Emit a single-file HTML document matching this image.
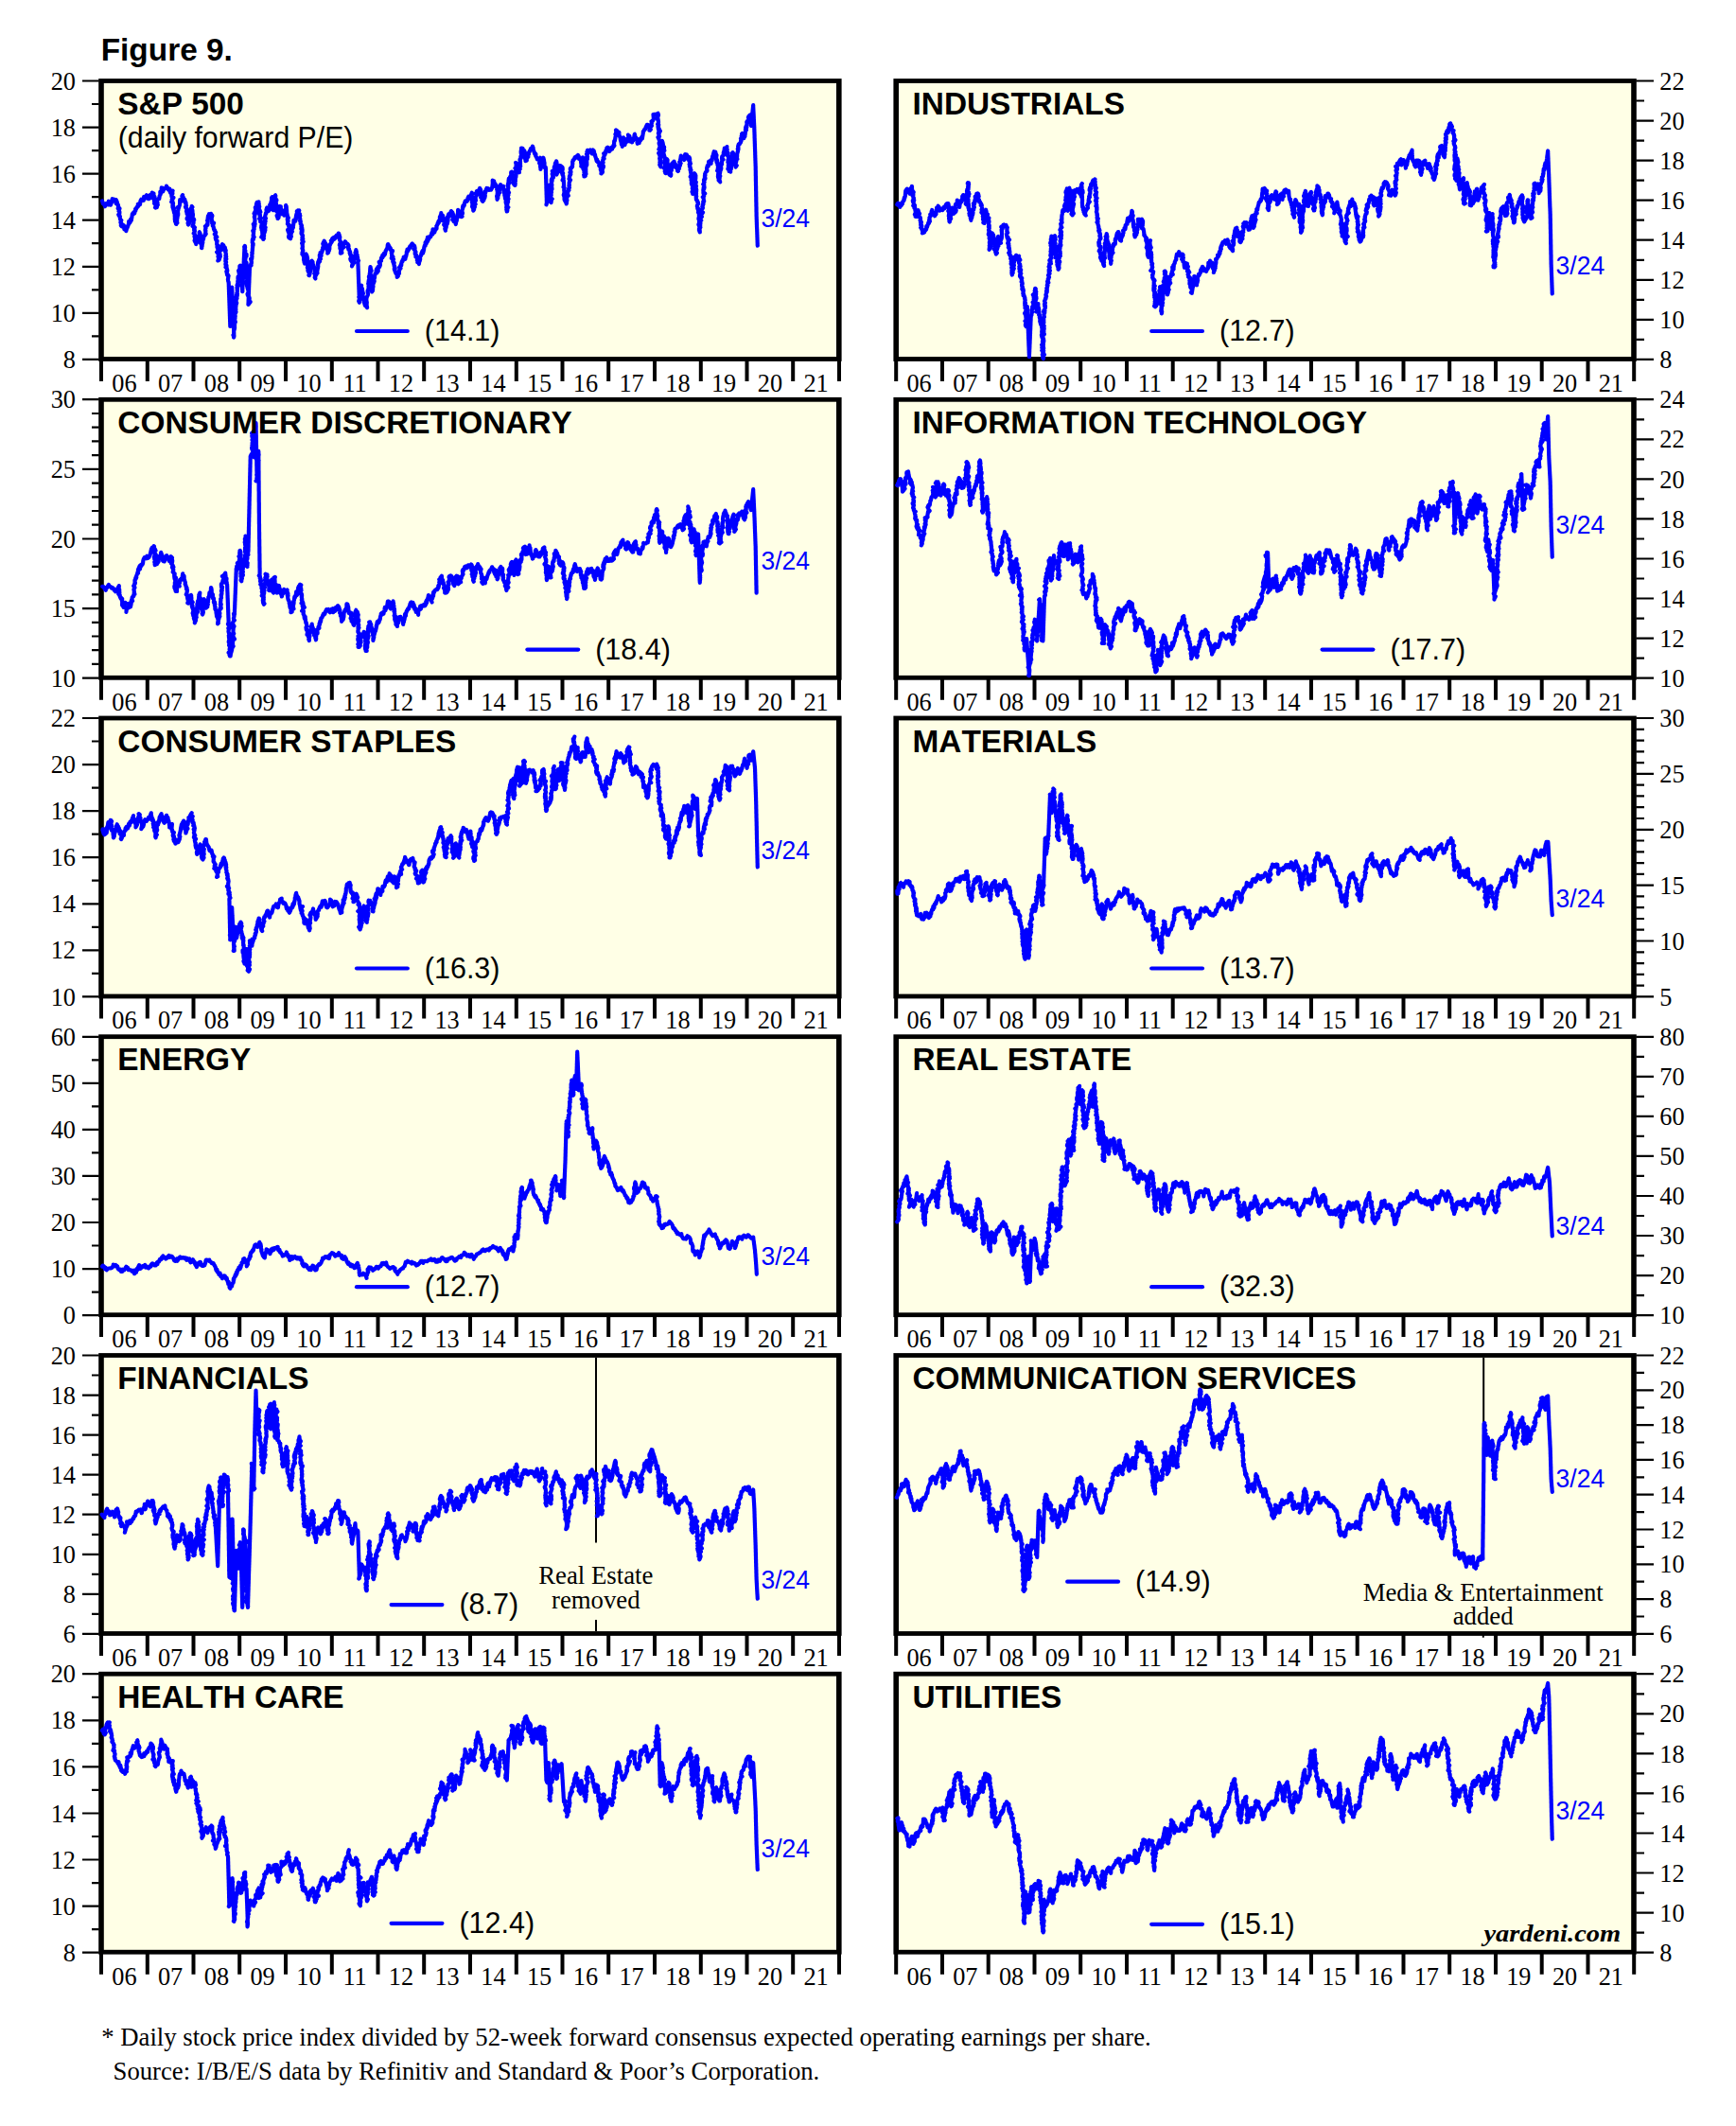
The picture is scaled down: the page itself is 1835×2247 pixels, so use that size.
<!DOCTYPE html>
<html lang="en"><head><meta charset="utf-8"><title>Figure 9. S&amp;P 500 Sectors Forward P/E</title>
<style>html,body{margin:0;padding:0;background:#fff}body{width:1835px;height:2247px;overflow:hidden}svg{display:block}.t{font-family:'Liberation Sans', Arial, Helvetica, sans-serif;font-weight:bold;font-size:33.4px;font-kerning:none;fill:#000}.s{font-family:'Liberation Sans', Arial, Helvetica, sans-serif;font-size:30.5px;fill:#000}.lg{font-family:'Liberation Sans', Arial, Helvetica, sans-serif;font-size:30.5px;fill:#000}.d{font-family:'Liberation Sans', Arial, Helvetica, sans-serif;font-size:27.5px;fill:#0000ff}.ax{font-family:'Liberation Serif', 'Times New Roman', Times, serif;font-size:26.3px;fill:#000}.an{font-family:'Liberation Serif', 'Times New Roman', Times, serif;font-size:26.75px;fill:#000}.ft{font-family:'Liberation Serif', 'Times New Roman', Times, serif;font-size:26.7px;fill:#000}.yd{font-family:'Liberation Serif', 'Times New Roman', Times, serif;font-size:25.3px;font-weight:bold;font-style:italic;fill:#000}.ln{fill:none;stroke:#0000ff;stroke-width:4.2;stroke-linejoin:round;stroke-linecap:round}</style></head><body>
<svg width="1835" height="2247" viewBox="0 0 1835 2247">
<rect x="0" y="0" width="1835" height="2247" fill="#ffffff"/>
<text class="t" x="106.7" y="63.7">Figure 9.</text>
<g id="panel1">
<rect x="104.2" y="83.1" width="785.4" height="298.8" fill="#000"/>
<rect x="109.8" y="87.9" width="774.2" height="289.2" fill="#ffffe6"/>
<path d="M87 379.9H104.7M97 355.4H104.7M87 330.8H104.7M97 306.3H104.7M87 281.8H104.7M97 257.2H104.7M87 232.7H104.7M97 208.2H104.7M87 183.6H104.7M97 159.1H104.7M87 134.6H104.7M97 110H104.7M87 85.5H104.7" stroke="#000" stroke-width="2.2" fill="none"/>
<text class="ax" x="80" y="389" text-anchor="end">8</text>
<text class="ax" x="80" y="339.9" text-anchor="end">10</text>
<text class="ax" x="80" y="290.9" text-anchor="end">12</text>
<text class="ax" x="80" y="241.8" text-anchor="end">14</text>
<text class="ax" x="80" y="192.7" text-anchor="end">16</text>
<text class="ax" x="80" y="143.7" text-anchor="end">18</text>
<text class="ax" x="80" y="94.6" text-anchor="end">20</text>
<path d="M107 380.9V402.9M155.8 380.9V402.9M204.5 380.9V402.9M253.2 380.9V402.9M302 380.9V402.9M350.8 380.9V402.9M399.5 380.9V402.9M448.2 380.9V402.9M497 380.9V402.9M545.8 380.9V402.9M594.5 380.9V402.9M643.2 380.9V402.9M692 380.9V402.9M740.8 380.9V402.9M789.5 380.9V402.9M838.2 380.9V402.9M887 380.9V402.9" stroke="#000" stroke-width="4" fill="none"/>
<text class="ax" x="131.4" y="413.9" text-anchor="middle">06</text>
<text class="ax" x="180.1" y="413.9" text-anchor="middle">07</text>
<text class="ax" x="228.9" y="413.9" text-anchor="middle">08</text>
<text class="ax" x="277.6" y="413.9" text-anchor="middle">09</text>
<text class="ax" x="326.4" y="413.9" text-anchor="middle">10</text>
<text class="ax" x="375.1" y="413.9" text-anchor="middle">11</text>
<text class="ax" x="423.9" y="413.9" text-anchor="middle">12</text>
<text class="ax" x="472.6" y="413.9" text-anchor="middle">13</text>
<text class="ax" x="521.4" y="413.9" text-anchor="middle">14</text>
<text class="ax" x="570.1" y="413.9" text-anchor="middle">15</text>
<text class="ax" x="618.9" y="413.9" text-anchor="middle">16</text>
<text class="ax" x="667.6" y="413.9" text-anchor="middle">17</text>
<text class="ax" x="716.4" y="413.9" text-anchor="middle">18</text>
<text class="ax" x="765.1" y="413.9" text-anchor="middle">19</text>
<text class="ax" x="813.9" y="413.9" text-anchor="middle">20</text>
<text class="ax" x="862.6" y="413.9" text-anchor="middle">21</text>
<path class="ln" d="M108 212.5l.3 .6 .5 2.1 .8 .1 .7 1.4 .7 1.5 .6-1.8 .6-1.1 .3 .3 1.6 .8 .7-3.7 .4 3.8 .9-.4 .9 .5 1-2.9 .7-3.5 1.4 .3 .7 .2 1.1 .7 0 1.5 .9 2.3-.1-4 1 2.1 .4 2.3 .5 1.5 .2-.8 .4 2.3-.5 1.6 1.8 .1-1 2.8 .4-.4 .5 1.4-.1 1.7-1 .9 .2 .2 .1 .9 1.2 .9-.2 .1 .3 1.5 .1 1.4 .8 .9 .5 .3-.9 2 .7 1.8 .6-.2-.5 .1-.4 1.7 .9 1 .8-.8 1.3-.4 .6 4.4 1-2.7 .9 4.4 .8-3 .4-.5 .5-1.3 .8-2.2 .2-.1 .2-3.3 1.1 1.6 .4-.8 .4-2.8 .4-.3 .3 1.5 .7-4.1 .3-1.8 0-.9 .6 .1 0-.4 .9-1.4 .8 1.1 .2-.6 .2-1.5 .8-.9-.2-1.7 1-.5-.2 .5 .4-1.4 .7-1 .2 .4 .8-.7 .1-1.3-.3-1.2 .9 1.5 1.2-1.9 .1 .9 .5-4 .8-1.4 .7 .9 .7 .2 1.1 0 .4-4.1 1.1 1.7 1-.2 .7-3.1 .8 3.4 1.4 .6 .5-.7 .3-2.4 .8-1.1 .6 3.2 .7-2.9 .4-2 .6-.1-.2-.6 1.4 1.2 .2-.3-.1 1.2 .2 1.3 .8 .9-.8 1.4 1 .9-.2 .4-.6 .6 .3 2.1 1.1-.2-1.1 1.9 .4 .4 .4 .2 .9 2.1-.1 .8-.7 .8 .3 .3 .7-.4 .8-.1 .3-1.7 0 .6 .2-2 .5 .5-.9-1.1 .7-.9-1-2.3 1-1.4 0-.4 .9-.1 .4-.7 .4 .5 .4-3.2 1-1.5-.3-1-.1-1.6 1 .8 .4-3.9 0-1.3 .2 2.1 .6-1.9 .6 3.9 1.1-2.3 .6-.8 1.5-1 .7-1.8 .5 1.6 .4 0 .4 .4 .5 1.7-.1-.2 .6-.5 1 .1 0 2 .5 1.2 .4 1-.1-3 .9 .6 .3 1 1.3-.9-.7 .4 .4 1.7-1-1.7 1.1 2.6-1.2 1.1 .3 .4-.1 1.7 2 1.1-1 1.3-.7 .6 .5 .7 .2 1.6-1.2 .3 1.8 1.2 0 1-.6 1.5 .8 1-.7 .2 1.7 2-1.7-1.2 .7 1.8 .4 1.8 .6 .2 .3 1.7-.6-.1 1.2 2.1-.4-.8 0 1.5 0 1.1 .3 .6-.2 .7 0 2.5 .7 .3 .8-.9-1.2 2.4 1.3 .5-.5 2 .5 .4-.3-1.4 0-1.2 1.3 1.3-.7-2.8 .5-.3-.6-1.6 1-.6 0-1.6-.2-1.5 .5 .3 .3 0 0-2.2-.4-1.6 0-.3 .3-.4 .1-.3 .5-2.8-.7-.9 .8 1 1.2-3.7 .1-1.9 .1-3.4 .3 2.2 1.2-.4-.3-.7 .1-1.5 .7 .3 .4 .7 0-.8 .1-2.9 .4-1.9-.7 1.3 .7 .6 .8 1 .9 2.8-.2-1.1 .8 .4-.3 2.2 1.1 .2 .4 1.5-.3 .4 .3 .9 .4 1.3-1 1.1 .8 1.3-.4-.3 .9 .7 .5 1.7-.7 1.7-.1-.6 1.2 2.3-.6 .4 1 0-.3 1.6 .7 1.5-1.3 1.5 1-.4-.6 1.2-.4 .3 1.9 1.4-.7 1.8 .4-.2-.7 1.5 1 .8-.6 .7 .9-1.4-.3-.2 .3-.7 1.1-2.2-.8 .9 1.3-.8-.8-3.3 .4 .8 .2-1.6 .6-.3-.2-.1 .3-1.4-.9-2.4-.7-.3 1.8-1.1-.1-.8-.5 0 .1-2.1 .4-.5 1.3-1.1-.7-.9-.3 2.4-.5-.3 .7 1.7 .7 0 .2 1.5-.1 .9 .4 2 .1-.3 0 2.3-.5-.8-.1 2 .3-1.2-.1 2.2 1.3 1 .4 .9-.6 0-.2 .7 .2 2.3-.3 .7 .1 .6-.1 .1-.8 2.4 1.4 .5 1 1-.9 .6 .8 2.1-.7-.2 .7 1.4 .1 0-1.2 2 .8 .3 .9 2.6-.9 .2 .1 .8 .3-.6 .3 1.8-.2 1.3-.4 1.4 .6 .2 .1 1.4 .9 .5 0 1.7 .2-2.4 1.1 .4 .4-2.5 .7 .5-.6-1.9 0-.8 .9-.2-.5-.5 .1-.9 1.8-.7 .4-1-.2-1.5-.8-1.4 0 .5 0 1.9 .6 1 0 .4 .1 2 .6-.5-.6 2.9 .8 .9-.5-.1 .9 .8-.7 1.7 .2 .5 .8 1.8 .2 .3-.1 1.4 .3 1.4-.3-.1 .4-1.3 .2-1.1 0 .7 .1-1.9 .6-2-.2-.5 .1-1.8 .3 .1-.1-1.1 .8-1-.2-.4 .1-2.1 .7-.1 .8-.6 .3-2.2 .8 .6-.5-1.4 .2-2.1-.4-.3 0-.6 .3-1.6 .3-.5-.7-1.7 1-.2 .7-1.6 .3 .7 .5-.1 .1-1.9 .2-1.9-.2-.3-.4-.6 .4-.4 0-1.1 .5-3.7 .8 1.1 .2-3 .7 2.7 .9-.7 .4-2.2 1.4 2.4-.1-.8-.2 2.1-1.1 .9 .3-.1 .8 2.9-.2-.2 0 .5 .5 1.4 1.7 .7-2 .2 1.4 1.3-.7 1.5 .7 .6 .2 .8 .2 .8 0 .6 .6 1.9 .4-.4 .6 1.8 .7 1-.9 2.2-.5-.5 .9 1.1 .5 .6 1.1 1.3-1.6 .6 .4 1.9 .7 1.4 .8 .2-.2 1.2 0-.3-.2 1.3 0 1.2 0 .6 .9 .5-.6 1.6 0 .6 1.2 1.4-.5 .1 .2 1.1 .4 3 0-1.6-1.6 1.1 1 1.3 .7 .4 0 2.5-.4 .4 .4 .6 0 1.4 .8 1.4-.8 .1-.5 1 .8-.5 1-2.1-.8-.6 .8 .1 .7-1.4-.8-1.4 .6-.4-.1-.8-.5 0-.3-2.4 0-.5 1.4-.8-.8-1.3 1.3-1.8-.2 1 .5-1.4 .4-.9-.3-.2 .9-1.9-.2 1.2 .7 2.1 0-1.7 .8-.5 .6 4.6 .9-2.4 .2 1.5 .7 1.8-.6-.3-.6 .5 1 1.2 .2 2.5 .3-.1-.6 1.8 .8 .7-.3 .9-.6 1 .5 .8 .6 0-.9-.2-.2 2.7 .8 .7-.7 1.9 1 1.5-1-1 1.1 2.7-1 .4 .7 0 .7 1.8 .2 1.1 .2 .7-.2 .8-.8-.1 .3 .9 .5 2.9 .7-.6-.3 .9 1.1 .6-.4 1.4 0 1-.3 1.3 .3 1.9 .2 .5 .1 0 .2 1.3 0 .9 .1 1 0 .9 0 1 .1 .9 0 .9 0 1 .1 .9 0 1 0 .9 .1 .9 0 1 0 .9 .1 1 0 .9 0 .9 .1 1 0 .9 0 1 .1 .9 0 .9 0 1 .1 .9 0 1 0 .9 .1 .9 0 1 0 .9 .1 1 0 .9 0 .9 .1 1 0 .9 0 1 .1 .9 0 1 0 .9 .1 .9 0 1 0 .9 .1 1 0 .9 0 .9 .1 1 0 .9 0 1 .1 .9 0 .9 0 1 .1-1 0-.9 0-1 .1-.9 0-.9 .1-1 0-.9 .1-1 0-.9 0-.9 .1-1 0-.9 .1-1 0-.9 0-1 .1-.9 0-.9 .1-1 0-.9 .1-1 0-.9 0-1 .1-.9 0-.9 .1-1 0-.9 0-1 .1-.9 0-1 .1-.9 0-.9 .1-1 0-.9 0-1 .1-.9 0-1 .1-.9 0-.9 .1-1 0-.9 0-1 .1-.9 0-1 .1-.9 0 .9 0 1 .1 .9 0 1 .1 .9 0 1 0 .9 .1 1 0 .9 .1 1 0 .9 .1 1 0 .9 0 1 .1 .9 0 .9 .1 1 0 .9 0 1 .1 .9 0 1 .1 .9 0 1 0 .9 .1 1 0 .9 .1 1 0 .9 .1 .9 0 1 0 .9 .1 1 0 .9 .1 1 0 .9 0 1 .1 .9 0 1 .1 .9 0 1 0 .9 .1 .9 0 1 .1 .9 0 1 .1 .9 0 1 0 .9 .1 1 0 .9 .1 1 0 .9 0 1 .1 .9 0 1-.3 .9 .1-.7-.7-1.6 .1 0 .3-.5 .4-2-.2-.8 .2-1.1 .3-1.4 .2-.8 .2-.2 .1-2-.6-1.3-.2-.2 .7 .2 .3-2.3-.3-1.7 .9 .1-.2-.3-.4-1-.1-2.2 .3-.5-.1-.7 .3-1.4-.5-.5 .1-1.3 .7-1.4-.1-1.8-.3-.3 .9 .8-.7-1.4 .6-1.1-.6-1.9 .4 .1 .1-.5 .2-2.6 .7-1.9-1.2 0-.6-.7 1.4-.4-.6-2.2 .6-.2-.1 0 .8-1.5-.9-1.3 1.1-1.4-.8 0 .6-2.4 .4 .6-.5-1 .2 .1 .3-2.6-.3-1.1 .4-.4-.3-1.6-.2-.1 .6-1.4-.5-1.1 .2 .3-.2-.5 .7-2 .9-1.5-.8-1.3-.1 1.2 .6-1.9-.4-1.7 .1-1.9 .8-.4 .6-.7-.2-2 0 .1 .1 .2-.8-3.4 .7 .4-.1-1.2 .6-.3 .1-2.6 .7-1.7-.7 .8 .1-.2-.1-.2 .2 2.9 .2-.9 .8 .6-.3 2.3-1.2 .4 1.6 .8-.3 .6 .4 1.2-.7-.1 1.4 2.7 .6 0-1.4 1.8 .1-.4 .1 1.4 .9 1.8-.2 .2 .7 1.8-1.2 0 .6 .9 .3 1.2-1.2 1.4 1.3 1.3-.2-.1 0 1 0 .6 .2 1.5 .3 1.6-.2 .5 .1-.9 0-1 .1-.9 0-1 0-.9 .1-1 0-.9 .1-1 0-.9 .1-1 0-.9 .1-1 0-.9 .1-1 0-.9 0-1 .1-.9 0-1 .1-.9 0-1 .1-.9 0-1 .1-.9 0-1 .1-.9 0-1 0-.9 .1-1 0-.9 .1-1 0-.9 .1-.9 0-1 .1-.9 0-1 0-.9 .1-1 0-.9 .1-1 0-.9 .1-1 0-.9 .1-1 0-.9 .1-1 0-.9 0-1 .1-.9 0-1 .1-.9 .3-.7-.6 .9 .8-.1 .1 .9-.7 2.6 .9 .4 .1 1-.7 .1 0 1.5-.1 .4 2 1.2-.3 2.2 .2-.3-1.2 1.4 .2 1.7-.9-.1-.1 .8 1 1.6-.1 .5 1.1 .9-.1 .3 .5 2.2-1.1 1.1 .5 0-.7 1.6 1-.2-.8 2.4 .3 .9-.5 .2 1.4 .3-1.2 1.2 .6 1.9 .3 1.6-.3-.1 .6 1.6-.1 1.2-.3-.2 .3 .6 .4 1.3-.5 2.4 1.1 .5-.4 1.3-1.3-.6 1.3 1.9-.6 .5 .6 1.9-.1 .3 .4 .8 0 1.3 1.3 .2-.6 2.5-.3 .9 .5 .6-.8 1.4-.4-.6 .4 1.5 1.3 1.3-.4-.1 .9 1.5-.2 2.2-.2 .6-.4 1.6 1.8-.4-1.3 1.5-.7 1.3-.3 .1 .1-.9 0-.9 .1-1 0-.9 0-1 .1-.9 0-1 0-.9 .1-.9 0-1 0-.9 .1-1 0-.9 .1-1 0-.9 0-.9 .1-1 0-.9 0-1 .1-.9 0-1 0-.9 .1-.9 0-1 .1-.9 0-1 0-.9 .1-1 0-.9 0-.9 .1-1 0-.9 .1-1 0-.9 0-1 .1-.9 0-.9 0-1 .1-.9 0-1 0-.9 .1-1 0-.9 1.6-1-.3-1.7-.1 .6 .7-1.5-.2-1.7 .2 .2-.7-2.1 1-.7-1.1 .2 .8 0 .6-2.2-.1-.5-.1-1.5 .4-2-.4-.8 .2-.2 .2-.8 .1-.5 .1-2.7 0 .9 .1-1.4 .1-.3-.1-2.6 .5 .4 .1-1.9 0-.2-.5-.5-.4-.6 .1-1.2 0-1.8 1-.3-.3-1.6 .1 .1 1-.9-1-1.9 .4-1.4 0-1.1 .1 0-.8-2.3 .9 .5-.2-1.8 .7-.5-.4-2.2 .2 .6 .7-1.6-.7-.4-.7-1.5 1.8 0-.3-1.5-.2-.4 .4-1.4-.1-.9 0-2-.2-.6-.2-.2-.2-.7 .7-1.9-.9-1.7 .9 .1 .7-.4-1.1-.8 1.1-2.2 .2 0-.4-2.4-.2-.8 .2 1.1 .4-1.9 .7-.5-.1-1.3-.1-.4 .7-2.4 .4 1.9 1.4-2.3-1.2 .8 1.6 1.3-.2 1.5-.1 .4 .7 1.1-.8 .9 .4 1.3-.4 .9 1 .2 .9 2.2-1.4-.5-.1 1.4 .5 1.8 .6 .2-.1 1.8-.2-.8 .7 1.9 .4 .9-1.5 .4 1 1.6 0 1.8 .6-.8 1.4 2.3-.6-.2 .7 1.2-.2 1.4-.8-.2-.2 2.4 1.5 1.4-1.2-1.1 .6 .7-.5 1.2 .5 1.1 .8 2.3-.6-.4 1.1 .9-1 1.3 .3 .3-1.3 2.3 1.7 .5 .9 1-.6 .8-.3-1.2 .4-.6 .7-2-.9 0 .8 .7-.1-2.2 .2-.6 .5-1.2 .4-1.3 .4-1.5-1.1-.8 0-1.6 .8 0 .5-.2-1.6-1 .9-2 .4-1.2-.8-.7 .3-1.1 .8-.6-.5-.1-.2-1 1.1-1.9-1.6-.5 .4-.6 .2-.3 1.1-4.5 .4 .5 .2-2.5-.2-1.2 .7-2.2 .3 2.3 .3-1 .5 .9 .6 .3 .3 .7-.1-2.1 .1-.6 1 1.5 .4-5.2-.2 1.7-.2-1.6 .9-1 .5-2.1 .5-1.4-.1-.3 .2-2.8 .4 .5 .2-1.2 .7 1.1-1.5 0 .9 1.3 .6 .5-1.1 1.1 1.6 1.8-.3-.2 .1 1.2-.2 1-.2 2.3 .5 .8 .2 0 .6 1.4-.5 .3-.4 1.5 .5-.2 .5-.3 .4-.1-.7-2.3-.4-.2 1-.3 .4-1.5-.3-.9 .7-2.3-.3-.1 .3 0-.4-2.2 .2-1.5-.2 .2-.3-.8 .8-1.4 .3-1.3-.2-.3-.1-.5 .1 3 .3 .8-1 .4 1.9 .8 .1 .5-.6 .7-.1 1 .2 2.3 .1 1.9-.9-.2 1.1-.5 .9 2.1 .3 1.9 .2 .2-2.1 1.2 .7 .9 .6 .2 .6 .3 0 .7 .4 2 .5 1.3-1.7 .2 .4 1.1 1.4 1.1-.7 .4-.1 .5 1.1-2.3-.9 0 .6-1.8-.5 .3 1.3-2.2-.1-.3 .4-1.1 .6-1.3-.7-1-.3-.5 .6-.3-.3-2.4 .6 .1 .8 .1-.2 4.4 .5-2.1 .4 1.4 .2 .9 .6 3.5 .5-.3 .4-2.4 .3 2.6 .8-1.5 .3 2.9 .3-2 .1-3.4 .2 .3 .5-.7 .9-3.2-.5-1.8-.1 1.4 .7-.2-.2 1.3 .3-.4 0 2.8 .2-.2 .1 1.2 0 1.5 .2 2.1 .1-.3 .2 .5 .1 1.3 1.1 2.4-.4 .1-.5 0-.1 2 .3 .6 0 1.7 .5-1.4-.7 3.3 1.8 1.1-.5-.2 .6 .5-.6 .8 .4 2 .4 .5-1.1 2-.8-.4 .6 2 .7-.3 0 2.1 .1 .4 .7 1.3-1.1 1.2 1.1 .6-.9 .9 1.8 1.1-.5-1.9 1.3-.4-1-1.5 .7-.5-.2 .4 .5-1.9 1-2.1 .1 .3-1-.9-.4-1.3 1.9-1.2 .4-1-.9-.2-.1-1 1.2-1-.1 .2 .3-1.6 .1-1.3 .1-2.5 .5 .5 .2 0 1.1 .4-.3-.6 .8-3.7 0 3 .2-4.3 .6-2.2 .6-.4-.4-2.1 .7 .2 .4-1.3 0 .5 .3 0 1.1-.3-1.2 1.8 .4 0 .6 1.2 .3 1.2 .5-.6-.5 2.7 .9-.8-.7 1.5 .7 1.9 0 .4-.2 1.7 .1-.3 .6 .7-.2 1.7 .1 1.1 .5 .2 .8 1.8-.6 1 .9 1.5-1 .6 .3 .1 1 .9-.1 2.6-.7-1.5-.3 2.8 .6 1.2 .5-.1 .5 1.5-.5-.5 .1 1.8-.3 .7 .8 .8 0 1.2-.9 .2 1.4 1.9-1.6 1.7 .2-.5 .6 .9-.2 1.1 .2 2.4-.3 1.2-.2 .2 .3 .5 .2 .8 .4 .9-.3 1.8-.4 .5 .4 0-.6 1.7 .6 .5 .6 .7 .6 2.9 .7-.7-.7 1.4-.2 1 1 1.3-.6-.1 .2 1.6 .4 1.3 .1-2.1 .9 .5 .1-1.9 .2-.1-.2-1.6 .2-1.5 .7-.2 .2-1.1 0-.8-.8-1.2 .6 1.2 .6 1.2 .4 2 .1 .9-.2 .2-.5 1.4 .5-.8 .1 2.1-.6 1.2 .7 1.2-.5 .5 .9 .4-.2 .9-.4 1.8 1.4 .4-.6 2-.3 .5 .7 .8-.4 .4 1.1 1.2 .2 1.2-.6 1.6 .5 .4-.2-.1 0 .1 .2-.4 .5-.8 .5-2.9-.4 .1-.3-.9 .9-.2-.2-1.3 0-.2-.5-.9 1.3-3.4 .1-.7-.4 .5 .1-1.1-.1-2.2 .4-.5 .7 1.5 .2-2.1 .8 1 .1 1.9 .9 3.2 .1-.8-.7 2 1-1.2 0 1.5 .9 1.2-.2-.2-.2 2.1 1.1-.5-.4 2.3-.8 .8 .7 .8 .5 1.1-.6 .8 .2 .6-.4 1 .7 1.2-.2-1.5 0-2 .1 .3 .9-.5-.2-2 .6 .6 .9-.8-.6-2.1 .6-.4 0-1-.1-.9 .3-1.1 .3 .5 .3-2.5-.4-1.8 .1-.7 .3-2 .5 1.7 0-2.6 1.3 .5-.7-2.2 1.2-.2 .3-.2-.6-2.4-.3 .8-.2-2.3 .7-1.1 1.1 1.6-1-3.2 .9 1.2 .8-1.7 .4-1.2-.2-1 1-.6-.3-2.1 .9-.7-.5 .4 .5-.1-.4-2.8-.4-.7 1.4-3 .9 1.8-.1 1.5 .3-.6 .8 .8-.2-.4 .4 2.2 .1 2.2 .8 1.1-.1-.6 .3 1 .6 2.9-.2 1.1 .8-.9-.4-.5 1.1-1.3-.3-1.5 .4 .1 .4-.3 0-1.9-.4-2.2 .8 0-.2 .6 .8-2-.1-.1 1.6-2.2-.9-1.1 1 .5 0-2 .5-1 1.5 .2-.1 1.1 .1-2.4 1.3 1.3 1.2-1.6-.7-.3 1.1-1.6 .8 .8 1.2-2.8 .3 .1-.3 1.3 .9 .3-.2 1-.2 2.1 1-.9-.2 1.6-.1 1.6 .9 1.6 0 1.3-.9 1.7 .6 .9-.8-.2 1.6 1-.9 .4-.1 2.3 1.6-1.2-.8 2.3 .6-.2-.9 4.1 .3-2.8 1.2 2.3-.6-2.8 .8-1 .1-1.9 .4-1.7 0 .7 .5-.6 .7 1.4-.4-2.4 1.1-1.9-.2-.4 1-1.3 .5 .5 .9 1.4 1 .6 .5 .3 .7 1 .1 1.5-1 .6 .7 1.2 .7 .6-.5 .6 .6 .2 1.2 3.2-.1-.8-.5 1 .7 2 .7 1.6-.2-1.8 .4 2 .1 .2-1 2.4 2 1.2-1.6 .3 .6 .8 1 1.1 .6 .5 .1 1 .1 .8-1.1 2 .4-1.9 1.1-1.1 .3-1.1 .5 .4-.9-2.9 .9-.7-.4 1.1 .2-2.5 .7-1.7-.7 .3 1.1-1.1 .4-1.2 .5-.4 0-2-.6 .6 .6-1.4 .2-1.5 .4 1.3 .2 1.2-.6 .7 .7 1.6 .6 .6-.5-.9 0 2 .9 1.1 .2 2.1 .2 .9 .6 .7-.7 .4 .1 .9 0 1 0 .9 .1 1 0 .9 .1 1 0 .9 0 1 .1 .9 0 1 0 .9 .1 1 0 .9 0 1 .1 .9 0 1 0 .9 .1 1 0 .9 0 1 .1 .9 0 1 0 .9 .1 1 0 .9 .1 1 0 .9 0 1 .1 1 0 .9 0 1 .1 .9 0 1 0 .9 .1 1 0 .9 0 1 .1 .9 0 1 0 .9 .1 1 0 .9 0 1 .1 .9 0 1 0 1.1-.2-.6-.5-1 .5-1.5 1.2-.5-.3-.5-.7-1.4-.5-.4 .8-.8 0-.8-.2-2.2 .3-.8 .6 .7 .4-2.7 0 .1-.3-1.3 .9-.1-.8-2 .2-.6 .5-.8 .3-.9-.7 .5 .4 1.5 .1 .3 .9 .8 .3 1.7-.4 .2 .3 1 .4 .7 .5 1.8-.1 0-.6 1.3 .6 1.9-.3 .1 1.3 1.6-.9-.5 .3 .8 .4 2.8 0 .9 1 2.1-.1-.9-.1 1.1 .5 1.5 .1 .1 .5 .1 1.6 2-.4-2.1-.3-.9 .3-.9 0-.5-.4-1.4 .5 .5-.7-3.2 .3 .7-.1-.5 .3-2.7 .5-.8 .7-1.4 .1-.5 .2-1.2-.3-.2-.1 0-.1-3 .1 .1 1.2-.4-.5-1 .2-2-.1-1.6 .3 .5-.1-1.6 .3 .3-.8-1.6 .4-.4-.1-1.3 .3-1.8 .5-1.1-.1-2.6 .5 1.2-.8-.9 .3-1.3 .3-.5 .6-1.9 .4-.5-.1-.7 .9-1.4 0-.9-.2-1.1-.2-.3-.4-2.2-.3 2.7 0-.3 0 2.2 1.4-.4-1.5 .5 .3 1-.6 1.3 1 .8 .1 1.3 .2 0 .7 1.9-.5-.2 0 2.4 .8 .9-.8 .4 .3 3.1 .2-1.1-.7 1.8 .8 .6-.5 .2 .6 2.1 1.2-.4-1.2 2 1.1 .8-.4 .2 .3 1.4-.9 1.1 .6-1.4 .2-1.9-.7-.2 .7-1.1-.7-.3 1.3-.4-.4-2.8 .6-.5 0-.3 .6-1 .2-1.1-1.1-.8 1.3 .7-.5-1.4 .9-2.8-.4-.9 .2 .9 .6-3.6 1-.7 .2-3.4 .8 3.1 .1-3-.4 2-.1-3.1 1.6 2.4 0-2.2-.9-1.1 1-1.5 1.3 .4 .4-1 .4-1.4-.1-1.4-.1 1.4-1-3 1.3-.6 1-.6-.3-1.3 .6-1.4-.2-.6 .7-.3 .6-2.5 0 2.7 .7-1.8 .4-1.7 .4-1 .4 2 .6-2.5-.6 2.2 .6-.8 .8-3.7 .6-.8 .4-1 .8-1.1 .3-3.5 .5 .8-.1-1.3 .7 1.3 .6 1.3-.5-.2 1.6 1.5 .3 .9-.2 1.1 1.4 1.3 1-.1-1.1 .1 .6 1.1-.9 .7 .5 1.6-.1 1.4 .5 1.9 .9-.5-.8 .9-.9 .5 2.2 1.2-.8 1.9 .3 1.1 1.2 .7-.5 1.1 .2 .1 .1 1.4 .3 1.3 .1-.8 .8 2.9-.9-.1 .7 1-.7 .1 .9 1.7-.1 .3 1.1 2.5 .3 .3 .5-1.2 .4-.2-.2 4.6 1.1-.9-.2-1.4 1.3-1.4-.9 .5 .8-2 .1-.5-.1-.3 .5-1.7 .6-1.8 .6 .3-1.4-1 1.3-1.6 .3-1.3 .5 1 .2-2.8 .5-1.8 .7 .1 0-1.6 .8-.4 .3-2.5 .4-.1 .7 .9 .6 1.3 .2-3-.1 1.8 .6-1.9 0 .5 .7-3.2 0-1.9 .6 .2 .1-2.8 .4 2.2 .7-1.8 0 .5 .9-1.7 .3-1.2 .5-1.1 .5 1.2 .5-2.1 .9-1.5 .5-.5 .7 .8 .5 1.1 .3-.3 .9 .7 .5 2.6-1.1 1.1 1.2 1-.1 .5 .9 1.4-.8 .1 0 2 1.3 .9 .2 .8-.2 1.1-.6 .1 1.1 .2 .8 2.9-.4 .4 1 .4-.6 2 .9-.1 .7 1.8 .1-1.1 .2-1 .4-1.5 .3-.1-.1-1.3 .4-.2-.3-1.5 0-1.2 .8-.3 .8-2.1 .4-.6 .1-1.2-.7 1.2 .7-1.6 .5-1.2 .6 2.3 .4-2 0 .6 .6-2.7 .2-2 .6-2.2 .7 .4 0-3.5 1 1.4 .5-2 .1-2.2 .3 2.5 .6-1.2-.2-3.8 .7 3.1 .2-3.4 1 1.2 .5-1.3 1-.3 0-1.1 .6-1 .5-2.2 .9 1.8 .2-5.4 .2 2.6 1.6 .6 .7-3.3 .4 .8 .4-1.4 .7 .1 0-2.4-.2-.4 .7-.7 0-.3 .9-1.4-.2-.6 1.1-.6-.4-1.1 1-1.6 1.1 .5-.5-.7-.1-3.3 1.3-.2-.8 .3 .4-1.9 .8 1-.3-3.1 0 1.3 .3 .5 0 3.5 .7-.2 .3-.2-.2-.1 .7-2.3 .4 5.6 0-1 .3 .2 .9 1.4-.1 1.5-.1 .7-.3 1.5 .7 .7 1 1.6-.3-.2 .7 1.8-.8 1-.2-.7 .6 1.9-.2-.9 .3-2 0-.6 .6 .2 .2-1.6-.9-.3-.3-1.8 2-1.7 .2 1.6 .8-3.9-.5-.4 .4-.9-1.2-.9 1.3-.2-.9-.4 .9-1.7 .6-1.8 1.4 1.8 .3-2.3 .9-2.8 1.6 1.6-.6 1.1 1.3 .6 .3 1.9-.4 .3 .1 1.4-.8 2.3 .6-.7 .4 .4 .2 2 1.4 0-.6 .5 1.4 .3 0 2.3 .3-1.4-.1-.5 .6-1.3 .4-1.1-.2-1.1 .2-.1 .1-1.8 0 1.3 .7-2.3 .5-.3-.6-.8 .4-2.7 .5 .3-.4-3.5 0 3.2 1.1-.3 0 .9 .6 2.1 .5 .7 .8 .2-.1 .4 .8 .1 .7-.4-.7-1.4 .2-1 .9-.6 0-1-1-.8 .5-1.3 .3-1.1 .5-1.5-.2-.5 .4-2.1 .8 .6 .5-.8 .1-1.1 .2-1.3 .8-2.5 .6 .2 .3 0 .8 .3 .9-1.5 0-1.4 .2-.8 .7-1.4 .3 1.6 .9-1.7-.1 .6 .2 1.8 .5-1.8 1.7-4.5-.2 2.1 .3-.1-.4 1.9 .2-.5-.6 1 .9 1.6-.5 1.1 .6 1.2-.3 1.7 1.1 .8-.4 0-.2 1.9-.2 2.2 .2-.4 .7 2.3 .2-.1 .4-.3 .5 1.2-.8 1.3-.1-.5 .8-.7 .4-2.1-.5-1.1 1 .4-.5-1.3 1.2-1.5-1.1-.7 .9-2.1 .1-.4 0-.7 .4-.2-.4-.1 .3-1.6-.4-1.1 .3-.9 1.2-1.7 1.1-.7-.5-.7-1.8-.5 2.1-1.2-.8-1.2 1 1.8 .9-1.9 .4-1.1 .7-1.1 .1-.8 .2 .3 .8 1.3-.5 .5 .4 1.8 .1 1.4 .4-.5-.1 1.2 .2 .8 .3 .9-.8 2 1.1 .1 .7 .4 .2 .6-.8 1.9 .9 1.3-.2-2.5 .5 1.7 .8-.4 .2-2 .8-.4 .5-2.4-.5-4.4 .9 1.1 .7-3.4 .5-1.2 .8 1.2 .3-1.1 .8 1.6 .7 .1 .2-1.1 .7 .9 .6-.3 .6 .3 .8-1.5 .5-2.2 .4-3.1-.1-3.2 .8 3.9 .6-3.3 .4 2.1 .6 3.5 .2-2.7 .8 1.3 .9 1 .5 1.5 .1 1.8-.2-.4-.2 1 .8 1.2-.3 1 .1 .3 .1 .3-.3 2.9 0 .1 .5 .5-1 .6 .4 2.2 .9-.3-.9 1.7 .1-2.4 1.2-1.9-.6 .3 .5-1.1 .6-1.2 .7-.7-.5-.6 .3-1.6 .3 0 0-1.9 .1-.8 0-1.3 1.1 .6-.2-3.1 .3 1.1 .7 1.1 .7-.4 .7 .1 .6-.2 .5 6.8 .2-3.5-.1 .8 1-.1 .1 2.8-.6-.2 .6 .5 1 1.1-1.5 1.1 .5 2 .1 .9 .1 .9 .6 .3 .2 1.5 0-.2-.1 2.6-.1-.8 .3 2 .1-.2 .9 2.7-.5-.1-.2 1.8 .6 .9-.5 1.2 .8 1.7-.4 .1 .7-1.3-.3-1.4 1.2-1.6-.9 .1-.7-.1 .4-2.3 .3-1-.1-.3 .2-1.5 .6-.9 0 .4-1.1-2.1 .1-1.5 1.5 .4-1.1-1.7 .4-.8-.2-1.5 .7-.3-1.3-.6 1.9-1.9-1-1.2 .2-.6-.7-.6 .1-.6 .5-1.4 .3-.2-.1-1.2-.7-1.6 .8-.1-.3-.9 .1-1.8 .3 .8 .1-3-.1 .1 .4-2.7 .5 5.1 .4-5.1 .1 .7 .2-2.1 .8-1.1 .4 .1-.1-4.1 .5 1.1 .2-1.5 .8 .5-1.4 1.2 .7-.2 .4 2.3 .5 .2 .1 .6 .3 2.3 0 .2-.1 .6 .5 .6 .5 .9-.8 2.6 .6 .7 .8-.6 .1 1.8 .5 .6-.9-.6 1.2-.8 0-.6-1-.9 1.2-1.7-.4-1 .1 .2 .2-1.7 0 .9-1.2-3 1.7 .6 .2-2.1-.1-1.2 .2-.5 .9-1.4-.6 0-.7-1.4 .3-1.7 .2 .4-1.2-1.6 1.4-1.4 .4-1.6-.8-.2 .6-.5-1-2.2 1.8 1.2-.4 .9-.3-.3-.4 .6 1.1 1.7-.1 .4-.3 2 2.1-.3-.3 1.9 0-1.3 .6 3.6-.2-1.4 .1-1.9 .9-.4-1-.9 1-1.3 .5-.8-.9-1.6 .7-.3 0-1-.1-1 0-1.7 .1 1-.5-2.1 .2-.7 .6-.2 .3-.7-.2-1.8 .4-.8 .4-1.7-.5-1.1 .1-.8-.2-.6 1.2-.8-1-.8 .7-1.7 1-.4-1.5-.2 1.1 1.6 1 1 1.2 .2-1.5 .8 1.9 .2-.2-.1-.3 2.4 0 .7 0 1.2 1.2-.1-1 1.5 .6 1.3 .3 1 .1 .3 .1 1.5 1-1.3 .3 .7-.1-1.7 1.6-2-1.1-.3 .2-1.4 1.2-1 .2 .2-1.1-.8 1.5-1.4 .2-.2 .3-1.1 .9-1.1 .3-1.4 1.4-1 .7-1.7 .7 2-.2 1.8 .8 1.1 .4 1.7 .7 1.9 .3-1 .7 .8-.2 1.8 1.3 2.4 .4 1.4 1.5 .3 1.4-1.4 .3-.6-.3 1.3 .1 1.1-.6 .6 .3 2.2-.5 .3 .1 0 .8 1.8 .3 2.3-.3-.1 .6-.3-.2 2.9 .5-3-.1-.3 1.2 .5 .4-1.5-1.3-1.3 1.4-.5-.1-1.1 .2-1.5 .7-3.5 .6 2.1 .5 3.5 .1-.5 0 5.1 .5-.7 0 1.2 .8 .3 0-.9 0 .9 .1 1 0 .9 0 1 0 1 .1 .9 0 1 0 .9 .1 1 0 .9 0 1 0 .9 .1 1 0 .9 0 1 0 1 .1 .9 0 1 0 .9 .1 1 0 .9 0 1 0 .9 .1 1 0 1 0 .9 .1 1 0 .9 0 1 0 .9 .1 1 0 .9 0 1 .1 1 0 .9 0 1 0 .9 .1 1 0 .9 0 1-.4 1.3 .6-2.8 .2-.1 .3 .3 .4-1.8-.2-1.3-.1-.1-.1-1.4 0-.8 .6-1.6-.7 .1 .9-.9-.5-.8-.4-1.6 1.3-1.2-.3-1.3-.4-.5 1.1 .3-.2-1.9 .3-.2-.4-1.7-.3 0 1.4-1.6-1 1.1 0 .6 .1 .4-1.2 1.2 1.5 .8 .1 1.8-1.4 .6 1.8 1 .4 .3 0 1 0 .9 0 2.2 1-.6-.8 2.3 .5 1.5 0 .4-.4 2 .8 .1 .2 1.1 0-.2 .2-1.8-.1-.8 1-1.1-1.4-.1-.5-2.3-.1-.3 1-1.2-.4-1.7-.2-.6 .9-.5-.3-1.7-.3-1.3 .8 0 .3-.6-.1-1.1-.3-1.1 .3-2.6-.4 .1 .2-.7-.2-.3-.1-2-.2-1.1 .8 .5 .2-1.6-.8-.3 1.3-2.4 .8 .1-.8-1.6 .2-.1-.7-1.8 .7 0 0-.9-.2-1.4-.4-.7 2.4-1-.4-2 .2 .3-.2-1.9 .5 .2 .1-1 .7-.3-.3-2 .4-1.3 .2 1.1 1-1.5-.3-1.1-.3 1.5 .7 .1-.8 1.4 .6 .2-.2 .7-.4 1.3-.3-.1 0 1.3 1.5 1.3 .1 1-.6 .5 .6 2-.7 .2 .2 .7-.1 2.1 .7-1.8 .5-1-.1-.2 .7-2.3 0-.1-.3-.5 1.1-1.4 1-1.3-1-1.1 .8 1.9 .7-1.6 1.1 .9 1 1 0 1.2 .1-.2 0 1.5-.7 .3-.7 1.8 .9 1.3 1 .1-.4 .1-.4 1.2 .8 1.3 .3 1.9-.5 2.2 .6-1.1-1 1.7 .3-.2 .9 .5 .1 2.5 0-.3 .1 1.7 0 1.1 .1 .8-.6 1.2 1.2 1.1-.2 .5-.3 1.7 .3 .6-.1 2 .7-.9-1 2.1 .4 .6-.7 .6 .7 .7-.3 .5 .3 .4 .1 3.5 1 1.9 .2-1.2 .9 3.6 .3-1-.3-1 .4-1.3 .3-.2-.3-1.9 .1-.5 .1-2.3 .6 .2 .3-.4 .6-.2-1-1.8 .2-.7 .5-2.7 .9-.6-.2 0-.1-1.5 .6-.9 0-1.1 .2 .7-.5-1.9 .5-.6-.3-1.1 .1-2.1 .1 .2 1.2-2.5-.5 .5-1-1.5 .4-1.2 .2-1.2-.2-.5 .4-.9 0 .5 1-1.8-.7-1.4-.2-.4 1.1-.4-.7-3.2 .1 1.2-.1-1.8 1.8-1.2-.3-.4 .8-.6-.2-1.4 0 .1 .4-1.3-.2-2.2 .1-.4 .7-1.2-.1 .7-.1-1 .6-.2 .7-.9 .7-1.9 .5-.2 .1 1.2 .9-1.9 .3-.1 .6 1.1 .9-2.4 .5 2 .1-1.1 .6 2.4-.1 .8 1-1.1 .5 1.8 .2 .4 .3 2.4 .5 3.3-.3 1 1.6-2 .4-1.2-.2-1.1 .1 .2-.1-2.6-.1 .6 .1-1.2-.1-1 0-1.2 0 .8 1.5 .7-.7 .6-.1 1.6 .8 1.2-.3 .2-.8 2.5 .7-.7-.5 1.5 .2-.5-.5 2.8 .3 .7-.2 .7 1.5 2.7-.1-1-.4 2 1-.4-.7 .7 .1 2.7 .1-.4-.4 1.8 .6 0-.9-1.5 1.6 .8-.4-1.5 1.1-.4-.5-2.6 .3 .2-.2-1.7 0 .5 .2-1.2-.8-2.5 .9 .3-.1-1.2 1-1.2 0-1.8-.5 .5 .5-1.1-.2-1.7 .2-.9-.3-.5 .9-1.1-.6-.6-.3-1 1-.4-.5-2.1 .5-1.3-1 .5 1.5-.9-1.1-1.5 .6-1.8 .6 1.5 .7-.1 .9-.6 .8-1.2 .3 2 1.4 .1 .2 2 .9-4 1 1.2-.1 1.5 .4-.2 .4 2.9 .5-.5 .2 1.9-.2-1 .9 2.8 .8 3.1 .4-1.7 0 .9 .8 1 .7 .6-.5 .6 1.5 .6 1 2.6-1.4 .2 1.5 1.6 .4 .7-.1-.8-.2 2.8 .1 .3 1.1-.4 .8 2.5-.8 .5-.5 1.2 1.5-1.9-.4 1.2-1.1-1.2 .4-.9 1.3-2.3 0-1 .5-.4-.6-.7 .8-.4-.5-1-.5-1.2 0-1 .7-.9-.4-1.1-.1-1.1 1-1.4 .5-.4-1-.7 .8-.9 .2-1.8 .8-.8-1.2-1.2 1.2-.8 1 0 0-.7 .7-2.2-.7 .4 1.4-1.2 .4-.6-.4-1.2-.5 .6 .2 .9 1-1.6 .4 .7 .7 1.1 .6 2.3 .9-1.2-.2-.4 1-1.5 .4-1.1 .7 1.8-.1-1 .9-.7 1.6-2-1-.3 .6-.9 .1-.9 .1-2.8 .3-.1 .4-.1 .3-2.1 .1-.4 .2-1.5 .3-1 .2-.7-.6-1.2 1.6-1.3-.9 .3 .1-1.4 .5-1.1-.7-.8 .3 .7 .4 .1 .1-.6 .7 .9 1 1.2-.3 1.1 .5-.2 .4 .3 .3-1.3 .1 2.1 .2 1.6 .2 .8 .6 .5 .4 3.1 .5 1.8 .4 1.5 0 1.3 .5-.6 .5 3.1-.4-4.8 .6-.2 .5-.1 .7-.4-.1-.5 .5-.1-.5-3.5 .6 2.4 .6 .1 .1 1.9 .6 .8-.5 2.4-.2-1.5 .3 .2 .5-1.5 1.1-.2-.1-.4 .7-1.6 .2-.9 .3-.7 1.9-1.5-.8-1-.4-1.3 .3 1 1.1 .2 .3 1.5-.2 4 .3-2.7 .6 .8 .4 .8 0 .7 1 1.4 .4 0 .2-1.6 .4-.6 .5-1.2 .2 1.5 .2-2.4 .7-.7 .1-2.4 .6-.5-.3-.6 .5 2.6-.7 0 1.1 .5 .4 .5 .7 .9 .5 1 .4 1.6 .3 .8-.3 .4-.2 .2 .3 1.5 1.2-.8-.1 0 .8 .1 .1-4.1 .3 .2 .6 .4 .2 1 .6-1.3 .7-2.3-.1 .4 .2-.6 .6 1.7 .3-2.2 .8-4.8-.2 1.3 0-1.8 .6-.4 .5-.8 .1-.7 .9-.3 .7-2.2 1.3-2.8 .3 0 1.1 .4 .4 .6 .8 2.5 0 2.1-.1 .3 .6 .1 .8-.9-1.2-1.5 1.4-1.4 .9-1.1-.2-.6-.1-1.2 .3-.9-.4-2 .5 .2 .7-1 .1 .5 1.1-1.9 0-.9-.4-4.1 .8-.1 1.5-.1 .3 0 1-.2 1.4-.8 .5 1.7-.3 1.1-1 1.9 .8 .8-.2 .6-.2 .4 .6 .5 .3 2.3-.1 .4-.3 1.4-.4 .4 1 .4-.3 2.7-.4-.6 .3 1.7 .1 1.1 .8-.6 .1 2.2-.5 .9 1.6-.6-1.2 2.2-.8 .3 .7 .9-.2 1.8 .2 .5 .4 .2-1.5 .7 1.5 3.1-.3-.5 .7 2.2 .3 .4-1.1 .9 .2 1.1 0-.5 .7 2.4 .2 1-.4 .5-.3 .9-.6 1.3 .7-.5 .8 1.2-.3 3.1-.6 .1-.8 .1 1.6 1.6-.7-.1 .9 3.4-.4-.5-.4 1.2 .6 .6-.3 1-.1-.6 .6 2.1 .4 1-.4 1.1-.7 1.2 .4 1 .6 1 .1 .5-.2-.3-.1-1.7-.8-.2 .6-.7-.5-2.3 .1 .8 .6-2.8-.2-.8-.2-.2 .1-1.2 .5-.2 0-1.6 .4-1.1 .7 .2-.3-2-.1-.4-.6-.6 .4-.1 .5-2.4 .4-.3-.4-2.1-.9-.3 .7-.8 .1-1.3-.6-.6 1-1.5 .3-3 .5 1.5 .2 .7 .5 3.3 0 2.6 1-1.7-.1 1.2-.4 2.2 .7 .4-.3 .3-.8 .8 .4 2.6-.3 .2 .5 .2 .2 .9 .3 1.6 .3 .1-.1 1.3 .5 .4-.1 2.4-.5-.4 0 1.6-.3 1.2 1.7 .1-1.2 1.3 1 1.6-.8 1-1.2 1.2 1.7 0 .9 .9-.3 1.9-1.1 1 1.2 1.1-.6 .6 .6 .2-.4-1.7 .4 1.1-1.2-1.6 .7-.5 .9-2.5-.7-.6 1.5-.3-1.6-1 1.7-1.1-.6-1.2 .4-1-.3-.2-.6-1.3 .2-.2 .8-.7-.3-2.3 .7 1.1-.1 .7 0 3.1-.1-.3 .6 .8 .9 1.4 0 1.6-.7 .4 .3 .1 .2 .5 .3 1-.2 1.3 1 1.1 .2 1.3-.4 .1-.1 2.2 1.1 .8 .6 .4-.6-1.3 .7-.4-.7-1.7 .1-1.1-.2-.6 1.3-.6-.8-.3 .5-1.2 .4 0 .2-1.5-.1-2-.3-.2 1-.4-.6-1.4 .6-.7 .5 .1 .7-1.3 .7-.3 0-.1 .2 1.5 .3 .3 .6 .9 .7 .8-.4 .1 .6 1.8-.6 .7 1 .5 .9 1.4 .6 .7-.4 1 .7 .6-.7-.5 .7-1.5 .8-1.2 .4 .2-.3-.7 1.1-2.4 .1-.1-.5-.8 1.2-1.4-1-.1-.4-1.3 .7 .9 .2-3.6 .2-.1 .5-3.7 .6 .6 1.1 1.7 .7-.1 .8 2.2 .3-.6 .4-2 .5-3.4 .1 4 .3-3.6 .5-.1 .7-.1 .6 2.3 .4 2.2 1.2-2 .4 .3 .5 .7-.2 1.3 .5 .2-.8-.3-.1 2 1 .3 0 1.9 .6 .6-1.2 .9 .7 .7-.5 1.5 .8 1.1 0 .2 0 .8-.2 1.7 1-.1-.4 1.4 0 1.2-.1-.5 .8 3-.4 .4 .3 1.1-.8 .6-.3 0 .7 .2 .4 1.9-.1 1.6 1.1 1.9-.3 .7-.6-.1 .2 1.8 .9 .1-.6 .3 1 2.1-.5 1.7 .3-.4 .1 1.4 0-.4 0 2.2-.7 .9 .7 1.5 0 .7 0-.3 .3-1.7 .3 2-.8-1.7 1-1.3 1.9-.4-1.5-1.4 1.4-1.3-1.3-.9 .5-2.1-.8 .3 1.2-1.2-.3 .5-.3-1.8-.3-1 .6-1.3 0-.8-.1-.1 .2-1.4 .1-.9-.2-1.3-.5-2.1 1.3-.4-1-1.2 0 1 1.1 2.4 .4-1-.1 2 0 1-.5 .8 .5 0-.9 .6 .8 3-.2-.7 .8 .3-.8 3.5 .4 0-.3 .8 1 0-1.3 .2 1.2 2.7 .2 1-.9-.9 .8 2.4-.4 .7 .3 1.6-.1 1.3-.1-.4 0 .9 .4 1.3-.5-.1 .1 1.3 .1 2 .8 1.2 .4 .1 .4 2.3 .4-.5 .2 1.3-.6 1.1-.6 .9 0 1.2 .6 .9-.2 1.1 .9 .2-.4 .9 .8 2.9 .5-.5-1.1 .6 .8 .7 0 1.3 .2 2.2 .4 0-.7 1-.3 1.6 .6 1-.1 .1 .2 1.2 .2 .1-.4 1.8 .1 .9 .4 1.8-1-.8 1 2.2 .4 .4-.8 1.7 .6 .6 .1 1.1-.8-.3 .9 2.3-.1-1.7-.7-.4 .3-1.1 .3-.9 .8-1.1-.8-1 .6-.5 0-1.5-.4-1.4 .7 .1-.5-.9 .7-1.7 .5-.4-.8-.8-.2-1.1 .5-2.5 1.2 .6-1.5-1.2 1.2-1.2-.3 .3 1.7-2.5-.7-.1-.5-1.1-.8-1.2 1.3-1.2-.1 .2 .7-1.4-.6-1.3 .7-1.2-.3-.8 .8-.6-.3-2.2 0-.1 .1-.7 .9 .3-.2-2-.2-.6-.3-1.6-.7-.7 1.4-.9-.1-.9-.3-1 1.4-.9-1.8-.6 .3-1.6-.3-.1 0-2.1 .9-.4-.2-.8-.4-.7 .9-.1-.4-1.9 .1-1.3 0 .2-1.1-.3 1.4-2.3-.5-1-.1-1.2 1.2-.9-.5-.8 .8-.1-.6-2.4 .3-.9 .3 0-.4-1.2 .7-1.7 .6-.9 .9-.6 .2-.7-.3 .4-.1-2.8 .8-2.9 .8 .9 .3-3 .1-1.8 .5-.3 .8-.4 .1 .6 1.1 2.1 0-3.9 .3 .1 .3 .4 .5 0-.1-.1 .6-4.4 .4 .3 .2-1.4 .9-3.7 .3 1.6 .3-.4 1-.7-.1 1.4 .7 .7 .2 2.5 .4-1.3-.3 1.7-.3 2.1 .5-.2-.2 1.5 .3 1.4 .7-1.1-.1 1.9-.5 .4 .9 .4-.1 1.9 .5 1.3 .1 .5-.1 1.6 .2 .6-.3-.2-.2 1.9-.4 .7 .9 .3 .9 1.3 0 .6-.7 .2-.4 4 1-.3 .3 .3-1 1.1 .6 1-.2 1.7 .5-1 .4 1.8 .7 .9-.8-2.6-.1-.2 .4-1.3-.1 .1 .3-2.4 .4 .2-1-2.1-.1-.4 .9-.9 .2-1.6-.6 .1 1.2-1.5 .4-1.3 0-1-.2-.9-.1-.3-.2-1.3 1.3-1.4-.5 .8 .1-2.9 .4 .2 0-1.5 .8-1.2 .6-.3-1.5-.7 .2-2.3 .3-.6 .7 0 .6-1 .9-1.5-1-.4 .3-1.7 .1-.2 .6-1.7 .1-1.9 .8 3.8 1.2-2 .6-3.3-.6 2.4 .3 .5 .6-.2-.2 2.1-.1 .4 1.3 1.5-1.1 2.1 .5-.3 .1 1.2 .7 .5 .3 2-.2 .4-.1 .3-.4 1.1 .1 .5 .2 1.5-.4 .1 .9 1.8-.2-.5-.3 2.9 .3 0-.2 1-.5 2 1.5-1.7-.4 2.7 .2 1.5 .5-.9 .7 1.1 .3 .5-.5-1.8 .9-.9-.2-.2 .4-.3 .2-2.7-.9 .1 1.3-.9 .3-.9 .6-1.8-.7 .7-.5-1.9 .2-1.5-.2 .2 .1-1.1 .8-1.1-.8-1.5 .7-1.3-.4-.5 .8-.3 .3-.8-.1-2-.3 .4 .8 .4-1 .2 1.4 2.6 .1 .5 1 1.3-.8 1 .1 .6 1.1 .1-.4 2.2 .2 1.1 .6 1-.3 1.5 .2-1 1.2 2.3 .4-.4-1.2 1.7-.2-3.5 .5-2-.1 1.1 .5-1.8-.3-1.4-.3 .9 1.5-2.1 .2 .3-.5-1.5 .3-2-.7-.7 .2-.6 .6-.3 0-.6 .4-1.9 .3-.3 0-.8 .5-1.7-.7-.4 .7-1.2-.4-1.3 .7-2.4 0 .3 .9-.3 .3-1.1 .8-.4 .7-2-.5 .3 .4-1.5-.4-1.2 1.5-1-.2 .5-.6-2.1 .6 .4-.2-2.9 .5-.5 .8 .9 .4 1.8 .8 .6-.3 2 0-.8 1.1-1.3-.1-.7 .4-1.7-.1-1.9 .5-.4 0-.3-.2-2.1 1.1 .4-.7-1-.2-1.5 .5-1.4-.2 1.2 .9-.1 .1-3.8 .1-.1 .3-1.5-.5-.2 .5-.9 1.1-.5 .7-1.6-.7-1.7 .3-1.1 .7 .1 .2-.6 .5-1.1 .4-.2-1.1 .9 .5 1 .8 2.7 .2 .4-.2 1.4 .8-.6-1.1 2.3 2 .6-.8 1.4-.4 .5 .4 1 .1-1 .1-.9 0-1 .1-.9 .1-1 .1-.9 .1-1 .1-.9 .1-1 .1-.9 .1-1 .1-.9 .1-1 0-.9 .1-1 .1-.9 .1-1 .1-.9 .1-1 .1-.9 .1-1 .1-.9 .1-1 0 1 0 .9 .1 1 0 1 .1 .9 0 1 .1 1 0 .9 .1 1 0 1 .1 1 0 .9 .1 1 0 1 0 .9 .1 1 0 1 .1 .9 0 1 .1 1 0 .9 .1 1 0 1 .1 .9 0 1 0 .9 .1 1 0 .9 0 1 .1 .9 0 1 0 .9 .1 .9 0 1 0 .9 0 1 .1 .9 0 1 0 .9 .1 .9 0 1 0 .9 .1 1 0 .9 0 1 .1 .9 0 .9 0 1 .1 .9 0 1 0 .9 .1 .9 0 1 0 .9 0 1 .1 .9 0 1 0 .9 .1 .9 0 1 0 .9 .1 1 0 .9 0 1 .1 .9 0 .9 0 1 .1 .9 0 1 0 .9 0 1 0 .9 .1 1 0 1 0 .9 0 1 0 .9 0 1 .1 .9 0 1 0 1 0 .9 0 1 0 .9 .1 1 0 .9 0 1 0 .9 0 1 .1 1 0 .9 0 1 0 .9 0 1 0 .9 .1 1 0 1 0 .9 0 1 0 .9 0 1 .1 .9 0 1 0 .9 0 1 0 1 0 .9 .1 1 0 .9 0 1 0 .9 0 1 .1 1 0 .9 0 1 0 .9 0 1 0 .9 .1 1 0 1 0 .9 0 1 0 .9 .1 1 0 .9 0 1 .1 .9 0 1 0 .9 .1 1 0 .9 0 1 .1 .9 0 1 0 .9 .1 .9 0 1 .1 .9 0 1 0 .9 .1 1 0 .9 0 1 .1 .9 0 1 0 .9 .1 1 0 .9 0 1 .1 .9 0 1 0 .9 .1 1 0 .9 0 1 .1 .9"/>
<text class="t" x="124.3" y="121">S&amp;P 500</text>
<text class="s" x="124.8" y="155.9" textLength="248.6" lengthAdjust="spacingAndGlyphs">(daily forward P/E)</text>
<path d="M377 350H430.8" stroke="#0000ff" stroke-width="4.2" stroke-linecap="round" fill="none"/>
<text class="lg" x="448.8" y="360">(14.1)</text>
<text class="d" x="804.4" y="239.8" textLength="51.6" lengthAdjust="spacingAndGlyphs">3/24</text>
</g>
<g id="panel2">
<rect x="944.4" y="83.1" width="785.4" height="298.8" fill="#000"/>
<rect x="950" y="87.9" width="774.2" height="289.2" fill="#ffffe6"/>
<path d="M1729.3 379.9H1748M1729.3 358.9H1738M1729.3 337.8H1748M1729.3 316.8H1738M1729.3 295.8H1748M1729.3 274.8H1738M1729.3 253.7H1748M1729.3 232.7H1738M1729.3 211.7H1748M1729.3 190.6H1738M1729.3 169.6H1748M1729.3 148.6H1738M1729.3 127.6H1748M1729.3 106.5H1738M1729.3 85.5H1748" stroke="#000" stroke-width="2.2" fill="none"/>
<text class="ax" x="1754.3" y="389">8</text>
<text class="ax" x="1754.3" y="346.9">10</text>
<text class="ax" x="1754.3" y="304.9">12</text>
<text class="ax" x="1754.3" y="262.8">14</text>
<text class="ax" x="1754.3" y="220.8">16</text>
<text class="ax" x="1754.3" y="178.7">18</text>
<text class="ax" x="1754.3" y="136.7">20</text>
<text class="ax" x="1754.3" y="94.6">22</text>
<path d="M947.2 380.9V402.9M996 380.9V402.9M1044.7 380.9V402.9M1093.5 380.9V402.9M1142.2 380.9V402.9M1191 380.9V402.9M1239.7 380.9V402.9M1288.5 380.9V402.9M1337.2 380.9V402.9M1386 380.9V402.9M1434.7 380.9V402.9M1483.5 380.9V402.9M1532.2 380.9V402.9M1581 380.9V402.9M1629.7 380.9V402.9M1678.5 380.9V402.9M1727.2 380.9V402.9" stroke="#000" stroke-width="4" fill="none"/>
<text class="ax" x="971.6" y="413.9" text-anchor="middle">06</text>
<text class="ax" x="1020.3" y="413.9" text-anchor="middle">07</text>
<text class="ax" x="1069.1" y="413.9" text-anchor="middle">08</text>
<text class="ax" x="1117.8" y="413.9" text-anchor="middle">09</text>
<text class="ax" x="1166.6" y="413.9" text-anchor="middle">10</text>
<text class="ax" x="1215.3" y="413.9" text-anchor="middle">11</text>
<text class="ax" x="1264.1" y="413.9" text-anchor="middle">12</text>
<text class="ax" x="1312.8" y="413.9" text-anchor="middle">13</text>
<text class="ax" x="1361.6" y="413.9" text-anchor="middle">14</text>
<text class="ax" x="1410.3" y="413.9" text-anchor="middle">15</text>
<text class="ax" x="1459.1" y="413.9" text-anchor="middle">16</text>
<text class="ax" x="1507.8" y="413.9" text-anchor="middle">17</text>
<text class="ax" x="1556.6" y="413.9" text-anchor="middle">18</text>
<text class="ax" x="1605.3" y="413.9" text-anchor="middle">19</text>
<text class="ax" x="1654.1" y="413.9" text-anchor="middle">20</text>
<text class="ax" x="1702.8" y="413.9" text-anchor="middle">21</text>
<path class="ln" d="M948.3 216.3l.4-1.1 .6-.4 .7 2.3 .2-1.7 .8 .9 .2 2.6 0 .1 .8-1.6 .4 0 .7-.8 0-2.1 .9 .8-.1-1.3 .5-1 .3-.2 .9-1.9 .1 .4-.6 1 .2-.9 .6-2.7 .4 .6 .7-2.8-.1-.6 .4-4.4 .6-.7 .8-1.2 .1 .4 .9 2 .2 .9 .6 .1 1 1.7 0-4.3 0 .6 .5 .1 .7-2.3 .1 2 .1 0 1.1 .5-.1-4.5 .1 .8 0 .8-.1 .6 0 .4 .5 1.7-.1 .9 1.4 1-.5 1.5 .2 1.5-.3-.8-.7 1.3 .4 .4 1.1 2.4-.4 .5 .7 1.8-1.4 .5 .4 1.5 .6-.4-.2 .6 .4 2.7-.7 .9 1.7-.4 0 .5-.2 2.2-.4 .1 1 .4 0 2.3 .2 0 .2 2.8 .5-1.5-.7 1.7-.7 1.1 1.2 1.2 .7 .7-1.2 .4 2.4 0-.5-.5-.4-1.5 .4-1.3 1.9 .8-1.5-1.4 1.2-.9-.6-1.9-.3 1.1 .4 2.5 1.3-.1 .1 .1-1.5 1.4 .7 1.4 1.2 .7 .4 .8 .2 1-.4 1.8 .5 .3 .2 .5 .6 1.3-.9 .2 .8 2.5-.7 0 .7-.3 .5 1.3-.2 2.8-.9-1 1.5 1.8-.1 1 1.4 1.2-1 1.8 1.3-.4 .2-2.4 .6 1.9 .2-.7 .9-1.9-.2 1 1.1-1.4 .2-1.1 0-2.1 .7 .8 .7-2.3 .8-2.8 .4 1.1-.3 .3 .4-1.2 .9-1.2-.3-1.6-.5 .1 .5-.5-.2-1.9 1.1-1.3-.1-.9 .9-.5-1-.8 1-.6 .7-1.8-.4-.5 .4-1.1 .2-.6 .4 2.1 0 1.5 .2-.9 1.1 2.4 .2-.3 .7 .9 .3 .6 1.1-2 .3 .1-.1-2 .2-.2 .4-.8-.2-1.3 .4-.8-.1-1.7 1.9 .1-1.8 1.5 1.4-3.3 .8 .9 1 4 .6-1 .6-1 1-.3 .8 1.6 0-.5 1.3-2.6 .6 1.4 .8-1.1 .8-2.9 1.2-1.2 1.3 .1 .5 2.9-.2-.6-.8 1.5 .8 .5-.1 .2 .6 .9-.5 2.5-.5 0 .6 .4 .5 2-.3 1.3 .9-.4-.7 2.4-.4-.6 .7 1.8-.4 .9 .2-.4 .1 2.5 .1 1.2 .3 .3 .3-2.1 .6-.7 0-.8 .5 .1-.5-1.2 .2-1.3 0-1.6 .7-.5-.1-.1 .5-1.8-.2-1.3 .5-3.6 1.4 1.1 .2 3.3 .8-1.7-.7 3.6 .9-1.5 .6 .2 .9-1.1-.8-.9 1.1-.2-.3-.9 0-1.2-.7-1.2-.1-.6 .5-2.5 .6-.1-.5-.2 1.6-.8 0-3.3 1.2 2 .5 .8 .7 4.5 .5-3.6 .6-.9-.2-2 1.2 .9 .1-.1 .1-1.4 .8-2.5-.1-1.8 .2 1.4 .7-2.8 .2 .1 .6 .6-.3 2 .5 .3-1 .9 2.6 1.9-.4 .1 .9 0 .6 .4-1.1 3 1.5 1.4-.3-1 .2-2.4-.3-.3 1-.7-.2-1.7 .5-.9-.4-1.1-.9-1 0 .8 1.1-2.4 .6-.6-1.6-1.1 1.3 .1-.1-1.6-1.1-.9 .7-1.7 .2-1.1 .6 .3 .3-2.2-.3-1.6 .3-.2 .3-.6-.2-1-.9-.7-.2 .7 1.1-.4-.1 2.4-.6 1-.1 0 .4 2.3 .1 .7-1.3 .6 .8 1.5 .2 1 .7 .3 0 1.8 .5-.1-.8 1 .3 1.2-1.5 1.5 .1 .6 .9 1.6-.4 .3 .5 1.6-1 .2 .8 1.3 0 1.2 .3-.4 .3 2.3-.3 1-.2 1.2 .3-.9 1.1 2.7-.8 .5 1.1 .4-.6 .5 1.1 1.7-1.2 1.1 1.1-.1-.8 1.9 1.4 .4-.4 2-.1 .3 .1 .1 .6 2.7-.2-2.1 0-1.7 1 1.2 .4-2.4-.1-1.4 .7 .3 .3-2.1-1.6 .3 1.2-2.4 .1 0 .3-.9 .7-.1-.4-.8 1.1-1.7-.9-1.5 .8-1.4 .5-1.6-1.4 .7 1-1.4 .6 .1-.2-2.2 .8 .6-.4-1 .5-1.9-.3-1.6-.2-.2 .2 1.4 .5-1.7 1-2-.1-.6 1.2-.4 .4 .3 .5 1.6-1.1 1 .3-.9 1 1.2-.4 .3-.3 1.8 1.2 1.7-.1 .9 .1-.7 .1 2.1 1 0 .2 .9 .8 1-.5 1.5 1-.5 .2 2.2 .2 .6 .1 1.2-.7 .8 .9 2.3-.7 .3 .9 0-1.2 .6 .5 .5 1.8 1.6-.6 1.1-.3 1 1 1.5-.8 1.2 .1 .6 .7 .9 .8 1.3-1.2 1 1.1 .6-.2-.9 .6-1.5-.7-.8 .5-1.2-.4 .2 .3-1.9 1.2 .2-.5-1.9-.9-.8 .7-1.4 .6-1-.5 .4 .9-1.3-.6-1.4 .6-.8 .5 1.7 0 .1-.1 1.7 .8 .9 .2 1.8 .5-1.5-1 3.9 .6 1.1 1.8-1.1-1.3 1.3 1 .6 .4 2.2-.8-.4 .1 1.8 .5 1.1-.2 1.2-.2 1.5 .8-1.5-.1 3.4 .1-.3-.7 1.8 .5 2 .5-.5-.4-.3-.4 2.1-.4 1.7 0-1.1 .8 1.7 .9 1.2-.2 0-.7 1.7 .7 2.1 .2-1.2 0 2.2-.6 1.2 0 .7 .2 1.2 .2 .5-.5 1.4 .5 .9 .1 .3-.4 .2-.4 2.8 .7-1.1 .3-1.4 1.1-2 .1-.4-.3-1.5 .7-.1-.2-1 .4-.7-.8-2.4 .5 .8 .7-1.5 0-.7 .4-1.6-.5-.3 1.1-2.1-1.2-1.2 .2-.3-.8-.1 .4 1.4 .7 .4 .9 .2 .3 1.9 0 .8 .1 .7 1.3 .8-.8 1.3 .8-.5 .3 3-1 1.3 .1-.4 .9 1 .2-.4-.1 2.9-.6 .4 .3 1.9-1.3 .1 1.9 1.1 0 .7 .3-.2-.4 1.5 .5 1.9 .1 .6 1-1.5 0 .2-1.7-1.5 1.2-1.3-1 .5 1.5-1.3 .5-1.8-1.2-.3 .5-.9 .3-.3 1.4-.7-1-2.2 .3-1.3 .8-.9-.4-.6 .8-.8-1.7-1.2 .4-.1 .8-1.4-.4-1.3 .1 1.2 1.3 .7-.3 3 .3-1.9 .2 2.8 .2-.6 .2 .3 1 1.3-.4 0 0-.8-.5-2.1 .8-.1 .2-.1 .7-2.2 .1-1-.2-.7 .2-.6 0 .5 0-2.1 .3-.3-.4-2.5 .2-.7-.3-.4-.1-.9 1-1 .2-.9-1.5-1.1 1.4-.6 .8-1.4 .6-.4 .9 1.7 1.4-1.2 .9 2.3 .5 .3-.5 1.4 .2 .9-.1 1.8-.1-.5 .3 .9 .6 .9-.8 .1-.3 2.6 .6 3 0-1.3 .9 .5-.2 2.2 .1-.3 1.5 .7-1.4 1.3 .3 1-.7 1.3 1.1 .8-.5 1 .7 1.1-.6 1.5 .8 .5 .2 .6-.3-.1 .4 1.7 .2 1.2 .2 1.2-1.1 .8 1.1 1.2-.3 .7 .6 .7 .4 .9 .4-.5 .2 3.4-.5-.4 .7 .8 .1 1.8-.3 .8 .5 .7-.6 1.4 1.4 1-.6 .7 1.4 .6-1.5 1.8 .7-.2-.3 .8 .1 2-.4 0 .3 2.7-.2-1.6-.1 1.9 .4 2-.3-1.7 .7-1.4 .5 .9-.4-2.2 .5-.3 1-2-1.2-.6 .4-.5 .9-2.2-.3 .6 .2-1.2-.5-2.2 .6-.1 .4-1.7 .1-1.1 .1-.2-.1-2.9 .7 .6 1-2.5 .5 2.7 2.5-1.7-1.4 1.7 1.9 .9 .7 1.4-.9-.8-.9 1.2 .5-.2 .1 3.3 1.1 1-.4 .7 .8 1.5-.2 .5-1.1-.2 .7 1-.6 1.2 1.8 1-.3 1.4-1.2 .6 1.2 2 .4-.1-.8 1.8-.3-.7-.2 1.7 .5 1 .1-.5 1.6 1.7-.5 .5 .2 1.5 .4 1.4-.6 .5 1 1.2 0 1.3-.6 .5 .1 1.6 .7 1.1-.3 .4 .9 1.6-1.2-.2 .7 1.4 .9 .5-.6 3 .6 .2-.2 .4-.1 1.4 .7-.3 1 2.9-.4-.6 .2 1.6 .4 .3 .2 1.4-.3 .4-.2 3 .9-.4-.6 1.1-.1-.8-.1 1.9 .4 1.1-.2 1.7 .5-.1 .6 2-.2 1.9-.4-.1 0 .1 .2 1.6-1.1 .2 1.3 2.2-.3 .3 .3 .8 0 1.3 .2 .9-.1 1.9-1 .8 .5-.2 .4 1.7 .8 1.2-.2 .7 0 1.1-1-.1 .6 1.4-.7-1.3 .1-1.5 .6-.2 .2-1.2-.2-1.4-.3-.1 .5-1.1-.2-1.2 0-.8 .3-.9 0-.3 1.2-1.5-1.4-1.5 .8 .1 0-1.7-.3-.2 .2-1.6-.1-1.8 .5-.3-.1-.9 .2-.6 0-.9 0 1 0 .9 .1 1 0 .9 0 1 .1 .9 0 1 0 .9 .1 1 0 .9 .1 .9 0 1 0 .9 .1 1 0 .9 0 1 .1 .9 0 1 .1 .9 0 1 0 .9 .1 1 0 .9 0 1 .1 .9 0 .9 .1 1 0 .9 0 1 .1 .9 0 1 0 .9 .1 1 0 .9 0 1 .1 .9 0 1 .1 .9 0 .9 0 1 .1 .9 0 1 0 .9 .1 1 0 .9 .1 1 0 .9 0 1 .1 .9 0 1 0 .9 .1 .9 0 1 .1 .9 0 1 0 .9 .1-.9 0-1 0-.9 .1-1 0-.9 .1-1 0-.9 0-1 .1-.9 0-1 .1-.9 0-1 0-.9 .1-1 0-.9 .1-1 0-.9 0-1 .1-.9 0-1 .1-1 0-.9 0-1 .1-.9 0-1 .1-.9 0-1 0-.9 .1-1 0-.9 .1-1 0-.9 0-1 .1-.9 0-1 .1-.9 0-1 0-.9 .1-1 0-.9 .1-1 0-.9 0-1 .1-.9 0-1 .4-.9 .3-.4 .1-2.4 .8-.9-.7-.4-.2-1.4 .3-1.4 .5 .1 .3-.8-.1-.6 .2-.9-.5 0 1.9-2.3-.7-1-.7-1.6 1.4-.8 .1-.8-.5-1.2 .5-1.3-.4-.5-.1-1.4 .4-.1-.1-.3-1.1-1.6 2-1.7-.1-.6 .6 .2-.6-2.2 1.3 .6-.9-1.9 .1-1.1 .6 .4-.2 2.4-.5-.8 1.2 1.6-.9 1.6 .8 .8-.3 .8-.1 2-.2-1.2 .7 1.4 .2 1.7-.8 1.8 .4-.8-.7 1.2 .1 1.1 1.4 2.6-.1-.8-.5 0-.2 1.3-.1 1 0 1.4-.6 .4 1.2 1.1-.2 1.1 .5 .9-.5 1.8 .8-.9 .2-2.4 .5-1.6 .5-3.5-.2 2.1 .9 3 .1 1.6-.5-.9 .4 .8 0 .8 .3 1.1 0 1.6 .5 1.5-.8-.1 .8 .3 0 1.3-.1 1.2 1.1 2.2-.6 .2 .5 .2-.4 .9-.2 .4 1 3.5 .4 .7 .8-.8 .1 .3 .5 1.1-.8 1.8 .6 .3-.3 1.7 1.1 1.2-1.3 .1 .5 .5-.6 .9 .3 1.9-.1 .2-.5 1.3 .6 2.6 .9-.2-.2 1.1 .8 .3-.8 1.3 .1-.1-.4 2.5 .6 .2 .2 .4-.7 1.1 .6 1.8-.5-.1 .7 .6 .1 1.7 .3 .7-.7 .8-1.2 1.6 .8 .4 .1 1.5 .3 .2 .7 2.2-.5-.2-.9 .4 .7 1.7 .4 2.6 .2-.7-.9-.4 .5-2.4-.2 .8 1.4-1.7-1.2 0 .6-1.3-1.1-2.4 .9-.5-.5-.8 .2-1.5 .1-1.1-1.6 .2 1-.9-1.2-2 1.8-.5-.3-1.3 0 .1 .7-1.8-.6-.8 .6-.6-.9-2.1-.1 0 .1-1.4 .2-.8-.3-1 .1-1 1.5-.1-1.6-.8-.1-3.5 1.2 2-.2-2.6 .3 .1 .2-1.2-.4-1.4 .4-1.4-.9 .3-.3-1.7-.4-1.4 1.2-.5 .2 0-.7-.8 .5-.9-.1-2.5-.3-1.2 .1 1.2 .3-2.5 .6 .5-.6-2.4 .9-1.7-.5 0 0-1.2-.7-.3 1.4-.7-.8-.9 .3-.1 1-2.4-.1-.4 .2-1.2-.8-.1 .4-1.9-.6-.1 .9-1.4-.5-1.1-.4-.7 .8-1.7 .2-1.2 .4 .4 .1-.4 .2-2.5 .4 .3-.7-1.5 .8-2.2-.1-.5-.1-1.3 .7 1 .1-2.8-.5-1.3 .2 .2 .3-.7 .7-2.7-.8 0 .4-.4 .3-2 .9-.5-.7 .3-.5-1.1 1.1-2.5-.4-.5 1.1-1.4-.5 .4 .6-1-1-1.7 .8-1.2 .7-.6-.7-.7-.1-1.9 0-.1 1.2-.5-1.2-.8 .7-1 .3-1.9-1.1-.5 .7-1.2-.1-1.7 1.7-.4-.9-.3 .7-1.5-.3-1.3-1.1-.1 1.3-1.7 .5-1.8 .3 1-.5-2.4-.6-.3 .4-2.1 .5-1.1-.2 .7-.2-1.4-.3-.5 .9-1.1-.6-1.1 0-.4 .6-3-.8-.5 1.1-1.1-.8-.7-.7-.7 .4-1.6 .8-.3 .3 .2 .8-1.6-1.7-1 .5-.8 .1-2.4 .1 1.6 .3 1.4-.3 .6 .4 1.5 .6-.1-.6 2.2 .1-.2 .1 .9 .2 1.9-.1 1.3 0 .6 .6 1.4-.5 .2-.2 .2 .4 2.7 .4-.9-1.2 2.1 1.2 1.1-.9 .3 1.3 0 .2-.5 .1-2.4-.8-1.3 .5 .7-.9-1.9 .7-1.9 .3 .4-.3-1.2 0-.2 .8-1.3-.6-1.3-.3 .1 1.6-1.8-.8-.5 .2-1.8-.5-.2 .9-2.9-.2 .8 .9-.9-.2-.9-.6 .2 .6-.4-.2 .2 .9 1.5-1 1.5 .9 .5 .2 .3-1.1 1.2 .6 1.9-.6 .2 1 .7-.5 2.6 .5-.4 .3 .9 0 .7-.5 1.1 .4 2.4 .4-1.3 1.5 1.5-.4 .7-1.5 2.6 .8 0 .1 2.7-.6-.7-.4 2.3 1-.4 .3 1.2 1.2 .5-.7 1.7-.3 .4 .1 1.8 1 1.3-.3 .5-.6 .3 .5 2 1.4 0 .2 1.7-.9 1.5-.1-.9 .7-1.2-.7-2.2 .7 0 .3-.8 0-3 .8 0-.9 1.2-.1-3.5-.1-1.1 .6-.6-.1-1.4-.1 1.9 0-2.3 1.2-.4-.6-.6 .6-1.6-.1-1.2-.1-1.5-1.4-.8 1.3-2.2-.2-.6-.9-1.7 1.4 .3-.1-.1 .5-.5 .2-1.2-1.1-.4 .8-2 .1-1.4-.6-.4 .5-1.2 .7-1.5-.4 .3-1.3-2.4 1.9-.5 0-1.4-1-1.2-.2-.3 .8-1.1 .5 0-1.3-2.4-.4 .1 1-1.9 1-.7-.4-.8-.4 .3 0-1.5-.4-1.9 .5-.3 .9-1-.5-1.8 .2 .2-.6-1 .7-.4 0-2.5-.1 .7 .1-2.2 .4-2.1 .6-4 .7 1.2 .8-.5-.2-.7 .4 .8 0-1.5 .9-.8-.8-1.9-.1-.4 .4-.7-.4 0 .3-1 .7-1.5 .6 .2 .2-2.7 .3-.1-1-1 .4-.5 0-1.6-.1-.8 .3-1.1 .4-1.3-.1-.1 0-1.2-.6-1.6 .7 .4-.5-1.6 1-1.5 0-1.2 .3 2-.5 .4 .1 .3 .9 1.2-.2 1.6-.2 .8 .4-.5 .7 2.5-.7-.2 .1 1.6-.8 1 .8 1.4-.6-.2 .3 1.3-.1 1.7 .4 1.1 .7 1.3-1.5 1.5 .6 1.1 .3-.5 .3 1.7-.8 .7 .7 .5-.3 1.1 1-1.4-.4-1-.8 .7 .7-1.3 .1-1.9-.2-1.6 .4 .1 0-1.9-.3 .1 1-1.8 .3-1.7-.1-.2-.2-.6-.5-2 .7-.1-.1-1-.3-1 .5-.9-.2-1.1 .5-1.4-.2-.7 1.7-.7-1.8-.8 0-1.9-.5 2.2 1.3 1.3 .5-.7-.6 .4 1.6 2.9-.1 1.2-.4-.5-.5 1.5-.4 2.2 1-.2-.6-.6 1.1 3.4-.1 .8 1.1-.2-1 2.4-.9 .5 1.6 .7-.5 0-.8 2.5 .3 .5 .3 .8 .5 1.2-.5 .5-.1 .5 .6 1.6-.4-.3 .3 2.4-.7 .4 1.1 1.3 .3-.7 .1-.9 .8-.2-1.4-1.9 .7 0-.3-.9 0-1.9 .4-1.7 .1-.2 .2-1.1 0-.1 .6-2.2-.4 .1-.3-1.7-.4-.5-.1-1.9 1-.2 .3-.6-.9-1.6 .5-1.3 1.2-.1-1.3-1.2 .4 .1 .6-1.6-.1-.6 0-1.1 0-2.2 .8-.2 1.2 1.8 .8-2.8 .7 2.5 .8-2.5 .3 1.9 .5 2 1.3 1.4 .4-.6-.8-1 1.7-2.6 .1-1.3-.1 .1-1.2-1.2 .4-1.1 .3-.5 .6-.8-.4-.9 .8-1.4-.6 1.1-.2 .9 .5 .9 0 .9 .1 1.1-.3 .9 .3 2.4-.6 .6 1.4-1.3 .2 2-.7 1.4-.1-.1-.2 .6 .4 2.8-1.2-.7 1.1 1.9 .1 1 0 .5 .1 2.1-.1-.1-.2 1.3 .2 .3 0 1.7 .1 1 .1 1.7 1 1.5-.4-1.7 0 3 .7-1 .2 2-.2 1.4 .6 .5 .6 .5 .6 1.8 .4 .8-1.4-1.6 .8-1.1-.2 .3 .8-2.5 .1-.3 .8-.9 .2-.9 1.1-.8-.1-1-.2-1.6-.3-.2 .8-.8-.1-1.1 1.8-1.9-.7 .2-.5-.7 0-.8 .1-.6 .4-2.4 .8-.7-.7-.8 .6-.3 0-2.2 .6-.7-.1-1.2 .2-.3-.2-2.1-.6 .5 1.2-1.5-1.3 .5 .6-2.2 1-1 .7-1-.8-1 .9-1 .5-.9 .3-1 .4-1.2 .2-.3 1.9-.6 .2-.6-.9 3.3 1.1-.4-.6 2.5 .7 .3-.5 .5 .6 .7-.3 2.4-.1 .1 1.3-.2-1.1 2.6 .1 .2 .5 .8 .8 1-.4 1.2-1.3 1.7 1.3-.6-.1 1.4-.4 1.5 1.3 1-1.1 1.2-.2 1.2-.2 .3 1.1 .7-.4 .2 0 2.3 0 .8 .5 .2 0 1.6-.9-.1 1.2 1.5-.2 1.1-.1 .6 .3-.1-.3 2.3-.1 .7-.2-.2 .8 2.3-.2 1 .5 .1-.4 3 1.2 .9-.5-.6 .2 1.5-.6 .3 .3 .5 .3 1.8-1 .4 .7 .4 .5 2.5 .1 0 .5 1.6-.2 .7 .3 1.5 0-.6 1 2.6-.6 .5-.6-.3 .8 1.9 .6 .7 .4 1.2-.6 2.2 0-1.2 .9 1.8 .2 1.9-1.1 .6 .4-.5-.8 1.8-.1 2.1 .3 1.1-.9-1.3 .2 2 .1 1.6 1.7 1.2 0-.2 .1 1.6-1.1 1.6 .9 .1-1.5 1.3 .8 1 .4 .4 .8 1.3-.8 .3 1.5 .4-.5 .5-.7 2.1-.2 .8 .9 1.9 .4 .2 .1 1.4 .7 .4 1 1.3-.1 1 .5 1.9 .6 .9-.2-1.5-.7-2.5 .9 .2-1-.1-.4-.9 1.1-.8 .6-2.3 .6-.5-.9 .1 .5-1.4 0-1.8-1.2-.3 .4-1.6 .9-.2-.5-1.3 1.1-1.8 .4-.3-.6 1.1-.4-4 .5 1.1-.3-1.1-.2-1.5 1-.9-.1-.4-.8-1 .6-1 .8-1.2-.7-1.4 .2-.6 .6-1 .1-1.4-.7-.7 .7 0 .3-3.1 .7 3.1-1.4-.1 1.4 .5-.4 1.3 .5 2.1-.3 1.6 1 .2-.3 .3-.3 .7 1.3 .8 0 .4 .6 2.1-.2 .8-1 1.8 1.8-.4-.4 .3-.3 2.3 .6 1.1-.8 0 .2 1.6 1.2-.4-1 1.8-.1 2.1 .9 .5-.9-.2 .7 1.9-.4-.1 2 2.3-.6 .6 .1-.5-.2 .2 .2 2.4-.1 .7-.1-3 .2-.1-.1 .2-.3-2.4 .7-1.2-.5-1.7 .3 .2 .6-1.1 .1-1.8 .4 .3 1-1.1-1.3-1.6 .1 .4 .4-2 .3 .2-.1-1.7 1-2.2 .2-.3-.5-1.1 .2 .1 .2-1.1 1.8 0 .1-1.9-.2-1.5 .7-1.1-.5-.7 .7 .4 .2-2.2-.2 1.6 .5-1.7 .2-2.2 .6-2.2-.3 3.4 .9-3.7 .3 .1 .1-1.1 .4 .1 .4 .9-.2 1.1 .7 .6 1.1 1.1 .3 .3-1.2 2.7 1.8-.6-.5 1 .1 .1-.7 1.8 1 .4-.4-1-.3-1.2 .4-1.3 .4 1.3 .8-2.2 .3-.4 .6-1.2-.1-1 .7-1.2 0-.4-.4-2.2 .6 .6 .5-1.8 .7-.6-.3-.9 .8 1.2 .4-2.9-.2-1.1 1-1.1 .9-.3-.2-2 .8-4.3 .2 1.2 .3-.3 .8 2.3 .5-.6 .5-.8 .7-2.9-.5-.2 .7-1 .8-1.9-.1 .3 .4-3.8 .3 .7 .3 .6-.4 .9 .2 .5-.3 1.4 .8 .5 .4 .4-.5 1.9-.7 1.1 .5 1.6 .6 .2-.2 .1 .2 .4 1.1 3.7-.7-1.3-.2 .5 .2 2.5 .4 1.4-.2 .1 .5 .8 .3 1.4 .4 .6-.4 .8 .6-.1 .5 1.7-.1 .5-.8 1.4-.1 1.2 .6 2.2-.1 0 .7-1.8 .9-.7-.9-.4 .4-.9 .8-1 .4 .4-.2-3.2 .7-.4-.6-.8 .3-1 .6-1.1 0-1.5 .4 0 .5-2-.6 .7 .4-.7-.5-4.2 1.7 0 .2 .4 .6 1.5 1.7-2-.3 .4 .9 .7 .4 1.3-.2 2.7-.2-1.4 .1 2.9-1.3 0 0 1.7 .2 .9 1.3 .4 .2 1 .4-.4 .6 3.4 .2 2.9-.1 .3 .3-.8 .4 1.6 .1 .3 1.9 2.2-.7-.1 .1 .7-.1-.4 0 2.2 .7 1.4 .4 1.1-.1 .6 .2 1.1-.2 1.2 .6 .4 0 .8-1.1 .7 1.5 .3-.6 1.6 .8 .3-.2 1.5 .3 .3 0 1.8 0 1.7 .1 .2 .1 2.5-.9-2.8 0-2 .4 .1-.3-1.3 1-.6 0-1.3 .4-.4 0-1.4-.7 .8 .9-2.1-.7-2 1.2 1.1-.8-2.1 1.2-1.7 0-.8 .5-1.2-1.2 .5 .5 .5-.3 1.4 .5 0 0 .8 .2 1.2-.2 .5 1.1 2.3 .1 .2-1.1 .7 .5 .6-.5 1.1 .1 1.7 .4 1.3 .8-.1-.6 .8-.3 2.6 1.2-1-.3 1.8 .3 .5-.2 .8 .2 .1-.4 2.5 .4 .1-.2 1.7 .8 1.5-.3 1.2 .6-.6-.7 .9 .5 1.3 .3 1.4-.2-.5-.5 2.8-1.2 1.2 1.2-.5 1.6 1.8-.3-.1 0 2.1 0 .2-.7 1.4 .2 .5 0 2-.2 0 .7 .8 0 1 1.4 .8 .3 .7-.7 .3-.1 2.5 .1 .6-.3 2 1.3 .3-.8 .5-.5 .8-.1 2 1.2-.3-1.2 1.5 .5 1.1 1 .9-.7 1.4 .3 1-.4 .9 1.6 1-1.4 1.3 .7 0-.2 2.3 0-.2 .2 .5 .1 1.3-.4 .4 .9 1.3-.6 1.3 .4 1.2-1.3 1 .9 .8 .2-.7 1-.3-.9-1.6-.7-.8 1-2.3 .3-.6-.3 0 .5-1-.6 .3-.2-2.5 .8-.7-.3-2.2 .5 1 .8-1.1-1.3-.2 .5 .2 .1-.3 .5 1.1 1 .9-.3 2.8 .5-.9 .3 1 .1 .5-.2 2.3 .5 1.3 .7-1.7-.6 0 .6-.7 .1-2.6 0-.6-.1-.4-.3-.7 .7-1.3-.2-.4 .4-1.4-.6-2.4 .1 .1-.2-1.3 .7-.6 .6-1.8 .2 .2-.8-1.8 .1 1.5 .8 1.1-.6 .6 0 .8-.2 1.1 .6 1.9-.2-.1-.8 1.9 1.2 .6 .5 .8-.3 1.4-.5-.1 .2 1.8 .1 .2 .6 .1 0 3.5 .2-2-.7 3.5 1.2 .2-.4-.4-.3 1.2 .3 2.2-.4 0 0 1.9 .1-.6-.4 2.4 .1 .2 .8 1-.2 1.5 .1-.5 .2-1.5-.8-.1 .4-2.2 .1-1.1-.4-.7-.1 .6 .7-3.1 .6 .3-.1-2 .5-.9-.7 .2-.1-2.3 .2 0 .9-1.8-.7-.6 .3 0 .3-.7-.2-.8 .4-2.5-.7-.3 .1 .8 1.4-2.9-1-.1 .7-1-.8-.9 .4-1.5 .5-1.1 .7-1.9-.3-.2-.4-.2-1.1-.4 1.7-.8-.1-2.6-.4-.1-.4-.7 .6-.7 0-.6 1.2-2.7-.9 .4 .7-1.2 .7-1.3-.8-1.9 .2-.1 .1-.1 .3-.6-.3-2.2-.2 .7 .7 .4-1.3-.9 1.1 2.6-1 .2 1 1.2 .8 1 .5 1.3-.6-.2 0 1.5 1.1 .6-.6 1.9-.5 .3 1.2 1.3 .4 1-.3 .9-.2 .4-.2 1.3-.2 1.1 1.1 0-1.4 2.6 1.1 1.2 .1-.8 0 1.6 .1 .3-.3 .6 0 2.7 .8-2.4 0-.3-.3-.8 1.1-1.9-.8-.4-.9-.9 1.2-1.3 .1-1.4 .4-.7-.5-.3 1.1-.9 1-1.1-.7-1.2-.2-1.7 .3-.6-.2-.1-.2-.6 .2-2.4 1.2-.2 .2-.4 .1-2 1.9 .2-.7-1.2-.5-1 .6-1.2-.4 0 1.7-2.2-1 .8-.3-2.9 1.4 .4 .2-2-.4-.6 .2-.1 1.2-2.2 0-1.1 .2-.3 .6-1.3 .7-.8 0-.1 0-.3 0-1.8-.1 .6 .8-4.3 1.1 1 0-.3 1.1-3 1.3 4.1 .2-.5 .8-1.3 1.3 .4 .2-.2-.6 .3 1.2 .5-.6 3.3 0 .1 .9-.4-1.7 1.5 1.1 1.5 .4-.2-.2 1.3 1.6 1.2 0 .6-.5 1.4 .4 3 1-2.1 .7-1.1 .3-1.4 .9 .8 0-.3-.1 1.7 1 1.4-.9 .5 .4 1.5-.4 2.7 .2-1.4 .8 .5 1.3 2.2-.9 .2-.3 1.1-.4 1 1 1.7-.4 .9 1.7 .7-.7 .5 .8 1-.6 1.4 1.1 .1-.2 2.2-.7-1.5-.2 3 1.6 .2-.3 1.5-.5 .4 0 1.4 1.1 1 .2 .6 .5 .9-.3 1.6 .1 2.1-.9-.7 1.2-.6 0-1.9 .1 .5 .3-1.2-.6-.1 1.2-2.7 .2-1.1-.2-1.1-1.1-1 .9-1 .7-.1-.1-1.2 .5-2-.1 .9-.3-1.5 .7-1.3 .3-.6-.3-1.1 1.1 .4-.6 .6 .8 1.7-.6 .2 1.3 1 .2 2.3 .1-.7-1.1 1.7 1.5 1.2 0 1-.4-1.9 .6 .1 .5-1.5 .1-.5-.1-1 .5 0-.5-2.6 .2 .4 0-1.5 1.6-1.9-.7 .6 .2-1.8 1.4-.5 .5-1.7-.1 .8 .3-2.9 .6-1.1 .6-.3 .2-1.2 1 2.9-.4-4 1.3 2.1 .7 2.2 1-1.5 .5 .9 .6 1.3 .4-1.6 0-.6 1-.5-.3-.6 .5-.8 .6-3.1-.1-1.7 .5 4.3 1.2-6.6 .7 4.1 1.5-2.3 .6 1.9-.8 .8 .5-.3 .3 2 .4 1.8 .9-.2-1.1 .1 1.3 1.3-.2 2.3-.1 .4-.1 .4 .2-.8 .7-1.4-.7-.3-.2-.2 1.7-1.8-1.1-.3 .1-1.3 1.2 0-.3-1.1 .7-2 .2-1.5-.1-1.6-.2-1.8 1.2-.3-.3 .5 1.3-2.8-.2-1.6 .9 1.2 .2 0-.1-.9 .5-.9 .2-.1 .7-1.1-.7-1.2 .3-.6 1-.8 0-1.8 .7-.3-.7-.9 .8-1.4-.4-.1 1.3-1.8 0 .3-.6 0 1.1-2.7 .7-.9 .9 .7 1-2.1 .7 1 .5 2.6 1.4-.8 0-3.6 .6 1.4-.6 1.7 1.3 1.2 .7 .4-.7-.4 .3 1.3 .5 .8-.3 .8 1.1 1.6 .7-1.1 1 2.8 1 1.2-.9-1.7 1 0-1-.7 .6-2.6-.3 1.1 .8-1.5 .7-1.1 .2-2.1-.2-.2-1.4-1.5 1.6-.4-.1-.7 .1-1.1 .2-1.6-.6 .5 .5-1.4-.2-.8 1.4-.6-.7-2 .9-1.5-.2-.2-.4-.7 .4-.9 .6-2 .4 0 .8-.6-.2 1.2 .9 1.6-.2 4.1 .9-1.6 .7-.7-1 2.3-.3 2.1 1.7-.7 .1 .6 .6 1.6 .7 .3-.7 .8-.2 2.7 .8-.4 .1 1.5 .7-1.1 .3-1 0-1.3 1.2-.5-.8-.7-.2-1.2 1-.6 .2-.4 .2-1.1-.7-.5 .1-1.2 1-1.3-1-.8 .9-.6 .3-1.6 .1-1.1-.7-1.7 .9-.1-.2 .6 .3-2.1-.5-1.6 .9-.4 .3-.8 1.2 1.7-.3-1.1 1-.6-.1 2 .2 1 .4 .8 .4 .7 .4 .2 .5 .5 .5 2.5 .1-1.2 1.1 1 0-1.1 .4-.8 .4-1.1-.1-.8 .2-1.4 .1-.4-.4-1.5 .5-1.9 1.3 .5-.7-2.6 .5 .1-.6-.7 .8-1.7 .2-.3 1.2-1.2 .1 1.1-1.5-.5 .8 1.8-.6 1.4-.1 .6 1.1 0-.4 1.9-1 .7 1.5 .4-.5 1.5 1.1 0 .6 2.5-1.5 1 .5-1.3 0 2.1-.1 0 1-1.6-.1-1.4 .4-1.5-.4 .1 .3 .8 .9-3.2-1.2-1.3 .8-.4 1.1-.2-.8-1.4-.7-.3 0-1.5 1.1-.6-.4-1.6 1-1.3 .2-.2 .8 .1-1-1.2 .8-1.6-.2-1.5 .3-.4-.1 1.5 .7-.4 .1-1.5 .4-2.3 .5-1.2 .5-2.9 .1 .1 .8-.2 .9-2.5-.1 1.5 .6-1.1-.3-1.1 .5 .6 .4-2 .4-.3-.1-1.9 .3-2.5 .6 0-.6-.5 .3 .3 .1-4.6 1.3 1.7 .8-2.5 .6 1.7 .3-.3 .3 .4 .2 1 1.1 .1-1.4 1.5 1.4 1.4-.6 .3 .7 1.4-.9 1.7-.7 1.8 .7 .8 .3 .4 1.3-.4-1.4 .6 1 1.9 1.2 1.1-.1 1.3 .2 .2-.7 1.7 .2 1.8-.6 .6 1.2 .8-.1 1.4-.3-.3 .7-3.4-.8 1 .8-1.6-.4-1.2-.6-.8 1.3-1.1 1.1-1.6-1.3-.4 .6-1.5 1.1 0-.2-1.9 .3 .3-.4-1.7 .3-.1 1.2-1.6-.8 1.7 1.1 1.2 .1-2.1 .1 1.8 1.4 .2 .9 1.6-.4-3.6 .8-.3-.2 .8 .5-.8 0-2.3 .8 1.2-.1-3.3 .3 1 .4-.4-.4 1.4 0 .1-.2 1 .8 0 .1 2 .2 1.2 .4 .9 0 .5 .7 1.7-.9 .8 .7-.1-.4 1.3 .6 .7-.8 1.6 .9-.7 .7-1-1.2-.9 1.5-.7-.1-.6 .5-2.4 .6-.7-.8-.5 1.2-2.3-.3 1.2 .6-2.1 .1 .2 .8 1.6 .5-2.7 .3 .6 .7 .8-.5 5.2-.7-2.7 2.2-.7-.5 0 .2-1-.3-1.8 .4-.2 1.4-1 0-1.4-.8-.8 1.7-1-.8 1.3 .9-.3-.2 1.6 1.4 .2 .3 .2 .9-1.5 .1 1 .5-1 .3 5.7 0-.4 .7 3.9 .3-.6 .6 .2-.5 1 .9 2.2 .1-.4 .4 .6-.3 .6 .3 2 1-.5-.3 .1-.1 3.1 1.1-.9 0 1.4-.7 2.5 .7 .3 .8 0-.7-.2-.1 2.9-.1 .5 1.1 2.1 .1-.9-.2 1.6 .5 1 0-.9-.2-.8-.4-2-1.1 .4 2.6-1.6-1.4-1.7 .9-.5-.4-1.6-1.3 .3 1.2-2-.5-.9 .9 .5-.3-1.8-.1-1.2-.6-.9 1.3 .6 .6-4.5 .3 .3 1 2.5 1 2.8 1.1-.6 .5-.2 .4 1.1-.6 1.7 .6-.2 .1 3.1-.6-.6 .1 1.6 .4 1.6-.7 1.1 0 1.5 .3-.6 .2 1.2-.5-.5 1.1 1.9 .3 .3-.6 2.2 1.5-.8-.9 2.2-.7 .4 .1 1.8 .5-.3 .5 1.6 .5 .7-.4 2.1 .4 .7-.6 .5 .5 1.4-.1 .9 .3 .3 .9 1-1.2 2 .1-1.1 .4-2.2 .6-.5 1-1.4-.3-.5-.1-1.3-.5-1.7-.1 .8 .3-2.3 .5-.3 .3-2.6-1.5 .5 .6 .5 .1-2.2-.2-.9 .2-1 .6-.2-.3-.5 .2-2.5 .4-1.5-1-.7 1.7-1-.7 0 .7-.2 .1-1.9-.5-1.1-.9-.2 .2-1.9 2 0-.7-.6 1-1.9-.1-2.1-1 .5-.1-2.1 .9-.2-.2-2 0 .4 .3-1.1-.9-1.6 1.4 .2-.8-1.4 1.3-.7-1.1-.8 .5-1.2 .5-1.4 .1 .5 .6 2.7-.3 .2 .3 .2 .1 1.6 .4 .1-.4 .5 1.1 .6-.6 2.6-.6 1 .3 0 .6 2.6 .5 .3 0-.3-.1 3.1 .5-.3 .6 .5 0-1 .2-.8 .5-1.3-.3-.8 .2-.2 1-.2-.7-2.2 1-.1-1.4-.4 1.1-3 .3 .6 .2-1.5-.2-.5-.3-1.4 1.5-1.4-.3-.7-.7 1 .6 1-.3 .2-.3 2.7 .5 .3 .5-.1-.6 .6 .9 1.6-.3 1.1 1 1.3-.2 1.2 .3 1.4 .2-.9 1.2 2 .2 1.2 .3 1.4-.6 .8-.4 .5 0 .8 .6 .7 .1 .8 .4-1.9 .1 1.7-.2-2.5 .9 0-.7-2.1-.8-.5 .6-.3 .3-1.2 0-2.4 .6-.1 .6 0-1.1-1.8 1.3-.8-1-1.4 1.1-.2-.6-2.6 1.1 .4 .2-.1-.3-1.2-.3-.6-.2-1.8 .8-1.5-.3 .2 .7-2.2 .6 .5-.2-3.7 .9 .9 .6 .7 .1 1.6 .1 2.1 .5-.9-.1 3.3 1.1 1.6-.8 .2 .5 .1-.7 .8 1.5 1 .2 .8-.8 1.8 .8 .9 1.1 .4-1.3 2.4 .6 .4 0 1.2 .1 1.1-.2 .6 .8 .4-.8 .8 .4 1.7-.1 .1 .2 1.3-.1 1.2 .4 .6-.6-.4 .4 2.2 .7 2 .2-1.4-.1-1.7-.7 .3 0-1.9 1.1-1.3 0-.4-.1-.9 .6-1.1 .2-.1-.3-1.8 .3-.6 .3-1 1.5-2.3-.1-.4 .1-.8-.2-2.3 0-2.4 .7 1.5 .8-1.4 .4 1.5 .4-1.6 .4-2.5 .6 2 0-2.1 1 1.7 .4 2.5 .2 .5 .3 .6 .7 .6 .5-.3-.5 2.5 1.7 1-.5 .5 1 1.4 0 .6-.8 2.1 .8-.7 .7 2.3 .8 1.5 .1 0 .9-.3-1 4.2 .8-2 0-1.7 .6-1.6 .3-1 .6-.8-.1-2.9 .4 1.1 .4-2.1 .1-.8 .4 3 .7 3.3 0 .4 .6 .5-.1 1.1 1 1.1 .3-.4 .4 .2-.5 3.1-1.3-.9 1.2 1.7 .5 .5 .6 1.8 .2 .6 .3 1.5 .2 .6 0 .4-.3 2.2-.1-.6 .3 .7-.6 1.9-.3 .9 .6-.5 .3 2 .6 1.8-.4 1.1-.3-.2 .6 2.5 .1-.9-.2 1.8 .9 1.8 0-.9-.5 1.6 1.5 1.5-1.5 .8 .5-.9 .3-.8-1.3-2-.3-.9 .8 .1 .6-2.1-.4 .2-1.1-2.5 1.1 .3-.1-1.3 .6-.5 .2-1.3-.6-1.6 1.2 1.4 .4 .9-.5-1.1 1 3.5-.5 .1-.9 1.4-.3 .9 1.3 .1-.2 2.3 .5-.7 .1 1.9 .9 1 0 1.1-.3 .1-.1 1.1-.5 1.9 0 .2 .8 .8 1 .8-.8 1.7 .8 1.5-1.2-1.9 0-1.3-.2-1 1.3-.3 .1-2.1 1 .2 .9-.8-1.7-1.5-.4-.9-.6-1.6 1.3 .7-.2-1 .5-1.6 0-1.1-.1-.2 0-1.6-.6-.2-.2-2.5 0-.6 .1-1.5 .4-.3 .4 .5-.2-1.7 1.1-1.8-.7-.9 .3 .6-.3-1.7-.9-1.1 .5-1.2-.2-1 .5-.2 1.3-3.6 .8 1.1-.5-.7-.6-1.1 .7-1.7 .2-.9-.6 .1 1-2.3-.2 .5 .7-1.1-.1-1.2 1-.5-.3-2.9 .2 5 .4-4 .7 .4 .9-4-.1 1.6 .7 .9 .1 1.2 .3 2.9 .8-1.8-.2 .5 .3-1.7 .9 1.9 0 1.4 .6 .5-.3 2.7 .9-.3-.7 .9 .3 2.4 .2 1.2 .4 .6 .1 1.5-.4-.2 2.3 2.2-2-.3 1.2 .6-.5 1.4 .8 .9 .1 0-.2 2-.2 .7 .7-.2-.1 1.8-.2 1.4 .8 .4-.6 .8 0 2-.5-.3-.1 1.4 .8 1.5 .2 .2-.8 1.5 1.6 1-.7 .2 .3 2 1.1 .1-1.4 1.6 .4 1.2 .7 .3-.3 2.3 1 .7-.3 .6 .2 .2 0 .6 .6-3.6 .4 .9-.1 2.1 .8-2.5 .1-.8 1.7-1.4 .2-1.8-.4-.2-.3-.9 .4-.2 .2-2.1-.3-.1-.2-1 .3-.3 .5-2.3-.4-.7 1.4-.4-.6-1.6 .2-1.5-.2-.2-.6-.1 1.4-2.3 .5-.3 0-1.5-.9-.6 .1-.3 .7-1.7-.3-.3 .4-1.3-.3 .2 .8-2.5 .1-.3 .8-.2 .3-1.8-1.1-1.5 .5-.3-.1-1.7 1-.6 0 .6 1.1-2.2-1.5-1.8 .7-.6 .7-.7-1.2 3.2 .7-.4 .8-3 .4-.6 .4-3.7 .9 0 .4-2.9-.2-.2 1.3-.2-.1-.8-.3 .6 1.2 .7 1.5 .3-2.1 1.8 2.4 .5-1.4 1.3 .6-.6 .7 .8-.1 2.2-.5 .7 .9 2.4-.2-1.7 .6 .6 .5 0 .2-.1 1.1-3.5-.1 .9 .2-.6 .2-2.2 .2-1 0 1.8 1.1 0-.8 2.6 .1 .8 .3 1-.3 .1 .6 1.3-.1 .4 .9 .7 .1 1.7-.9 .7 .3 2.2 .2 .7 .2 .4 .7-.1-.1 1.9 1.1 .2-.7 1.8 .2-.4-.8 1.1-.1-.3 .9-2.5-.1-2.3 .2 .4-.8-.6 1.5 0 .5-2.8-1.1-1 1.3-.8-1.4-.4-.2-1.5 .6-.4 1.1-1-.8 0 .6-2.4 0-.2-.2-.9 .2-1.4-1.2-1.9 .3-.1 1.7-1.7 0-.8-.2-.3-.7-1.3 .3-.7 .8-1.7-.5-.8 .4-1 0 .8 .5-2.5 1 .5 .9-2.1-.1-2.8 .6-1 .7-.9 1.1 .2 1.3 1.2-.2 1.4 .2 0 1 .6-.1 2.2 .4-.7-.6 2.1 .2 .7 .5 .8 .7 1 .1 .6 .2 1.2-.1 1.3-.5 1.4 .4-1.4 0 1.7 .9-.5 .2-1.9-.1 1.2 .8 1.4 .4-3.1 .3 1 .2-1.1 .3-.6 .1-2.2 .3 1.5 .6 1 .8-.3-.2-.6 .6 .1 .4 .9-.1 .3 .6 3 .4-.3 .3-.9-.1 .1 .6-1.9-.7-.4 .2-1.1-.8-.9 .8-1.7 .6-.2-.7-1.5 0-1.1-.3-.7 .7-1-.2 .5-.9-2 .9-1.1-.2-1.1-.5 .6 1.6-2-.6-1.7 .3 0 .1-1.4-1-1 1.2-.4 0-1.8 .3-.6-.1 0-.3-1.1-.7-1.8 1.2-.4 .3-1-.5-1.8-.3 .9-1-1.9 1.7-.2 1.3-1.8-1.3-1 1.2-.3 .9-1.7 .1 .3 .3-1.2 .6-1 0 .7 .9-1.4-.4 1.1 .9 5 .3-.7 1.1-1.3 .7-3.3 .4 3.2 .7 .6 .8 .1 .5 4.7 .4-5.8-.2-.7 1 1.9 0-2.9 .1 4.2 .7-5.1 0 1.4 .4-2.6 .5-1 0-.1 .2-.8 .4 .8 .2-3 .1 .5 .7-.7 .5-.8 1.7-4.3 0 2.5-1.4 .5 1.1 .3 .4 .4-1.4 2.1 1.6 .3-.8 1.9 1 .9-.4-.2 .6 1.9 .2 .8 .3-.4 1 2.8-.1-1 .3-.8 .1 3.6 .6 .7 .4 1.1 .1 .2-.1-1.5 .9 .9-1.6-.8 1.3-2.4 .1-.8 .9-.7-.2-.9-.3-.5 2.3 .1 .7 .2 .2 .4-.6 .8 .8 1.6 .7 .8-.6-.2-.6 3 .3-.3 .5 1.7 .3 .9 .3 .2-.1 2.6 .3 .4-.6 .3 1.2 .5-.5 1.5 .1 .2 .2 .5 .1-2.4 .6 0-.4-.7 .7-2.1-1.1-.4 1.6-.7-.5-1.5-.6-.4 .8-1.9 1.1-.4-.9-.4 .8 .3 .1-2.8 1-.9 1-.8-.4 .9 .9 1.9 .5 1.9 .4-1.3 0 1.7 .9 0 .3 3 1-2.1 .3-2.6 .5 .2 .5 1.7-.3 2 1-.6 .7 1.5-1.1 .5 .4 1.8 .9 .5 .1 .7 .7 2.2 .9 1.1 .3 1.9-.1-.4-.2 1.8 .8-.1 .5 2 .7-2.1 .7-3.6 .8-.6-.4-1-.3-2.1 .1-1.8 .4 1.8 .4-2.6-1.2-1.8 .8-.9-.2-1.3 1.5 .5-.3-1.8-.8 .1 .8-1.4 .1-1.6 .8 .2-.6-.8 .2-.8-.2-2.4 .6-2.8 .4 1.3 .6 2.3-.1-2.1 .4-3.2 .6 .7 .2 0 .3-2.7 .3-.7 .4-.6-.4-1.9-.3-.6 .3 0 1.3-1.6-1.4 .8 .9 1.1 1.3 .8 0 1.1 .2-.7-1.3 2.7 1.4 .6 .3 .2 1.5 2.7-.3 1.2-.9-.4 1.4 2.1 .1-2 .1-.4 .2-.9-.4 0-.7-2.2 1.2-1.1 .3 0 .1-1.8-1.1 .1 1.2-1.9-1.6-1.5 1.3-.2 .5-1.4-.4-.9 .5-2.3 .3 1-.8-1.8 .9-1.4 .2-.5-.9-1 .6-.1 .3-1.2-.8-2.7 .3 1 .2-1.6 1-3 .3 2.1 .7-.3 .2-.2 .5-1.6 .2-2.4-.1-.9 .2 .4 .5-2.3-.1 .2 1.2-3.1-.9 .9 .3 1.4 .2-2 1.5 1.8-.7 .8 1.4 .5-.5 .9 .5 3.2 1.7 .2-1.2 .4 .7 .6-.1 1.6-.5-.1 1.2 1 .1 1.5 .4 0-.1 2.1 .1 .3-.2 1.5 1.4 1.1-.5 .8-1.5 .5 .7 1.1-.1 .7-.3 .7 .6 1.5 .7 1.1 .3 1.6-.5 0 .5 .2-.8 2.1 .2 1.1 .6 .6 .2 .6-.8 1 1.2 2.2-1.1-.5-.4 .6 .2 2.8 .6 .6 .5 .2-1.1 .7 0 1.5 .5 .4 .3 1.7-.1 .5-.1 .7-.2 .6-.1 .4-.4 1.8 0 .9 0 .1-.3 2.2 .7 .1 .2 1.6 .9 .8 .4 1.6-1.6 .7-.3 1.3 1.4 1.5-.6-2.4 .3 2.9-.2 .4-.1 .3 .4 1.1 .7 2-.8-2.4-.6 .3 .5-1.7 0-.2-.9-1 .6-1.4 1.4 .7-.3-2.3-.4-.5 .2-.1-.1-2.6 .2-.1-.2-1.1-.1-1.2 .5-1.2 .5-1.1 .1-1.8-.6-.3 .1-.7 .9-1.1 1 .5-.6-2.5-.4-1.8-.3 2.2 1.1 1.3-.4 .8 0 .4 .1 .7-.6 3.4 .8-.8 .5 1-.3-.1 .1 1.5 .8 1.5-.1 .5-1.4-.4 .4 1.7 .4 1.6 1.1 .3-.4 1.8-.2 1 .2 .9 .2-.3-.4 2.1 .1 .1 .1 1 0 2.2-.8-.4 .6 2.6 .7-.3-1 1.1 .2 .4 .1-.1 .6 1.8 .1 1.1 .1 1 .2 1.4 1.1-2.4-.4-.4-.6-.9 1.4 .5 0-2.6 1.2-.2-.4-1 .8-2.1-.9-1.6 .5 1 1-1.5-.2-.1 .6-.8-.1 1.9-1.5 1.3 .7-.2 .5 1.4 .2 2.2-.1-.5 .4 1.8-.8-.8 .7 1.6-.1 1.8-.1-.1 .3 2.1 .3 1.6-.4 .2 .8 1.8-.8-.7-.3 1.5 .9 2 .4 .3-.5 1.2-.3 .1-.8 2.1 .9-1.4-.7 2.2 .5 1.4 .7 .9-.8 1.1 1.8-.1-1.6-.2 .6 .9-.5-3.2 1.2-1.6-.3 .1-.4-.6 .7-1.8 .1 .7-.2-1.9 1-.5-.4-1.5-.4-.8 .3-.3 .6-1.1 .8-1.5-.5-1 .5-.3 .2-1.5-.3 .4-.3-2.5 1.2-.5-.5-3.1 .4 3.9 .6 .2-.1 3.9 .4 2.7 .6-3.7 1.2 2-1.1-1.4 .7 1.7 .5 .7-.9 2.6 .8 .5-.5 0 .9 1.8-.7-1.1 .9 2-.9 .3 1.1 2.8 .1-.9-.7 1.5 .4 1-.8 1.4 .8 1.4 .7 1-1.3-.5 .9 .2 1.3-1.9 .4-1.8 .1 1.9-.1-.6 .7 .2-.3-2.2 1.4 .2 .2 0 .4-1.9-.5-2.2-.1-1.3-.3-.2 .8-.5-.1-.7-.1-1.8 .4-.3 .8-1.7-.9 0 1.2 0 1.2-2.7-.4 .4-.2 2.3 .5-.3-.7 2.4 1-.1 .1 2.2-.6-.3 1.2 1.4-.2 .3-.3 3 .9 .1-.1 .7 .6-2-.6-.2 .7-1.7 .9-.1-1-1.7 1.4-.9-1.2-.4 1.2-.7-.2-.9 1.7-2.7-.3-.5 .4-1.7 .7 1.5-.2-1.1 .3 0 .6-.7 0-1 1.6-2-.8 1.6-.3-.2-.2 2-.5 1.5 1.2-.7 .3 1-1 1 .1 2.4 .7-.1 .4 1.1 .1 .6 .9 1.4-1.2 2.5 .7-1.2 .1 2.1-.2 .4 .3 .7 .9 .5-.3 2.5-1 .6 .1-.2 .5 1.7-.2 1.1 .3 .5 .5 2.2-.1-.5 .9 1.6-1.2 .6 .5 1.7 .3 .4 .7 .9 .6 .5 .3 1.7-.7 .7-.4 1.8 .6 .2-.8 1.4-.3 .3-.2 1.5 1.4 1.5-.6 .1 .6 .4-.3 2.2 .6-1.2-.7 2.5 .9 1.6-.5-.9-.5 2.1 .4 1.2 .5 1.4-.4 .4-1.1 .6 1.5-.4-.3-.7 .3-1.5 .1 0 .1-2 0-1.7-.1 .2 .7-1.5-.8-1.1 .5 .7-1.3-3 1 1 .2-1.4 .2-2-.4-.4 1.1-2.7-.9 1.4 0-1.7 .6-.6 .2-1.1-.8-1.3 1.5 .2-1.1 2.8 1 .6-.8 .6-.1 .9 .7 1.4-.1-.1-.6 2.1 .6-.4 1.4 2.6-.8 0 .1 1 .6 1.6-1.1-.4 1.4 2.1-.2 .6 .9 1.6-.3-1.8-.9-.3 .4-1.6 .5-.9-.6-.1 .3-1.2-.4-2.3 .9 .7 .7-1.7-.1 0-.7-1.5 0-1.2-.2-.1 1.7-1.7-1.6-.7 1.5-1.1 0-.5 .2 .1-.6 .9 .7 1.9-.2 .3 .4 1.6-.3-.3-.7 2.3 .7-1.4 .1 2.1-.4 1 .5 .6 .4 .9 .3 1.5 0-.3-.1 1.7-.6 .5 .7 2 .1 .3 .3 1.2-.9 1.4 .2 .8 .4-.3-.8 1.1 .4 1.1-.2 1 .2 .9 .1 1.3 .3-.1 .7 2.5-1.4 1.3 .6 1.3-.6 .3 .1 0 .5 1.9-.6 .1 0 .1 1 2.1-.5 1 .2 .3 1.1 1.5-.8-.1-.4 2.2 .5-.1-.5 2 .7 2.1-.7 0 .4 1.1-.4 .7-.2 1.3 .9 .2 0 1.9 0 1.4-.1 .3 .7 1.2-.2 .9 0 1 .8 1.1-.9 .4-.9 .7 .7 1-.6 .5 .8 .2 .9-1-1.3-.6 .5-2.3 .3 0 .5-.8-1-2.2-.1-.4 .8-.3 .3-.9-.1-1.7 .2-.1 .2-1.4 .4-.9-.2-2.7-.6 .2-.4-.7 .1-.5 .4-.5 .8-1.9-.4-.3 .5-1.3 .5-1.6-.8-.3 .2-1.1 .5-.3 .5-.9 .1-.8-.4-1.5 1.3-.5-1.5-1.3 1-2.2-1.2-.1 .7 0 1.8-.9-.2-1.5-.9-.7 0 .1 .4-2 .2-.1 .2-1.7 .4-1.8 .2-.7 .3-.5-.6-.8 .5-1.2-.5 1.8 .8-3.8-.5-.2 1.2-1-.3-1.2 0-.5 .9-1.9 .1-.6 0-2-1.1 .2 .9 .3 .2-1.1 0-1.9 .7-2.5-.4-.2-.1-.1 .1-1.7-.3 .1 .3-1.3 .4-1.8 .7 2 .4-3.1 1.1-1.1 1 1-.8-.5 .2 1.4 0 1.9-.6 1.7 1.3-.8-.5 2.2 1.3 1.1-.2-.1 1.4 .5 .3 1.1-1.4 .3 1.6-1.5-.2-1.5 .9 1-.3-1.5-.9-1.2 .1-1.3 .9 .2 .2-1.6-1.1-.3-.2-2 .5-1.5 .3 1.2-.6-2.1 .3-.4 .4-1.4 .7-.3 1-1.8 .1-1.8-.3 1.2-.4-2.8 1.3-.7 .2-.5-.2-.1 .5-1-.2-.4 .2 .9 .3 2.1 .3 .3 .3 1.1-.2 .1 1.1 1.4 0 .9-.3 .7-.1 1.7 1.1 .4-.5 .9 .5 1.4-.9 .5 .2 .6 1 .3 .5 2.2-.7 1.5 .9-.2-.1 2.3 .8-.7 .1 1.4-1.3-.2 .6 1.7-1.1 1.4 1.1 1.8-.3 .9 1.3-.3-.7 1.6 .7 1.4-.6 .4 .2 1 .7-.6-.2-1.6 .4-.4 .1-1.4 .1-.6-.8-.5 .7-2 .1-.4 1.5-1.6-.6 .3-.7-1.5 .9-1.6 .4 0-.4-1.8 0-.3 .6 .1 .8-2.7-.1-.9-.1 2.2 1-3.1 .2-.2 .6-2.8 .1-1 .8-.7 .2-1.3 .1-.9 .5 .9 .6-3.1 .1 .4 .4 1.2 .8-3.2-.3 .6 1 1.1 0 2.1-1.1 1.1 .7-.7-.2 2.8 .1-.2-.3 1.4 .3 1.1-.1 .7 .2 .7 .5 .2-.3 1.8 .7 1.4-1-.1 .4 2.1 .3-1.2-.5 2.9 .5-1-.5 3.9 .3 0 .1 1.3 .7 .4-.8 1.5 1.1 .4-.4 .5-.2 .5 .3 1.1 .8 1.7 .9-1.6 1.2-2.1-.1-1 .1-.4-1 .2 1.8 .2 .3-2.7 .1-.2-.5-2.4-.7 .1 1-2.1-.6 .7 .7-2.1-.2-.1 0-1.8-.5-.7 1.3-1.1 .1-.9-.3-.3-.1-.3 .9 .1-1.2-3.2 1-.1-.1-1.1-.5-.1 .2 1.2 .3 1.9-.9 .5 .2 .9 1.2 .7 .1 1.1 .5 1.5-.7 .6 .6 1.4 0 .5 1.3 .2-.8 2.3 .8 1 .1-.1-.2 1.7 .3 .3 .7 1.1 .6 .8 .4 1.2-1.3 .7 .8-.7-.5-1.3-.4 0 .7-2.7-.3-.2 .6-1 1-.7-.5-1.2-.8-.8 .3-.9 .4 0 .1-1.3 0-.8 .7-.2-1.5-.4 1.2-2.3 .1-1.3 .1-.8 .2-2.5-.3 .1 .9-.3-.8-1.1 .9-.8 .2-1.6-1-1 .2-.7 .3-.9-.5-.8 1.4 .3-.4-2.5-.1-.6 .8-1.2 .3-.4-.8-1.2 .3-1.5 0 .6 .3-1.9-.3 .5-.3-2.5 .9-.6-.2 1.5 .6 1.6 1.3 .9 1.6-3.3-.7 1.3 0 1.4 .2-.4 .4 1.6 .5 .1-.1 1.9 .1 .5 .5 1.6 0 1.1-.1-1 .2 1.7-.1-1.3 1.6-1 .2-.4 0-2.1-.6 1.4 .9-2.4-.9-.8 .5-1.6-.1 0 .4-.8 .1-.7 .5-1 .3-.8 .7-1.3-.7-1.3 1-.5-.6-.9 .1-1.3-.1-.2 1-.7 .4-2.3-.4-.1 .6-.6 0-.8 0-1.4 0-1.3 .9-.4-.7-1.1 .9-1.1 .9 .3-.8-2.4 .3-.6 .4-2.3 .9 1.1 .2-1.3 .2-1 .1-1 .1-1 .1-.9 .2-1 .1-1 .1-1 .1-.9 .2-1 .1-1 .1-1 .1-.9 .2-1 0 1 0 .9 .1 1 0 .9 0 1 .1 1 0 .9 .1 1 0 .9 0 1 .1 1 0 .9 .1 1 0 .9 0 1 .1 1 0 .9 0 1 .1 .9 0 1 .1 1 0 .9 0 1 .1 .9 0 1 .1 1 0 .9 0 1 .1 .9 0 1 0 1 .1 .9 0 1 0 .9 .1 1 0 .9 0 1 .1 .9 0 1 0 .9 .1 1 0 1 0 .9 .1 1 0 .9 0 1 .1 .9 0 1 0 .9 .1 1 0 1 0 .9 .1 1 0 .9 0 1 .1 .9 0 1 0 .9 .1 1 0 1 0 .9 .1 1 0 .9 .1 1 0 .9 0 1 .1 .9 0 1 0 1 .1 .9 0 1 0 .9 0 1 0 .9 .1 1 0 .9 0 1 0 1 0 .9 0 1 .1 .9 0 1 0 .9 0 1 0 1 0 .9 .1 1 0 .9 0 1 0 .9 0 1 .1 1 0 .9 0 1 0 .9 0 1 0 .9 .1 1 0 .9 0 1 0 1 0 .9 0 1 .1 .9 0 1 0 .9 0 1 0 1 0 .9 .1 1 0 .9 0 1 0 .9 0 1 .1 .9 0 1 0 1 0 .9 0 1 0 .9 .1 1 0 .9 0 1 0 1 0 .9 .1 1 0 .9 0 1 .1 .9 0 .9 0 1 .1 .9 0 1 0 .9 .1 1 0 .9 0 1 .1 .9 0 1 .1 .9 0 1 0 .9 .1 1 0 .9 0 1 .1 .9 0 1 0 .9 .1 1 0 .9 0 1 .1 .9 0 1 0 .9 .1 1 0 .9 0 1 .1 .9"/>
<text class="t" x="964.5" y="121">INDUSTRIALS</text>
<path d="M1217.2 350H1271" stroke="#0000ff" stroke-width="4.2" stroke-linecap="round" fill="none"/>
<text class="lg" x="1289" y="360">(12.7)</text>
<text class="d" x="1644.6" y="290" textLength="51.6" lengthAdjust="spacingAndGlyphs">3/24</text>
</g>
<g id="panel3">
<rect x="104.2" y="419.9" width="785.4" height="298.8" fill="#000"/>
<rect x="109.8" y="424.7" width="774.2" height="289.2" fill="#ffffe6"/>
<path d="M87 716.7H104.7M97 701.9H104.7M97 687.2H104.7M97 672.5H104.7M97 657.8H104.7M87 643.1H104.7M97 628.3H104.7M97 613.6H104.7M97 598.9H104.7M97 584.2H104.7M87 569.5H104.7M97 554.7H104.7M97 540H104.7M97 525.3H104.7M97 510.6H104.7M87 495.9H104.7M97 481.1H104.7M97 466.4H104.7M97 451.7H104.7M97 437H104.7M87 422.2H104.7" stroke="#000" stroke-width="2.2" fill="none"/>
<text class="ax" x="80" y="725.8" text-anchor="end">10</text>
<text class="ax" x="80" y="652.2" text-anchor="end">15</text>
<text class="ax" x="80" y="578.6" text-anchor="end">20</text>
<text class="ax" x="80" y="505" text-anchor="end">25</text>
<text class="ax" x="80" y="431.4" text-anchor="end">30</text>
<path d="M107 717.7V739.7M155.8 717.7V739.7M204.5 717.7V739.7M253.2 717.7V739.7M302 717.7V739.7M350.8 717.7V739.7M399.5 717.7V739.7M448.2 717.7V739.7M497 717.7V739.7M545.8 717.7V739.7M594.5 717.7V739.7M643.2 717.7V739.7M692 717.7V739.7M740.8 717.7V739.7M789.5 717.7V739.7M838.2 717.7V739.7M887 717.7V739.7" stroke="#000" stroke-width="4" fill="none"/>
<text class="ax" x="131.4" y="750.7" text-anchor="middle">06</text>
<text class="ax" x="180.1" y="750.7" text-anchor="middle">07</text>
<text class="ax" x="228.9" y="750.7" text-anchor="middle">08</text>
<text class="ax" x="277.6" y="750.7" text-anchor="middle">09</text>
<text class="ax" x="326.4" y="750.7" text-anchor="middle">10</text>
<text class="ax" x="375.1" y="750.7" text-anchor="middle">11</text>
<text class="ax" x="423.9" y="750.7" text-anchor="middle">12</text>
<text class="ax" x="472.6" y="750.7" text-anchor="middle">13</text>
<text class="ax" x="521.4" y="750.7" text-anchor="middle">14</text>
<text class="ax" x="570.1" y="750.7" text-anchor="middle">15</text>
<text class="ax" x="618.9" y="750.7" text-anchor="middle">16</text>
<text class="ax" x="667.6" y="750.7" text-anchor="middle">17</text>
<text class="ax" x="716.4" y="750.7" text-anchor="middle">18</text>
<text class="ax" x="765.1" y="750.7" text-anchor="middle">19</text>
<text class="ax" x="813.9" y="750.7" text-anchor="middle">20</text>
<text class="ax" x="862.6" y="750.7" text-anchor="middle">21</text>
<path class="ln" d="M108.1 619.9l.9 .1 .4 .2 .5 .9 .5 .9 .7 1.1 .7 .7 .3-2.8 .9 .3 .7-1.5 .5-.8 .7-1 .8 1.9 .8-.1 1.3 1.7 .4-.8 .8 .5 1.1 .9 .5 1.6 1-.4 .5 2 1.3-1.8 2.4-4.3 0 .8-.2 1.6-.2-.9 .2 1.5 .6 1 0 3.2 .2-.4-.1 1.2-1 .6 1.5 1.3-.2 1 .8 1.8 .1 .5 .2-1 1.5 1.6-.4 1.2-.1 .1 .5 1.8-.1 3.5 .2-.4 1.3 2.7 .5-5.1 1.2 .1 0 1.1 1-.3-1.5 .9-.9 2.1 1.2 .8 .4 .6 .8 1.1 .5 .9-.4 2.8 .5-4.8 1.2 .5 .3-.1 .8-.4 .2-4.2 .6 2.6 .1-.3 .7 1.3 .5-1.5 .5-2.9 0-2.5-.1 1.1 1.4-.6-.8-1.5 .3-.9 .1-1.4 1-1.1 .6-.1-.2-.4 .4-1.7 .3-1.6 .6 1.7-.5-1.9-.2-1.9-.3-1.4 .5-.9 .4-1.7 .2 .7-.7-1.7-.6-.1 1-1.8 .2-1.4 .4 .8 .1-1.1-.4-1.1 0-1.5 .9-1 .8-1.7-1 .8 .4-1 .5-1 .7-2.1 .5-.9 .7-.4-.6-.8 .6-1.1 .5-.8-.6-.7 1.7-4.1 .4 3.2 .4-2.7 .3-1.6-.1 .4 .9 .4 0-1.4 1 .1 .6-1.5 .2-2.6 .6-1.9 .8-1.4 .4 .8 .4-.1 1.2 .3 .6-2.6 .5 .3 .7 1.9 .7-1 .3 0 .1-.4 .9-1.5 .3-1.7 .5-1.4-.5 1.8 1.3-5.9-.2 4.1 .5-2.4 1 .2-.4-3.1 .3 2.3 1.4-3.7 .3 .2-.2 2.2 .8 .3 .9 1.9-1.6 .1 .6 1.1-.5 1.1 .2 .1 1.4 1.6-1.1-.4 0 1.9-.5 1.5-.1 .2 .6 1.9 .2 .3-.4-.2 1.1 2-1.1 1.1 .5 .9-.2 1 .1 1.1 .9-1.5 .4 .4 .1-2.7 .6 .4-.2 .2 .4 2.4 .2-1.8 .4 .7 1.2-1.9-.7-5 .5 .8 .4 2.2 1.4-4 .3 0 .6-3.4 1.1 3.3 .3 1.2 .4 4.1 .7 .6 .6 0 .4 .3 .9-2.3 .2-1.8 .7-1.9 .6-.2 .1 1 .7 .1 0 .1 .6 .7 .5-.1 0 1.5 .9 2.7 .1-.3 .4 .4 0-.8 .4-2 1.2 1.2 .2-2-.7-1.6 1.5 1.4-.1 .3-.3 .8 .6 1.8-.1 1.8-.2-.1-1 1.4 1 .9 .4 .6 1.1 2.3-1.5 .2 1 .6-.3 .9 .7 1.3-.1 .6-.5 1.7 1.2 .8-.1 .9 .9 .1-.1 .8-.4 1.2 .1 1.5 .3 2.1 1.3-1.7-.1 2.7-.7-.8 .3 3.4-.6 .1 .1 2 0-1.2 .9 1.8-.8-.4-.7 1.8 .3 .2-.2 1.3 1.1 2.4 .2 .9-.1-.9 0 1.2 1.5 .2-.8-1.9 .8-.2-.3-1.4 0-1.3 1.4-1.1 1.6 .4-1.8-1.6 1.4-1.2-.6-1.6 .7-.3 .5 1.3 .1-3.3 .8 .4 0-.2 .4-1 .7 .4 .5-1.1 .4-3 .3-1.9-.3 2.3 .8 .4 .9-.3 .1 4.2 .4-.1-.1 .2 .9 2.6-.3 1.6 .1 0 .5 .6 .2 .8 .2 1.5 .3 0 .7 1.4-.6 .9 .8 1 .2 .3-.4 1.9-.1 1.5 0 1.2-.8-.2 1 1.3 1.1 .3-.8 1.2 .3 1.9-.1-.4 .5 1.8 .5 1.1-.7 1.4-.2 .5 1 .4 .2-.5 1.4-.3 .4-1.3 .1-1.6-.4-.1 .3-1.8 .5-.4 .1-1.1 .3-1.1-.3-.6 .2 2.3 .1-.7 .1 .7 .1 1.2-.1 1.3-.2 1.3 .4-.1 1.2 1.6-1.6-.2 .6 1.7 .8 2.3-.7 .1 .2 1.2 .2-1.1 .8 2.4-.4 .1 .7 1.8 .5 .1-.7 1.7-.2 1.3-.3 0 .5 .4-.1 .9 .4 1.8 1.2 1 .4 .9-1.1 .6 .8 2.2 .3 .2 .4 1-.6 1.5 .4-2.3 0-.6 .7 .5 .1-1.4-.8-1.5 1.5-.7-.7-1.6 .5-.2 0-1.5 .3-.4-.1-.2 1.3-1.9-1 .2-.2-1.3 .8-.8 0-2.3-.5-.2 .6-.6-.4-.3 .3-2.3 0-.6 .6-2 .6 0-.7-.9 1.1-.4-1.8 3.4 .8-2.3 .8-3.1 .2-2.6 .7-.6 .4-3.4-1 2.4 .1 1.1 .4 .7 .7 1.6 .4-.2-.9 1.2 1 1.7-.3 .6 .8 1.3-.5 1 .5 0-.6 2.2 1.2 .6-.7 .9 0 .1 .1 1.6 1 1.3 .8 .1-.6 1 .6 .2-.2 1.4 .1 2-.1 .1 .3-.6-.8-.4 1.2-.6 0-2-.1-.4-.6-2.7 .8 .1-.9-.5 .5-.5 .6-1.6-.2-1.4 .1-.7 1.1 .3-1-2.2-1 .2 .9-2 .7-1.2-.4 .9-.1 1.3 .5-.6 .6 1.1 1 1.4-.1 1.7 .5 1.1-.2 1.3 .5 .6-.2 .7 1.6-1.8 0 .4-.4-1.9 .8-.6-.4-.6-.1-.7 .7-1.3-1.1-.8 .5-1 .2 .5 .7-1.4 0-1.6 0-.8 .7-.5 .3-3 .1-1.2 .5 2.3 0-1.6 .4-.2 .3-1.8 .1 1.2 .2-3.2 .1-2.1 .4 .8 .3 1.7 0 1.2 0 1.4-.2 .6 1.3 1.5-.8 0 .1 1 .9 0-.3 1.7 .3 .1-.2 1.1 1-.1 .3 2.4-.2 1.8 1.2 .5-1.1 .1 1.4 1.7-.5-.1 0 1.5 .7 1.9-.3 .8 .2-1-.1 2.2 .9 1.7 .3-.5 0 1.7 1.3 .8-1.4-.2 .4 2.4 .1 1.8 1.4-.1-.3 1.5-.2 .5 1 .5 0 1.8 0 .4-.1 .7-.5 .5-.2 2 .7-.7-.2-.6-.1-2.4 1-2-.2 .5 0-1.1 0 .1 1.1-1.7-.5-1 .5-2.4-.3 1.7 0-1.6-.4-2.2 .3-.7 .5-1.1 .2 .2-.2-1.2 1.3 0-.5-2.6-.2-.5-.2-1.3 .9 .2-.6-1.6-.1-.5 .3-2.5 0-.3-.2-.9 .8-1.3 0-.3-.4-2.8 0 .1 .4 .4 .4-1.7 0-2-.4-.5 .7-.9-.8 .3 .6-1.5 .2-.6 .4-2-1 .4-.2-1.9 0-1.7 .1 .3 1.1-1.2 .1-.9 .3-1.7 .3-.3 .6-1 0-.4 0-.7-1.2-1.9-.3-.3 .8 .5 .6-1.3 .8-.9 1.1-1.7 .1 1.6 .2 .9 0 1.7-.9-.3 1.5 1.7 .4 .1-.1 1.8-.6 .1 .1 .8 .8 1.5-.6 .8 1 1.2 0 .9 .1 .9 0 1 0 .9 .1 1 0 .9 0 1 .1 .9 0 .9 .1 1 0 .9 0 1 .1 .9 0 1 0 .9 .1 .9 0 1 .1 .9 0 1 0 .9 .1 1 0 .9 0 .9 .1 1 0 .9 0 1 .1 .9 0 1 .1 .9 0 .9 0 1 .1 .9 0 1 0 .9 .1 1 0 .9 0 .9 .1 1 0 .9 .1 1 0 .9 0 1 .1 .9-.8 1.6 .5 .8 1.5 0-.8 .8 .5 2.4-1.3 .4 1.1 0-.7 1.4-.1 1.7-.1 .4 .4 1.6 1 .9-.8 1.7-.3-.1 .4 1.3-.3-.3 .2 2.2 1.4 .3-.4 1.5-1.2 .7-.2 1.2 .6 1.2 .2 .5-.4 1.8 .4-.7 1.1 1-.6 1.3-.1 1.3-.3 1.4 .7-.2-.1 3.1-.5-.6-1.1 1.1 1.2 1.5-.3 1.1 1 1-.5 .2 .6-.1 .3-2.5 0-.1 .6-1.5 .1-.8 .5-1.5-.8-.2 1.2-1.8-.8 .2 1.9-2.1-1 .8-.1-1.4 .7-1.3-.3-.6 .2-1.6-.4-.4 1.1-2.2 0 .3-1.5-1.2 2.7-.2-1.2-1.8-.6-1.1-.1-.6 1.1-2.2-.6 .8-.1-1.6 0-2.1 .1-1.4 .1 0-.3-.7 1.1-2.6-1 .9 .4-1.9 0 .5-.2-1.2-1-1.5 1.3-2.5 .6-.6 .3-.1-.9-1.4-.1-.8 .6-1.8-.1-.6-.4-2.3 .7 1.1 .3-1-.1-1.4 .1-.9 0-1 0-.9 .1-.9 0-1 .1-.9 0-1 0-.9 .1-.9 0-1 0-.9 .1-1 0-.9 .1-1 0-.9 0-.9 .1-1 0-.9 0-1 .1-.9 0-.9 .1-1 0-.9 0-1 .1-.9 0-.9 0-1 .1-.9 0-1 .1-.9 0-.9 0-1 .1-.9 0-1 0-.9 .1-.9 0-1 .1-.9 0-1 0-.9 .1-.9 0-1 0-.9 .1-1 0-.9 .1-.9 0-1 0-.9 0-1.3 .5 1.8 0-4.2 1.2-.8 .1-.1 .6-1.4 .1-.1-1.3-1.1 1.6-.5 .2-1.6 .5-2.2 .8-.1-.9-.9-.3-2.1-.3 .4 .6-.5 .5-2-.3 0 .3-1.4-.1 .5 .9-1.1-.7-1.7-.2 .2-.1 1.6-.2 .9 .8 1.1 .5 .1-1.4 2.3 1.2 .8-.2 .6 .7 1.7-.2 .2 0 .8-.8 1.1-.5 .2 1.2 1.8 0 .7 0 1.8 .3 .5 0 .4-.2 .4-1.1 1.9 1.4 .5 0 1.4 .5 1.1-.7-.4-.3 2.9 .5-.4 0 2.7 .1-2.5-.5 2.8 .6 .2-.1 2.7 .4-.1-.8 1.3 .7 1 0-1.3 .5-1.3 .1-.4-.9-.9 1.2-1.6 .6-.4 .1-.8-.5-1.1-.7-.9 1.2-1.1-.9-1.7 .5 .6-.1-1.6-.5-.3 .9 .3 .1-3.3-.5 .3 1.6-.5-.1-1.1-.5-3.3 .5-.5 .8-.6 .4-.1-.6-1.8 .1-.8 .1-.3 .3-2.2-.5-.1 .8 .2 .4-2.2-.2-1.5-.3-.4-.2-.4 .2-1.1-.2-1.2 .1-.4 0-1.8 .3 0 .6-1.1-.9-1.8 .1-.2 .5 0-1-2.2 .2-1.1-.1 .7 .9-2.3-.6-.2 .7-1.2-.3-2.5 .2 1.6-.6 1.2-.3 0 .4 2 .2 .8 .9 1.4 .1 0-.7 1.8 .4 .5-.5 .7 .1 1.9-.5 .8 .9 .4-.2 1.4 .3 1.2 .7 1.5 0 .9-1.3-.6 .9 2.4-.8 .1 .1 1.8 .9 .3-1.3 .9 .6 1.7 .3-.3 .4 1.7 0 .8 1 1.5-.3 .5-1-.1-.2 2.4 .6 0 .6 1.1-.6-1 .7-1-1.3-.9 .2-1.3 .2-1.1 .1-.8 .1-1 .1-1.1 .4 .1 .2-1.3-.5-.8 .3-.4-.4-1.4 .8-.7 .7-.1-.4-1.6 .4-1.7 .1-1 0-.9 0-1 0-.9 .1-1 0-.9 0-1 0-1 0-.9 .1-1 0-.9 0-1 0-.9 0-1 .1-.9 0-1 0-1 0-.9 .1-1 0-.9 0-1 0-.9 0-1 .1-1 0-.9 0-1 0-.9 .1-1 0-.9 0-1 0-1 0-.9 .1-1 0-.9 0-1 0-.9 0-1 .1-.9 0-1 0-1 0-.9 .1-1 0-.9 0-1 0-.9 0-1 .1-1 0-.9 0-1 0-.9 .1-1 0-.9 0-1 0-.9 0-1 .1-1 0-.9 0-1 0-.9 0-1 .1-.9 0-1 0-1 0-.9 .1-1 0-.9 0-1 0-.9 0-1 .1-1 0-.9 0-1 0-.9 .1-1 0-.9 0-1 0-.9 0-1 .1-1 0-.9 0-1 0-.9 0-1 .1-.9 0-1 0-1 0-.9 .1-1 0-.9 0-1 0-.9 0-1 .1-1 0-.9 0-1 0-.9 .1-1 0-.9 0-1 0-.9 0-1 .1-1 0-.9 0-1 0-.9 .2-.6 .4-.9 .5-.9 .9-.2 .5-2.9 .2 .3 .4-1.8-1.3-.3-.4-1.5 0-.6 .7-.5 .3 .1-.7-2 .8-1.6-.6-.5 .1-.9 .6-.4 .2-.9-1-1.4 1.1-2-.5 .2-.3-.6-.5-1.8 .7-1 .9-1-1.8-.9 2.1-.2-.4-1.7-.5 1 1.4 .8-.9 1 .2 1.6-.3-.3 .6 .8-1 1.4 .3 1.3-.4 .7 1.2 .9-.5 1.5 .5 .6 .1 1.4-.3 2-.7-.4 .3 .5-.6 1.1 .1 1 .3 1.3 1.1 0-.2 1.6 .1 1 .7 1.6-.6 1-.1 .3-.2 .2-.3 1.5 .5 1.9 0-.1-.3-.3 .4-1.3 .2-.9-.2 .5 .3-1.6 0-1.6 .5-.2-.5-1.9 .4-.8-.7-1.1 0-1 .7 .6-1-1.4 .6-.7 .7-1.6-.4-1.2-.7-.5 1.2-.5 .6-1.6-1.4-.7 1.4-2.1-.2 .2-.3-1.6-.7-1 .4-.7 .2-1.7-.5 .2 .3-2.1-.9-.9 1.7-.1 .1-.6-.2-1.6 .4-2.4-.6 1.5 .5-2.6-.3-.9 .3 .1-.1-1.3 0-.8 0 .9 0 1 .1 .9 0 1 0 .9 0 1 0 1 0 .9 .1 1 0 .9 0 1 0 .9 0 1 .1 1 0 .9 0 1 0 .9 0 1 0 .9 .1 1 0 1 0 .9 0 1 0 .9 .1 1 0 .9 0 1 0 1 0 .9 0 1 .1 .9 0 1 0 .9 0 1 0 1 0 .9 .1 1 0 .9 0 1 0 .9 0 1 .1 1 0 .9 0 1 0 .9 0 1 0 .9 .1 1 0 1 0 .9 0 1 0 .9 0 1 .1 .9 0 1 0 1 0 .9 0 1 .1 .9 0 1 0 .9 0 1 0 1 0 .9-1.1 .2 .7-.4 1.6-.9-1.4-1.7 .5 .3 .4-1.5 .4-.3-1.5-2 0 .2 .2-.2 1-2.1-.8-1.1 .2-.3 .2-2 .1-1-.6-.3 0-1.2 .3-1.2-.4 .3 .9-1 .5-1.2-.8-1.4 .8-2.5 .8 0-.4-1.2-.7-1.2-.4-.6 .9-.1-.8-.8 .4-1 .8-.3 .2-1.6-.2-.7-.2-1.5 .1-1 0 1 0 .9 0 1 0 .9 0 1 0 .9 0 1 0 1 0 .9 .1 1 0 .9 0 1 0 .9 0 1 0 .9 0 1 0 .9 0 1 0 1 0 .9 0 1 .1 .9 0 1 0 .9 0 1 0 .9 0 1 0 1 0 .9 0 1 0 .9 0 1 .1 .9 0 1 0 .9 0 1 0 1 0 .9 0 1 0 .9 0 1 0 .9 0 1 0 .9 .1 1 0 1 0 .9 0 1 0 .9 0 1 0 .9 0 1 0 .9 0 1 0 1 0 .9 .1 1 0 .9 0 1 0 .9 0 1 0 .9 0 1 0 1 0 .9 0 1 0 .9 0 1 .1 .9 0 1 0 .9 0 1 0 1 0 .9 0 1 0 .9 0 1 0 .9 0 1 0 .9 .1 1 0 .9 0 1 0 .9 0 1 0 .9 0 1 0 .9 0 1 .1 .9 0 1 0 .9 0 1 0 .9 0 1 0 .9 0 .9 .1 1 0 .9 0 1 0 .9 0 1 0 .9 0 1 0 .9 .1 1 0 .9 0 1 0 .9 0 .9 0 1 0 .9 0 1 .1 .9 0 1 0 .9 0 1 0 .9 0 1 0 .9 0 1 .1 .9 0 .9 0 1 0 .9 0 1 0 .9 0 1 0 .9 .1 1 0 .9 0 1 0 .9 0 1 0 .9 0 1 0 .9-.8 1 1 .5 .1 1.1-.2 1.3 .9 .6-.3 1-.3 1.5 1-.4-.4 1.3 .2 1.6-.5 .8 1.1 1-.3 .1 .7 2.3-.4 .4 .9 2.3-.4-1 .1 .9 .3 2.5-.5-.8 .7 2.2 .5 .8-.7-.1 .9 .8-1.5 .7 2.1 1.6-.8 1.8 .8 .1-.2 1.2-.5 1.1 0 1.7 .2-.2 .6 1.8 .6-.8-1.1-1.5 .2-1-.1-.6-.7-.2 .7-3.1-.1-.3 .3-1.4-.1-.3 0-1.1 .1 0 .5-1.7-.8-.2 1.1-2.3-.6 .9 .5-2.7-.5-1.1 .9-.6 .1-.1-1.4-1.1 1.4-.9-.1-1.4-.2-.5 .8-.7 .1-2.4-.3 0-.3-.8 .4-.4 .4-1.8-.3-.2 1-1.5-.8-2.3 .6 .6 1.3 0-.3 2 .4 .2-.7 1.6 .3 1.1 .7 1 .1 0 .2 2.3 .7 1.7-.8-.7 1.1 1.6-.2 .6 1.2 .6-.2 1-.7 1 0 .4 .2 2.1-.3 .1 .9 .2-.2-.6 0-2.3 .6-.7-.5-1.7 1.2 0-.5-1.2-.5-.3 .4-.6-.6-1.3 1.8-.9 .1-1.1 .3-.6-.6 2.4 .7 .7-.5 .4 .3 .3 .2 2.7 .2 .9 1-1.4 .2 2.9-1.1 1.1 1 1.8-.5 .6 1 1.3 .1-2 .2-.2-.1-.4-.6-3-.4-.3-.2 0 .9-2.3-.6 .5 .8-1.1 .8-2-.7-1.3-.4-.2 1.2 .2 .1-2.7-.4 .8 1-2.6-1.3 .7 1 1.5-.4 1.3 .5 .3-.1 2.5 .9 1.7 0-.4 .9 1-1.4 .4 .8 .3-.6 1.1 .7 1.2-1.1 1.8 1 .4 .4 .3 .2 2 .5-2.1 0 2.8 .3-2.2 .2 1.1 .6-2.5 .4-.9 .7-3.2 .2 2.6-.1-.3 0-.8 .9 2.4-.9 .5-.3 1.1 1.9 1.2-1 .7 1 .6 .4 1 .6 1.2 .1 1.3 .3-.6 .1-3.1 .6 .8 .5-1.9 .2 .3 .6-3.2 0 4.1 1-.8 .8-.7 1.7-1.9-.3 .5-.9 1.1 1.1 .1 .9 2.2-.6 1.8 .7 .3-.6 .3 .6-.1-.3 1.5 .1 1.2 .2 .5 0 .5 .8 1.5 .6 1.5-.2 1 .3 0 .2 1 0 .8 .3 2.6 .6-.1-.3 .7 1 .2 .6 1.4 .5 .7-.7 .1-.7 2.4 1.1-.6-.9-.6-.2-.9 1-.9 2-.6-.5-1.3 0-2.1-.8 .9 .4-1.2 .8-1.4 .2-1.8-.6-.3 .9-2 .2-2 .3-1.8 .4 1.2 .6-2.3 .5-1.6 .3-2.6 0 1.2-.7 3.5 1.3-.9-1-.9 .5-.7 .4-1 1-2 .2-1.1 1.2-1.2 .2-.3-1.2-.3 .8-2.1 .9 .1 .6-1-.3-.9 1.2 .7-1.5 1.4 .8 .5-.1 .9 .7 .4 0 1 .3 1.5-.7 1 0 1-.4 1.2 1.4 .3 .3 1.4-1-1.2 1 2.3-.4 .7 .6 2.5-.4 .2-.1 .7 1 1.6-.6 .7-.7 1.1 2 .1-.3 1.4 1 1.5-1.6 0 2.2 1.5-1.6 .3 0 1.8-1.1 1.5 .8 .4 1-.2-.3 2.9 0 .2 .8 1.1 .3 2.3 .1 1.1 .4 0 0 .9 .5-2.7-.1 3 .4-.1-.1 1.3 .6 2.7 .2-.4-.3 .2 .8 1.7 .1 1.6-.5 .9-.3 .5 .3 2.3 0-.6 1.2 .9-.6 .6 .6 1.3-.1 1.2-.4 2 .8-.7 0 1.5 .5 .1 0 1.3 .4 .1 .7 1.4 0 2.6-.6-1.4 .6-1.2-.3-.8 0-1.1 .8 .1-.6-2.1 .8-1.2 .7-1.1-.2 .1 .8-1.8-.3-.4 1.4-1.3-.6-.9-.4-.4 .4-.9-1.1-.1 1.7-1.1-.7 .8 .4-2.7 .2 4.6 .8-.9 0 1.6 .2-.2 1.3 1.1 .2 .4 0 2.3-.3 .9 1.2 .7-1.4 1.1 1.7 .2-.2-.1-.2 2.4 .2 .5 .6 2.1 .2-1.4-.2-.9 .1-1 .4-2.3 .3-1.1 .8-.1 0-1 0-.1-.6-2.2 .2 .1 .1-.8 2.1-1.7-.6-1.1-.3-.1 .5-.3 .4-.5 .2-3 .5 .8 .3-3.3 .6 1 .3-2.1 0-1.7 .6-.6 0 .1 .6-.3 .7-2.3 .4-.9 .4-.9 .8 .8 0-1.3 .6 .6 .8-2.8 1-1.8 .4 1.2 1.6-1.3 .1 1.8 1.5 1.4 1.2-1.2 .5-2.1 1.2-.7 .5 4 1.5-2 .2 .8 .6-.6-.5-.5 .7-2.7 .5 .9 .7-.6-.3-.3 .7 2 1-4-.4 .1 .9 1.6 .3-.5 .5 1.4 .3 2.2 .1-.7 .3 .4 .2 2.9-.4 .1 .9 .3-.1 .6 .1 1.8-.1 .2 .7 .9 .3 2.1 0-.5 .2 3.7 .4-1.2 1.1-.5 .8-3.4 .1-2.9-.4 .6 1.5-4.4 .1 1 .7-.6 .1-.8 .2-1.4 .4-.3 .3-.6 0-3.9 .8 .2 .2 .2 .6 2.6 .2 .3 .1 2.5 .5 2.4-.1 1.2 1-.6 1.6 .8-.5 1.8-.7-1.6 1 2.4 .3 1.1-.8 1.7 1.2 .7-.5-.1 .3 2.7 .9 .5 .4 .4 .7 .4 .4 1.2 .2 1.6-.6-.7-.6-2.2 1.4-.7-.2-1.7 .7 .3 .2-1.9 .6-.9 .3 .7-.4-1.5 0-1.9-.6-.2 .4-1.5 .4-2 .1-.3-.4 .5 .9-2 .3 3.9 .9-1.1 .2-.8 .3 1.6 .6 1.4-1.3 .6 1 1.5-.6 .5-.7 1.9 2.1 .6-.6 .3-.4 .5 1 .7-.6 1.3-1 1 .7 .3 .9 1.2-.1 1.4-.6 .9 .9 .9-.8 .7 .2 0-.2 2.2-.2 .1 0 1.6 .7 .9 .6 .4 0 2.4-1.2 .6 .9 .4-.7 1.7-.3 .4-.1 1.4 .5 .5-.1 .7 .6-.6-.4 3.1-.5 .9 1 .5-.4 1.4 .7-.6 0 1.9-1.1-.1 1.3-2 .9 .5-.2-1.6-.8-2.1 .7 0 1.1 .4-.2-2.8-.3-.7-.1-.3-.3-.8 .2-.9 1.1-.5 1-1.2-.8-.9 .8 2 .6-.2 1-4.9 1.4 .8-2.3 1.2 1.4 .4 .1 1.7 1.1-.7-.8 .8 .4 2.4 .6 .3 .3 .9-.7 1.6 .2 .8 .2 .5-.1 1.2-.1 .4-.5 2.3 .3-.3 .7 1.5-.9-.3 .2 2.6 .6-1.5-.1 3.4 1.1 0-.4-1-.6-.6 1.5-2 0-.5 0-2.1-.2-.1 .6-1.6-.1 .2 .1-.7 .3-.6-.5-1.9-.7-.5-.3 .3 1.6-3.1-.1 1.3 .7-3-1.1 .3 .3-.7-.1-1.8 .8-1.1 0-1.7-.6 .4 .1-.7 0-2.7-.1 .7 .7-1.3-.3-1.4 1.1-1.4 .2-.3 0-1.9 .3 .6-.7-1.4 1-.2-.8 .5 1.4 1.3-.3 .1 .8 .8-.4 .6 .3 1.3 .5 1-.1 .2 .5 1.5 .6 2.3-.4-.5 .1 .5 1.2 2.1-.4-.2-.1 2.6 1.1 .3-.1-.1 .2 1.4-.9 3.8 0-2.7 .8-.2-.2-1.2 .4-1.5 .8-2.7-.2 .4 .5-3.6 .5 1.4 .3-1.7 .4-1.5 .1-2.4 .3 .5 .3-2.3 0-.2 .3-2 .4-.2 .6-.6 .4 2 .5-2.4 0 1.7 .3-2.3 .9-1.7-.1 1.1 .4-3.2 .9-2.6-.2-.5 .6-.5 .4 .2 .5 1.2 .7-2.2 .4 1.6 .4-2 .6-1.7 .4-3.2 .6 2.2 .1 1 0-1.3 .9-.8 .7-1.1 .4-3.7 .1-.4 .3-2.2 .6 1.5 .2-1.4 .8 .4-.4 1 .7 .5 .1 3.3 .5-1 .1 .7 .3 1.4 .2 1.1 0 .5 0-1.1 .9-.4 .3-.8-1-.1 1.7-3.5-.1 .5 .6-.2 0-.8 .2-1.8 0 1.9 .5 .5-.4 .7 .5 2 .3 0-1.2 1 1.3 1.9 .3 0 .1 1.4-.5 1.3 .6 .1-.2 1 .3 1.5 0 .3-.3 1.4-.2 .3 1.2 .5-.7 1.7 .9 .8-.9 .9 .7 1.9 .5 .8 .9 1.2-.4-1-.5 2 .3 .9 1.3 .7-.1 .8 0-2.9-.1-.8 1.3 0-.2-1.8 .8-1.4 1.1-.7-.5-2.3 .6 .9-1.1-.6 1.7-.4 .4 1.7 .4 .6 .6 1.2 .6 .3 .7 4.3-.1-3.5 .9 .7-.1-1.2 .6-1.1 .3-1.9 .2-2.5 0-1.3 .9 1.7 .1-2.9 .2-.1 1-2.7-.3 .4 .8-.7 .2-1.1 1-.6-.4 .8 .6-.5 .3-2.1 .7-.3 .3-2.6 .6-.8 .1-.9 .5-.3 1.1 1.2 .8 .7 0-1.5 .5 4.5 .6-2.2 .6 4.6 .6-1.2 .4 1.8 .2-1 .3 3.5 .7 0 .5-2.4 0 1.7 .7 1.7 .2-.1 .3 2 .1-2.6 .4-2 .5-.9 .4-1.1 .4-.8 .3-1.7 .4 3.3 .3-.7 .5-3.2 .3 1.3 1.3-1.4 .2 .5 .9-1.6 .6 1.5 .5-.1 .5-.8 1-1.9 .5-1.2-.8-.7-.1 .2 1-2 .3-.1 .2 0 .6-2.1 .2-.6 .3-2.1 .2 1.5 .8 .6-.1-.6 .8 .3 .6 3.4 .7 0 .7 2.3-.7-2 0-.8 .4-.1 .8-1.2 .3-2.1 .1-.3 .6-.1-.6-1.2 .7 .1-.2-2.8 1 .2 0-1 .5-1 .8-.4 1-1 .9 .3 1-1.7-.8 .3 1.1-.8 .5-2.1-.7 .3 .5-.8 1.3-2-.8-1 1.1-.9-.3-.8-.8-1.1 1.8-.3 0-1.8-.6 .2 1.4-1.9 0 .7 .2 1.9-.1 .7 1.1 1.2 .1 1-.1 .6-.5 1.5 1.1-.6 .3 2.4 .5-.3-.2 2-.3 1.7 .5-.9 .5 1.2 0 2.6 1 .5 .5-.1-.9 1.4-.3 .4 1.6-.2 1-1.3 .7-1.7 .4-.5-.1-1.7-1.2-.6 .4-.5 .5 0 .1-1.2 .9-1.5-1-2.2 .4 .6 .6-1.2 .1-.3 .2-1.8 .3-.8-.2 .2-.4-2.5 .5-.5-.5 1.1 .9-1.1 .9-.5 .5 .2 .5 .7 .2 .8-.4 .1 .7 2 .5 1.3 1.1 .3-.6 2 .3-.4 .8 1.6-.3 0 1 1-.5 1.1-.1-1.2 0 .6-.8-.9 1.4-.9 .1-.7-.5-.5 1.2-1.1-.3-1.8 .3-1.2-.6-.4 .9 .1-.3-1.1 1-1.3 .8 .2 .6 .1 .1 2.9-.1-.1 1.1 1.6-.8 .8 .3 .1 .8 1.3 .7-.3-1.6 1.9 1.7-1.5 1-.5-.6-.3-.1-1.3 .5-1.2 .8-1.2-1-1.4 1 .2 .6-1.1 .2-.5 .6-.9 .4-.5-.4-1.7-.3-1.9 .6-1.4 .4 1.3 .8-2.1 .9-1.9-.3-.2 1-.6 1 1.9 .7-.3 1.1-2.8 .5 1.8 1.1-.8-.1 1.1 1.6-2.9 .6 .8 .4 2.1-.4 1-.1-.2-.1 .6-.2 1.8 .8 1.8 .3-.4 .1 1.4 .3 .4-1.1 1.2 1.3 1.8-.1 .7-.6 0 1.9 1.9-.3-.1-.9 1.8 .8 1.6-.7-2.4 .1-.1 1.2-1-.3-1.7 1.1-.8-.1-1.1 0 .4 .4-1.3 .5-1.4-.4-.8-.4-.4 .5-.9 .1-1.1-.3-.4 .3-1.9 1.1-1.1 .9-.7-.7 .3 .2-.4 .7-.7 .1-1 .7 1.6 1 1.6 .5 0-.5 2.1 1.2 0 .6-.1-.6 2.2 .3 2.3 .1 .1 .6 1.1 .2 .5-.3 1.9 1.3 .4-.5 1.6-.7 .2 1.1-.1 1.2 1.7-.5 1.2-1.5 .9 1.2 1.5 1-.8 .2-1 .5 1.1 .6 .1 .2-2.5 .6-3.2 .7 1.6 .5-1.9 0-.3 .9-2.6 .6-1.3 .1-1 1-.3-.1-1.2 .8-1.1 .8-.7-.1 .4 .5-.6 .3-1 .5-1.3 1 1.7 .8 .2 .3 3.5 1.1 2.3 1.2-4.2-.8 2.2 .6 .4 .2 .7-.1 1.7 .4 .7-.4 .7 1.5 .8 .5 1-.8 1.3 0-1.7 .3-.2 .6-1.5-.4-1.6 .9 .2 .6-.6 .3-1.5-1.1-1.5 1.5-.6 .3-.5-.1-1.5-.2-.8 .1 .1 1-1.6-.1 .7 .4 .1 .2 1.9 .9-1.3 .2 1.5 0-1.2 .2 .7-.2 4 .1 1.4 1 .7-.7 1.4 .6 1.4-.2-.3 0 1.9-.1 .6 1 1.5 1 .6-.6 .8 .8 .8 .1 .2 .5 1.5-.7 1.3 .8 1.3 .3 .6 .5 .2-.4 1 .4 1.7 .2-.7-.1-.4-.1-.3 .6-1.6 1.4 0-.9-1.3-.1-1.7-.6 1.1 .8-2.7 1.1-.9-.3 .7 0-1.2-.4-.4 .2-2.9 .3-2.2 .1 .7 .1-1.4-.5-1 2.4-1.2-1.3-.2 1-.5-.6-.7-.3-.8-.7-2.2 1.6-2.2-.3 0 .3 .5 .3-1.4 .6-1.3-.4-1.2 .2-.8 .5-1.2 .6-.7-.9 1.4 .9 1.5-.3 0 .4 1.3 .4 1.9 .6 .1-.1 1.7-.1-.9 .2 2.5-.8 .1 1.6 1.3-.2 .2 .2 .8 .5 2.1 .9-1.8-.6-1-.9-1.4 .1-.7 1.1-.7-.4-.6-.5-1.9 1.5 .3-1-2 1-.8 .6 .7-.5-1.9-.6-.3-.2-1.8 1-1.7 .5-.8-.2 1.7 .4 .7 .3 1.8 .7 1.3-.8 .2 .6 1.3-.5-.5-1.7 1.9 2.2 1.5-.8-.9 1 1.4-.4 2.5 .5 1.1 .2 .7 .2 .2 1.1 .2-1 .4 .8-1.4-1-1.9 1.3 0-1-.8 .9-1.3 .7 .6 .2-1.7 .2-1.8-.5-2.5 .2 .5 .4-1.3 .2-.1 0-1.1 1-.4-1.6-1 1.6-2 .5-.5 .2 1.2 0-3.8-.1-.7-.4-.3 0-.8 1.2 .3 0-1.4 .5-2 .5 0 .4-2.2 .1-.5-.7-.9 .4-.5 1.5-1.1-.4 2 .2 1.6-.3 .5 1.1 .6-.7 1.3 .7 .6 .4 1.8 1-1.2 .3 .9 0-3.4 .4 1.5 .4-3.4 .3 1.3 0-1.1 .1-2 1 .4 .1-.2 .2-2.4 .1 3.8 .7-1.4 .6 6.9-.1-1.7 .5 2.4 1 .2-.2 1.2 1 2.6-.3 .1 .5-4 .4 1.1 .9-.6 .8 .8 .4-5.9 .4-.4 .1 .1 0-.5 1.2 2.4 .4 .9 .4 .2 .5 3.1 .2 .6 0-.4-.1 .3 1.3 .3 .2-.3 .1-1 .4-1.9 .5-1.5 .2 .8 .1 2.1 .9-3.7 .9 .5 .2-3.9 1.6-1.2-.2 1.5 .6 1.6 0 1.7-.2-.9 1.4 1.6-2 1 1.8 1.3 .2 .6-.7 .9-.2 1.1 .9 2.2-.2 .6 .5-.1-.1 .2 .1 2.5-.5 .2-1.3 1.8 .3 .6 2.4 1.2-1.3 1.5 .1 0 .2 .5-.3 1.8 .3 .5-.1 2.6-.2-.7 0 1.2 .9-.3-.2 2.5-.1 .4 1.1 1.2-.4 1.4-.4-.2-.1 .8 .2 1.9 .4-1.4-.4-.1 .3-1.8 .2 .5-.2-2.8 .9-.4-.3-1 .7-.6-1-1.4 1.3-.7-.7-.8 .1-1-.4-1.3 .8-.5 .8-.7-.8 .7-.1 1.7 .8 1.1 .9 1.5-.2 1.1 .8-.3-.7 .9 .5 1.6-.5 1.2 .4-.1 .4 .7 .5 1.2-.7 .1 .5-2-.3-.4-.1-1.9 .1-.5 .8-1.5 .1 .7 1-1.6-1.3-.9 1.4-1 .4-.1-.8-.8 1.3-1.5-.8-3.3 .2 1.8 0-1.4 0-2.2 .3-.1 .9-.6-.6-.4 .8-.6 .1-2.9 1-.2 .2-1.9-.9-.6 .6-.1-.8-1.3 .8-.6 .7 .4 0-3.1 .8 1.3 .1 2.3 .4-1.3 .5 .7 .3 2 1 1.2 .6 .5-.2 .7-.2 1.1 .5 .6-.5 1.8 1.3-.1-.3 .5-.7 2.4 .8-.4 0 1.6 .8 .9 .6-.8 1.4-2.8 .6 .7 .3 1.2 .1 .1-.2 2.6 .4 .7 .7 .2 .1 1-1 1.1 .8 1.3-.9 1 .6 .6-1.2 1.2 .5 1 .6 .2 .2 1.1 .5 .5-1 1.5 0 1.5 1.3 .3-.2 .5 .1 2.1-.3 1.1 1.2-.6-.5 2.9 .5-.4 1 2.4-.8 .7 .8 .1-1.3 .6 .7 1.1 .4 .1 .1 2.9-.6 .4 .1-.5 .3 2 .1 .8 .1 2.2 .5-.4 0-1.7 .4 .6-.1 3.2-.3 1 .5-1.7-.4-1.2 .4-2.3-.5-.4 .4-.5 .1-1.3 .6-.9 1.2 .2-1.1-2.9 1.1-.4-.5 .4-.2-1.6 .5-.9 .7 0-.2-2-.6-1.7 1.1-.3-.2-2.1-1.1 1.2 1.5-1.9-.2-.9 .8-.3-.4-.4 .3-.9 .8-2.5-.4 .4 .7-2.3 1.4-.7-.4-.3 .8-.2-.2-1.4 .6-2.1-.6 3.7 .7-3.4 .5-.6 .3-2.6 .7-2 .8 3.1-.4 .7 .4 .2 .9 .3 0 3.2 1.4-.5-.8 .8 .4-.7 1-1.4 1.3 .5 .2-1.3 .3 1.4 .2 .4 .8 1.4-.4 .7-.1 .3 .1 3 .5-1.1 .8 1.2-.2 2-.5 .4 1.1-.3-.3 1.4 .2 1.1 .5 1.1-.1 1.8 .6-1.2 1.2 2.1-.7 .6-.3 1.1 .1 .7 .6 1.9 .1-1.1-.3 1.9 1.2 0 .7-1.1-1-.8 1.1-1.2-.3-1.2-.1-1.3 .4-.6-.7-.2 1-2.5-.4-1.6-.1 .3 1.1-.7-.9-1.2-.1 .1-.1-1.4 .9-2.8 .2-1.7 .5 0 .7-2.7 .3 5.3 .8-2.8 1 1 .4-3.4 1.4-.5 .2 3 .5 1 1.3-1.8-.5 1.3 1.1-.1-.2 2.7-.2 .3 0 1.4 .3 1.1 .5 .4 .1-.1 .9 1.2-.3 1.6 .3-1.5-.6-.2 .1-1.5-.2-1.2 0 1 2.2-1.3-.1-1.1-.7-2.6 .7-1 0 .4 1.1-3.4 .9 1.7 .4 1.9-.2 .7 .1 .7 .6 .3-.4 1.8 2 0-.6 1.9 0 .9 .2 1.8 .6 .2 .3 .1 .2-1.9 .4 1.2-.6-2.2 .7 .5 .2-2.3 .1-1.6-.3 .4 .3-.3 0-1.9 .4-.2 0-1.2 1.2-1.6 .1-1.3-1-.9 1-.2-.7-1.5 .4-.8 .3 .6 .9-2.5-1.8 2.3 .9-2.5 .7-1.2 .4-1.3 .3-1.4 .5-.2 .4 .1 .7-1.5 .3 2.1 .8 .1 .2 1.7 1.5-.1 0-.2 0-1.6 .2 1.5 .8-1.5 .6 .9-.3-1.7 .3 2.3 .9 0 .5-.1 1.8-1.7-.3-.6 .1-.9-.1-2.3 .3 .2-.1 .1-.4-1.9 1.2-2.4 1 .4-.6-.5 .7-1.5 .3 3 1.3 1.5 1.2-5.6 .2-.8 .7-1 .6 .1 .4-2.2 .6 1.7 .4-4.9 .1 .3 .5-.2 .5-1.5 .9 .6 0-1.8-.3 1.9 .2 .8 .6 2 1.1-.8 .7 1.8 .4 1.5 .5-.1 .3 1.2-.7 .8 .3 .5 .4 .4 .2-.3 .6-.5 0-2.4 .7-.8-.1-3.4 .5 .8 .2-.5 .7 2 1 1.8 .8 3.6 .6-.9 0-.6 .5-1.9 .4 3.1-.4 1.6 .9 1.3 .2-.7 .6 .5-.2-1.9 1.1-.5-.8-.3 .3-.6 .6-2.7 .9-.8-1.6-.1 1-1.9-.7 .3 1.4-2.1 .6-.4 0 2.8 .6 .6-.3 2.9 .9 .5 .5 1.6 .4-1.1 .6 1.6 .5 3.7 .5-2.1 1.2 2.6 .5-3.6 1.2-1.3 .2-1.9 .7 1.1 .6-4.2 .2-1.7 .4 .9 1.9-.2 .7-.7-.3 .5 .6-.9 1.3 0-.3-.4 .7-1.2-.2-.7 .1-1.9-.5-1.1 1.2 .5 .1-1-.1-1.7-.4-1.6 1.4-.7 .9 .4-.9-1.5 1.4-2.2-.2 .4-.4-1.6-.6-1 .3-1.3 1.4-1-.1-3.8 .1 .8 1-1.8 .1 1.2 .2-.5 .9 .5 .1-4.6 .3-.9 .6 2.3 .2-1.2-.2-1.1 .5-1.3-.4-1.2 1.6-.7 1-.6-.6-.9 .1-1.4 .4 0-.9-1.3 .5-1.1 .1 0 .6 1.4-1.1 .9-.1 .5 .9 1.6 .1 .9 .5 1.9 .2 .1-.5 1-.3 .8 .6 1.4 .1 .1 .1 1.9 .5 .1 1.3 1.4-1.4 1 .5 1.3 .8 0-1.2 2.6 1.1-.4-.4 .9 .3 .6 .5 1.5-.3 .7 .2 1.6 .4 .3-.5 1.7 .1 .4 .3 1-.9 1 .4-.4 .2 3-.3 0 0 1.8 .5-.8 0 1.1-.3 2 .3 .6-.4-1.2 .2-.1 .8-2 0-2.1 0 .3 1.7-.5-1.3-1.2 .6-1.6 .9 0-.2-.9 .2-.5-.1-2.3-.2 1.1 .6-.6-.2 1.8 1.1 2.9 .3 .4 0 2.6 .5-2.9-.3 1.6 1.5-.2-.5 1.4 .3 .6 .1-.1-1.7 2.6 1.1 1 .6 0-.8 .4 .5 2 .2 2.4-.5-.2 .3 .9 1.3 1.2-.3 .5 .1-.4 .3 3.4 0-1.3-.3-2.5 .7 .6-1.4-1.3 1.2-2.3 1.1 .6-.4-1.8 .4-.2 0-2.6 .6-.7-.3-.6 .7-3.1 .6 .7 .1 2.6 .4 2.8 .7 1.4 .2-1.2 .7 1.7-.3-.7 .6 1.5-.3 .5 .9-1.6 .3-.5-.4-1.7 .9 .1 .1-.9 .3-1.6 .2-.3 .2-2 .7-.9-.6-1.6 .4-.8 .3-.7 .5 .3 0-2.4 .3-.1-.5-1.3 .8 .2-.1-2.9 .3 0 1-1.2-1.2 .9 .8-.8 1.1-.5 1-2 .4 1.6 1.2-2.8 1.1-.4 .5 1.6 .8 2 .5-1 .7 3.5 .9-.9 .5-.6-.8-.4 .4-1.3-.2-.5 .6-1.6-1.4 .1 .9-1.8 .9-.3-.7-1-.2-1.6 .9-1 0-1.4-.2-.1 .5-1.7 .9-1.8 0 2.2 .5 .1 0 4.5 .4-.7 .4 1.5-.2-.6 .7 2.2 .4-.7 .6-1.1-.2 .1 .5-1.7 0-1.2-.1-1.5-.2 0-.1-1.1 0-.6 .3-1.4-.3-1.5-.5-.4 .8-.8-.1 .1-.2-3.1 .6-.8-.3-.1 0-.9-.1-.7-.2-.8 .7 2.3-.5 1 .6 .6-.1 .3 1.1 1.1-1 1.2 .5 1.4-.1 .5 .3 1.5 .6-.7-.3 1.7 .7 .2-1.3 1.2-.4 1.5 .5 1.6 .9 1.1-.2 .2 .1 .8 .9 1.7-1.4 .9 .7 .9 1 .5-1.5 1.7 1.2 1.7 .1-.4-.6 0 .1 1.5 0 1.2 .7 .2 0 2.1-1.5 .6 1.7 .9-.6 .7 .6 .6 0 3-.6-.9 0 1.3 .8 .8-.6-.1 .7 1.1 0 .6 0-2 .6-1.2 .3-.4 .3-.7 .2-1.7-.6-.3 1.6 .9-1.1-2.3 .8-.9 .4-1.5-.6-.1 .7-2.1-.6-.5 .5-1.4 .2 2.2 .8 .8-.5 .2 .1 1-.2 .7 .4 .9 1.2 2.7-1.3-.1-.4-.2-.1 2.1-.3 1.2 .6 .7 .2-.1 1.2 .5-.5 2.6 .1 .2 1 1-1.1 1.1 1.6 1-.9 2.4 .2-.8-.2 2-.3 1.9-.3-.7 .7 1.7 .9 .1-.1 1.6-.8 1.1 .1-.6-.4-.2 1.4-1-.5-1.9 .4 .6-1-1.8 0-.3 .4-.8 .7-1.4-.1-1.2 .6-.4-1-1.8-.6-2.3 .5 .9 .8-1.3 .2-.5-.2-.6 .4-.8-1-1.9 .1-2.2 .6 .6-.5-1.1 .3-.6 .2-.3 .9-1.7 0 .9 0 1 .1 .9 0 1 0 .9 .1 1 0 1 0 .9 .1 1 0 .9 0 1 .1 .9 0 1 0 1 0 .9 .1 1 0 .9 0 1 .1 .9 0 1 0 1 .1 .9 0 1 0 .9 0 1 .1 .9 0 1 0 .9 .1 1 0 1 0 .9 .1 1 0 .9 0 1 .1 .9 0 1 0 1 0 .9 .1 1 0 .9 0 1 .1 .9 0 1 0 .9 .1 1 0 1 0 .9 0 1 .1 .9 0 1 0 .9 .1 1 .1 1.6 0-1.7 .2-.9 .1-1.2-.2-.5 .3-1-.5-1.9 .3-.1 .2 .3-.3-2.1-.2-.6-.3-2 .6-.5 1.1 .3 .7-1.1-.6-2.1 0 .1-.1-1.7-.4-.6 .6-1.4 .8-2.6-.1 .7-.3-2.4-.1 1.3 0-1.7-.1-.2-.5-1.6 .3-1.4 0-1-.6-1.3 2.1 .2 .1-2.1-.6 .4-.1-1.4 .1-1.1 .2-1.3 0-.5 .7-2.4-.9 1.1 .8-2.4-.5-.1 0-.7 .9-.8 0-2.4 .2-.2-.1-.5 .4 1.6 .9-1.9 0 1.1 .4 1.2 .7 2.1 .8 .4-.3-1.4 .5 .4 0-1.2 .4-1.2 0-2.5 1 .7-.9-.8 1-2.1 0-.8 0-.9 1.6 .5 .6-1.5-.6 .6 1.4-2.8-.8-.3 .4-1.9 .3 .3-.3-1.3 .6-1.2-.5-1.7 1-.7-.2-.4-.4-1.7 1-.8-.4 0 1.3-1 .1-1.5-.5-.8 .2-1.4 .8 .4 1.1-1.4-.2-1.9-.1 .5 .4-2.2 1.1-.8-.3 .8 .6-2 .1-.1 .1 1.4 .1 1 1.1 .4-.1 1.7-.3 .8-.4 .4-.1 1.9 1.4 1.2 .1 0-.4 1.7 .7 .7-.6 .5-.2 1.2 .6 1.4 .1-.9-.5 3.7 .4 .3 .1 .2-.3 1.6 .8-.1 .4 .1-.1 2.1 .9 .3-1.4 1.4 .8 .7 .5 1.2-.3 1.2 .1 2.3 0-.2 1.1 2.2-1.6 0 .4 .4 .8 .5 .3-.9 1.2-.5-1.2-1.7 .5-.7 0-.1 0-1.5-.3-.3 .3-1.4 .5-1.6-.2-.6 0-.7 .1-.4 .6-1.7 1 .5-1.4-2.6 .8 .3-.4-1.7 1.5-1.6-1.3-1 1-.5-.2-.8-.3-.4 0-1.9 .3 .8 .4-1.9 .5-1.5-.6-.5-.1-.5 .4-3.6 0 .8 0 .4 .8-2.3-.3-1.3 .2-.4 .3-.8 1-.8 .1-1.4 .4 2.5 .6 .1 .2 1.3 .5 1.3 .8 .5-.1 .3-.1 1.6 .5 1.8-.5 .5 .2 1.2-.1-.1 .1 .2-.1 2.1 .8 .1-.1 .2-.5 2.8 .8-.2-.3 1.1-.9 1.2 .7 .2-.1 2.2 0 .2 0 1.7 1.2-.1-.3 1.2 .2 .7-.7-.2 .4-1.3 .9-.8-1.6-.9 .5-.9 1.3-1.4 .2-1.9-.6 0 2-1-.2-1.4-.6-.7 .7-1.4 .5-.5-.2-.2 .1-1.6 .4-1 .2-.9 .9-.4 .1-1.1-.3-.6 1.1-2.4-.4 2.6-.4 .4-.2-.4 1.2 2 0 2.5-.5-1.1 .5 2.9-.4-.7 .5 1 .8 2-.7 1.3-.2-1 .9 1.1-1 2.5 .8 1.3 .6 .3-.7 1.6 1.6-2.5-.6 .7-.4-2.7 .5-.1 .1-1.4 .1-1.6 .3 .6 .5-1.9-.8 .4 1-2.2 .3-.7 1-1.2-1.3-.4 1.7-1.3-.5-.8-.1-2-.5 0 2-2.2 .2 2.2 1-2.3 .9-.1 .9-1.7 .9 1.3-1 1.5-.2 .7 1.2 0 .9 2.2-.3-.1 .2 1.3 .3 .5 .8 1.1-.1-1.5 .2 1 .9-2.1-.6-.9 .5-.6-.3-2 .8-.4 1-.9-.5-1.1-.5-.8-.9-.5 1.3-1.5-.1-1.2-.4-.8 1.4-1.1-1-.7 1.6 .1-.6-1.7 1.4-2.3 .7 2 .2 .9 .3 .8 .3 .9 .2 .9 .3 .8 .2 .9 .3 .9 .2 .8 .1-.9 .1-1 .1-.9 .1-1 .1-.9 .1-1 .1-.9 .1-1 .1-.9 .1-1 .1-.9 .2-1 .1-1 .1-.9 .1-1 .1-.9 .1-1 .1-.9 .1-1 .1-.9 .1-1 .1-.9 .1-1 0 1 0 1 .1 .9 0 1 .1 1 0 .9 .1 1 0 1 .1 .9 0 1 .1 1 0 .9 .1 1 0 1 0 .9 .1 1 0 1 .1 .9 0 1 .1 1 0 1 .1 .9 0 1 .1 1 0 .9 0 1 .1 .9 0 1 0 .9 .1 1 0 .9 .1 .9 0 1 0 .9 .1 1 0 .9 0 1 .1 .9 0 1 0 .9 .1 .9 0 1 0 .9 .1 1 0 .9 0 1 .1 .9 0 1 .1 .9 0 1 0 .9 .1 .9 0 1 0 .9 .1 1 0 .9 0 1 .1 .9 0 1 0 .9 .1 1 0 .9 .1 .9 0 1 0 .9 0 1 0 .9 .1 1 0 .9 0 1 0 .9 0 1 0 .9 .1 1 0 .9 0 1 0 .9 0 1 .1 .9 0 1 0 .9 0 1 0 .9 0 1 .1 .9 0 1 0 .9 0 1 0 .9 .1 1 0 .9 0 1 0 .9 0 1 0 .9 .1 1 0 .9 0 .9 0 1 0 .9 .1 1 0 .9 0 1 0 .9 0 1 0 .9 .1 1 0 .9 0 1 0 .9 0 1 .1 .9 0 1 0 .9 0 1"/>
<text class="t" x="124.3" y="457.8">CONSUMER DISCRETIONARY</text>
<path d="M557.4 686.6H611.2" stroke="#0000ff" stroke-width="4.2" stroke-linecap="round" fill="none"/>
<text class="lg" x="629.2" y="696.6">(18.4)</text>
<text class="d" x="804.4" y="602.1" textLength="51.6" lengthAdjust="spacingAndGlyphs">3/24</text>
</g>
<g id="panel4">
<rect x="944.4" y="419.9" width="785.4" height="298.8" fill="#000"/>
<rect x="950" y="424.7" width="774.2" height="289.2" fill="#ffffe6"/>
<path d="M1729.3 716.7H1748M1729.3 695.6H1738M1729.3 674.6H1748M1729.3 653.6H1738M1729.3 632.5H1748M1729.3 611.5H1738M1729.3 590.5H1748M1729.3 569.5H1738M1729.3 548.4H1748M1729.3 527.4H1738M1729.3 506.4H1748M1729.3 485.3H1738M1729.3 464.3H1748M1729.3 443.3H1738M1729.3 422.2H1748" stroke="#000" stroke-width="2.2" fill="none"/>
<text class="ax" x="1754.3" y="725.8">10</text>
<text class="ax" x="1754.3" y="683.7">12</text>
<text class="ax" x="1754.3" y="641.6">14</text>
<text class="ax" x="1754.3" y="599.6">16</text>
<text class="ax" x="1754.3" y="557.5">18</text>
<text class="ax" x="1754.3" y="515.5">20</text>
<text class="ax" x="1754.3" y="473.4">22</text>
<text class="ax" x="1754.3" y="431.4">24</text>
<path d="M947.2 717.7V739.7M996 717.7V739.7M1044.7 717.7V739.7M1093.5 717.7V739.7M1142.2 717.7V739.7M1191 717.7V739.7M1239.7 717.7V739.7M1288.5 717.7V739.7M1337.2 717.7V739.7M1386 717.7V739.7M1434.7 717.7V739.7M1483.5 717.7V739.7M1532.2 717.7V739.7M1581 717.7V739.7M1629.7 717.7V739.7M1678.5 717.7V739.7M1727.2 717.7V739.7" stroke="#000" stroke-width="4" fill="none"/>
<text class="ax" x="971.6" y="750.7" text-anchor="middle">06</text>
<text class="ax" x="1020.3" y="750.7" text-anchor="middle">07</text>
<text class="ax" x="1069.1" y="750.7" text-anchor="middle">08</text>
<text class="ax" x="1117.8" y="750.7" text-anchor="middle">09</text>
<text class="ax" x="1166.6" y="750.7" text-anchor="middle">10</text>
<text class="ax" x="1215.3" y="750.7" text-anchor="middle">11</text>
<text class="ax" x="1264.1" y="750.7" text-anchor="middle">12</text>
<text class="ax" x="1312.8" y="750.7" text-anchor="middle">13</text>
<text class="ax" x="1361.6" y="750.7" text-anchor="middle">14</text>
<text class="ax" x="1410.3" y="750.7" text-anchor="middle">15</text>
<text class="ax" x="1459.1" y="750.7" text-anchor="middle">16</text>
<text class="ax" x="1507.8" y="750.7" text-anchor="middle">17</text>
<text class="ax" x="1556.6" y="750.7" text-anchor="middle">18</text>
<text class="ax" x="1605.3" y="750.7" text-anchor="middle">19</text>
<text class="ax" x="1654.1" y="750.7" text-anchor="middle">20</text>
<text class="ax" x="1702.8" y="750.7" text-anchor="middle">21</text>
<path class="ln" d="M948.3 512.7l.6 .6 .3-2.7 .8 .7-.1-1.3 .3-1.8 .6-1.4 .5-.6 .9 .2-.2 .8 .6 1.3 .8 5.7 .4-.7 0 2.1 .2 4 1.2-1.4 .5-1 .8-.8-.1 0-.5-2.4-.1 .1 .3-1.6 .2-2.2 1.2 1.3-.5-2.3-.5-1.1 .4-1 1.1-1.4-.9-.6 1.1-1.6-.1 0 1.9-.5-.8-2.1-.9-.1 .1-1.8 1.6-.7 .3 2.2-.1 1.3 .3-.3-.8 .9 .9-.4 .4 1.8-.2 .5 1.2 1.7 .8 1.3-.9 .2 0 3.1 .7-1.2 .6 2.9 .6-2.9 0 2.5 .5 .4 .7 3-.1 .3-.3 .8-.3 1.7-.1 1.1 1-.1-1 .8-.5 1.6 1.2 .7-.5 1 .1 .8 .7 .4 1 1.2-.3 .2-.5 1.2 0 1.9 .6 .2-.2 2.3-.3 .6-.9-.2 .3 1 1.1 1.1-.9 2.6 .9 1.1-.6-.8 .2 .5 .3 2.1 1.9 1.2-1.4-.3 .9 .7-.5 .6 .2 1.2 .5 1.3-.1 1.6 .6 .6-.8 1.3 .5 1.3 1.1 .9 0 .5 .1 2.2 .3-2.7-.1 2.9 .1 1.5 .9 .2-1.3 .8-.2 1.1 1.2 2.8 .2-1.2 1-.1-.3 .8 .6 3.6 .1-2.2-.1 2.4 .7-2.2-1 4.9 .6 .1 1.8 .8-.7 2 1-.1-.7 .6 .7 .6 .7 2.7 .4-1.1-.9 2.7 .8 .2 .1 .5-.9 2.2 .8-1.6-.5-.8 0-1.4 .1-1.2 .2-1.2 .8 1.2 .4-1.5-.2-2.4-.5-1.4 1.3 .4 0-1.3 1-1.1-.9-1.1 .2 .2-.8-1.7 1.1-.8 .2-.8-.3-2.9 .8 1.2 .4-2 .6-2.3 0 .8-1-1.1 .5-1.4 .3 .3 .3-1.8-.6-1.5-.3 .4 1.1-1.1 1.6-2-2.8 .8 1-.2 .3-.4 .3 .9 .7-.6 1-6.1 1.7-1-.8 .9-.4-2.3-.3-1.1 .2-.8-.9-.5 1-2.2 .3 .6 1-1.1 0 .4 .4-3.3 .1-1.2 .2 .1 .5-.7 .7-3.4-.4 .8 .3-.5 .7-.9 1.1-1.3-.3-.8 .4-.2-.4-2 1.2 .7-.8-1.6 1.2-1.5-.3 1.1 .5-1.2-1.8-3 1.3 1.4-1.6 2.1 1.2 .2 1.8 1.4-1.4-.4 2.4 2.6-.7 .2-1 1.2-.3 .7 1 1.2 .8-1.3-.5-1-.5-1.8 .4-.3 .7-1.2-.1-1.1-.1 0-.3-.1 0-1.2-.9-1.4 1.5-2.8 .7 0-.3 0-.5-3.2-.8 .6 1.4-.5-.4-.7-.4-.1 .2 .6 1.8-.6 .1 1.5-.9 1.9 1.7-1.1-.5 3.8-.5-.7 1.6 .2-.3 1.1-1.5 1-.2 1.5 .1-.2 1 2.2 .5-2.3 .4 4.4 1.3-.5 .2 1.4 0-1.3 .7-1.1-.4-.9 .4-.2 .7-3.4-1.1-.1 .1-.8 1.5-1.3 .5-.7 .1-1.2 .4-.8 .7 .5-.5-.6 .7 1.6-1.4 2-.3-.5 1.1 1.3 .2-.2 0 1.7 .6 .4 .3 1.3 1.2 .6-1.8 2.3 .9-.2 .1 .5 .5-.5 0-.3 .2 2 .5-2.9 .6 1.6 .7-4.6-.1 1.3 1.2-.8 .1 .9-.6 .7-.1 2 .4 .6 .1 .1 .8 1.1-.3 1.5-1.2 .4 .7 .4-.1 1.1 .8 .6 0 2.3 .8 .1 .1 1.5-.9 2.4-.2-.1 1 .9 0 .5-.3 .2 .5 1.1 .4 1.4-.6 .3-.9 .9 1.2 .3-.7 3.5-.1 1.6 1.7-1.2-1.3 2.6 .4-4 0 2.4 .4 .2-.4-1.5 .9 0 .2 1.2 .1-1.2 .5-.9 .4-5.1 .4-2.1 .3-.1-.3-1.9 1-.1 .2-1.1 1.5-.2-.3-2 .5-.7-.9 .3 .8-2.4-1.3-.7 1.4 .7-.4-2 .3-1.5-.4 .4 .6-2.4 1.6 1-.3-3.7 .2 .8-.4-1.8-.3-.2 1.2-1.6-.5-.6-.2-2 .8-1.1 .4 1.7-.5-3.4-.2-1 0 .5 .6-1.3 .8-1.2 .4-2.3 .9 1-.3 .6-.2-.3 1.2 1.2 .1 1 .8 1 0-1 .3 3.1-.2 .2 1.3 2.9-.2-.3-.5-.6 .2 2.1-.7-.4 2.2-.3 .3-2.2 .8-1-.7 1.7 .2-3.2-.3-.7 .8-.8 2.1-.9 .5-1.8-1.1 .5-1.4-1.4 1.8 0-.4-1.9-.2-.3-.1-1.7 .4 .2-.2-1.6 .5-1.5 0-1.5 .4 .6-1.4-.9 1-2.4 0-.8-.3-.2 .5-1.1 .6-1.5 .9-.5-1.3-2.3-.4 .5 1.3 .7 .4 .7-1 2.3 .8-2 .9 2.9 .3 .9-.7 1.3-.2 1.2-.3 1.1 .3-.4-.7 1 .7 .6-.9 1.9 .6 1.2 1.2 1.6-1.1 1.1 .5-.3 0 1.2-1 2 .4-.7 .3 1.9 .7 1.9 .5-.3-.9 1.2 .2 1.6-.2 1.4 1.1-1.3 .1 1.7-.4 .8 .4 2-.8-.1 .2 1.2 1-.3-.3 2.4-.6 2.1 .4-.2 .5 1.5 .1 .9-.3-.5 .1 1.8 1 1.5-1.1 .5 .3 1.1 .7 .7-.7 1.9 0 .6 .6 .7-.4 .3 .2-.2-.6-1.1 .4-1.1-.4-.4 .9-.1-1.4-1.9 1.1-.5 0-1.4 1.8-.4 .9-.8-1-1.3 1-2.2-.1-.8-.4-1.3 1.1 .5 .3-1.4-.9 2.5 .5-3.9 .9-.8 .1 1.6 .5-5 1.3-.4-.3-1.2 .6-.6-.6-.4 1.5-1.5-.5-.6-.3-.8 .2 .1 .9-2.8-.1-1.3-.3 .4 1-1.2-.1-.6-.7 .3 .6-.1-.7 1.4 1.2 1 .3 .9 .5 .9-.2 1.6-.1-2.3-.3-.5 .1-2.1 0-.8 .4-.4-.4-1.2 1.1-1.5-.5-1 .2-.3-.1-.9-.5-1.3 1.2-1.1-.4-.2 .5-2.4-1.1 .1-.2 0 1.3-2.6 .6-.5-.8 .3-.7-2 1-1.8 .3 2-1.1 1.3 .7 .5-.3 .3 .1 .4 .8 1.8 .3 2.3 .1 1.5-1.3 1.4 .8-1.1 .3 2 .9 .3-.2 .8 .2 .6-1 2.6 .3 .4 .5 1.6-.4-.2 .4 2.7-.7-1 .4 1.9 1.4 1.6-1.8-1.2 .7 1 .1 .4-.3 2.8 .2-.2-.5 2.4 1.3-1.4 .2 3-1 .5 .3 .4 .9 3.3-.6 .3-.4-.9 .3 2.1 .5 .4-.5 1 .2 1.5 .2 .4-.6 1.3 1.2-.5-.5 2.5 .8 .7-.7 1.4 .5 0-.5 2.2 .6 .2-.4 2.1 1.2-1.4-1 2.2 .5 .6 .2 2.1-.5-.1 .4 .4-.8 2-.7-1.8 .9-1 .2 .6-.3-2.3 1.2 1.1 .3-2.4-.6-.2 .5-3 .3-.1 .9 0 .1-2.8 .2 .4-.3 .2 1.3-1.8 .4 .8 .7-1.8-1.1-.3 .6-1.3-.1-.8-.4 3.7 0-1.6 .8 2.2-.9-.4 1.1 1.2-.4 2.4 .9 .4-.9 1.3 .1 .3 .4 0 .1 2.1 .3 1.7-.6 .5-.3 .5 1.8 2.7-1.7-.1 .1 1.4 1.3 .8-.2 .3-.3-.3 .1 2.1 .4 .2-.2 .4-.2 2.2 .1 .9-.4 1.2-.5 2.6 1.2-1.5-.1 1.9 .5 1 .1 1.3-1 .4-.1 1.4 1.9 .8 1 .2-.4 1.9-.9 .1 0 1.8 .5 .4-.6 2.9-.5-.9 .6 1.2 .7 1 .2 .7-.3 0-.4 .8 1.2 2.6 .1 1 .2 .2-.2 .8 .3 1.6-.1 .6 .4 1.5 0 .8-.1 .4 .2 1 .7 2.3-.7-.8 .1 1.4-.7 .8 .7 .8 .7 1.4-.2 1 .2 .5 .8 1.1-.8 1.7 0 2.2 .2-.7 0 .8 .4 0 .2 2-.2 1.1 .5 .2 .3 2.3-.6 1 .4 2 .5 2.4 .5-.6 .6 0 .5-1.5 0 .8 .5 1.7 .3 1.4 .1 2.3 1.8-2.2-.4-.6-1.2-1.8 .8 .2 .9-1.9-.1-1 .6-1.1-.2 .1-.2-1.5 .5-.9-.1-1-.3-.1 .8-3.5 .2 1.2 1.1 3.8-.1 .2 1.1-2-.7 .3-1.1-2.1 2.4-.2-1.9-2 1.4-.3-.7-1.9 1 1.6-.3-1.1-1.2-1.6 .4-1.8 1-1.3 .9-1.1-.1-1-.4-.9-1-.3 .1-.4 .5-.2-1.2-3 1.6 .1 .4-.5 .2-.3 0-1.9-.2-2 .8-.1-1 0 .6-1.8-.3-1.3 .2-.2 .4-1.7-.1 0 .7-1.4 .8-1.4-.2 .3 .6-2.6 0-1 .7 3.3-.1-.7 .6 2.8 .5-2.7 .6 3.1 .2 0 .1 2.2 0 3.1 1.1-3.9 1 1.5-1.5 1.4 .6-1 .6 2.4 0 .8-.1 .4-.3-.3 .4 2.7 .6-.5-.7 .9-.2 .9 .7 1.9 0-1.1 .3 3.4-.8-.9 1.9 1.3-.3 1.9-.7 .9 .4 2-.1 .4 1.4-.8-1.5 2.1-.5 1.1 1.2 2.3 .4 0 .5-.2 .2 1.4-.8 .6-.1 1.3 1.1 2-.6 1.1-1.1-.4-.6 2.1 1.5 .9-.9 .5 .4 1.9 .7 .1 .3 .2 0 1.6 .1 .2 .7 1.9 .6-1.2-.5 2.4-.3 1.6-.2 .2 .7 .5 .3 .9 .5 2.6-.4-.7 .6-1-.3-1.1 .1-.7 .4-1 .2-.2-1-1.5 .8 .3-.7-2.3-.2-.5 .2-.9 1.6-.1-1.3-3.1 .5-1 1.5 1.9-2-2.6 .2-1-.3-3.7 1 1.1 .8-.7 0-2.5-.6-.6 1.6-.5 .1 1.4 .6-3.4 .2 0-.3 2.9 .5 1.8 .2 .3 .4 2.1 .1-1.8-.6 3.5 .6 .3 1.6 .6-1.7 1.2-.2 2.9 .8-2.2 .3 2.2 .4 1.4 .7-.1 .7 2.5-.6-.3-1.3 .5 1.2 2.2-.6 .7 1.2 1.5 .2 .3-.2-.4-1 1.8 .3 .6-.6 2.3 .9-.5 .3 .9 0 3-.8-.8 1.1 2.2 1.3-.9 .5 1-.9 1.2 .5 2.3 .1-.2 0 1.6-1.6 1.9 1.9-1-.3 .9 .6 1.1 .1 .1-.8 2.9-.1 .5 .3-.6-.4 1.4 .7 2.5-1.1 1.1 .3-.6 .2 1.4 1.3 2.2-.9-.6 .8 2.1-.3 .5-.4 .6 .6 .4-.3 1.9 .3 0-.7 1.2 .6 .4 .5 2.7 1 1-1 .4-.5 .1 .1 1.7 1.2 1.3-1.1 1.5-.1-.5-.6 1.2 .8 .7 .6 1.9 .6 1.3 .5-1.2-1.1 2.4 1.1 .1-1.3 3.1-.5-.9 1.7 1.2-.7 .7 0 1.9 1.2-.7-1.1 1.4 .6 .4-.9 2.7 .1 2.2 .6-.3 .4 1.2-.6 .9-.6 .5 1.2 1.2 .5 .8-.6 1.8 .5 .1 .3 1.2-.1 .9 0 .4-.1 .9 .2 .9-.5 1.5 .9 .6-.4 .4 .2 0-.2-.6 .4-.6-.8-1.4-.1-.1 .8-.3 .3-1.5-.6-1.4 .5 .2-.7-.5 .7-2.9 .2 .4 .9 .4-.1-.9-.4-1.5 .9-1.6 0 .9 .1 1 .1 .9 0 1 .1 .9 .1 1 0 1 .1 .9 .1 1 0 .9 .1 1 .1 .9 0 1 .1 .9 .1 1 0 1 .1 .9 .1 1 0 .9 .1 1 .1 .9 0 1 .1 .9 .1 1 0 .9 .1 1 .1 1 0 .9 .1 1 .1 .9 .1 1 0 .9 .1 1 .1 .9 0 1 .1 1 .1 .9 0 1 .1 .9 .1 1-.1 .9 .3-1.1-.9 .9 .8-2.6 .2-1.3 .1 0-.6-2.2 .6 .3-.3-1.7-1.3-1.3 .5-.3 .7 .3 .4-2.1 .1-1 .5-.8-1-.4 1.4-.2 .1-2.7 .8-.9-.7-2.3-.7 .9 .2-.8-.7-1.3 .7-.6 .6 2 .5-4.9-.1-1 .5-1.3 .1 .9-.6-2.9-.5 .8 .3-.4 1-1.1-.4-1-.1-.5 0-3.7 .7 1.6-.6-2.5-.4-.3 1.1 0 0-1 .6-2.2-.7-1.3 .7 .1 0-1-.5-2 .1 .7 .2-1.7 .7-1.5 .7-.3-1.4-2.3 .8 1.5-.3-2.1 1.2-1.5-.3-.9 .8-.1-1.2 .4 1.7-2.4-.2-1.3-.6-1.4 .4-1.4 .3 .4-.9-.2 1.2-2.1-.6-.3 .8 1.2 0 .2 1.6 1.4-.5 .1-.1 1.2-.3 1 .6-.1-.1 2.8-.1 2.7-.2-2.8 .5 4.1-.1-1.5-1 0 .9 4.2 .1-1 .1 .3-.8 2.2 1 .9 .8 .2-.7 .7 .4-.5-.9 3.7-.3 .7 .7 .9 .1-1 0-.9 .1-1 .1-.9 0-1 .1-.9 0-1 .1-.9 .1-1 0-.9 .1-1 0-1 .1-.9 .1-1 0-.9 .1-1 0-.9 .1-1 .1-.9 0-1 .1-.9 0-1 .1-.9 .1-1 0-.9 .1-1 0-.9 .1-1 .1-.9 0-1 .1-.9 0-1 .1-.9 .1-1 0-.9 .1-1 0-.9 .1-1 .1-.9 0-1 .1-1 0-.9 .1-1 .1-.9 0-1-.7-.6 .8-.6 .1 1.4 0 2.6 .4 1.2 .6 .2-1.1 .5 .9 1.7 .3 .9-.6-.2-.3 1.4 .7 1.3-1 0 1.9 3.7 .5-.5-.6 0-.4 1.3 .5 2.6-.9 .5-.5-.7 1.4 1.5-1.6 1.7 1.3 1.2-.8 .7 .5-.3 1 1.4-.3 1.8-.4 1.5 .3 .4 .6-.1-1.2 .9 .9 1.1-.8 1.7 .9-.9-.1 1.2-.9 2.1 .9-.3 1.2 2-1.1 .1-.1 3.4 0-.6 .3 2.1 .7-.8-1.2 .9 .5 1.6-.5 1.3 1.4 .6 .1-1 0-.9 0-1 .1-.9 0-1 0-.9 .1-1 0-.9 0-1 .1-.9 0-1 0-.9 .1-1 0-.9 0-1 0-.9 .1-1 0-.9 0-1 .1-.9 0-1 0-.9 .1-1 0-.9 0-1 .1-.9 0-.9 0-1 .1-.9 0-1 0-.9 .1-1 0-.9 0-1 0-.9 .1-1 0-.9 0-1 .1-.9 0-1 0-.9 .1-1 0-.9 0-1 .1-.9 0-1 0-.9 .1-1 0-.9 0-1 .9-.6-.1-1.3-.6-2.7 1.2 .2-.6-.8 .8-.6 .1 .2-.5-1.6 .9-1-.4-.9-1.6-1.3 1.3-1.6 .4-1.1 .6-.7-1.7-1.7 1.2-1 .4 .9-.2 0-1-2.6 1.2-2.3-.8 .1 1.7-.6 .4 1.5 0-1.3-1.6-2.9 2 .5-.3-1.8-.7-.6 .7-1.6-.7-1.2 1.4-.5-.6-1 .6-.4 .1-1.4 .2-.8 .9-.8 0-1.3-.7-.5-.4-2.2 .1 .5 1.6-.5-.4-1.7 .3-1-.6 1.2 .3 .1-.1 3 .1-.6 .1 1.5-.1 .8 .7 .8 .5 .5-.6 3 .6-.8-.1 1-.3 1.4 .1 .9 .6 .3-.5 .1 .1 1.8 1.4 1.8-1.9 .8-.7 .7 1.3 .7-.5 2.6 1.2-.7-.8 2.7 .4-1.1 .3-1.6 .5 1.1-.7-2.9 .1-.9 .9 .8-1.1-1.9 .7-.6 .1-1 .5-1.5 0-.2 .3-.6 .2-1.6-.4-1.9-.2-.3 .4-1.3 .5 .4 .5-1.6-1-1.4 .3-1 .3-.9 .2-.2-.2-2.4 .4 .7 .5-1.7-.9-.2 .5-1.9 0-.8 .6 5.3 0 1.1 .4 1.8 .2-1 .9 0 .6-1.2-.1 .9 .2 1.3 .4-.2 .5 .9 1 1.1-.7 1.8-.4 .9 .3 .1 0 1.6-.7-.1 1.8 1.4-.1 1.5-.6 2.8 .2-.7 .9 1.9 0-1.8-.8-.1 .8 2.3-.4 2.9 .3 .5-1.4-1.1 2.4-2.2-2-.3 .7-1.3 .5-.5 .2-.1-.6-1.6-.8-1.9 1.5-.1-1.3-.9-.2 1.1 .3-1.7 .4-1.8 .2-2.1-.1 .2-.4-1.3 .1 .4 .2-1.6 1.4-1.6-.2-1.9-1.3 .2 .6-.3-.1-2.8-.4 0 .6-1.3 .9 .1-1.2-3.2 .4 1.2 0-1 .5-2.8 .1 .6-.3-1.2-.4-1.5 .1-.1 .9 1.3-.4-3.4 1.1-2.2 .1-1.2 .6 1.9 .2-2.8 .4 1.1-.3-.1 .2 1.6 .9 .7 .8 2.4-.7 .2-.3 1.4 .1 .3 1.1 1-.7 2.6-.1 .3 .8-.4 .8 2.2-1 1 .7 .4 0-1-1 1.1 .6-.1 .1-.3 .1-3.8-.6 1.3 1.2-2-1-1.5 .8 .9-1-2.6 .7 .2 .7-.7 .6-2.1-.5-1.7 .7 .2 .3 2 0-.2-.5 1.4 .8 1.4 .8 1.1-2.5-.8 1.2 1.4 .4 1.7 .2-1 .9 2.1 .4 1.6 .9 .3 0 1.7-.4 .2 .1 2.6 0-1.8-.2-2.1 .3-1.2 .8-.3-.3-.1 .7-2.5-.3-.1 .7-.9-1.1-1.9 .9-1.4-.9-.2-.4-.4 1.8-1.5-1.6 .1 1-1.9-.9-.6 1.7-.3-.3 1.7 .2 .6-.9 .6 1.2 0-.2 1.2 0 1.1 .9 1.2-.3 .4 .5 1.5-1 .6 1.3-.1-.2 3 .3 0-.1 1.9-.5 1.3 2-.6-.5 2.1 .3 0 .1 .8 .2 1.9 .3 .2 1.1 1-.8 1.4-.9-.2 .3 .7 .9-3-.2 1.1 1.5-1.7 .7-1.3-1.5-.5 .7-1-.1-1.3 0-.9 1-1 0-1-1 .6 .3-.6 1.5 .9-.1 1.3 .2 1.5-1.2 1.3 1.1 0 .2 .3 .3 1.8 .4 1.2 .7 .1 0-.1 1.2-1.4-1.1-1.2-.2-.6 .7-1.1-.5-1.7 .1-1.2 1.2 .6-1.3-1.8 1.6-.3 .8-.4 .2-.7-.6-3 .7 .4-1.3 2.4 .7-1.8 .8-1.8 .5-3.3-.5 2-.4-1 1.1 3.4 .1 .8-1.4 .9 .9 1.2-.2 1.3 .8-.3 .5 1 .2 2.3-1 .1 .3 .8-.3-.3 .5 1.4 1-.1-1.4 1.9 0 1.5 1 1.4-.6 1.5-.4-.1 .1 1.7-.2-.9 .8 4.4-.2-1.1 .4-.5 0 2.8-.2 .3 .1 1.4-.6 .7-.8 2.6 .9 .7 0 .8 .1-.6 1.1 2.1 .1 1.1-.1-.7-.9 2 .4 1 0 .6 .4 2.1 .7 .9 0-.3-.8 1.7-.2 1.2 .5 1.4-1.3 1.4 1.1-.9-.1 3.9 .5-1 .9 1.7-.9 .6 .7-1.6 1.2 .6 .7 1.2 .7 4.2 .4-2.5 .8 .5 .3-2 .9-1.9-.4-.6 .1-.3 .7-.3 .1-1.1-.2 0 1.2-2.5-.7-1.2-.5-1.9 .4 0 .2 .8 .5-1.6 .4-1.5 0-2.5 .5-.5 .6 .7 .4-1.2 .1 .3 .5-1.5 .4-.3-.2-4.6 .8 2.1 .5 1-.2-.6 .1 1.4-.4 1.4 1 1.4-.3 1.5 .6 1.3-.7-.9 .4 2.2-.2-1.4 .8 3.8-.1-.2 .3 2.3 .5-.4 .2 .1-.3 1.7 .2 1.2-.1 .8-.3 .6-.3 1.9 .9 .4-.3 .4 .5 1.1-.3 1.5 1.3 .4-.9 1.4 .9 .9-1.5 1.3 .1 1.5 .4-.1-.6 .4 .1 2-.2 1.7-.3-.5 1.1 1.5-.1 1-.5-.2 0 1.9 .7 .9-.4 1.1-.1 .8 .7 .6-.8 1.7 1.3 .8 .8 1-.1 .2-.6 1.6 0 .2-.6 2.4 1.5 .7-.6 .7 1.2-1.1-.3 1.7 .3 1.9 .5 .5-.6 1.1 .3 1.4 .2 .6-.1 0 .8 .3 .6-1.4 0-3 .2-.2 .4 0-.3-2 1.4-2.2-.4-.1-.4-.8 .3 1.6 .9 1.4-.1 .2-.5 .7 .8 1.4-1.3 .3 .4 .3 .8-.1 .4 2.8-.4 1 .5 2.2 .1 .7 .2-.3 .7 1.6-1.6 .9 .2 .1 .4 0-.4 1.7 1.1 .5-.5 1.6 .4 1.8-.5 .9 .7-.1 .6 1-.8 1.4-1 2.3 2.4 0-1.2-1.2 .4-1.9 .2 .2 .5-.4-.2-1.4 0-.3-.3-1.3 .6-1.9-.7-.8 .9-.1-.4 .3-.4-1.8 .9-2.8 1.3 .4-1.3-.9-.6-.8 1.3-1.4-.6-.9 .1-1.3 .1-1.4 1.6 1.9 .3 .2-.6 1.1 .6 1.3 .2 1.6 .4-.4 .5 .4 .6 2.2-.7 .6 1.4 .9 .2 1.2-.8 .6 .5 2.4 .7 .5-.6 1.3 .7-.1 .9-.1-.8 1.4-.5 .7 0 2.2-.6 .9 1.6 .7 .6 .3-.6 1.6 .1 1.1 .3 .6 .4-1.1 .6-.9-1.5-.4 .6-1.4-.3-1.2 .7 .4 .4-1.8-.2-1.6 .3 .5 1-1.2-.6-1.7 1-.5-.7-1.5 0-1.8 .3 1.1 .6-1.1 .2-1-.3-2.1 0 .6 .2-2 .7-1 .1-.5-.5-1.9 .3-.3 .2 .8-.1-2.3 .7-.7 1.1-1.9-1.9 0 0-1.6 .1-.6 .8-2.6-.1 .4 1.3-.5 .4-1-1-1 1.9-1.4-.7-.8 1-1.6-.2-.9-.2 .9 .9-.4 .5-2.6 .3-2.2 .7 1.3 1.9 .4-.8 .2-1 2-.9 1.7 2.8 1.2-1.8 .5 .7 .7 .2-.2-.1 2.1-.6-.6 1.6 4.1 .9-3.8-.4 1.4 .1-2-.1-.2 1.7-2-.5-1.9 .9-.4 1-.7-.9-.4 .9-3.8 .4 .1 .7 3.8 .6-3 .3-2.9 .6-.8 .4 1.2 .3-.3 .3-.2 .8-1.3-.2-2.6 .1 3.4 .7-4.1 2 1.2 .3 1.1-1-.2 .1 1.3 .9-.5-.3 2.6-.8 .8 1.5 1.1-1 2.8 .4-3.6 .9-.3 .2-3.4 .1-.9 0 1.9 .1 1.6 0 2 .4-.8-.1 1.2 .7 1.8 .9 .1-.1 .6 1.2 1.3-1.3 .1 .1 1.7 .1-.1-.3 1.9 .6 2 .8-.4 .2 1.6-.6-.9 .7 1.7 0-.1 .1 2.7-.3-.5-.7 1.2 .7 3.2 .3-.4-.3 .3 .5 .8-.9 3.9 .3-2.1 .6 2.2 .2-1.8 .5-2.4 .3 1.7 .8-3.6 .2-2.9-.1 .7 .6-.3 .5-2.6 .1 1.5 1.1-2.3 1.3 1 1.6 1.2-.1 1.4-1.4 1.4 1 .6 .1-.2 .4 .7 .5 2.4 1.3 .2-.8 .7 .6 .8 .3 1.7 1.2 1.7-.3-.3-.1 2 1 1.3 .2 .8-1-1.1 .4 .5 .5 3.2-.3-.8 0-.2 .7 2.8 0 .3 .1 2.4 .5 .2-1 .1 .7 1.6 .6 .1 1.4 1-.8 .7 1.1 0 .9-.6 0-2.3-1.1-1.2-.6-1.3 .8-1-.7 .2-.8 .1 1.2-3.5 0 .8 0-.9-.5-.8 0-.6 .8-1.1-.1-2.9 .7 1.2 .9-2.3-.3-.2 .3-1.3 .9 2 .1-.2 1 2.2-.4-.2-.6 1.6 .9 1.5 .4 .3-1 .9 1.9-.2-.2 2.5 0-.1-1.6-.5 1.3 2.7 .7 .9 0 2-.6 .5-.1 .7 .7 .7 .4 2.3-.5-.7-.5 1.4 .5 .6-.1 1.4 .4 1-.3-1.3-.9 3.4 .1-.2-.8 2.8 2.4-.3-.7 1.9 .7 .1-1.5 1.7 .6 .2 .2 .7 .1 2.1 .9-.6-.7 2.9 .8 .1 .1 .8-.1 1.2 .2-.1 .2 2-.6-.4 2 1.6 .7 .5-.3 1.9 0-.2-1.2 1.3-.3-2.3 .1 .9 .1-1.2 .1-.9 .6-1.8 .5 .8-.8-2.7 1.2-.9-1.2-.5 1.6 .4-1.2-1.9-.8-1.5 1.2 .1-.2-2.3-.1 .8 1-1.4-.2-1.2-.4 0 .5-2.3 .4 .7 .3-1.5 .3-.9 .3-.1 0-2.2-.2-.2-.2-1.2 .4 .3-.1 1.9 .8-.9 .3 2.2 .4 2.2 .7-.1-.9 1.2-.3 .7 .1 .6-.6 1.6 .4 0 .9 1.2 .2 1.4 1.1 1.7-2.2-1.1 2.1 1.2-1 2.1 .5-1.5 0-.2-.7-2.7 2.1 .7-1.2-2 .3-.6 0-1.2 .5-.9 0-2.1-.5 .2-.2 .3 .6-2.3 .4-.3-.2-.5-.1-1.2 .3-.8-.8-2 .1-.6-.1-.5 1.2-.4-.8-1.8 .4-.5 .2-2.1-.1-.4-1-.8 1.2-1.9 0 1.1 .4-1.8 .6-2.6 .6-2.2 .5 1-.6 .3 1.6 .9-.1 .9 .4 1-.8 1.4 .8 0 .9 2.4-1 .2 .7 1.1 .7 1.2 .2 .1-.6 1.2-.2 2.7 .1-1.4-1 .3 1.2 2.5 .1 .4-.2-.7 .6 3.2 .2 .9 1 1-.2 .3-.5 .4 1.2 .5-1.3-3.3 .3 1.1 1-3.5-.2 1 1.3-2.6-1 1.3 .2-1.4 1.5-.2-.7-1.5 .9-.4 .2 .4 .8 1.8 .5-.9 .3-2.6 .2-3.1 .9 3.3 1.5-5.4 .4 0 0-1.1 0-2 .4-.2 .4-1.1 .6-.4-.5-2.3 1.3-.1-1-1 1.1-1.2 .1-2.3 .4-1.4 1.1-2.8 .5-1.9 0-.1 .3 2.3 .5 .6 .3 1.9 .6-3.1 .4-.5 .3-1.4 .4-.7 .2-2.6 .7-1.9 .1 .4 .5-.9 .5 .1 .3-2.6-1.3 1.2 .2 1.1 1.2 1.4-.2 .6 .9-1.2-.3 1.8 .6 2.1-.1 1.8-.4-2.1 .9 4.1 .9-.6 .3 .2-.4 .7-.2 2.1 .1 1.8-.6-.1 .5 1 1.5 1.7 .4-.2-.5-.1-.1 1.8 1.1 2.7-1.4-1.1 1.3 1.8-.5 .2 1.5 1.1-.1 .4-.5 1.5 .8 1.9 .6-.5-.4 1.5 .7 1 .3 .2 0 1.9-.4 .1 1.1 1.6-1.1 1.1 1 .9-1.1-.4 1.9 1.4-.2 .7-.7 2.7 .4 .7-.2-.3 1.5 2.4-1.3-.6 .9 .9-.7 2.3 .3-2.5 .1 .4 .4-.1 .6-.9 .3-.8-.5-1.1 .8-2.9-.7-.1 .4-1.2 1.9-1.6-.2-1 .8 .5-.1 .7 .8 3-.2 2.3 .6 1.1 .5 1.3-.1-.8 1 .4-.7 1.7 .1-1.3-.3-2.2-.5 .3 .4-2.6 1.2 .2 0-.6-.8 .2 1.3-2.6-.2-.8 .6-1.3 .6-.2 .1-1.8-.9 .6 .9-1.8 .7 0-.7-2.6 .7 .5 1.1-1.7-.7-1.8 .2 1.1-.1-2.2 1.1-1.6 .1 1.3-1.1-3.1 1.6-2.9 .6 2.1 .4 3.2 .7-5 1 2.3-.1-3.2 1.1-1-.1-.5 1.6 2.8-.9-.2 1.7 .4-1.1 .8 0 1.5 1.5 .8-.2 .9 .2 2.2-.8-.3 .6 .3 .3 1.8 .9 2.3-.2 1.3 .4 .3 0-1.6 .6 .8-.1 1.7 1 1.8 .3-1.2-.1 2.4 .2 .2 .3 3.7 .7 1.2 0 2.2 .7-2.1 .9-1.2 0-1.3 .9-.8-.4-.6 .5-1.7 0-.7 .7 0-.5-1.7 1.1-.3-.4-.7 .9 3.5 .8-1.8 .6 .1 .6 1.5 .9-2 .3-2.2 0 1 .7-2.4-.1-1.3 1.2-1.5-.3-2.2 .3-2.9 .2 1 .8-1.4 .2 .2 .5 0 .3-.7 .6 1.1 .5 .5 .5 .8 .6 1.2 .6-.7 .9 2.6 .9-2.8-.3 .6 .5-.2 .6-.4 .6-1.5 .7 .6 .3 .4 .3-1 .4 3 .1-.2 .2-.6 .8 .3 .2 .7 .2 1.3 .2 3 .6-.4 .5 .6-.1 2.3 1-2.1 .5-.7-.9-1.1-.5-.2 .5-.4 .2-1.5 .7-.8 .2-2.6 .5 .3-.6 .1-1-1.7 .7-1.4-.2-1.2 1.2-2-.4-1.3 .1 .4-1.6-1.9 1.2 .3 1.5-.6-.6-.6-1.1-1.8 .7-4.4 .3 2.4 .5-2.5 .6-2.6 .6 1.7 .1 1.2 .3-2.8 .5 .5 1-1.2-.6 1 .8 2.1-.4-.4 .5 1.4 1.2 .4-.6-.2 .5 2.6 .3 .5 .5-.4 0 2.2-.3 .8-.3 1.8 1.5-1.1-.3 1.3 .2 .2-1 1.1 1.7-2.6-.3 .7-.5-.3 2-2.3-.6 0 .1-.9 1.5-.9-1.1-1.8 .7-.4-.5-2.4 .6 1.7-.1 1.9 .4-3.7 1 .3 .6-1.9 .6-3.3 .7 2.2 .9 2.1 .6-1.1 .7 .4 .5 1.6 .9-2.9 .1 1.8 .3-2.1 .6-2.3 .1-.8 .4 1.4 .6-4.8-1.8 2.6 1.8 1.6-.4 1.3 .9 .9-.3 2.4 1.4-.6 .6 .6-1.8-1.1 3.4-.4-1.6-1.5 1.2 .6-.9-.9 .7-2.7 .7 .1 .4-1.6 0-.1-.3-1.8 .5-.4 0-.8 .7-.9-.4 .4 .6-1 .7 .7 .3-4.3 .6 3 .4-4.3 .5-1.6 0-.3 1 2.5 .1-3.5 .1 2.7 .9-1.8 .3-1.1 .5-3.8 0 .7-1.1-2.5 .9-1.3 0 .3 .5-.3 .1-.2 .3-2.8 .4 .2 1-2.1-.6-1-1.1-.9 .7 .2 2.1-.1-1-1.9-1.1 0-.3-2.3 2.1-7.1 1.1 1.7 .6 3.4-1.3 1.9 1.5 1.1-1.6-2.1 .9 .2-.3-2.2-1.1-1.7 1.1-.6-.1 .2 1-1.8-.7-.1-.5-1.3 .6-.4-.1-.8-.3-1.4 .2-.7 .5-1.7 .1-1.6 0-.6 .7-.1 .4-1.9-.1-.1-1.1 0 .2-2.6 1-.1-.6-1.3-.1-.6 .3-.7-.2-.4 0-2.3-.2-1.4-.3-.7-.7 .1-.4-1.2 1.9 .3-.4-3.5 1 .2 0 .9 0 .9 .1 1 0 .9 0 1 .1 .9 0 .9 0 1 .1 .9 0 1 0 .9 0 1 .1 .9 0 .9 0 1 .1 .9 0 1 0 .9 .1 1 0 .9 0 .9 .1 1 0 .9 0 1 .1 .9 0 1 0 .9 0 .9 .1 1 0 .9 0 1 .1 .9 0 1 0 .9 .1 .9 0 1 0 .9 .1 1 0 .9 0 1 .1 .9 0 .9 0 1-1.4 1.6 1.9-2.5-.4 .9 2-3.1-.7 1.6 0-2.8 .8-1.5 0 .4 .5-1.3 0-1.9-1.1-.6 1 .8-.1-3.1 1.4-1.3 .2 3.2 .6 .6 .4 5.2-.2-1.5 .3-.9 .4-3.2 .8-2.5-.2 2.2 .8-2.7 .4-3.7-.7 3.3 1.3-.2-.4 1-.1 .9 .6 0-.9 2.1 1.2-.1-.5 1 .7 1-.4 1.4 .4 1.2 .1 1.5 .1 .1 0 3-.1-.9 .3-.6 .9-.8 .6 1.5 .1-2.6 .5 .7 .8-2.9 .7 2.3 .2 1.2-.8-2.1 1.9-1.6 .1-.8-.3-2 1.1-.3 .8 .4-.4-1 .1-1.7 .4 1.1-.2-1.6 .9-2.1 .7-.3 .6 2 .6-3.2 .7-1.5 .5 .4 .4-2.1 0-1 .3 1.1 .8-3.5 0 1.7 .4-2.3 .7-.6 .8 1.1 .1-.4 .5 1-.5 1.5-.1 1.8 .2-.1 .7 1.4-.3 1.4-.2 1.1 1.7-.2-.6 1.7 0-.9-.1-2 .5-.1 1.1-.4-.4-1.4-1.3-.7 1.2-2.7-.8 1.6 1.4-2.2-.2-.6 .3-2.5 1.3 .5 .2-.3 .1 1.5 .6-1.6 .5-1 1.1 2.3 1.3-.8 .3 1.2-1.1 1.2-.6 1.5 .7 2.1 .1-.1 .8-.7 .7 2.4 .6 .4-.8 1.8 1.2 .6-.3 .9-.7 .4 .7 1.6-.7-.1 .3 1.5-.2 .3-.2 2.1 1.3 .6 .5 1.4-2.1 .6 1.9 1.2-1.4-.3 1.2 1.9-.1 2.4-.8-1.5 .1 1.4 .8 .8 0 1.5 .4-.9-1.1-.2 .9-1.8 .8-.5-.4-.8-.3-1.7 1.1-.7-.4-1.7-.4-.7 1.5-1 .5-.2-.5-.9-1.4-1.4 .3 .8-.1-1.9 1.2-.4-.3-3.5-.8 .3 .1-.2 1.3-.3 .6 .7-.7-3.4-.7-1.6 .7 1.8 0-4 1.4-.6 .4-.3-1.1-1.1 0-2 .8 .1-.3-3.1 .4 1.2-.8-1.9 .7 .5 1-.9-.3-1.6 .2-.7 .3-2.1 1.4 0-1.3-.8 .6-1.9 .1 .5-.7-2.1 .3 1.6 1.6 1.2-.8 .7 .3-.5 .6 2.7-.7 .5-.1 1.2 .8 .6-.7 2.3 .3 .7-.2-.5-.3 .3 .3 2.7 .1 .4-.1 1.4 .5 .4 .9 .8 .1 .2 .1 2.4-.8-1.6-.3 0 1.5-.2 .6 .5-.5-2.5-.5-2.6 .1 2.4 .3-3.5 .3 .7 0-.6-.2-1.4 .8-.7 1-1.2-1.2-1.4 .3-1.7-.3-1.2-.4-.8 1.7 0-.4-1.1-.2-.1-.1-.6 .1-.9 .3 2-.2-.1 1.5 1.8-.5 1.1 0 .5-.2 .8 .2 .9 1 1.6-.5 .9 .1 .9 .3 1.4 1.4 .8-.6-.1 .5 3 .8-1.1-1.7 .3 2.2 .9-.4 1.1-.1 1.5-1.2-.2 1.3-.3 0-1.6-.3-2 .5 0-.1 .2-.4-1.7 .4-1.1-.4 .2 .2-2.8 .4-1.4 .6 0 .1-1.6 .4-.8 .7-1.5-.7 1.3 1.2-5.1 .2 .5 .6 1.2-.2-1.8 .8 2.5 .5-2.5 .2-1.7 1.2-1.3 .1 1.3-.3 1.2 0 .4 .1 .4 .2 1.1 .1 1.1 0 2.1 .6-.1-.8 .6 .9 1.3-.3 .8-1 1.3 2 1.4 .5 0-.6 2.7-.3 0 .2 .1 .7 2.4-.3-1.1-.2 2.8-.4 .6 0 .3 .2 1.7 1.2-.7-.1-1.7 .9-.6-1.5-.8 1.5-1.3-.3-1.3-.4 .6 .4-2.3 1.8 0-1.6-.9-.6-1.3 .9-.3 .2-1.4 .3-1 1.5-.6-1.9-2.2 1.5-.8 .8-.2-.2-1.1 .6-1.5-.7-2.2 1.2 .6-.1-.7 0-2.1 .4-1.1 .5 1.9 .7-2 1.6 2 .5-1.8 .8 2.3-1.2-.1 1.6 3-.2-2.2 .6 3.2 0-.3 .4 1.7 1.1 1.9 .1 .1 .9 .6-.4 .7-.1 2 1.2 .4 0 1-.1 .4 .3 1.3 .6 .7-1.4 1.1-.5 1.4-.2 .6 .4-.2 1.6 1.7-.6 1.8 0 .1 1.5-1.6-1.5-1 1.1 1.6-1.2-1.7 1.3-3.4 .4 .5-.5 .3-.5-2.2 1.4 .2-.7-1.8 .6-1.7 .2 .6-.1-2.7-1.2-1 1.3 .5 .2-.6 1.4-1.5 .2-1.8-.6-.3 .1 0-.4-.3 .5 .3-.1 2.6 .3-.3 .4 2 .3 .1 .1 1.4 0 1.3 .5-.7 .1 3.1 1.6-.7-.7 1.5-.2 1.4 .6 .4-.3 .5-.2 1.5 .6 1.3 .9-.4-1.5 3.3 .7 .5 .5 .9 .4 .7 .4 1.8-1 .2-.1 .9-.3-.9 1.6 3-1.4 .3 .4 2.5-.1-.2 .7 .5-.2 1.6-1.1 0 1 1.4-.1 2.7 .2-2.6 .5 3.1 .7 1-1.4 .5 .6 .6-.3 2.5-.3 .4 .9 0-.8 1.9 .9 0-.3 1.4 0 1.3 0-1.5 0-1.1 .9 .6-1-2.3 1.3-1.1-1.6 .8 1.7-3.3-.1 .3-.4-.7 1-1.4 .7 .6-.7-2.7 .1-1.5 .8 1-.7-2.8 .2 .1 .8-1.5-.7-.8 .7-1.7 .1 .4-.4-.7 .2-1.3-.1 1.3-.7 .4-.3-1-.2 3.2 1 .1-.5 2.2 1.3-.6 .2 .8 .2 1.8 .1 1.1-.1-1.5 0-.4 .7-.4-.4-1.8-.6-1.5 .2 .8 0-1.7 .5-2.5-.8 .7 .9-2.5 1.1 .1-1.2-1.8 .1-.6 .4-1.7-.6-.4 1.1 .4 0-1.5 .4-1.1-.2-1.1 .9-1.3 .5 .2-1.5-2.2 .2-1.6-.3 .9 .7-.8-.1-2.2 1.2-1-1-1.2-.2 0 .3-2.4 .9 1.1 0-2 .7-.7 .8-1.8-.4 .4-.1-1-.2-.6 .3-2 1-.1-.3-1.8 .2-.3-.6-1.3 1.2-1.7-.6-.8-.2-1.5 .4 .3 .5 .9-1-.8 .6 2.5 .5 1.2-.8 .8 .6 2.6 .6-.9 .2 2.3 .3-1.2 .2 2.8 1.5-.7-.2 1-.1-.2 .5-2.5 .3 1.2 .6-2.2-.2 2 .7-2.2 .6-2.3 .2-.9 .9 2.1 .3 .6-.9-.1 .4 2-.8 .9 1 1.3 .9-.4-.5 1.5 .9 1-.3 .1-.9 1.7 .7 2 .6 .5-.5 1.1 1.3 .8-.1 .6-.8-.4 .4 2.6 .4 .6-1.2 1 1 .5 .4 2.5 .1 .2 .8 1.3-.5 .6 .7 .2 .7-.2-.4 2.4-1.3 1.4 .1 .6 .6 .9 .1 1 1 1.4-1.7 .8 .9 .2-.4 .8 .9-.1 .3 3-1.2 1.2 .2 .8 .4-.1 1.4 .5-.6 1.7 1.7 .1-.8-.5-.8 2.7 1.8 .1-.8 2.3-.3 .8 1.2 1-.2-.7 .4-1.8 .8-.8 .1-.4-.9-1.8 .3 .1 .1-1.4 .6-2.7 .2 1.9 .6-2.7-.4 .5 .5-1.5-.5-1.2 .7-1.5 .3-.4-1.1-1.8 1.6-.8-1.3 .1 1.1-1.2-.6-1.5-.6-.6 .5-2-.1-1 .4-.6 .9-.6 .7-.1-1.1-1.8 .8-1.6-1.3-1.5 1 .7 .4-.5 .7-2.1-.8-.5 1.1-2.2-1.2-.4 .9-.3-.2-1.6 0 1.9 .9-.9 .5-3.9-.7 1 .9-5.5 .4 1.7 .2-1.9-.2 .2 .8-.6-.7-.8 .6 .9 .3 2.2 .1 .3 0 1.3 .1 1 .8 1 .3 1.5 .4 1.3 .3 .1 .5 .4 .7 .7-.6 2 .2-.6 .4 5 .4-.5 .5 .5 .1 2.4 .8-.2 .4-.3 .6-3 .5 0 .1-.4-.3-1.6 .1 .4-.3-.7 .4-1.1 .5-2.5-.2-1 .2 .5-.9-3.1 .2-1.3 .6 .8-.7-1.1 1.4-.4-.7-1.7 .9 .4 .4 2.5 .1-1.3-1 2.5 2 1.2-.9 .5 .6 .7 .3 1.7 0-.2-.9 2.4 .2 .9-.3-.4 1.2 2.2-.1-.2-.3 1.4 1 .8 0 1.7 2.1-1.1-.7 2.7-.7 1.1 1-1.6-.4 3.4 .6 1.6-.8 .5-.3 .2 1.4 .4-.3 0-.5-1.6 .4 .8 .9-2.3-.2-2.5 .2 1-.7-.9 1.1-2.5 .1 .8-1.4-2.5-.1-.2 .8-2.5 1.1 .6-.5-1.5-.9 0 1.6-2 0-.7-.5-.1 .6-2-.6 .6-.3-3 0 1-.6-2.4 1.1-.9 .1-.5 .1-1.9 .3-.2 .4-1.3 .3 .2 .6-.3-1.1-1.7 .4-.7-.3-1.3 .1-.3 1.1-2 .6-1.5-.1 .2 0-1.3 .8-3.9-.4 2 1.6-2.5-.1 2.3 .2-.6 .3 3.8 .3-.9 1.8 1-.6 2.9-.3-1.1 .6 .8-.4 1.6 .3 1.7-.2 .1 .7 .3-.1 .6-.6-2.1 0-.6 .5-.5 1.4-.9-.3-.8 .4-1.8-.5-.5 .7-.7 .9-.9-.8-.9 .3-.6 .8-1.7-.2-2 .7-.5 .8 2.7 1.1-.1 .1 1.1 1.1 .8-.7 .1 1.1 .7-.5 1.7 1.1 2.1 .4-.5-1.3 2.7 1.4-1.5-.5 2-.5 1.4 .1 .2-.2 1.1 2 1.2-.4 1.2-.9 0 .5 2.4-.6-.5 1.3-2.2 .3 3.5 .3 .6 .5-.3 .7 1.2 0-.4 .7 3.1-.5-1.3 1-.4 .7 .3-.4-1.8 1-1.4 .4 1.1-.8-2.7 .7 .8-.5-2.5 .2-1.9 .2 1.4 0-2.1 .4-1.7 1-1-.8 .2 .7-1.4-.5 .8 .5 .2 .6-1.6 1.1 1.2 .3-1.6 .6 .7 1.4-5-.1-.9-.1-1.5 1.1 0-.6-.7 .2-1.3 .4-3.4-.9-.5 1 1.3-.6-2.1 .6-.3 .2-.9 .2-1.9-.3-.4 .3-.1 .6-1.7 .1 0-.1-1.8 .4-1.9 .1-.1 .2-3.7 .6 6 .1 .8 .3-1.3 .8 .2-.3-4 .3-2.9 .9 .4 .2-.3 .8 2.1 .6 1.3 1-2.1 .6 1 .3 1.4-.2 .3 .8 .6-.7 2.2 .9-.4-1.2 2.1 .5-.3 1.2 2.2 1.3 1.5 .1-3.3 0-.1 .2 .3-.4-3.7 .8 1.7-.9-.9 .3-1.1 1-.9 .3-2.3-.4 .8 .3-2.5-.4-1.2 .3-1.2 0-.1 1.5-.8-.6-.9-.1-1.5-.7 1.6 .4-1.4 .2 .6 .4-1.2-.1-5.2 .8-2.6 .4-2.6 .1-.9 .4 0 1.1-1.2 .5 .8-1.3 2.9 1.3 1.6 .1 .7 .6 .4 .3-.2 .1 2-.9 .6 .6 1.4 .8 1.9 .9-.7-.8 1.2 .4 .4 1.4 1-2 1 1.6 .9-.7 1.8 .5 .5 .9-.6-.4 3.4 .2 .2 .2 .7 .2 .9 .4 .8 .5 .8-.8 .7 .2-.1-.1 3.4 .9 1.8-1-3.3 .7 2 .2-4 1 .4-.4-.9-.1-.2-.2-3.1-.3-.2 .3-.1 1.5-1.9 .1-1.8-.5 0 .4-1.8-.6 .2-.3-1.7-.4-.9 .6-1.9 .1-1-.4 1.3-.1-1.4 .3-2.1 .6-.3 .3-3.1 .9 2.5-.7 1.2-.9 1 .8 1.2 .4 2.6 .5-1.2-1.5 .5-.7 3.3 1.4-.1 .2 .9 .6 1.4 .3 .8-.3-2.4-.3-.1 .7-.6 1.3 .1 .4-2.5 .3-1.5-.5 .4 1.4-1.1-.8 0 1.3-5.8 .7 5.8 .4-.7 .4 4.2 .3 .9 0-.7 .3 2.4 .4-1.1 .1 4 1.2-2-.4-1.1 .4-2.3-.5 0 .5-.1 .2-2-.1 .3 1.3-1.2-1-1.5 .1-.5 .2-1.5-.9-.7 1.5-1.2 .5-.2-1-1.1-.1-2.8-.3-.9 1.2 0 1-.9-.9-.1 1.7-1.3-.7-.6 1.1-.9-.3-1.4 .8-.2-.1-1.2-.6-1.2 .9-.4-.9-3.5 1.5 1-.7-1.4 1.5 1.7-.6 1 1.1 .4-1.8 2 1.2 .3 .6 1.9-.1 .2 .5-.1-.4 .6 0 1.2 .2 1.3-.4 .5 1.9 1.7-.8 .2 .3-1.9 .8 .5 .1-.2 .6-1.3 .1-1.6 1-.3-1.3 .1 .5-3 0-.5 .8-.4 .4 1-.2 .9-.4 1.4 .5 0 .3 2.2 .4-.2 .2 1.2 .3-.5 .4 .4-.8 2.3 .5 2-.6 .6-.1 .6 .8 .2-.8-2.5 .7 .6 0-1.2 .4-1.6 1-.8-.6-1.3 .1-.3-.4-1.1 1.1-1.9-1.1-.5 .6 .7 .4-3.1 .2 0-.6-.2 .1-1.8-1-1.5 .8-1.6 .2-.6-.2-1.1 1-.8 .5 .2-.2-1.3-.1-.6 .1-.6-.3-2.5 .9 .2 1.6-1.2 .2 1.4-.7 .4-.6 2.4 1 1-.3-.5 .3 2.2-.6-.1 .9 1.2 .4-.9 0 3.4 .1 .6 .3 1.2 1.1-.4-.6 1.3-1.6 1.8 1 .5 .1 .8 0 1 .1 .9 0 1 0 .9 .1 1 0 .9 0 1 0 .9 .1 1 0 .9 0 1 .1 1 0 .9 0 1 0 .9 .1 1 0 .9 0 1 0 .9 .1 1 0 1 0 .9 .1 1 0 .9 0 1 0 .9 .1 1 0 .9 0 1 .1 1 0 .9 0 1 0 .9 .1 1 0 .9 0 1 .1 .9 0 1 0 1 0 .9-.9 0 .1-.5 1.3-.4-1.2-2 .9-1.1 1-.3-1.4-.3-.6-.7-.1-2-.5-.4 .9 .4 .7-2.7-.4-.6 .7 1-.4-1.1 .4-3.8-.8 .1 1.1-1.6-.5 .3 .5-2-.8 .2 1.7-2.1-1.5-.8 1.3-1.2-1 .1 .1-1.6 .5-.2 .2-2.2 .1-.9-1.7 .2 0-.5 1.8-1.9-.3 1-.2-2.6 .7 .3-.5-2.4 1-.3-.7-1.4 0-.9 0 .1-1-1.8 .7-1.4 .8-.9 .6-.2-.1-1.3 1-1.8 .1 1.4-1 .7 1.6 1.5-1 1.6 1.6 .3-.4 .5-.7-.4 .5 1.7 .6 1.1 .9 2.3-.4-.1-.1 .8 .6 1-1.2 .9 .4 1.3 .3 .7 .2 2.3-.1-.4 0 .8 .7 1.8-1-.3 1 1.8-.5 .8-.4 .3-.1 .4 1.4 1.3-1.4 1.3 .7 1.3 .3 .5 .2 2.3-.4-.4 .4 1.8 .6 2.3-.2-.9-.1 2.4 .1-.5-.3 1.2 .4 .5 .3 1.2-.9 1.2 1.3 1.6-.6-.2-.5 .5 1.2 3-.2-1 .2-3.1 .5 .6-.7-3.6 .7 1.8 .5-2.1-.4-1.2 1.1 .1-.4-1.2 .9-2.6-2.4 1.2 .9-1.5 1.2-1.1-1-.3 .1-2.3 .2 .3-.7-1.8 0-.5 .9 1.8 .3-.5-.8 1.8 1 1.2-.7 .1 1.2 .3 .2 1.9 1 0-.8 2 1.5 .7-.4 1.5-.3-1.2-.8-.6 1-1.8 .2-2.3 .3 .8-.3-1.1-.6-.8 .2-.8 1.7-2.5 .3 .3 .3-1.5-.2-.5-.3-1.6 1.6-.7-1-1 .1-2.5 .6 .3 1.1-.1 0-1.8-.5-.3 1.5 .6 .3-2.2 .9-1.2-2.3-.9 1-.2 1-1.6-.7-1.4 .5-1.3 .9 1.3 0 2 .1-.6-1.1 1.3 .3 2.4-.7 .8 1.4-.3-.1 .3-.2 1.8 .6 1.4-1.7-.6 .6 2.2 .2 .8-.3 .6 1.7 2.3-.5-2.2 0 1.9-.7 1.5-.1 1.1 .9 .9 1.5-.5-1.4-.8 .3-.4 .2-1.2 0-.6-.3-1.9 1 0 .1-.2 .9-3.2-1.5-.3 .4-.3-.5-2.1 .3-1.7 .3 0 0-.4 1.1-.7-.2 0 .2-2.3 .7-1.5-1.2-.9 1.1-1.3-.7-.8-.3-1.5-.4 .6 1.6-.1-.1-2.2 .5-1.2 .7 1.6-.8 .1 0 1.1 1.8 1.4-1.7 .7 .9 1.2-.8 .7 .3 1.6 .9 .7-.8 .8-.4 1.4 1.6-1-.1 2.4-.2-.3-.8 1.8 .8 1.5 .4 1.1 .3 .7 .2 .7-.7 1.5 .3 .3-.1-.8 .2-1.9-.2 1.3 .9-2.7 0-.4 .3-.6-.6-.3-1.2-1.4 .8-1.9 1 .1-.5-1.5 0-1.1 0 .9 .4-3.8 0-.2 .3-1 .5 0 .1-.7 .4-.9 .7-.9-1.1-1.1-.6 2.3 .8 .1-.2 .4-1 1.8 1.8 1.1 .1 1.6-.4-.1 .1 .6 .6 2.6 .2 .5 .1 .1 .3 1.5 .3 .2 1 2.1 0 .2 .1-3.7 .5-1.3 1.8-.5-1 .9 1.1 1.3-.6 .5 1.3 1.1-.8 .9 .4 .3 1.2 .2-1.6 .4 1.4 1.7 .1-.2-.2 2.7-.2 .5-.4 1.2-.1 1 1 1.8-.4 0 0 1 1 2.4 .2 .5-1.2-.8-.1 2.5 .7 1.2-.4-.3 0 1.5-.2 .1 1.6 1.4-.9 1.3 .7 .9-.3 .4 .1 2.1-.5 .8 .6 1.5-.8 .2 1.3 .2-1.3 .2 .4 1.7-.3 2.1-.2-.7-.8 3.3 2-.3-.5 1.2-.8 .4 1.2 .8 .9 1-1.4 3-.5 1.6 .4-2.4 1 2.1 .1 .7-.7 2.5 0-1.3 1 2.2-.3 .8 .2-2.1-.3-.4 .8-.7 .9-1.1-.3-.1-.4-2.3 1-.3-.7-.5 .7 .9-.8-3.3 0-1.2 0-1.8-.1 .6 .5 1.7-.5 2.4 .7 1.2 .9-.6-1.1 2.1-.1-.7 .5 1-.7 2.4 .9 1.6 .4-.5 .4 2.6-.1 .1 0 .5-.6 .7-.2 0 .2 2.6-1.2-.3 1.1 .7 .5 1.1 .4 .5-1.2 2.5 .1-.9 .4 2.2 1.3-1.3-.8 3.9 .5-.2-.2 .3-.3 2.1 .9 .1 .7 1.9 0 2.3-1.5-2 1-1.3-1.7-.9 2.1-.7 .1 .2-.2-1.8 .2-1.9 .5-.8-.2-1.2 1.2-.4 0 1 .1 .9 0 1 0 1 .1 .9 0 1 .1 .9 0 1 0 1 .1 .9 0 1 0 .9 .1 1 0 1 .1 .9 0 1 0 .9 .1 1 0 1 .1 .9 0 1 0 .9 .1 1 0 1 0 .9 .1 1 0 .9 .1 1 0 1 0 .9 .1 1 0 .9 .1 1 0 1 0 .9 .1 1 0 .9 0 1 .1 1 0 .9 .1 1-.2 2.1 .5-2.9 .3 1 .6-1.5-1.1-1-1-1.8 1.3-.7-.1-2-.4-1.3 .5 2.5 1.3-3.3-.2-.9 .2 .5 1.2-3.2-.7 .1 .7 .4-.2-2.1-.7-1.4 .1 .8 .3-2.1-1.2-.9 1.1-.6 .7-.8-1.1-1.1 .6-.8 1.1-.3-.8-.9 .1-2.2-.7 0 1.8-2.4-1.6-.1-.3-1.2 1.2-.5-.4-1.4-.2-.5 .1-1.3 0-.4 .3-.1 .4-2.4-.6-1.2 .3 .4 .2-2-.6-2.9 1.4 .3 0 .3-.7 .1-.1-1.4 .1-.6 1-3.1-2 .8 2-1.5-1-1 .7-1.8-.1-.6-.8-1-.3-1.7 1.8 .1-1-1.9 .6-.6-.2 .7 .2-.5-.6-2 .1 1 1.3-3.7-1.4-1 .7 .6 0-2.1 1-1.8-.2 1.1-.3-1.8 1.8 .5-.9-3-.3-1.2 .4-.3-.2-.4 .6-.9 .1 .1 1.3-3-1-.6 2 .2-.5-3.1 0 1.3 .7-3.1 1.1-.4-1.9-1.1 .3 0 1.5 .2-.7-2.6 1.9-.6 0-1.6-.2-1.2 .2-.7 .7-.1-.7 0-1-1.9-.5-.1 2.4-.9-1.3-1.4-.5-.7 1.3-1.3-.1-.9-.2-.2 .4-1.2 .4-.6 .2-2.3 0-.5 1.1-2.5-.1 .8-.8-1 0-.6-.6-.2 2.5-2.1-.2 .7 .3-2-.4-.5 .2-.7 1.2-2.2-.8 .1 .2-1.6 .7-.3 1.2-.2-.2-1.2-.4-.8-.4-.4 1.9-.4-.2 .4 .1 1.3 .2 .4-1.2 2.1 1.6 .4-.8 1.4 1.1 1.4-.6-1.2 .3 1.9-.6 .8 .3 .8-2.2 2.4 1.5 .3-.1 1.2 .3 .9-.5 1.3 .3-.7 .9 .9 .6 1.7 .9 1.8-1 .5-.5 1 .7 0 0 1.7-.6 1.2 1.3 1.5-.5-.8 .8-.3 0 2.1-.1 1.5 .4 .9-.4 2 .4 .8 .7 0-1 2.5 .8-.7 0 1.8-1.5 0 1.7 2.7 .4 .1-1.3-.4 .4 1.1-.1 2.6 .4 0 .6 .7-.5-2.2-.5-1.4 .2 1.1 1.9-2.4-.2-1.6-.6-1.1-.1-.3 1.4-1.1-1.2-2.1 .9 .5-.7-.2 .7-2.8-.4 .7 .2-1.3 .5-1.7-.4-.6 .4 .3 0-2.3-.1-2.1 1.3-1.7-.5 1.9-.3-3 .6 1.2-.7-2.6 .6-.4-.4-.5 .6-.3-.6-1.7-.7-1.3 1.2-.8-.7-2-.5 .3 1.5-1.6 .2-1.2-1.2 .8 1-2.4 1.3-1.1-.2-.9 .1-1.3-.2-.1 .6-1.5-.4-.5-1-.9 .9-1-.1 .2 .5-2.3-.8-1.3 1.6 .1-1.4-1.9 .7-.3-.5 .8 .2-2.6 1.3 1.8 1 1.9-.5-1 1-1.6-.7-.4 .9-1.5-.6-.5-.5-2.3 1-.5 .4-.1-.4-2.4 0 .7 .2-2.4-.3-1.3 .4-.1 0 1 0 .9 .1 1 0 .9 0 1 .1 .9 0 1 0 .9 .1 1 0 .9 .1 1 0 .9 0 1 .1 .9 0 1 0 .9 .1 1 0 .9 0 1 .1 .9 0 1 0 .9 .1 1 0 .9 0 1 .1 .9 0 1 0 .9 .1 1 0 .9 0 1 .1 .9 0 1 0 .9 .1 1 0 .9 .1 1 0 .9 0 1-.9-.6 .8 1.2 1.8-1-.7-1.6-.4-2 0 .3 .3-.4 .5-2.2-.8-.5 .8-.9 .4-.3 0-.3-.3-1.6 .6-.5 .9-1.1-1.9-1.7 1.5-.2 .2-1.6-.3 .1 1.4-2.3 .3-.5-.9-.8-.5-1.7 .4-.3 1.2 .3 .7-.8-.6-2.3-1.5-2.3 2 .7-1-.9 .5 2.4 .2-.4 .7-1.3 .2 1.1 1.1 4.1 0-1.8 .6 .5 .3 1.7-.4 .8 .3-.9-.5 1.6 .1 1.1 .1 .1 .7 1.8 .5 .9-.2 1.9 .3 .2-.2 .2 .7-3.1-1.2 0 .5-.9-.3-1.3 1.3 .7-1-3-1.3-.8 1.4-1 .2 0 .7-.5-.7-1.6 1.3-.6 1.8-1.3-1.5-1.6 1.2 0-.5-.9 1-1.5-.5-1.1 0-.4 .6-.9-.4-.9 1.1-1-1.3-.9 .1-1.1 .1-1.1 1.3-.3-.9-1.6 .6 .4-1-1.2 1.4-1.2-1.3-.1 .2-1.8 1.5-1.7-.5-.4 .1-.6 1.5-1.8-.3-.2 0-2-.3-.8 1.2-1.1-.5 0 .6-.4 .4 .8 .9-.5-.1 1 0 2.4-.3 .4 .7 1.1 1 1.5-.6-.1 .3-1.6-.2-2.3 0 .1 .1-.6-.3-2 .4-.9-.3-.8 1.3-.7-.5 .6 .5-2.5 .4-.8-.1 .4-.3-2.1-.1-.4 .6-1.4 .2-1.2 .6-1.5 .4-.8-1.2-.3 1.1-.3-1.1-1.9 .4 1.3-.9-2.1 .6-1.9-.1-1.7 1.3-1.4-.3 1.2 1.1-1.7-1.8 .3 1-1.9-.2-1.8-.3 1.1 .1-.3 .9-2.3-.4-.4 .4-1.4 .1-2-.1 .7 .7-1.8 .2-1.4 0-.5-.7-1 1.2-.3 0-.4-.2-1.3 .8-2.6-.7-.6 1.3 .3-.5-1.2 1.7 .4-1.1-.7-.2 .5-.9 3.5 .5 .2 .5 1.7 .9 .1-.5 2.3-.2-.2 1.2 2.2-.3-.3-1.4 1.2 1.5 1.1-.1 .7 .2 .8 .2 .9 .1 2-.5 .5 .1-.9 0-.9 .1-1 .1-.9 .1-.9 .1-.9 0-1 .1-.9 .1-.9 .1-1 .1-.9 0-.9 .1-1 .1-.9 .1-.9 .1-1 0-.9 .1-.9 .1-.9 .1-1 .1-.9 0-.9 .1-1 .1-.9 .1-.9 .1-1 0 1 0 .9 0 1 .1 .9 0 1 0 1 0 .9 .1 1 0 .9 0 1 0 .9 .1 1 0 .9 0 1 0 .9 .1 1 0 .9 0 1 0 .9 .1 1 0 .9 0 1 0 .9 .1 1 0 .9 0 1 0 .9 .1 1 0 .9 0 1 0 .9 .1 1 0 .9 0 1 0 1 .1 .9 0 1 0 .9 0 1 .1 .9 0 1 0 .9 0 1 .1 .9 0 1 0 .9 .1 1 0 .9 .1 .9 0 1 .1 .9 0 1 .1 .9 0 .9 .1 1 0 .9 .1 .9 0 1 .1 .9 0 1 .1 .9 0 .9 .1 1 0 .9 .1 1 0 .9 .1 .9 0 1 .1 .9 0 .9 .1 1 0 .9 .1 1 0 .9 0 .9 0 1 .1 .9 0 1 0 .9 0 .9 0 1 .1 .9 0 1 0 .9 0 1 0 .9 0 .9 .1 1 0 .9 0 1 0 .9 0 .9 .1 1 0 .9 0 1 0 .9 0 .9 .1 1 0 .9 0 1 0 .9 0 .9 .1 1 0 .9 0 1 0 .9 0 .9 0 1 .1 .9 0 1 0 .9 0 .9 0 1 .1 .9 0 1 0 .9 0 .9 0 1 .1 .9 0 1 0 .9 0 .9 0 1 .1 1 0 .9 0 1 .1 .9 0 1 0 .9 .1 1 0 .9 0 1 .1 .9 0 1 0 1 .1 .9 0 1 0 .9 .1 1 0 .9 0 1 .1 .9 0 1 0 .9 .1 1 0 1 0 .9 .1 1 0 .9 0 1 .1 .9 0 1 0 .9 .1 1 0 .9 0 1 .1 1"/>
<text class="t" x="964.5" y="457.8">INFORMATION TECHNOLOGY</text>
<path d="M1397.6 686.6H1451.4" stroke="#0000ff" stroke-width="4.2" stroke-linecap="round" fill="none"/>
<text class="lg" x="1469.4" y="696.6">(17.7)</text>
<text class="d" x="1644.6" y="564.1" textLength="51.6" lengthAdjust="spacingAndGlyphs">3/24</text>
</g>
<g id="panel5">
<rect x="104.2" y="756.6" width="785.4" height="298.8" fill="#000"/>
<rect x="109.8" y="761.4" width="774.2" height="289.2" fill="#ffffe6"/>
<path d="M87 1053.4H104.7M97 1028.9H104.7M87 1004.3H104.7M97 979.8H104.7M87 955.3H104.7M97 930.7H104.7M87 906.2H104.7M97 881.7H104.7M87 857.1H104.7M97 832.6H104.7M87 808.1H104.7M97 783.5H104.7M87 759H104.7" stroke="#000" stroke-width="2.2" fill="none"/>
<text class="ax" x="80" y="1062.5" text-anchor="end">10</text>
<text class="ax" x="80" y="1013.4" text-anchor="end">12</text>
<text class="ax" x="80" y="964.4" text-anchor="end">14</text>
<text class="ax" x="80" y="915.3" text-anchor="end">16</text>
<text class="ax" x="80" y="866.2" text-anchor="end">18</text>
<text class="ax" x="80" y="817.2" text-anchor="end">20</text>
<text class="ax" x="80" y="768.1" text-anchor="end">22</text>
<path d="M107 1054.4V1076.4M155.8 1054.4V1076.4M204.5 1054.4V1076.4M253.2 1054.4V1076.4M302 1054.4V1076.4M350.8 1054.4V1076.4M399.5 1054.4V1076.4M448.2 1054.4V1076.4M497 1054.4V1076.4M545.8 1054.4V1076.4M594.5 1054.4V1076.4M643.2 1054.4V1076.4M692 1054.4V1076.4M740.8 1054.4V1076.4M789.5 1054.4V1076.4M838.2 1054.4V1076.4M887 1054.4V1076.4" stroke="#000" stroke-width="4" fill="none"/>
<text class="ax" x="131.4" y="1087.4" text-anchor="middle">06</text>
<text class="ax" x="180.1" y="1087.4" text-anchor="middle">07</text>
<text class="ax" x="228.9" y="1087.4" text-anchor="middle">08</text>
<text class="ax" x="277.6" y="1087.4" text-anchor="middle">09</text>
<text class="ax" x="326.4" y="1087.4" text-anchor="middle">10</text>
<text class="ax" x="375.1" y="1087.4" text-anchor="middle">11</text>
<text class="ax" x="423.9" y="1087.4" text-anchor="middle">12</text>
<text class="ax" x="472.6" y="1087.4" text-anchor="middle">13</text>
<text class="ax" x="521.4" y="1087.4" text-anchor="middle">14</text>
<text class="ax" x="570.1" y="1087.4" text-anchor="middle">15</text>
<text class="ax" x="618.9" y="1087.4" text-anchor="middle">16</text>
<text class="ax" x="667.6" y="1087.4" text-anchor="middle">17</text>
<text class="ax" x="716.4" y="1087.4" text-anchor="middle">18</text>
<text class="ax" x="765.1" y="1087.4" text-anchor="middle">19</text>
<text class="ax" x="813.9" y="1087.4" text-anchor="middle">20</text>
<text class="ax" x="862.6" y="1087.4" text-anchor="middle">21</text>
<path class="ln" d="M108.5 876.4l-.1 .8 1.2 3.9 .7 1.1 .7-.4 1.7-1.6 .2-2-.6-.3-.3-2 1.7-.1-.2-.5-.3-1.3 .8-1.3 .3 .9-.3-1.7 .4-2.9 0 1.2 .9 1.3 .9-2 .5-2.6 .6 .1-.5 1 1.3 .2-1.2 2 .5 .5 .1 .3 .6 1.9-.3 .4-.3 1.2 .3 .3 0 2.2 .1 .6 1.5-.6 .5 2-.3 2.3-.1-.7 .2 2.2 .1-.9 .1 1.7 .2 1.4-.2 .1 .1 .2 .8-1.3 0-1.9 .2-.5 .3-1.1 .1-.6 .2 0 .4-2.4-.2 .4-.1-1.3 2.4-.9-1.2-1.7-.3-.1 1.2-2.6 0 .4 .7 1.7 .4-.1 .1 2.9 .8-1 .2 2 1.2 1-1.7 0 1.5 2.3-.3 .8 1.2 .1 .4 2.6 .3 .5-.3 .5-.2 2.1-.3-.6 .9-.4 .5-2.6 .1 .1 .2-.3 .6-1.2 .3-1.6 .5 2.4 .1-.4-.2-2.4 .8-1.8 .9-.5-.1-.7 .2-1.7 .9-1.3 .4-.4 0 2.7 .8-1.6 .5 .4 .2-1.3 .7-3.2 .8 1.8 .6-3.9 .3 .4 .5 .4 .6-2.1 .5-.1 .5-2.4 .3 1.2 .4-2.6 .4-1.3-.2 3.5 1.2 .3 .2 .8 .2 .4 0 2.5 .9 .5 .3 2.1-.1 2.1 1.4-2.5-.5 .7 .7-3.6-.2-.3 .4-.2-1.1-.4 1.3-1.4 .3-1.8 .2 .1 .5-2.2-.2 .5 1-2.2 .1 0-.1 0-.7-.9 1.2 .8-.2 1.7-.4 1.2 1.3 .8-.1 1.1-.4 .4 .3 1.8 .7 1 .8-.7-.3 2 .3 .3 .4 1.5-.9 4.1 1-1.7 0-3.3 1 2.6 .7-2.6 .5-3.5 .8-1.4 .8 .5 .6 .7 .3 .4 .6-1.5 .9-1 .6-1.4 .8 1.6 .9-3.6 1-2.6-.2 1.9 .2-.3 .8 3.5 .3 2.7 .3-2.1 0 .4 1.2 3 .2 1-.9 1.1 .9 1.3-.5 .3 1.4 1.1-1.3 1.2 .4-.4 1.1 1.5-.3 3.1-.3-1.5 1.1 1.9 .3 .2 .3 2.4-.4-.4 1.4 1-.8 .6-.4 2.7-.4-1.3 .2-2.9 .4 0 .2-1.4-.7-.4 1.5-1.2 .2-1.1 .2-.1-.6-1.9 .1-.3 .2-1.6-.5-.6 .9-.7 .8-.4-.7-2 .9 .8 .1-1.8 .4-.9 .3 1.4 .3-3.1 .3-2.4 .4-.3 .5-1.4 .5 .7 .5-2.5-.1 .7 .4 1.2 .4 .6 0 .2 .5 1 .5 .4 .1 3.5 .7 .6 .2 1.1 .6 .2-.2 .2 .6-4.7 .3-.5 .4-.3 1-2.5 .1 .6 .1 1.5 .6 1.8 .3 1.4 .4-3 .4 3.8-.1 .5 .6-.7 .5 3.5 .4 2.9-.1 .4 1-.2 .8-2.8 .4-.4 .5-.1-.5 5.4 .6 .6 .2 2.1 .4 .6 1.3 .3-.4 .4 .3-.7-1.1 3 .2 1.3 1.1-.1-.1 1.2-.5 2.2 1.3-.7-.8 2.4 .6 .2 .6 .4 .4 2-.3-.5 .5-2 .7 1.7 .4-1 .6-1.4 .4-.7 .6 2.5 1.5-3.6-.2-.9 .6-1.4-.7-.2-.2-1.7 0 .3 .8-1.8 .1-1.2 .3-.6 .2-1.6 .7-.7-.3-1-.2 .1 .8-3.6 .2-1.1 .9 1.8 .1-3.6 .2 .8 .9-2.6 .5 1.8 .3 1.8 .2 3 .8 1.3-.3 .3 .5-.3 .3 5 1-3.2 .3-1.3 .7-.3-1.4-1.4 .6-1.3 .5-1.1 .5-.7 .2-1.7-.8 1.3 .4-2.6 1.1-.8 0-1.3 0-1.2 .3 .7-.4-1.6 1.5 .1 .2-2.5 0 .2 .6-1.1 1-1.5-.5 1.2 .4 1.8 .7 1.4-.3 .5 .7-1.2-1.7 2.7 1.6 1-.2-.1-.1 1.8 1.3 1.3-1.2-.4 1.4 1.6 .1 .7-.6 1.1 .7-.8 .9 3.6-1.2 1.2 .9 .5-.4 1.8 0 .2-.3 1.2 0-.6 .4 1.6 .9 1.5-.8 .1-.5 2 .7 .1 1.3 1.8 .2-.1-1.2 1.6-.1-.2 .5 2.3 .5 1.3-.1-.8 .2 2.1-.4-.1 .3 1.8 .4 1.4 0-.3 1.6 1.9-.5 1.4-.4 2.1 1.6-.8-1 1.8-.3 .7 .2-2.4 .9 1.5 .2-1.5-.1-1.3 .8-.3 .3-1.2 .4-3.8 .7-1.4-.8 1.7 1 .9-.2 1.4 0 1.9 .3-1 .3 1.1-.3 2 .7 .3 0 1.2 .2 .5 1 .7-.3 1.1-.6 1 .5 2 1.1 1.1 .3-.7-.6-.8 1.3-.5-.6-.8 .4 .2-.2-1.9 .6-1.3-.7 .8-.1-2.2 .5-.6 .1-2.5-.8-1.2 1.1 .6-.9-.1 0-2.1 .1-.5 0-1.5 .4 .8 .8-2.3 .1-.7-.2-1.3 .6-.7 .7-2.1 .5 0 .4 3.9 1 2.6 0-.5 .5 1.2 .9 1.1 .2 1.4 .6 2.2 .1-1.3 .7 2 .4-1.2 .8 .1 .3 1.4 .5 2.7 .5 .5 .3 1.1 .2 .1-.4 .9 1.6 .2-.9 .9 .2 1.4-.1 1.2-.1 1.7 .8 .9 .8 1.6 0 .5 .6-.1-1.1 1.7 .9 1.2 .2 1.6-1.5-.2 1.8 .9 .3-.9-.3-1.1 .2 4 .6 .8-.1-.3 .9-1.3 .3 2.4 0 1.7-.9 3 1.1-.7-.4-1.1-.1-2.2 .5-.6 .7-.6-.4 .2 .2-.9 .7-2.4-.4 1 .3-1.8 .9-.5 1.2-1.6-.5-.8 .3-.5 .5-1.8 .2 1.9 .5-.3 .7-3.4-.1 1.6 .3-2.8 .1 1 .4-3.2 .8-1.1 .4 .6 .2 2.5 .5-.5 .3 2.5 .6 0-.1 .9-.4 1.7 .7 .3 .3-.9-.2 3-.4 0 .8 .4-.5 1.4 .3 .8 .3 .5 .1 1.6-.2 .9 1.3 1.8-.7 .8 0-.2 .9 1.8-.6 2 .6-.6-.2 1.7 .6-.2 .4 2.4-.2 .8-.2 1.7 0-.8-.1 3 .2-.1-1.4 .5 1.5 2.2 .7-.2-.8 0 0 2.2 .6 .7 .8 1.7-1-.2-.3 1.8 .7-1 .5 2.8 .3-.9-.3 1.4 .9 1.7-1.1 1 0 .9 0 1 .1 .9 0 1 0 .9 0 1 0 .9 .1 1 0 .9 0 1 0 .9 0 1 .1 .9 0 1 0 .9 0 1 0 .9 .1 1 0 .9 0 1 0 .9 0 1 .1 .9 0 1 0 .9 0 1 0 .9 .1 1 0 1 0 .9 0 1 0 .9 .1 1 0 .9 0 1 0 .9 0 1 .1 .9 0 1 0 .9 0 1 0 .9 .1 1 0 .9 0 1-.1 .6 .1-.8 .3-.2-.2-.8 .4-2.7-.6 .7-.3-1.3 1.6-.6-1-1.3-.3-.1 .9-3.2-.3 .1 .5-1-.1-.6 .3-.9 .1-.9-.5-1.3 1-1.5 0-.4 .2-.9-.3-.8-.2-2-.3 .1-.3-2.4 .4-.4 .1 .1 1-2.3-.5-.2 .3 0-.9-3 .5 .9 .2-.4-1.1-1.3 .8-2.9-.2-.9-.1 .1 .5-1.1 0 .9 .1 1 0 .9 0 .9 .1 1 0 .9 .1 1 0 .9 .1 .9 0 1 .1 .9 0 1 .1 .9 0 .9 .1 1 0 .9 .1 1 0 .9 .1 .9 0 1 0 .9 .1 1 0 .9 .1 .9 0 1 .1 .9 0 1 .1 .9 0 .9 .1 1 0 .9 .1 1 0 .9 .1 .9 0 1 .1 .9 0 1 0 .9 .1 .9 0 1 .1 .9 0 1 .1 .9 0 .9 .1 1 0 .9 .1 1 0 .9-.6 .7 .9-.1-.5-1.5 .4-.1-.4-1.8 .7-1-.6-.6 .1-.9-.4-.3 .1-1.9 .2-1.3 .5-.8 .2 .3 .2-.9-.1-1.1-2.1-2.4 .5-.9 1.1-.9 0 1.1-.1-1.6 .4-.5-.4-2.4 1.1-.3 .3-1.3-1.8 0 1.2-1.4 .1-2.8 .1 2 .2 2-.2 1.2 .6 1.7 .3-1.1-.5 2.5 .8-.6 .1 1.4 .5 2.2-.4 .7-.7 .1 1.2-1.5-.1 .3 .4-2.3 .3-1.3-.1-.3 .4-1.8 1.4 .2-.4-1.7-.5-.6 .2 .5-.1-3.7 1.5 .1 0-.2-.2-2.7 .4 1.2 1.6-1.7-.8-1.5 .2 .4-.4 1.8 .4 .9 1 1.2-.5 .4 0 1.6-1.5 .8 1.2 1.5 .5 1.5 .1 .8 0 .9 .4 .6-.3 .5 0 1.2 .9 .1-.7 2.5 1.7-.4-.1 1-.7 1.3 .8 .8-.1 .8-.3 1.2 .2 1.2-.1-.4 .3 2.5-.2-.2 .4-.4 .1 2.5 .3 2.1 .1-1-.5 1.6-1.1 .5 .1 2.5 .8-.8 .9 2.3-.9 1.1 0 1.2 .1 .1 .6 .4-.6 .7 .4 1.8 .6 .7 .1 .5-1 1.6 0-.2 1.5 1.5-.7 .6 0-.9 .9-.6-.5-.5-1.3-.7 .9-1.6 .9-.7-.6-2.3 .3 0 .9 0-.9-1.6 .7-1.2 .6-1-.8-.7 .4-2 .2-.5 .4-.9-.6 0-.3 1.8 1.6-1.7-.6 2.9 .2 1 .6-.4-.4 1.8 .2-.2 .4 2.3-.5 1.8 .4-.5 .2 1.6-.2 1.3 .4 .1 .5 .6 .2 1.4-1 2.1 .3-1.1 .5 2-1.5 .5 .9 1.4 .4 2 .5 .3-.6 1.3 1-.3-1.4 .4 1.2 1.2 .2-.4 .9-2-1.7-.2 1-.7-.4-.8-.3-.9-.4-1.9 1.7 .3-.4-1.4-.2-1.1 .6-.7-.8-1.7 .1-.8 0-1.2-.2-.4 1-1.6-1-.8 .6 .2 .5-1.6-.1-2.3-.4 .8 .5-1.4-.6-.2-.8-2.2 1.6-.2-.5-.9 .2-1.4 .6-2.3-.8 .8 .2-1 .3-1.7 .1-.4-.4 .1 .2-2.4-.3-.1 .6 2.1 .2-.2 .3 2 .3-.7 .1 1.8 .8-1.8 .2 2.2 .1-2.1-.3-.5-.3-.3 1.1-.6 .8-2.3-1.1-1.4 1.5-.2 1-1.1 .1 0-.2-1.6 .9-1.3-.3-1.4 .4 .5 .5-1.7-.2 .2 .5-1 0-2.1-.7 0 1.1-1.7 .2-1-.7 .6 1.7-2.3-.8-.3 .3-1.3 .7-.6-.4-1.8 .3-.1 .2-1.6 1.3-.6-.4-.7-.1-.7 .3 0-.4 1.4 .5 1.4-.5 1.5 .6-.4 .3 .5 1.4 1 .2 1.6-.9 1.2 1.2-.1 .5 1.8-.7 .9 .2 1.3 .9 1.3-.9-1.7 .6-.6-.1-.4 .4-1.6 1.1-.9-.5-2 .3 0 .7-1.5-.2-1.4 .8-.5-.7 .1-.2-1.9 .5-.6 .3-1.9 .5 .5 .6-1.1 .1-1.3 .9-.6 .1-1 .7-2.1 0 .3 0-.6 .5-.8 .7 .2 .1 3.4 .5 1.7 .5-.1-.3-1 .9 2.9 .3-3.1 .8-1.1 .3-.4 0 .6 1-1.2 .2-1.1 .1-.5 .4-1.5 .9-2.8 0-.5 .7 0 .1-.4 1.2-.4 .2 .1 .6-1.8 1.1 3.4-.2-.7 1.1 1 .2-1.8 .6-2.7 .3-.6 .2 0 .6-.9 .3-2.7 .3 2.7 .5-.9 0-2.4 .8-.3-.1 1.7 1.2 2.7 .1-.4 .5 1.2 .3-1.3 1.6 1.5 0-.3 1.2 2.7 0 1.2 .5 2 1.2-1.2 .1 3.1 .8 .6 1 1.3-.2 .3 .9-1.8 .6-1.6 .5-1.6 .4-1.1 .8 .5 .3-.6 .1-3.2 .2 .1 .5 1.4 .8-1.7 0-2 .2-.3 .1 .3 .6-3.2-.2-.7 .7-1.3 0-.9 0-.6 .7-2.6 .4 2.7 .4 .1 .4 2.6 .9-1-.1 .3 1 2.6 .1 .9 .3 .1 0 3 .6 2.2 .4 2.8 .6 2.2-.3-.7 .7-3 1.6-.5-1.1 .8-.3 1.9 .9 1.9-.4 .8-.6 1.6 .3-.8 .9 2.2 0 .7-.1 .2 .5 .8 1.3 2.2-.8-.5 .6 2.1 .7-1.4-.6 2.4 0 2.4 .3 .5 .8 .3 1-2.3 .8-1.6 .1 .2 .6 2.3 1 0-.1 1.9 .2 .6-.6 1.4 .4 2.1 .9-.4 .3 0-.1 2 .1 .9-.1-.3 .7-1.8-.6-.5 .2-2.3 .1 1.1-.3-1.5-.2-1.4 .3-1.3 .9 .2-.4-.8 0-2.5 0 .8 .4-1.4 .3-2.1-.1-.5-.3-1.2-.6-.7 1-2.4 .4 1.1 .7-.6 .7-2.3 0 2 .4-2.8 .4-1.6 .5 3.6 .4 .5 .1 1.6 .6 .2 .1 0 .2 .5 .7 1.3 .1 3.8 .4-1 .7-1 .9-1.5-.7-1.2 .5 .3 .2-.8 .1-1.1-.5-2.1 1.6-1.7 .3 0-.1-1 .3-.5 .5-1.4 .7-1.4 .6 .2 .6 .1-.2 .8 1.2-6.2 0 1.1 .8 1.5 .7-1.8 .2-1.1 .1 .5 .9-.7 .5 1.4 .6 2.1-.1 1.4 .5 1.6 .7-1.3 .4 2.1 .2-2.5 .5 1.4 .7-1 .6-.8 .3-.6-.1 0-.1 .5 .7-1.2 .1-4.5 .1 .4 .6 .9 .3-.3 1 2.5 0 .9 0 .2 .8 3.1 .3-1.6 .9-.9 .7 1.4-.1-2.9 .5-1.3 .9 .6 .3-.5 .4 0 .5 1.7 .4 1.4 .2 .1 .2-1.3 .6 2.3-.1-1.1 .6 3.5 .1-1.1 .3 2.5 .5-.4 .7 3.4 .2 .9 .2-.8 .6 .2 .6 0-.1-.6-.2-2.8 0-.7 .3 .9 .3-1.7 .2-.8 .7-2-.4-.2 .7-.7-.4-.3 .2-2.3 1.1 1.3-1-3.2 .8 .6 .9-1.7-.9 0 .5-1.8 .9 .2-.5-1.5 .8-1.5-.3-.6 .5-.5 .2-.7 0-1.6 .2-.5 0-2.5 .9-2-.2-1.1 .3-1.4 .2 .9 1 1.3 0-2.2 .3-1.2 .7-.5 .7-.1 .2 1.4 .2 .2-.2 1 .8-.1-.5 2.7-.2 .2 .5 .5-.1 1.8 .2-.7 .1 2.4 .8 1.5-.1-.2 1.4-.3 .3 3.4 .6-.7 .2 2.1-.5 .2-.8 1.2 1.1 .6 0 1.6-.2 1.5 .5-.1 .3-1.9 .4-.9 .7-.2-.3-.8 .5-3.5 .3 .2 .1 .4 .6-1.7-.4 .1 1.2 2.2-.3-1.4 .4 1.5 .6 1.5 .1-.1-.8 1.4-.3 2.1 .8 .1 .6 1.4 1 1.1-.9 1.4 .2-.4 1-.5 .1 1.7 .1 1.9 .6 .3-.6 1.5-.1 .7 .3 .5-1.9 1.4 2.5 1.3-.3 .8 0 .8-.3 0 .6 2-1.1 .1 .3 1.6 0 .4-.3 2.2 1 .7 .5 1.2-.8 .1-.4-.1 .5 3.2-.3 .6 .4 .6 0 .3 .1 1.2 .3 .7-.3 1.6-1.5-2.6 2.3 .4 0-1.7 .1 .9 .4-2.1 .2-.9 .5-1-.7-.1 .3-1.6 .1-.9-1.2-1.3 .6 .1 .5-1.9-.1-.2 .4-1.4 0-1.2-.5-.1 1.6-1-.4-1.5-.6-1.9-.1 .7 0-.6 .9 1.3 .2-2.3 .9-4 .1 2-.6 1.1-.2 .1 .5 .8 .5 .9 .4 1.1 .3 .5 .3 1.8 0 .2-.3 1.2 .4 1.5 .2 1.5 .9-.3-.8 1.7-.3 .8 1 .5 .8 1.9 0 .1-.6-.7 .5 .1 0-1.7 .6-.6 0-.6 .1-3.1 .2 .8 .3-.7 .2-1.5 .3-1.6-1.2 0 .2-1.3 .1-.7 .4-.5 .5-2.3-1-.3 .5-2-.4-.7 .9 .1 1-1.4-.2-1.5-.6-.8-.2-.8 .2-1.4 1.2 2.9 .5-2.7 .6 1.6 2 1.1 .2 .2-.2 2.3-.5-1 1 2 .5 .3-1.3 1.3 .7 1.6-.4 1.2-.3 .5 .9 .4-.1-1.6-.7 .5 .3-1.3 .3-2.1 .7 1.2 .4-2.4 .3-1.1-.1-.2 .6-.8 .3-1.3 .1-.3-.1-1.7 0-.7-.8-1.6 1.3 1.3 1.1-3.2-1.3-.5 .2-.5 .3-.8 .2-.6 .8-.2-.8-.7 1.9-2.7-.2-.9 .1-1.8 .6 .9 .2-.7 .7 3.5 0-.3 1.3 2.1 .2 1 0-2 .7-.7 .3-.9 1.1-.5-.4 .4 .5-5.4 .1 1 .7-.9 .4 .6 .4-.6 .7-1 .3-3 .6-2.4 .3-.3 .6 1.1 .1 .9 .1-2.2 1-2.8-.5 1.9 .6-2.8 .6-.1 .4 4.3-.2-4.2 .5 0 .5-3.1 .2 .9 .4 1 .3-.4 .5 .6 .5 .4 .1 2.6 .1 1.2 .5 2.1 .2 0 .6-1.1 .5 1.9 .6 1 .4-4.9 .6 .9-.3-3.1 1.4 1.2-.1 .9 .5 1.8-.6 1.4-.2-1.6 .6 3.2 .1 .7 .8 1.4-.2 .1 .6 .5-.7 2-.1 .2 .1-1.4 1.3 .5-.7-1.5 1.2-1.4-.9-.5 .6-2.5 .4-.5-.2-.4 .2-1.1-.4-.5 .7-.9 .2-3.1 .7 .9 .4-1.5 1.5-.2-1.4-1.6 1.2-.1-.7-1.7 .1-.3 1.8-1.4-.7-.2-.5-2.2 .6-.6 .8-2.7 .7 .1 0-.2 .5-1.7 .1 .2 .7-2.3 .4 .8-.2-1.4 .2 2.8 .4-5.6 .7 1.9 .9 3.2 .9-1.4 .6 2 1 2.5 .4 0 0-2 1.2-3.5 .6-.7 1 0 .3-.1 .7-.8 0 1.3 .8 2.1 .6 .7-.1 1.3 .9-1-.5 2.4-.4 2.2 .2-1.4 .1 1.8 1.1 1.7-.5 .5 .2 .9 .2 .6 1.2 .3-1.1 2.5-.4 .3 .4 .8 1.1 1.2 .9 .6-.2 2-.9 .8 1-.2 0-.9 .6 4.1 .5 .4-.2 1.5 1.5-.7-.4-.5 .5-.6 .4-2.1 .2 .4 .2-1.7 .7 .2-.5-1.3 1.1-.5-.4-1.7 .8-1.4-.5-.3-.5-1.1 .7-.8-.3-.7 1-.4 0-.6-.1 2.6-.1-.8-.2 3.2-.1 .3 .3 .1-.1 .8 .5 .4-.5 1.6 .1 .4 1.7 1.1-.7 1.7 .1 .8 .2 .6 .8-.8-.1-1-.5 .5 1.6-2.4-.3-.5-.4-1.1-.2-.3 .5-1.4-.3-1 .9-.8 .8-1.3-.9 .2 .1-2.2 .5-2.6 .7 1.5 .4-3.2 .1 2.1 .2-.9 .4-1.4 .6 0 .4-2.6 .6 0 0-2.9 .2-1.3 .3-.7 .5-.8 .4-.8 .7 .5 .6 .2 .2-.7 .3-1.5 1 .6 1.1-3.2-1-.9-.5-.9 0-.4-.1-1.1 1.7-1.4-.3 1.2 .2-2.9 0-.1 .5-.9 .8-2.4 .5-1.2-.5 0 1.5-1.6-.3 .1-.1-.4 .1-.8 .6-1.1 1.2-2.4-.4 .3 .5 .1 .1-2.5 .3-.6 .1-.5-.1-1.3 1.2-.5-.8-.7 .6-2 .6-1.2 .6 .8 .3-3.4-.7 .9 1.3 2 .2-.6-1.1 1.1 .9 1.4 1.1 1-.7 .8 .5 1.5-.2-1.1-.1 2.9 .8-.2 .4 2.4 .1 .9 .2-.2-.1 .7 .2 1.5 .2 .1-.6 1.7 .6 .6 .5 .9 .1 1.2-.2 .9-.6 1 1.3-.1-.7 1.6 .1 1.4 .7 .9-.5 .6 1 2.1-.7 1.2 1.2-.5 0 2.6-.3 .4 .7 .5-1.3-.6 .2-2.4 .3 1.6 1.5-3-1.8-.4 1.1-1.4-.5-.5 .7-1.2 .1-.6 .1-.3 .8-.8-.9-2 .3-.1-.1-1 .3 .1 .5-1.3 .3-2-.1-.1-.3-1.1 .7-2.1 .1-.8 1 .2 .4-.8 .3-.1 1.2-.6 0-1.6-.2 .2 1 1.2-.6 .9 .6 1.2-.4 .2 .3 1.9-.2 1.2 .3 1.2 .8 1.2 .5 .8-.9 .1 1 .9-.4 1.5 .5 .1-1.2 1.2 .2 1 .5 1-.6 1.5 1.7 .2-.5 .8 1.8 1-1.5 .8 .6 2.8-.7 .7 1.1-1.7-.8-1.1 .8-.8-.2 .2 1.1-.7 .2-2.1-.7-.6-.6-.3 .5-2.3 .9-.5-.1-.7 .6-1.3-.2-1.6 1 .5-1-2.4 .4 2.4 .3 .2 .4 1 .7-.9-.7 2.8 1.1 .1-1.3 1.7 1.9 .9 .1 .2-1.1 1.4 0 1.3-.1 .7 .5 1.6 1 .8 .4 .9-.1-.1-.4-1.4-.1-.7 .4 0 .2 .1 .5-2.9-.3-.3-.1-.4 .1 0 1-2.4 .2-1.1-.8-.7 0-.6 .9-.7-.9-1.7 .7-.8 .3-.7-.7-.5 .5-2.3 .5 1.1-.6-1.5 1.7-.8-1.1-.2 .5-2.8-1.1 0 .2-1.2 1.1-2-.5-.6 .8-2.4 .4 0 .2-1.5 .7 .5 .2-1.8 0-1.3 .5 .7 .7 1.4 0 .2 .6 2 1.2-1.5 .3-.7 .6 2.5 .3-.3 .1 .2 .4 2.3-.1 .5 .5 .2-.1 1 .1 1.3 .6 0 0 1.9 0 .2 .8-.5-.5-.9 .3 1-.1-2.1 .9-1.8 0-.3-.2 0 .8-1.3 0-2.3-.6 1.9 .9 1.1-1 .3 .5 2.9 1-.1 .3 .6 .1-.3 0 1.5-.1 1.5-.1 1.6 1.1-.3-.4 1.5-1 .9 1.1 2.3 .2 1.1 .5-.3-.7 .4 1.8 1.2-.2 .3-.2 1.9-.3 1 .4 1.6 .7-.7 0 2.7 0 1.2-.2 .7-.8 .6-.1 2 .9 1.1-.2-.8 .1 2.1 1-.9-.3-1.1 0-1.9-.3-.2-.3 0 1.5-1.7-1-1.2-.6-1.8 .6 .3 .8 .1-.4-1.8 0-.7-.2-1.9 1.1-1.1 0 1-.3-2.3-.3-1.1-.3-1.2 .6-.2-.1-.8 .4-1.2 1.8-1.4-.1 .2 0-1.4 .2-.2 .9-1 .1-3.4 .2 .9 .5-2.6-.4-.3 .7-.4 .2 1.1 .6-5.2 .5 2 .5-2.7 .6 1.5-.1-1.4 .3 .6 1.1-4-.4 2 .7-2.8 .1-1.1 .2 1.5 .1-2.5-.3-.7 .8-1.4 .7-1.7 1.1-1.8 1.2 2.7 .7-.1 .4 1 1.1-2.5-.1 .2 .8-3.6 .4-1.7 .2 .7-.1-1.7 .7-.7 1 1 .5-.5 .7 1.9 .1-.3 .7 3.4 .7-1.6-.1 1.4-.1 1.4 .1 1 1.3 1-.7 1-.4 1.8 1.1 .7-.2-.5-.3 2.5 0-.6 .9 1.3 .1 1.7-.5-.1 1 1 0 1.5-.9-.7 .7 2.5-.5 1.6 .8 .9 0 .3 .3-1.7 .1 .7 .7-1.8-.6-2.2 .4-.5 .3-.8-.5 .4 .3-.2 .5-2.3 .2-1.3 0-.1 .7-.7 .1-.6 .5-1.8 0-1.4 .2-3.1 .7 2 1.1-3 .8 0 .3 .1 1.1-.7 1-.4 .6 .5 .6-.8 .2 .7-.1 .8-.2 2.2 .3-.1 .8 .4-.1 .6-.5 2.1 1.2 .3-.7 1.5 .7 .8-.3-.3-.2-.6-.3-.2 .2-.5 .2-.4-1-1.3 1.1-.8 .5-.3 .6-3 .3 0-.6-.7 .3 0-.4-1.8 .7-2.7 .3 .5-1.3-1.3 .4-.2 .5-1.1 0-1.8 .1-.5 1-.2-1-2-.6-.7 1 .1-.7-.8 1.1-1.7-.2-1.7 0-.5-1.1-1.5 .5-.1 .4-1.3-.3-1.5 .5-.3-.2-1.2 .5-.8-.3-1-.4 0-.2-1.2 .7-2.2 .6 1.6 .6-1.6-.3-1 0-2.7 .7 .1 .2-1.7 .8 0-1.3-.8 .5-1.3 1-3.8-.1 3.6-.1-.6 .5-.3 .5-.8 .5-2.6 1-1.2 0 2.8-.2-.6-.2 2.1 .1 .6 .2 .8 .7 .7-.6 .5 .4 2.1-.7 .8 .4 .3-.8 2.2 1 0-.9 1.2 .5 2.2 .7 .2 .2 .8-1.7 .3 1.7 1-1.1 1.1 .8 1 0 1.2-.7-1.7 .4-.7 1.3-1.4-1.2-.3 1-2.1-.4-.7 .2 .6-.3-2.1-.5-.6 .7-.7 .1-1.6-.5-.9 .6 .2 .5-2.1-.3 .1 .9-1-.7-1.1 .9-2.1-.7-1.2 .3-.8-.1 .1-.3-2.5 .1 .2 1-3.9 .3 .5 .2-4.7 1.2 .5-.7-2.1 .4-1.4 .7 3.1 .8-2.7 .3 3.4-.1 1-.2 .3-.3 .1 .7 1.3 .3 2.2 .2 .8-1.3 1.8 1-2.2-1 1.9 1.6 2.5-1.2-.2 1 2.1 .9 1-.1-.4-.4 1.8 0 .8-.7 1.4 1.8-2.4 1-.8-.8-.4-.3-.4 .7-2.1-.9 0 .8-1.2 .6-.6-1.5-.5 1-2 .1-1.1 .4-1.2-.1-.2 .3-1.8 .5-.2-1.1-.3 .5-2.4 .1-.5-.6-1.4 1.8 .4-.3-1.5 0-.8 .1-.5 .1-1.5 .4-1.4-.6-.5 .5-.1 .2-1.4-.7 .5 1.7 .6-1.1 2.1-.3-1.1 .7 3 .3 .3-1.1 .1 .4 2.2 .9-.3-.2 1.5-.1 .5 1 .6-.6 1.8 0 1-.3 .6 .1 1.2 .4 2 0 .3 .7 .7-.3-.4 .2 2.4-.4-.7 .7 2-.8 1.8-.1 .6 1 .7 .3-1.1-.2-1.1 .7-.5 .3-.5-.1-2.3 .2-1 .2-.5 0-.1 .1-2.6 .8-.1-.2-.8 0-.8-.8-1.5 .5 0 .7-.9-.1 1.2 .5-1.2 .9-.5 0 1.5 .8 .4 .9 .1 .6-.9 .6 1.9 1-2.5 0 1.7 .6 .2-.4 .2 1 .6 .3 2.2-.8 .4 0 1.2 .8 1.8-.5 0 .4 1.4 .7 1.4-1.2-1 .7 3.1 .6-.2-.2 .4 0 1.3 1.1 2-.8-.2 .1 2.1 1.1-.9 .2 2.1 .2 2.3-1.2 0 1-.2 .7-.8 .7-.1-.2-1.3 .6-1 1.1 .3 0-2.2-.1 .7 1.4-1.2 0-2.2-.4 .1 .6-1.1-.4-1.8-.9-.7 1.6-2.4 .1 .3-.1-1 .6-.4-.1-1 1.1-.8 .6-1.3-.9-.7-.4-.4 .2-1.8-.2-.3 .2-.7 1.4-1.2 .3 1.9-1.3 .1 .7 0 .5 1 .5 1.8 .1 .2-.5 1-.1 1.8 .3 .1-.7 2.2 1-1.1-.2 1.4 .5 2.3 1.3 0-.9 1.2 .1 .9-.4 1 .4 .8 .3-.2 .5 2.1 0 1 0 .6-.7 1.9-.1 .2 .4 .6 .5 1.4-1 1.9 .7-.5-.2 .7-.7 2.2 1-.2-.9 1.9 1 0 .1 1.2-.5 1.3-.1 .7 .8 1 .3 1.1-.6 .3-.7 .5 .2 1.2 .4 .3 0 2 .5 1.7 .6 1.1-1.1-.2 .6 .8 .1 .7-.3 .2 .7-1.6-.5-.7-.2-1 .5-.7 .1 .3 1.5-2.1 .4-3.5 .5 2.4 .6-1.4 .5-.2 .1-1.7 .8-.9-.3-.9 .6-.2-.8-1.9 1 .6 .1-3.2-.3-.5-.4-1.1 .3 .3 .7-2.2-.1-1 .2 .1 .2-.4 .3-2.6-.3-.4-.5-1 .3-.8 .7 .5 .3-2.8-.6 .8 .3-1.9-.6-1.5 .1-1 .9-1.5-.6 1.3 0-2.4 .6-1-1.5-1.2 1.7-1.9 0-.7 .7 0-.4-1.1 .5-1.2-.6-.1 .6-2.1-.7-.7 .9-1.6 .2-.9-.5 2-.2 .6 .8 1.5-.4 .4-.4 1.9-.3 .5 1 0-.4 1.5-.1 1.4 .1 .5 .9 1.1-.3 1.2-.3 .4 .7 2.5 .5 .1-.1 .2 .6 1.7-.4 .5 .1 .1 1.3 2-1.6 .7 1 1.1-.9 .9 .2 1.6 .7-.8-.2-1.9 .3-.9-.4-1.3 0-.5 .6-1.6-.5-.9 .2 .3 .3-.6 .2-2.1 .9 0-.7-1.9 1.1 .7-.7-3.2 .2-.7-.8-1.5 .9 .5 .2-1.5-.1 .6 .9-2-.2-1.8 .8 1.6-.9 1.4 1.6-.2-.7 1.4 0 .9 .1 2.3 .4 1 0-.1 .2 .8 .2 1.4-.2 .2 .2 .8-1 .5 1.3-1.7-.2-.9-.2-1 .2 .1-.2-1.1 .5-2 .2-.1 .1-1.7 .1-.9 .3-1.6 .1 .6 .6-2.7-.6-.1-.7 .4 .3-1.1 1.5-1.5 .8-.7-1.1-.5-.1-1.5-.7-.9 1.8 .1-1 1.9-.6 1.2 .7 .2 1.4 1.8-.9 .3 .3 1.2 1 1.1-1-.4-.5 1.9 .1 1.5 .2 .9-.5 .8 .9 1.9 .3-.9 1.3 1.9-.6-.3-1.1 1.9-.4 .9 1.1 .9 .1 .2 .7 .8-.6 .9-.4 1.1 .1 1.5 1.1 1.8 .4 .8-.2 .8 .5 .5-.1 1.4 .1-1.4 .3-.9-.5-1.2 .3-.4-.8-1-.4-1 1.6-.5 0-.6 .6-1.2-.8-1.4 1-.5-1.1-2 .2-.7 .6-1.1-.1-.4-.9-.5 .6-1.4 1-1-1.2-.1 .1-2 .5-1.4 1.5 .1 0-.1-.6-1.9 .3-.8-.6-1.1 .4-1.1 .6-.2 .5-2-1-.8 .7-1.6 .4-1.5-.1 0 0 .7 .3-.8 .2-2.3 .9-1.2-.1-2 .5 .5 .4-1.3-.4-1.3 .8 .1 .1-.4 .8-1.3 .2-1.1 .1 .3-.2 0-.1-1.1 .5-2.4 1 1.9-.3 .3 2.2-5.5-1-2.2 .3 .5-.5-1.7 .2-.2 .5-1.4-.3 .4 1-3-.6 1.8-.9 .6 .6 1.8-.1 .2 .6 .9 .3 1.1-.5 .8 1.2 2.3-.2-.2-.7 1.5 .5-.3 0 1-.7 1.5 .7 1.6 .8 .1-.2 .7-.2 2.5 .5 .1-.3 .9 .6 1.8-.8 .8 .2 1.1 .9 .9-.3-2.2-.3-1 .5-.3-.9-.9 .7-1.4 1-.2 .2-1.6-.4-1.3 1.2 0-.2-.7 .2-2.4-.9 .9-.3 1.4 1.4 1.6-.8 .4-.3 1.8 .9 .6 0 .1 .3 1.6 1 1.2-.3 .9 .3-.1 .3 1.6 1 .7 .1 1.2 .3 .4-.1 1 .6-1.1-.7-.6-.1-1.5 .6 .8 .2-.7 1-2.9-.4-.2-.1 .1-.2-2.5 .3-.2 .5-1.4 .6-.1 .1 2 .6 1.4 .6 1.4 1.5 0-1.1-1 1-.4-.1-.2 .5-.4-.3-2.2 .9-2.1-.1-.2 .3-1-.5-1.9 .2 .2 .3 .1-.7-1.7 .5-1.1-.4-.2 .3-3.1 .8 .1-1 .1 .5-1.7 .2-.3 .4-1.6 .1-1 .2 .8-.2 1.1-.6 2.2 1.2-.5-.2 .5 .7 2.7 .5-.5 .5 2.7-.1-.8 1.1 .5-1.4 6.3 1-2.4 1.2-1.4-.1 1.6 1.3-.9 .2 2.1 .3-.3 .5 2.4-.4-.1 0 1.2 .6 1.1 .9 1-.7 1.1 1 1.2 .7 .6-1.3 1-.3 1.2 .8 1 .7 1.3 .7 .7-.4 1.1 1.2 .1-.1 .6 1.1 .1-.2 2-.8-.1 .9 1.8-.9 1.4 .2 2.2 1-.2-.1 1.8 .5-2.3 1.1 3.2 .1 .7 .3 .1 .5 .5 0 .6 .4 2.3-.7-.1 .4 1 .3 .4 .6 1-.5 1.1 .4 1.3 1 .7-.7-.6 1.1 1.5 .3 .6-.5 1.4 1.1 .9 0 1.2-.4 .2 2.2 1.4-1 .3 1.4 1.7 0 2.5 .7-.6-.1 .4 .2 1.7-.3-1 .4-1.1 .2-.7-.7-1.7-.2-.4 .4-.4 0-2 .8-.6 .8-.2-1.1-1.1 .2-2.2 .2 .3-.6-.2 .8-1.5 .2-.7-1.1-.1 .4-1.2-.4-1.5 1.3-1.2 .1-1.7 .5-1.1 0 4.4 .9-.4 .7 .2-.2 .8 .9-.2 .6 2.1 .2 .2 .2-1.8-.2-.8 .2-.8 .2-.5 .3-1.4 .1-.5 .9-1.4 .3-1.5-.7-.9 .9-1.3 .2 .8-.6-1 .5-3.1 1.4 1.1-.5-1.3 .9-.7-.6-.7 .1-2.3-.1 .4 .2-.2 .3-1.8 .3-1.2 1-1.8-1 .4 .4-.2 .2-2.4 1.1-1.1-.7-.1 .9-.9-.5-2.2-1.2 2.5 1.1-1.8 .3-.7 .5-2.7 .3-2.4 0 2.5 .9-.7 .4 1.9 .4-.7 .3 2.5 .5-1.1 .2 1.7 .9 .4 .9-4.5 .3 3.8 .3-1 .6-1.1 .6 1.1-.1 2.1 .4-.8 .8 1.5 .4-.9-.6 2.6 .6 1.2-.1 1.4 .1 .2-.2-.7 2.3-1.2-.3 .2 0-2.2-.3 0 .8-2.4-.2-.3 .4-.9 .8-1.3 .1-.3 .8-.8-1.1-1.6 .1-.3 .1-.4 .9-.8-.5-1.2 1.5-2.5 .7 .4-.6 1 .1 1.6 .3 .7 .1-.1 .7 1.3 .3 1.3-.5-1.2 .2 1.9 .9 .9-1.8 1.5 0 .8 .9 1.1-.1 .9 0 .7 .3 1.2-.1 1 .2 1.1 .1 .8-.5-.1 .2 2 .4 .7 .6 1.6-.5 .9 .1 .4 .7 .8-.3 1.5 1.7 .3-.9 .9 1.5 1.7-.4-.4-.4 1.9 1.7-1-.9-.1-.1-1.9 1.9-.1-.3-2.1-.4-.5 .9-.6 .5-1.6 .2-.6-.2 2.4-.1-1 .9 1.5 0-.9 .4-1.1 .8 2.8-.1-.4 .2 2.5 .3 .7 .7 1.6 .6-1.5 .6-1.1 .6 1.3 1 .2 1.2 1.3-.8-.3 .3 1.7-.7 1.4 2.3 .3-.7 1.3-.1 .8 .3 1.2-.2 .5 .8 .7-.4 .2 .5 2.7-.2 .1 .1 3.1 1.2-2.2 .2 2.3 .4 1.2 1.5 .7-.8 1 .7 .2-.9 1.1 .7 1.2 .2 1.6 .4 .5 .8 .8-.6 1.1-.8-.1 1.1 1.3 .1 .5 .5-.5 0-.9 .2-.4 .3-1.1 .1-1.9 0 .5 0-1-1.5-.8 1.8-1.4 .1-2.5 0 .9-1.1-1.7 1.1-.3-.2-2.4-.6 1.5 1.5-3.2 .1-.6 1.7-.3-1-.9-.2-1.3 .1-.1-.1-2.4 1.1-.3 .6-1.4-.3-.8-.4 0-.4-1.1 .4-1.5-.8-1.7 .1 .2 .1-.3 .5-1.5 1-.4-1.3-.2 .9-1.9 .7-2 .3 .1 1.1-1.7 1.4 1.6 .8 .1 1.1 3.1 .2-5.1 1.6 3.9-1.1 1.2 .8 1.6 .3 0 .1 1-.6 1 .7 1.1-.7 1.8 .6 .4-.8 .5 1 .7-.8 1.1-.3 1.7 .6 1.5 .4 .3-.6 .8 .3 .7-.5-.1 .6 1.7-.2 1.2 .4 .1-.3 1.8 1.4 .8-.9 1.5 .3 .5-.8 1.5 .6-.6 1.3 1.3-.4 2.7-.5 0-.2 0 .9 2.4-.2 .2-1 1.5 .9 .9 .5-.2-.8 3.4-.4-.7 .6 1.4-.3 .8 .7 .7 1.2 1 .2-.1-.8 3.5 1.3-.1-1.2 .3-.4 1 .2 .9 .8 1.5 .1 .6 .5-.9-.6 4.8 .7-1.7 .6-1.2 .5 1.3 .3 .1 .4 4.6-.5-.1 .6 .4-.8 1.1 1 1.2-.2 1.6 0-.4-.4 3 .4 .5 1 .8 .5-.6-1.5 3 1.2 .5-1.3 .9 1.1 .1 .3 .8 .2 1.3 1.1 .8-.8 2.2-.2 0 0 1.1 .1 1.4 .9 .6 0 1 .4-1.5 .2-.6 .3-.7 0-.1 0-2.2 .7 .3-.2-.8 .9-2.5 .4 .1 .7-1.7-.7-.9 .4-.5 0-.3-.5-1.9 .1 2 .3 .6 .1 1.6 0-.6-.2 1.5 .3 2.1 .1 .3 0 1.4 .1 0 .6 .7-1.6 .8 1.2 2.9 .2-.8-.3 1.2 .3 1-.8 .6 .8 2.1 .4 .3-.4 .6-1.2 .2 1.1 2.2-.3 1.3 .3 0-.3 1.5 .3 .6 .1 2.7-.1-1.3-.4 3.1-.3-.4 .3 1.2 .7 0 0 1.6 .3 2.1-.5-.7 .5 .8-.7 0 .5-.9 1-1-.9-1 .9-1.2 .2-.8 .9-1.1-.2-1.5-.2 1.2 .1-2.6 0 .4-.6-2.5 1.1 .6 .8-1.6-.1-1.2 .3-1.6-.5-.3 1.2-.7 .8 0-.8-2 .8-.2 1.1-.5-.8-1.6 .3-.3 .8-1.1-.6-1-.2 .6 .8-.4 .2-.1 .3-.9 .3-5.4 .7 3.9 .2-3.7 .2-3.5 .3 2.3 .8 .1 .7-2.5 0-.6-.3-2 .5-.7 .1-1.1 .2-1.3 .7-.2 .4-1.2 .3-.6-.9-1.7 1.1-.2-.4-.8 .8-1.8-.6 1.8 .8-5.4 .4 .3 .5 2.5 .7-3-.1-1.4 .2-1.9 .5 1.2 .4-4.4 .3 1.1 .3 1.7 .2 .3 .3 1.8 .8 1.3-.2 .7 .9-1.1 0-.7 .4-.8 .4-.2 0-1.1-.4-3 1.4 1.1-.7-1.9 .6 1.7-1.3 .9 1 .8 .6 1.7 .6 .3 0 2.4-.6 .3-.2 1.8 .1-1.2 1.1 1.9-.1-.4-.9 1.1 0 3 .8-.8 .2 .3-.2 3.4-.5-.7 .6 .5-.1 .5 .4 2.7 0-1.3-.1 3.1-.6 .4-.1 0 1-1.4-.2-.5 .4-2 .4-1.3-.4-1.9 .9 .2 .2-1.2-.2 .3 0-.8 .3-.7 1-2.2-.1-.4-.9-2.1 .4 1.1 .2-1.7-.4-1.2-.4-.7 .4-1.2 .1-1 0-1.7 .6-.3-.3-.4 .6-1.8-.1-1 1.7-.7-.6-1-.6-1.1-.4 .7 .9-2.2 1.3-1.1-.8-.4 .4-1.5-1.2-.6-.1-1 .8 .9-.6 .9 .9 0 .1 2.2-.1 .5 .4 .6 .9 .4-1.6 2.3 .9-.6-.9 2.2 .9 .8 .1 1.6-.2 .3 1.4 .7-.9 1.3 .7-.1-.4-.4 .5-.3-.4-1.7 .3-.2 1.4-1.9-1.4-.8 1.1-.8-.5-1 .7-.7-.2-1.9 .2-.6 .5-.5 .1 .9 0 1 0 .9 0 1 .1 .9 0 1 0 .9 .1 1 0 1 0 .9 0 1 .1 .9 0 1 0 .9 .1 1 0 .9 0 1 0 1 .1 .9 0 1 0 .9 .1 1 0 .9 0 1 0 .9 .1 1 0 1 0 .9 .1 1 0 .9 0 1 0 .9 .1 1 0 .9 0 1 0 1 .1 .9 0 1 0 .9 .1 1 .3 .4-.6 .7 .5 1.1 .3 2.5 .2-.3 0 1.1 .1 .7-.1 .7-.7 .9 .4 1.5 .6 1.7-.7 .1 .7 1.4 .8 1.6-.9-.4 .4 1.6 .1 .5 0 1-.2 2.1 .8-.5 .4 2.1 .4 1.3-1.1-.5-.3-.5 .9-1.1-.3-.5-.3-1.5 .1-.4 0-.6-.3-2.4 .8 1.2 .5-2.1-.3-1.9 .5-.8 .4-.6-.9-.9 .3-.6 .2-1-.7-.5 1.2-2.1 .2-1.3-.3-.9-.6-1.1-.4-1.2 1.2-1-.2 .6 .4-1.1 .4 .6 .4-2.5 .8 1.5 .3-3.3 .2-3.9 .8 2.7-1.1-.2 .9-1.7-.4 .7 .4-2.5 .1-1.6 1.5 .3-.7-1.9 .3 0 .6-1.8-.7-.3 .2-1.4 .3-.9 1.1-.2-.4-.6 1.5-2.8-.3-.3-.3-.3 1.2-.8 .6-1 0-.8 .8-1.4-.2 .2 0-1.7-.3-1.5 .2 .9 .3-1.6 0-.9 1.8-2-.1 1.1 .1-2.6 .1-1.5-1.5-.5-.2 .2 1-2.6 .8-.6-1.1-1 1.3-.9 1.2-.8-1-.7 .6-1.5 .1-.3 1-.6 .2-1.1-.2-.7-.1-1.1 .4-1.5 0-1.5 .1 .1 .3-1.5 .1 .9-1.1-1.5 1.1-1.4 .5-1.7 .3-2.8 .7 1 .3 1 .4 2.2-.1 1.6 .9-.7 .2 2-.7 1.2 .8 .5 .1 1.1-.5 1-.3 .9 .2 .9 .9 1.9 .6 .7 .1 1.1-.4 .8 .1 .9 .8 .7-.2 1.1 .6 1.7 .8-1.9-1.1-.5-.9-1.7 1.4-.7-.3 .2 1-1.3-.7-1.5-.1-.4 .5-.3-.5-2 .8-.3 .5-1.6-.4-.2-.3-1.5 .5-.8 .5-.1 0-1.7-.6-.3 0-1.6 1.1-.4 .1-1.6 .3-1.5 .3-.2-.1 .6-.5-2.6 1.3-2 .2-.6 .5-.2 1-.7 0-.6-.3-1.6-.8-.3 1.6-2.3-.2 .7 .1-1.2 .4-4 .9 1.1 .5 .1-.1 2.9 .8-.9 0 1-1.4 1.5 .3 .1 .4 .8 .2 1.4 .6 1.8 .3-.6-.4 2.1 0 .7 .6 1.1-.4 .1 .2 2.3-1.1 1.1 .9-.5-.1 2.3 .5 0 .3 1.5-1 1.4 .3-.8 1 2.2 0-.3 0 1.8-.9 .6 2 1.6-1.1-.9 1 .8-.2-1.1 0-1.6 .1-1.4 .3-.3-.3 .7 0-1.8 .1-1.2 0-.9 .2-1.4 .2-2.1-.7-.5 .9 1.1 .1-1.8 .3-1.5-.4-.2-.1-1.6 .2-1.1-.6-.6 1-1.7-.7 3.8 .2-5.8 .6-3.5 .1-.8 .1 3.1 1-3.2-.3 0 .1 .6-.5 .4 1.4-1-.2 1.2 1 1.5 .3 .6 .8 1.4 0 .5 .4 1.1 .3 .9-.7 .4 .4 2.2 .4 .8 1.4-2-.2-.8 .1-1.6 .5-.5 .4-.2-.4-1.4 .7-.7 .5-.9-.7 1.8 .3 .1 .5-2.2 .1 2 .4 .1 .5 .2 .2 1.4 .2 1.5 .5 .7 .4-.5 .4-1.7 0-1.3 .4-.1 .5 .4 .5-2.9 .5-.1-.6 1.4 .6-2 .7-2.9 .8 .2 .2-1.1 .1-.3 .1-1.6 .1-1 .6-2.2 .5 .3-.6-.7 .5 2.1 .5 0 0 1.4 1.6 .5-.7 2.1-.1-.6 0 1.9 .6 .1 0 1.9 .2 .6 .1-.9 .1-1.1-.3-.5 1.6-1.7-.4 0 .2-1.5 .2-.8 .2-1 .2-.1 .9-1.8 .3-1.9-.8-.5-.5-1.7-.2 1.9 .8-2.4 .4-.1-.4 2.1 .3 1.3 .9 .9-.1 .2 1 1.3 .2-.9 .2-.9 .2-.9 .2-.9 .2-1 .2-.9 .2-.9 .2-.9 .2-1 .3-.9 .1 1 .1 .9 .1 1 .1 1 .1 .9 .1 1 .1 .9 .1 1 .1 1 .1 .9 .1 1 .1 .9 .1 1 .1 1 .1 .9 .1 1 .1 .9 .1 1 0 1 .1 .9 0 1 0 .9 .1 1 0 1 0 .9 .1 1 0 .9 0 1 0 1 .1 .9 0 1 0 .9 .1 1 0 1 0 .9 .1 1 0 .9 0 1 .1 1 0 .9 0 1 .1 .9 0 1 0 1 .1 .9 0 1 0 .9 .1 1 0 1 0 .9 .1 1 0 .9 0 1 0 1 .1 .9 0 1 0 .9 0 .9 .1 1 0 .9 0 1 0 .9 0 .9 .1 1 0 .9 0 1 0 .9 0 1 .1 .9 0 .9 0 1 0 .9 0 1 .1 .9 0 1 0 .9 0 .9 .1 1 0 .9 0 1 0 .9 0 1 .1 .9 0 .9 0 1 0 .9 0 1 .1 .9 0 1 0 .9 0 .9 0 1 .1 .9 0 1 0 .9 0 1 0 .9 .1 .9 0 1 0 1 0 .9 .1 1 0 .9 0 1 0 1 .1 .9 0 1 0 .9 0 1 0 1 .1 .9 0 1 0 .9 0 1 .1 1 0 .9 0 1 0 .9 .1 1 0 1 0 .9 0 1 0 .9 .1 1 0 1 0 .9 0 1 .1 .9"/>
<text class="t" x="124.3" y="794.5">CONSUMER STAPLES</text>
<path d="M377 1023.5H430.8" stroke="#0000ff" stroke-width="4.2" stroke-linecap="round" fill="none"/>
<text class="lg" x="448.8" y="1033.5">(16.3)</text>
<text class="d" x="804.4" y="908" textLength="51.6" lengthAdjust="spacingAndGlyphs">3/24</text>
</g>
<g id="panel6">
<rect x="944.4" y="756.6" width="785.4" height="298.8" fill="#000"/>
<rect x="950" y="761.4" width="774.2" height="289.2" fill="#ffffe6"/>
<path d="M1729.3 1053.4H1748M1729.3 1041.6H1738M1729.3 1029.8H1738M1729.3 1018.1H1738M1729.3 1006.3H1738M1729.3 994.5H1748M1729.3 982.7H1738M1729.3 971H1738M1729.3 959.2H1738M1729.3 947.4H1738M1729.3 935.6H1748M1729.3 923.9H1738M1729.3 912.1H1738M1729.3 900.3H1738M1729.3 888.5H1738M1729.3 876.8H1748M1729.3 865H1738M1729.3 853.2H1738M1729.3 841.4H1738M1729.3 829.7H1738M1729.3 817.9H1748M1729.3 806.1H1738M1729.3 794.3H1738M1729.3 782.6H1738M1729.3 770.8H1738M1729.3 759H1748" stroke="#000" stroke-width="2.2" fill="none"/>
<text class="ax" x="1754.3" y="1062.5">5</text>
<text class="ax" x="1754.3" y="1003.6">10</text>
<text class="ax" x="1754.3" y="944.7">15</text>
<text class="ax" x="1754.3" y="885.9">20</text>
<text class="ax" x="1754.3" y="827">25</text>
<text class="ax" x="1754.3" y="768.1">30</text>
<path d="M947.2 1054.4V1076.4M996 1054.4V1076.4M1044.7 1054.4V1076.4M1093.5 1054.4V1076.4M1142.2 1054.4V1076.4M1191 1054.4V1076.4M1239.7 1054.4V1076.4M1288.5 1054.4V1076.4M1337.2 1054.4V1076.4M1386 1054.4V1076.4M1434.7 1054.4V1076.4M1483.5 1054.4V1076.4M1532.2 1054.4V1076.4M1581 1054.4V1076.4M1629.7 1054.4V1076.4M1678.5 1054.4V1076.4M1727.2 1054.4V1076.4" stroke="#000" stroke-width="4" fill="none"/>
<text class="ax" x="971.6" y="1087.4" text-anchor="middle">06</text>
<text class="ax" x="1020.3" y="1087.4" text-anchor="middle">07</text>
<text class="ax" x="1069.1" y="1087.4" text-anchor="middle">08</text>
<text class="ax" x="1117.8" y="1087.4" text-anchor="middle">09</text>
<text class="ax" x="1166.6" y="1087.4" text-anchor="middle">10</text>
<text class="ax" x="1215.3" y="1087.4" text-anchor="middle">11</text>
<text class="ax" x="1264.1" y="1087.4" text-anchor="middle">12</text>
<text class="ax" x="1312.8" y="1087.4" text-anchor="middle">13</text>
<text class="ax" x="1361.6" y="1087.4" text-anchor="middle">14</text>
<text class="ax" x="1410.3" y="1087.4" text-anchor="middle">15</text>
<text class="ax" x="1459.1" y="1087.4" text-anchor="middle">16</text>
<text class="ax" x="1507.8" y="1087.4" text-anchor="middle">17</text>
<text class="ax" x="1556.6" y="1087.4" text-anchor="middle">18</text>
<text class="ax" x="1605.3" y="1087.4" text-anchor="middle">19</text>
<text class="ax" x="1654.1" y="1087.4" text-anchor="middle">20</text>
<text class="ax" x="1702.8" y="1087.4" text-anchor="middle">21</text>
<path class="ln" d="M948.3 941.7l.2 2.9 .7 0 .2-.2 .3-4-.1-2.8 1 2.1 0-3.1 .3-1.7 .7 1.1 .5-2.6-.1-.4 .7 1.6 .7 1.4 1-1.2 .7 2.9 .2-3.7 .7-.3 .7-.7 .3 .2 .7-1.8 .1 2.1 .6-1.6 1.3-.6 .6-.1 1.3 .8-.2 3.4 .5-.5 .1 .3 .6 .7 .4 1.4 .3 .4 .5-1.1 .6 1.3 0 1.4 .1 1.2-.1 .3 1.1 1.2-.2 1 .8 .9-.7 1 .4 1.3-.6 .6 .2 .5 .4 1.4 .8 .6 .1 1.3 .8 .1-.9 1.8 .7-.5 0 2.1 .5 1.2-.8 .2 .3 1.9 .8 .4-.1 1.2 .6 .2-.6 1.4 1 .1-.9 2.2 1.1 .3-.5 1.5 0 .8 .3 .3 .1 1.5 .5-1.1 1.2 2.1 .3-1.8 1.2 .6 1-1 .2 3.4 .6 1.1 .3 .8 .8-1 .3-1.8 .8 3 .3-1.6 .8-.1 .4-5 1.3 .1 .4-.3 .3 2.6 .7 1.5 1 .9 .4 .3 .6-1.9-.1-2 1 2.5-.2-1.4-.2-1.4 .9-1.2 .4 1.3 .1-1.9 .5-1.6 .4-1.3 1 .1 0-3 1.1 1.4 .3-3.7 .4 .3 .9-2.3 .3 1.2 .9-3.4 .3-.1 .7-2.2 .5-2.3 1.2 3.1 .5-.6 1.4 2.3 .4 1.4 .6-.6 .2-2.3 .8-1.3 .4 2.4 .6-3 .8 1.4 .8-2.7-.2-3.5-.1 .1 1-1.1-.3-2 .7-.7 .3 .6 .2-.6 .7-2.1 .2 1.1 0-4.5 .6-.1 .5-.8 .1 1.6 .2 1.5 .7 .2 .1 .8-.1 4.2 1-.4 1.2-2.5-.4 .5-.4-2.4-.1-1.6 1 .7 1.2-.2-.7-2 .4-.6 0 .3 .8-.6 1.5-1.7 .8-2.4 .8 .2 .5-.3 .2 2.3 .8-2.7 .1 .6 1.1 .2 .4 2.7 .6-1.1 .4-4.2 1 2.6 .3-1.1 .6 .1 .6-2.2 .4 1.5 .7-1 .7 2.6 .2-.4 .3-3.7 .4 2.1-.2-1.2 1-1.1 .1 0 .5-2.9 .2 .1 .1-1.2 0 1.4-1-1 1.1 2.5 .9 1-.8 1.1 .6 .6-.1 2-.6-.3 .8 1.5-.2 .1 1.2 2.3-.9 .9 .1-.4 .4 2.6-.2-1.3 .1 2.7-.3 0 1.2 2-1.3-.3 .8 .7-.3 2.3 0 .7 .2 .2 .4 .5 .1 1.7-.1 1.7 .9 .4 .6 1.2 .3-.1-.3 2.5 .4-.5 .9 2.4 0-.7 .2-.5-.2-.3 .4-1.4 .3-.4-.6-1.5 .5 0-.4-1.9 .3-1.5-.9 .3 1.1-2.3 0 .4 .5-1.2 .8-1.3-1-1.2 1.1 .9-.4-1.5-.3-1.7 .6-1.6 .1 .4 1-1.6-.7-1.8 1.4-.1 .7 .5-1.1-2.5 .4 1.3 1.1 1.5 .9-5.3 1.1 1 .9 .5-.2-.3 0 .6 .8-1.7 .3 2.4-.1 .4 .3 1.1 .7 0-.1 3.1 .3 .8-.1 .5-1.1 .8 .9 1-.4 .7 .5 2 1 .4-.2 .7 .7 1.9-1.1 .8 .8-.3 .4 1.2 1.2 1.5-.9 1.1 .5 0 1.6-.8-.9-1.3 .2-1-.2-.1 1.4-.9-.3-1.7 0-.7 .4-.7-.4-.4 .4-.9-.1-1.9 0 .7 .6-1.2-.3-2.2 .8-.4 .4-.8-.5 .5 .3 .5 .4 1.5 .5 1.2-.4 .8 .8 2.7 0 .3 .9-.3 1-1.8 1.2 .6-.5-.1-.9 1.5 .2 1.3 .4 2.9-.3-.3-.7 2.3 .1-1.2 1.3 .9-.8 1.1 .7 2.3 .1-.8 .4 2.3-.1-.3-.4 .7 .7-.9 .2 .2-.6-2.4 .7-.4 0-1.9 .3-.8-.4 .2 .1-1-.4-1.2 .1-.9 1.2-1.1-.5-1.9 .8-.8-1-1.7 .4-.8 .6-1.5 .8-1.3 .3 1.5 .7-.9-.2-.3 1.2 .4 0-2.8 .7 .3-.4 1.2 .2 1.1 .4 2.1 .9-.2-.7 2.2-.4-.1 .5 .3 .6 1.9 0 1.4 .4 .7-.1 .3 1 .8-.4 2.3 .3 0 .3 .7 .2-.3-.4-1.5 .2-.9 .5-1.5 .3-.8 .3-.4-.5-1.7 1.1 .2-.1-1.4-.1-1 .4-2.2 .1 3.8 .5 .1 .7-1.5 .6 2.8 .3-.6 .4 1.4-.4-1.3 1.7-.9 .1-1.1-.1-1.5 1.3 .2-1.1-1.3 .4-.5 0-1.8 .2-1 1.2-.1-.1-1.3 .2 2.2 .3 1 .1 1.2 .5 .6-.1-3.1 .3 2.5 .5 1.4 .4-.1 .2 2.9 .4-.3 1 .7 .8-1.3-.6 1.6 1-.3-.4 3.3 1-.9-.1 1.3 .2 .6-.3 1.4 .4 .8 .3 .6-.1 1.6-.1 .2-.3 1.6 1.4 0-.2 .9-.1 1 .4 .5-.9 1.7 .8 1 .8-1 .6 3.4 1-3.4 .2 1.8-.5 2.3 .1 1.6 1.5 .2-.3 .1 .9 1-1.1 1.6 1.3 1.1-1 1.7 0 .3 1.4-1.4 .5 1.3 1.3 1 .3-3.1-.2 2 .7 .9 .5 .3 1.1 2.2-.1-.7-.5 1.6 0 .4-.4 1.5 1 1-.6 .8 .3 .2 .3 1.7 .6 .2-.1 1.4 .2 .5 .3 2.2 .2-.6 .5 1.7 0 1.4 .5 1-.2 .5-.1 1.1 .4 .9-.5 1.7 1.4 .2-1.1 1.6 .3-.5-.3 1.8 0 1.9 .5-.6 .4 .7 .6 .7-1.4 2.1 .5 1 .4 .7-.2 .8 .8 1.1-1.3-.6 .6 1.8 .8 1.2-.2 .9 .8 .8-.7 1.2 .3 2-.5-1 1 1.8-.8 1.4 .8 1-.2-.3 0 2.9 .5-.1 .1 1.1-.3-.4 .5 1.4 .3-.3 0-.7 .6-1.1-.4-1.4-.5-1.2 .2-.1 .4 0 0-1.1 .2-2.5-.5 .2 .7-1-.2-.7 .1-2.4 0-.9 .4-.8 .3-.3-.6-1-.8-.7 1-1.1 .4-1.9 .1 .4-.6-2 .1-.4 .6-.5-1.3-1.2 1.6-1.1-1-.9-.9-1.7 1.8 .1-.6 1.3 .4-3.6-1.2-.9 1.1-1.7-.6 1.9-.4 .6 .9 .8-.3 1.4 .1 1.1-.2 .2 1.2 2.3 .1-.1-.1-.2-.5 1.9-.8 1.5 .9 1-.1 .6 1.1 1-.9 .6 .9 .9 .3 1.2-.3 .7-.1 2-.3 .8 .2 .8 .1 1.1-.3 0 1 1.8-.3 .2 .9 1.7-.7 2.2-.1-.9-.4 2.2 .8 .6 .2-1.2 .4-1.5-.2 .1-.6-1.9 .4-.7 .3-1.3-.7-1.5-.3-.8 1.8 0-1.1-.7-.6-1.3 .6-.6 1.1-.9-.3-1.8-.2-.4 0-.5 .2-1.2-.1-1.2 .4-.3 .5-2.5-.1 .3-.9-.8 .2-.7 .3-2.5 .4-.1 .3-.8 0-1.6 .7-.6-.5-1-.6-1.5 .6 .2 .2-.7-.8-1.5 .4-1.6 .9 .1-.9-1.6 1-.5-2.1-.4 .8-2.3 .5 .1-.4-1 .6 0 .4-3.1 1 .8-.8-3.1 .3 1.4-.8-2.1 .2-1.5 .1 .4 .6-2.4 .9-.3-.3-.8-.7-1.5 1.3-.1 .3-.4 .3-1.5 .1-.8-.4-1.5 .1-.3-.4 1.5 1.8-.3 .3 1.4-1 .3 1.3 2 0 1.1 .2-1.3 0-.6 .7-1.7-.1-.3-.3-2.2-.7-1 1.2 .8 .4-1.4 .2-1.6-.1-1.3-.7-.9-.1 .4 .7-1.8 .5 .1-1.2-1.9 1 .1 .6-1.7 0 .1 .1-1.3-.5-2.3 .9-.4 .6-1.1-.4 0-.6-.7 .3-2.2 .9-.5 0-1.2-.5-1.1-.1-1.6 0-.3 .3 .2-.4-1.9 .5 .4 0-1.8 .2-.5 .4-1.2 .7-2.3-.6-1.2 .2 0-.3 .8-.2 1.3 .6 .7-.5-.4 .6 1.7 .8 1.6-.5 .1 0 1-.3 1.3 1.2 1.9-.4 .3-.9 .7 .6 .6 1.6 1.3-1.3 1.2-.4 .5 1 1.8-.5-.9 .3 2.6-.4-1.4 1.1 2.6-.5 .7 1.3 1-1.3 2 1 1.6 .2-.2-.9 1.6 .4 1.3 .9 .8 0 .4-.6 1.9 .2-.5-.1 1.1 1.1-.5-.7-1.3-.5-1.7 .6 .1 .2-.6 .2-1.5-.1-1.8-.3 .5-.1-2.3-.3-1.4 .1 .7 1.1-1.9 .5-1.3-1.3 0-.3-.8 .1-2.6-.3 .5 1.1-1.4 .1-1 .5-1.2-.4-.5 .9-.7-.2-1.2-.2-1.1 .1-.9 0-1 0-.9 .1-1 0-.9 0-1 .1-.9 0-1 0-.9 0-1 .1-.9 0-1 0-.9 .1-1 0-.9 0-1 .1-.9 0-1 0-.9 .1-1 0-.9 0-.9 .1-1 0-.9 0-1 .1-.9 0-1 0-.9 .1-1 0-.9 0-1 0-.9 .1-1 0-.9 0-1 .1-.9 0-1 0-.9 .1-1 0-.9 0-1 .1-.9 0-1 0-.9 .1-1 0-.9 0-1 .1-.9 0-1 0-.9 .5-.7-.6 .8 .6 1.8 .3-.1-.7 1.5 0 1.3 .2-.2 .6 1.8 .3 .8-.8 1 .9 .8-.1 .9-.5 1.6 .9 .5-1-.3 .6 1.5-.1 1.9 0 1.6 .5-2.2-.5-1.8 .6 .9-.9-2 1.4-.9-.2-1.3 .6-1.1-1.2 .7 .8-1.6 .2-.9 .6-1.1-.7-1.4 .1-.5 .5-1.3 .1-.7 .3-1.2-.1-.6-.5-1.6 1.1-.8-.3-.4 0-.9 .1-1 0-.9 .1-1 0-.9 0-1 .1-.9 0-1 .1-.9 0-1 0-.9 .1-1 0-.9 .1-1 0-.9 0-1 .1-.9 0-1 .1-1 0-.9 0-1 .1-.9 0-1 .1-.9 0-1 0-.9 .1-1 0-.9 .1-1 0-.9 0-1 .1-.9 0-1 .1-.9 0-1 0-.9 .1-1 0-.9 .1-1 0-.9 0-1 .1-.9 0-1 .1-.9 0-1-.2-.5 1 .9-.9 1.1 .2-1 .3 1.2 .5 2.4-.1 .9 .2 .4 .6 1.5-.6 1.3 .3 1.3 .4-.3 .3 .8-.1 1 0 1.5-.3 1.7 .6-.8-.5 2.2 .1-.1 .2 1.9-.1-.3-.5 1.8 .3-1.5 .5-.4 1-1.7-.7 .1-1.1-1.3 .8-1.8 .8 .8-.2-1.7-.9-1.5 0-.6 .7-.3 .3 .1 .9-2.2-.7-1.4 .6-1.2 0 .1 .3-1.7-.2-.1 .1-1.4-.1-1.2 .7-2-1-.2 .5-.8-.7-1.4 0 1 .8-2.4-.8-.8 .5 1.5 .5-.5-1.7 2.1 .1 .6 1.8-.2-1.4 2.6 1.2 .6-.8 2 1.4 .4-1 .6 .2 .8-.4 1 .6 1.6 0-.4 .6 .9 .1 1.7-.1 .7 .3 .7 .2 1.8 0 .1 .2 .8-.4 1.7-.2-.3 .5 2.2 .9 .4-.6 .8 .1 2-.1 .1 1.1 .7-.8 2.2 .7 1.2-.4 .1 .2 .1 .1 2.1 .1 1.4 .2-.4 .3 .9 .4 1.6 .3 .9-.9 2.5 .1-1.1-.1 2.3 0-1 1.4 2.3-.4 1 .1 .1-.1 1.6-.1 1.1-.8 1-.1-.6 .6 1.1-.4 1.9-.2 1 .8 .2 1.1 1.1-.5 2 1.1 .6-.4-.9-.9-.3 .7-1.5-.1-.6-.3-1-.4-1.8-.1-.8 .4-1.2-.6-1 .1-.7 .3-2.2-.1 .3-.2 .5 .8-2-.3-1 .7 .2-.4-1.8-.1-2.4 1.1 .3-.3-1.5 .2-.4-.8-.5 .4-1.4 .2-1.5-.3 .1 .2-1.5 .3-1.3 .1-.4-.4-1.8-.1-1.4 .4 .8 1-.2-.7-2.6 .1 0-.4-1 1.3-1.4-.4-.3 .3-2.1-1.2 .4 .1-2.2 1.1 .4-.9-1.6 .2-.9 .8-.8-.4-2.1 .5-.7-.3 0-.2-.6 .1-2.9 .3 1.2 .7-1.6-.1-.7-.5 .5-.1 1.8 .5 .5 0 1.4 .2 .3-.5 1.3 .1 .2 1 2-1 .6 1.3 .7-.2 .2 .4 1.8-.7 .3 .6 2.1-.6 .6 .1-.1 0 1 .6 2.2 0 .5-1 .3 1 1.2 .4 1.1 .1 1.6-.4 .1-.3 1 .6 1.3 .7 .9 .5 1-1.1 .4 .5 2 0-.4-.4 .9 .5 2 .8 .9 .1-.2-.4 1.7 1.1 .1-.1 1.3-.7 1.6 .2 .5 0 .2 .8 2.1 .3 .6-.8 1.3 1-.5-.1-1.3 .3-1.7-.6-.6 .1-.3-.2-2.2 1-.1-.3-.2 .7-2 .5 .4-.8-1.9-.2-.9 .1-1.1 .4-1.2-.5-.2-.1 0 1.6-2 .1-1.3-.5-.1 .1-1 .4-.8 .3 .8-.4-.4-.2 1.5 .3 1.6 .5 .4-.1-.1 .4 2-.7 1.7-.3 .2 .6 1.1 .1 1.2 .6 .1 .9 1.1-.6 1.5-.2 .2 .2 2.3-.1 .5-.6-.3 .4 1.7-.3-.4 1.4 2-.2 .8-.2 1.9 .9 .5 0 1.3 .6 .8-.2-.1-.8 2-.1 2 .1 .2 0 .9 .1 .6 .6 .3-.2-.8-.2 .2 0-2.2 .4-1.2 .2-1.8 .5 .4-.2-.5-.7-2 .4-1.2 .6-.8 0-1.3-.1-.3-.5-1.1 .5-.2 .3-1.2 .3-.8-.4-.8-.6-1.1 1.2-1.1 .3-1-.7 2-.1 1.9-.4 .3 .4 1.6 .1 .9 .3 1.5 0 .9 .5 1.1-.2 .6-.7 .5 .9 1 .2 1.8 .1 .6-.4 .7-.7 1.2 .7-.2-.4 2.3 .2 .5 .2 .4-.1 1.6-.4 2.5 .2-.5-.1 .8 .7 1 .5 .9-.8 1.4 .4 .3 .4 .7-.7 1.2 0 .8-.2 2.6 .7-1.1 .7 1.7-.3 0-.2 1.6 .7-.3-.1-2.2 .2-.1 .4-.7-.4-1 .3-.8 .3-.6-.5-2 .8-.6 .7-1.5-1-.8 .7-.4 .3-2.7 .7-.1 0 1.8 .4-2 .3-1.2 .4 .6 .7 1.5-.7 .3 .7 .4 .1 1 0 1.3 .6-.3-.2 2.3 .3 1-.1 .8 .1 1.5-.6 1.2 1.1 1.3 0 .6-.2 0 .2 .3 .8 .7-.6 1.3 .4-2.4-.9-.5 .4-1.7 .7-1.1 1.1 .1-.6-.8 .8-1.5 .4-1.3-.7-.8-.2-.3 1.4-1.2-.2 .5 .1 .5 .6 2 0-.9 .2 2.7 .6 0-1.1 2.1-.1 1.6 1.3-.8-.8 1.8 .1 1.9 .9-1.3-.3 2.8-.2 .3-.6 1.1 .9 1.1 .5 1.2-.5 .8 1 .5-.6 .6 .7 .7-.6 1.1-.6 .9 .7 .1 0 1.5 0 .9 .6 1.4-.5 1 .3 1-.2 1.7-.8-.4 1.9 .8-.8 1.9 .2 .9 .9 .6-.3 1.7 .2 .7 .7-1.5-.1 .3 .8-1.7 .5 1.9 .1-2.1 .5 1.2 .9-1.2 .2-2.3 .6 .1 .4-1.9 .9 .9 .4-1.7 .6-1.8 .7-2.3 1.3 2 .7 2.1 .1 .2 .4 1.2-.8 .5 .7 2.6 1 0-.3 .6 .1 .7-.3 .5 .5 1.9-.5 1.2 0-.1 .3 .9-.2 1.2 1.3 1.4-.9 .2 .5-.2-.1 2.5 .1 1.8 .6 .2-.2 .4-.4 2.3 .9-.2 .3 1.3-.6 1-.4 .9-.1 .7 .7 .1-.4 2.5-.4 .3 1.6 0 .6 1.3-.7 2 .5-.6 .2 1.4-.1 1.8 .7 1.7 .1-1.3 0 2.9-.6 .4 .9 1.9 .2-1 .6 3.7 .4 .2 .8 1.1 1.1-.6-1 0 .8-.7-.6-.9-.9-2.1 1.6-.4 .4-.7 .3-2.3-.8-1.2 1-.7 .4-.6-.5-.5-.2 .5 .4 1.2 .3 .8-.4 1.8-.2 2 .3-.5-.1 1.8-.2-.4-.2 1.6 1 1.8-.4-.8-.3 .7-.1 1 .6 3.3 1.1-.8 .3 1.8-.9-.2 1.1-.2-.5-1.2-.4-1.3 1.1-.4 1-.9-.5-1.6-.1 0 .1-.6 .9-1.7-.3-.9 .8-1.5-.4-.7 .1 .4 .6-.4-.2-2.6 .4-.5 .6-.9-.3-1.8-.3-.8 1.7-2.5-.2 .9 .2 1.3 .5-.6-.1 1.7 .7 .6 .1 .7 .6 .1 .6 3.2-.2-1.6 .9 3.3 .4-2.3 .2 .7-.1-1.8 .9-2.1 .2 .8 .7 .9 .1-.9 .6 .3-.2-2.1 .7 2.5 .3-2.5 1.1-.8-.2-2 .6-.1 .3-1.5 .5-.8 .6-.3 .7-1.8 .7-.6 .7-3.5 .7 2.5 .2 1.3 .3 0 1 1.2 .4-.7-.2-1 .7 .6 .4-1.8 .5 .5 .5-1.4 .4 1 .2-2.4 .3-3.7 .8 3.4 .5-2.3 1 1.5 1.2-.7 .1-.1-.2 1.6 .3 2.1 0 .4 .7 .5-.2 1 1.2 .6 0 1.7-.1 .6 .7 1.9-.7 0 .3 3.7 .3-2.4 .5-.6 .9 0 .1-.2 .9-3.6 .5-2 .5 2.9-.5 .5 .1 1.8 .1 .7 .3 .9 0-.8 .9 2.1-.6 .7 .5 .3 .6 1.2-.7 1.1 .7 .9-.3 1.9 .5 .3 .9-2.8 0-.5 .5 .1 .2 .9 0-2.2 .6-.9 .3-.1 .7-1.3-.2-3 .6 1 .6 1.9 .8-.2 1-.4 .6 1.2 .9 .6 .4 .9 .1 0 0 1.1 .4 .9-.7 1 .9 1 .3 .8 1.2 1.1-.7 3.8 0-1.1 .9 2 .3-.7 .6-.1 .1 3.2 .5 .4 .1 2.3 1.2-1.9 .1 2.6 .6-.9-.2 2.2 .9-1.2 .8 .6 .5-2.5-.5-.6 .3-.9 .1-.8 .3-.8 .5-.4 .2-1.5 .5-.6 0-1.7-.3 2.1 1 .7 .5-.1 1.7-1.3-1.2-.5 1.1 .7-.2 1.5-.5 2.4 .2 .6 .8 .3-.6 .6 .6 2-.3-.2-1 1.2 1.2 .3-1.3 .6 1.5 2-1.2 .9-.5 1.6 .6 .9 .1 .6 .8 1.1-1.1 .6-.1 .9 1.3 1.4 .1 1 0 2.1 .1 .8-.2 .4-.9 .7 .5 1.1 .2 1.4 .5-.7-.4 2.1-.3 .4 .1-.3 .7-1.4 .5-.8 .6-1.3-.3 .5 1.6-.8-1-1.9 .1-.3 .2-2.5 1.2-1-.3-1.5 .8 5-.3 2 .6 1 .4 1 .3-.8 .8 3 .9-1.1-.2 .7-.8-.2 .3 1.2-.1 1.2 .5 1.2-.1 2.2-.4-.3-.1 .8 .6 .8 0 1.2 .4 .2 1.1 1.2-1.3 1.6 1.7 .1 .2 1.2-.1 1.7-.4-1.3 .4-1.3 .1-1-.3 0 .8-.6 .4-.8-.3-2.4-.5-.2 .3-.3 .3-1.7-.1-1.1-.3-1.4 .4-1-.1-.4-.6-.8 .4-.5-.4-1.7 .3-1.2 .8-1.2 .1-.5-.6-1.3 1.2-.4-.2-.1-.2-1.2 .5-2.6-1-.7 1.1-.5-.2-.5 .8-1.5-.5-1 1.1 .4-.5-1.8 .9-1.8-1.5-.7 .7 1.2 .6 1.2 .5 .7-.6-.1 .7 2.6-1.6-.2 1.1 1.8 .5-.2 .7 1.4 1.2 1.3 .2 .8-1 1.3 1.1 1.2-.8-.3 .2 1.5 1-.1 .5 .4 .8-2.5 .6-2.3-.4 1.4 .3-1.6 1-1.3 .7 .6 .4-1.9 .4-1 .1-1.1 0-.6 .8 .4-.2-2.6 .8 0-.7-.7 .8-1.3 .7-1 .3-.7-.7-.9 .8-1.3-.4 .3-.2-2.8 1-1.4-.3 .9 .4-1.6-.5-.7 .6-3.2 .9 2 .6 .3 .6-.6 .1-2.6 1 2.2 1.1-2.3 .7 1 .9-.7 .5-.7 1.5 .5 .3-.7 1.6-.3-.1 1.4 .1 .5 .1 .2 1.1 .5 .6 .4 .1 2.3-.3 1.4 1.3 .3 .4 1.6-.6 1.4 .2-.8 1.1-2.8-.2 .3 .7-2.4 .8-.8 .1 2.7 .6 .2-1 2.1 .4-.3 .2-.1 .1 2 .7 2.2 .4 .1-.6-.2 .2 1.9 .6 .3-.6 1.4 .8 .3-.2 1.7 .3 .2 .4 1.2 .2 1.6-.7 .9 .6-.8-.1-.8 .6 1.4 .5-4.8 0 1.8 .6-2.6 .1 .8 .2 .8 .6-1.7 1-3.1 .4 .2 1.5-4.8 .4 3.5 .9-3.1 0 1.8 .7 .9 .3-2.2 .8 1 .6-4.5 .2-2.4 .8-2.2 .9 .7-.4 1.8 1.3-1 .2-.3 1.1 .3 .3 2 .4-.9 .6-3.4 1 .4 .9 1.1 .6 1.7 .6 1.3 .6 .3 .8-.4-.1 2 1.1 1.1 1.1 .4 .4-.5 1.4 .7-.1-1.9 1.2-.3 .3 1.2 .4 0 .8-4.7 .8 1.8 .5-2.2 .4-2.1 .5 .4 .2-2.7 0-1.3 .3 1.5 .7-1.7 .4 2.5 .4-1.5 .8-.3 .4-3.7 .5 1.3 .5-3.7 .8 .4 .2 2 1.3 2-.1 2.2 .9 .6 .9 .7 .1 1.2 .1 .4 .8-3.5 .4-.4 .7-1.6 .9-.6 0-1.1 .7 .8 .1-1.4 .5 3 .5 3.1 .2 .5 .6 .6 .3 1.5-.3 .8 1.1-.3 0-2-.3 .6 0-.7 .9-1.2 .3-1.7-.1 .1 .2-.3 .9-2.5-.2-.9 1-.2 .5-2.2-.7 .7 1-1.6-.5-.5-.2-2 .2 .3 .6-1.5 .5-.9 .3-1.3 1.1 .7 0-.9 .7 1 .7-1 .1 1.7 .3-1 .2 1.9 .5 .2 0-.4 0 3.4 .7 1.9 .7-.7 .1 3.4 .1-1.5 .1-.6 .5 .5 .5-2.7-.2-1.3 0 .1-.3-1.3 .2-.2 .1-1.3 .7-1.1 .6-1.2 .4-.6-.5-.6 1.3-2.9 .4 1.6 .6-2 .4 0 .2-1.2 .8 0-.1-1.7 .3-2.6 .3 .9 1 1.1 .9-.9 1 .4-.1 2.4 1.1-.8-.1 1.3 .7-.9 .1-.9 .5-3.5 .4-.2 .3-2.1 .5-.3 .4-.1 .7 1.1 .9-1.1 .6 2.8 .8-3.8 .1 1.7 .2 .6 .2-1.1 .7-.8 .3-2 .2-1.7 1.4 1.1 .3 .5 .8 .1 .6 2.6 .9-3.3 .9 1.3 .9-.4 .1 .3 0-.9 .9-.8 .4-.8 0-.5 .1 .3 .3-.2 .3-1.3 .1-.2 .7 1.2 .7 .4-.2 1.3 1.2 1.3 .9-.5-.9 3 .6 .3-.4 .2 .5 1.8 .7-.1 1.4-1.7-1-1.7-.7-1.1 .5-1.6 .7 .1 .5-.3-1-1.2 .5-.4 1.3 .4-1.4-3.3 .2-.2 .2-.2 1.2-2.4 .5-1.9 .4 .3 .4-2.7 .8 .7 1.1-.3 .1 2.1 1.1-2.1 .6 .4 .2-.9 1.5 .3 0 1.3-.7 1.2 .6-.7 0 1.3 .5 .5 .9 2.4 .2 .1-1.1 1.9 .4 1.8 1.5-4.9 .1-.4 1.1 .8 .6-.8 .5 .7 1 .6 .5-2.6 .5 1.7 1-2.4 1.4-2.2 .4 .7 .8 1.8 .8-2.5 1.3 .2 .4 2.5 1.6-4.1 0-1.4 1 1.2-.1 .2 .3 .9 .6 1.1-.2 1.2 .4 1.8 .1-.3 .3 1.6 .5 .6 .9-3 .2-.7 .5-2.1 .6-3.5 .5 2.4 .3 .3 .3 .6 .9 1.7 .6 2.2 1 .9 .1 1.8-1.2 .7 .5 1.1 1.2 0-.1 1.2-.5 2.2 .6 .4 .2-.7-.1 2 .1 1.1 0 .4 .3 1.9 .8 .7-1.3 1.4 1.4-.2-1 1.7 .6 1 .1 1.8 1.1 .8-.1 1-.3 1.2 .1-2.6-.2 .1 .1-.8 .1-1.3 .9-1.1-.3 .7 .2-2.3-.1-.7-.5-.3 1.5-1.8 .5-.1-.6-2.8-.1 .7 .6-1.1 .2-1.2-.2-.3 .7-2.2-1.2 .6 1.4-.9-.4-1.3 1 0 .9-2.1-.1-.6 .5-1.7-1.1-1.3 1.2 2.2-.2-.3 .1 1.7 .3 .9-.6 1.7 .8 1.1 .4-.1 .3 1.3 .5 .6 .5 1.7-.7 .8-.2 1.4 .2-.9 .6 2.1-.4 .6 .1 .5 .8 3 .2 .7-.6-2.3 .7-.6 .8-.6-.1-1.6 1.3-1.1-1.3-.5 .3-.6 .5-.2 .3-.5 1-2.5 0 1.3 0 2.5 .5-1.7-.1 1.1 .7 2 .6-.2-.4 1.5 1.5-.4-1.1-1.8 1-.2-.1-1.5 .2-1-1.1-.8 .2-.7 .3-1.2 .5-1.3-.3-1.2 .7-.6-.8-1 .2 0-.6-2.2 1.6-1.8-.2 1.6-1.1-1.9 1.2-.9 .2-.3 0-2.6-.3-.8 .4 .1-.5-.9 .8-1.1 .9-1.9-.7 1.5 .5-.4 .7-1.4 .4-.9 .2-2.7-.3-.4 1.9 .4 0 1.5-.2 1.1-.6 .7 .6 .7 0 1.8 1-.2 .7 1 .1 .3-.3 1 1.2 1.5-.7 .6 .5 3 .4-4.6 .5 1.7 1.1 .7 .5-.2 .9 .2 .2-2.8 .1-.9 .6-2.6 .8 1.8 .4-2.7 .5-.7 .2 1.7 1.2-1.2-.1 3.7 .3 1.9 .5-3 1 2.5 0 1.4 .2-.2 .8 .6 .4 1.6 .4 3.2 .6 2.7 .6-.8-.9-1.9 .2 3.2 1.9-.4-.8 1 1.5 0-.7 1.6 .4 1.3 0 .6 .8 1.7 .3-.1-.2-.6 .8 .5 .6 2.6 .1 1.5 .4-.1 .2 5.1 .6-.3 .5-1.5 0 .9 .8 2.2 0-3 .6 1.8 .3 .3 .5-.3 .5 1.8-.6 2.9-.3 1.3 1.1 1.2-.5 1.2 .5-.5 .4 2.1-.4 .5 .3 2.4-.1 .1 .7 .1-.2 2.2 .7 2.2-.4-.5 .9 .3 .4-2.2 .4-1.2 .3-.7-.1-1.4 1-.9 .6 1.9-1.2-.1 1.8 1.4 .1 .1-.8 2.3-.3 .1 .3 .7 1.3 .8 .4 3.2-1.1-.7 1.1-.4 .2 1.5-1.1 .6-.2-2.2 .3-.7 1.3-.1-1.4-1.6 .7-1-.3-1.1 0-1.4 .8-.2-.7-.5 .4-2.7 .6 1-.1-2.5-.8-.2 1.3-1.2-.2-1.3-.5-.3 .6-1.5 .5-1.2-.6-.8 .9 0-.4-.8 1-.6-.6-2.2-.1 0 1.2-1.5-.9 .1 1.1-2.3-.1-.4 .2-1.7 .2 .2-.6-1.1 .7-1.4 .5-.8 .4-1.1 .4 2.8 .9-3.1 1.5-1.6 .4 2.8 .2 2.1 .4 .1 .8 1.8 .3-.9 1 1 .3 .4-.7 1-.1 .8 .7 2.4 1.2 .9 0-.2-.7 1.4-.1 1.6 .2-.7 1 1.9 1.1 .3-1.5 .6 .3 .5 1.2 1.8-1 1.8 .7-.7-1.5 1.8 1.5 1.6 .5-.1 .2 2.2 0-.1 .1 2.4 .9 0 0 .9 .5-.8-1.2-1.9 1.7 .2-.3-.7-.1-.7 .8-1.6 .3-1-.6-.7 .5 .8-.6-2.3 .2-1.4 .2-1.5-.7-.7 .5-.4 .2-.3 .4-1.8-.2-1.1 .8-1.5 .2-.7-.8-.6 .7-1.3 .7-.4-.2-1.1 .9-1.2 .4 0 .6-.5 .2-2.3 .4-.8-.6-.5 .5-1.4 .8-1.2-.9-.5-.4-.3 .7-1.3 .1-1.2 .7-1-.3-.7 1-1.6-1.5 .6 .1-1.6 1-1.5 .9-4.6 .2 1.8 .8-1.9 .2 .6 .2-.9 .4-.7 1.1 .3 .4-2.3 0 1.2 .7-.4-.6-2.5 1-1.4 .7-.6-1 1.4 .4 .1 .9 2.7-.1-.4 .3 .8-1.1 1.1 1.2 .8 .8 1.6-.6 .7-.3 .7-.6 .9 1.4 1.8 .1-.1 .6 1.2 .1-2.2 .6-1.2 .6 .1 .4-1.8 .8 0 .2 2 .8 1.6 .3 2.8 .8-2.2-.5 1.2 1 1.3-.4 1.2 1.2 .9-.2 .9 .5 1.5 .5 .4-.5 .8 .4 .3 .5 1.1 .4 1.9-.6-1.3 .8-1.4-1.1-.4 .7-.1 .2-1 .1-1-.6-1.3 1.2-2 .5 .1-.4-1 .4-1.7 .5 .7-1.1-1.5 .8-2.2 1.5-1.9 .7 2.1 .5 .7 .6 .6 .2-.5 .9-.9 1.2-3 .6 2.3-.2-.9 0 1.7-.3 1.3 0 1 1.4 .3 0 .9-.2 1.1 .8 .9 .2 1.2 .4 1.5 .5 2.6 0-2.2 .6 .4 .3 2.4 .9-.7 1.2 2.9 1.1-.6 1.4-.5 .5-.9-.3-.8 .2-.9 0-1.7 0-1.3 .5 .3 .7-2-.9-.7 .3-.6-.2-.8 .7-2.1 .8-1.4 .4 1.2 0-.4 .4-1.7 .8-.6 .1-.7 .8-2.6-.1 .4 .4-1.5 .3-.7 .9-.5 .9 4.2 .6-.4 .2-.6 .6-1.7 .4-.3-.2-1.5 .1-.6-.1-1.1 .5-.2 1-.6 .3-2.2 .4-1.2 .9 2.3 1-1 1.2-1.8 .5-.1 .9 .9-.2-.4 .6-2.5 .6 2.9 .7-1.2 .2 .7 .6 .6 .6 .7-.1 1.3 1.4 1.2 1.3-1 .8 2 .1 .6 .6 .5 .6 2.3 .5 1.4 1.3 1-.3-1 .2-1.7 1.2-1.9 .1-1.6 .4-1 .4-.9 .3 1.6 .6-2.2 .6 .6 1 1.5 .4-2.2 .4-1.2 .4-1.1 .5 0 .9 2.3 .7 1.6 .1-.6 .9 1.7-.3-1.2 .8-2.5 .9-.1 0-2.8 .6 2.3 .9-.1-1.2 .8 1.5 1.5-.2 1.1 .1 1.3 .9 0 .2 1.6-.7 .6 1.7-1.3-.1 .1 .2 3.4 .4 .5 .9-2.3-.1-1 .9-1 .5-1.9 .4-3.2 1.4-1.2-.7 .4 1.2 .3 .3-.6 .4-2.7 .9 1.4 1-2.8 .6-.1 .8-1-.3 2.4 .8 2.5 .6 .9 .2-1.1 0 .6 .7 2.7 0 .2-.1 1.1 1.1-.3 .1-.3 .1-1.2 .4-1.5 .1-.3 .6-1.2 .5 .9 .2-.3 .2-2.2 .7-2.9 .8-.2 .4-3 .5 1 .3 .4 1.2-.5-.2 .9 .5-1.9 .6-3.1 .4 2.4 .7 .4 .1 .3 .7-.1-.1 2.6 .4 1.6 1.3 .7-1.4 1.1 .3 1.6-.1 .4-.1 .6 .2 1.2 .9 1.1-1.2 2 .6 .7-1 0 1.5 .9-.8 .6 1 1 0 1.2-1.1 .5 1.4 1-.8 1.6-.2 .3 .4 1 .4 2.6-.1-.4-.3 .7 .1 2.2 .5 .2 .3 1.4-.2 1.6-.2 .6 .8-2.1-.1 .2 .5-3.5 .2 .8 .3-2.5 .4 1.4 .4-2.1 .3 1.5 .2-2.7 .5 2 .5 4 .9-2.6 .5 3 .2-1.2-.1 3.5 .1-1 .1 2.5-.3 .6-.8-.2 .6 2.3 .2 .9-.5 .6-.1 .5 .7 1.7 .4-1.6 .2-.1 .5-3.1 1.2 1.6-.3-1.1 .4 .9 .1 .9 .7-2.1 .1 .1 .9-2-.3-.1 0 3.3 .8-.1 0 1.9 .3-2.1 .4 2-.1 1.2 .9 .2 .4-2.5 0-.5 .1-.7 .4-1.3-.1 .6 .4-3.1 .6 1.7 0 .1 1.1-2.7-.3 2.7 0 .2 .3 .3 .3 0-.1 2.8 .1-.7-.3 .9 .3 2.3 .1-1.2-.2 2 1 1.3 .7 1.1-.2 1.3 .7-2.7 .9 3.4 1.3 .9 1 2.3 .7-.6 1.3-.5 .7-.8 .8-1 .1 1.7 1 .3 .7 .8-.3 4.1 1.7-3.8 .3 .2 .6-1.6 .3-1.3-.1-1.1 .4-1.3 1.9-1.5-.1 1.4 .8 .3 .3-.2-.1 2.6 .3 .2 .1 1.2 .3 1.3-.6 1.6 .6-.1 .7 1 0 .7-.3 1.3 .5 1.5-1.1 .5 1.5 .5 .1 1.6-.2 1.6-.5 0 .1 1 .5 .5-.1 1.3-1.1 0 1.5 2-.2 .9 .5 1.2 .9 .6-.3 .4-.6 1.5-.4 .3 .2 2.1 .8-1.7 .1-1.1 .2-1.5 1.1 0-.7-1.7 .2-.7 .2-2.3 .2-.6 .7 0-1-.6 0-1.4 .2-1 .1-.5 .9-1.7-.2 .3 0-1.8 .5-.4-.5-1.7 .6-.9-.6-.2-.3-.9 .7 1 1-1.1 .6-.9 .9 1.6-.4 1.1-.3 1.1-.1 1.6 .9 1.3 .7 .1 .5 1.8-.8 .3 .1-.1 .1 .6 .3 2.7 .5 .3 .4 1.4 .4 1.1 .2 .4-.1 1.1-.1 .4 1.2 1.4-.1 .6-.2 1.3 0 1.6-.4 .6 .8 1.2 .2 .4 .4-1.1 .4-.9-.2-.9-.2-.7-.8-2.4 1.2 .6-.7-.2 .7-1.8 .2-1.9 .1-1.1 .5 .4-.5-1.2 .1-1 .2-.4 .2-.8 .5-1.2-.3-.6-.5-2.8 1.6 .4-.5-2-.1 .3 .3-1.8 .8-.1 .9-1.5-.3 .9 .4-2.7 .9-.4 .2-.6 .6-1.8 0 .5-.1-1.5 .9-1.1-.1-1.1 .8-.4-.7-1.1 1-.5-.1 .6 1.1-.6-.3 .3 1.1 2.1 .2-.9 .7-1.8-.4 3.4 1.3-.5-.7-.5 .8-1.5 .1-.6 .1-.5-.3-2 .3-.9 1-.6-.4 1.1-.2-2.3 .7-.8 1-.4 .3-1.2-.5-.8 1.1 1.7 1-1.1 .8 0 .4 .4 .1 .3-1 1.2 1.7 1.7 0 .8 .3 1.1-.2 1.4 1.2-.2-1.1 3 .4 .2 .6 2.4 .7-2 .2 2.6 .2 2.2 0 2.1 1.2-4.1 0 .4 .1-.6 .3-1.9-.6-2.2-.2 .5 .8-.8-.3-.9 .3-1.4 .5-.4-.5-1.7-.3-.9 .5-1.6-.3 .2 .2-.2 .7-1.6-.2-1 .1-2.2-.4 .8 .3-1.9 .7-.3 .5-.7 .4-4.2 .5 1.1 .4-1.7 .4-1-.2-.5 .9-1.4 .5-1.3 .4 .9 .4 2.1 .4 .4 .4 1 .2 .8 .8 .6 .2 1.9 1 1.8 .6 1.9 .5-1.4 .4 .4 .3 .4 .3-2.8 .4-1.1 .5-.8 .8 .2 .2-1.2 .2-1.6 .1 .9 .8 2-.5-.7 1.2 1.9 .6 1 1.1 .5-.1 2 .2 .2-.2 1.4 0 .3-.6 1.6 1.2-1.1-.7-1.8 1 .3-.5-2 .4 .7 .1-2.9 .1 1-.1-1.8 .8-.3-.1-1.5 .4-1.5 .4-.8-.6-.2 .2-.3 .9-4.1 .2-.1 .5-2.2 .3-1.4 .7-1.9 .4 3.4 .5-2.9 .4 2.4 .4 1.7 .8 2.1 .9-.7 .3 .9 .5-1.6 .5-.3 .3 .7 .3 1.3 .5-4.5 .1-.5 .5 .4-.4-.5 .5-1.6 .9 .3-.2 2.4 .4 .1 1-2.1 0 1.2 .3 1.4 .6 1.8 .3 .1-.5-1.3-.3-.7 1.4-.5-1.2-.5 1.4-2.6-.2 .4-.4-.9 .5-1.6 .5-.5 .1-1.2-.3-.2 .5-2 1.3-.5-.8-.8 .1-1.1 1 0 .9 0 0 1 .1 .9 0 1 .1 .9 .1 1 0 .9 .1 1 0 .9 .1 1 0 .9 .1 1 0 .9 .1 1 0 .9 .1 1 0 .9 .1 1 .1 .9 0 1 .1 1 0 .9 .1 1 0 .9 .1 1 .1 1 0 .9 .1 1 0 .9 .1 1 .1 1 0 .9 .1 1 0 .9 .1 1 0 1 .1 .9 .1 1 0 .9 .1 1 0 1 .1 .9 0 1 .1 .9 0 1 0 1 .1 .9 0 1 .1 .9 0 1 0 1 .1 .9 0 1 0 .9 .1 1 0 1 .1 .9 0 1 0 .9 .1 1 0 1 .1 .9 0 1 0 .9 .1 1 0 1 .1 .9 .1 .9 0 1 .1 .9 .1 .9 0 1 .1 .9 .1 .9 .1 1 0 .9 .1 1 .1 .9 0 .9 .1 1 .1 .9 .1 .9"/>
<text class="t" x="964.5" y="794.5">MATERIALS</text>
<path d="M1217.2 1023.5H1271" stroke="#0000ff" stroke-width="4.2" stroke-linecap="round" fill="none"/>
<text class="lg" x="1289" y="1033.5">(13.7)</text>
<text class="d" x="1644.6" y="958.7" textLength="51.6" lengthAdjust="spacingAndGlyphs">3/24</text>
</g>
<g id="panel7">
<rect x="104.2" y="1093.3" width="785.4" height="298.8" fill="#000"/>
<rect x="109.8" y="1098.1" width="774.2" height="289.2" fill="#ffffe6"/>
<path d="M87 1390.1H104.7M97 1365.6H104.7M87 1341.1H104.7M97 1316.5H104.7M87 1292H104.7M97 1267.5H104.7M87 1242.9H104.7M97 1218.4H104.7M87 1193.9H104.7M97 1169.3H104.7M87 1144.8H104.7M97 1120.3H104.7M87 1095.8H104.7" stroke="#000" stroke-width="2.2" fill="none"/>
<text class="ax" x="80" y="1399.2" text-anchor="end">0</text>
<text class="ax" x="80" y="1350.2" text-anchor="end">10</text>
<text class="ax" x="80" y="1301.1" text-anchor="end">20</text>
<text class="ax" x="80" y="1252" text-anchor="end">30</text>
<text class="ax" x="80" y="1203" text-anchor="end">40</text>
<text class="ax" x="80" y="1153.9" text-anchor="end">50</text>
<text class="ax" x="80" y="1104.8" text-anchor="end">60</text>
<path d="M107 1391.1V1413.1M155.8 1391.1V1413.1M204.5 1391.1V1413.1M253.2 1391.1V1413.1M302 1391.1V1413.1M350.8 1391.1V1413.1M399.5 1391.1V1413.1M448.2 1391.1V1413.1M497 1391.1V1413.1M545.8 1391.1V1413.1M594.5 1391.1V1413.1M643.2 1391.1V1413.1M692 1391.1V1413.1M740.8 1391.1V1413.1M789.5 1391.1V1413.1M838.2 1391.1V1413.1M887 1391.1V1413.1" stroke="#000" stroke-width="4" fill="none"/>
<text class="ax" x="131.4" y="1424.1" text-anchor="middle">06</text>
<text class="ax" x="180.1" y="1424.1" text-anchor="middle">07</text>
<text class="ax" x="228.9" y="1424.1" text-anchor="middle">08</text>
<text class="ax" x="277.6" y="1424.1" text-anchor="middle">09</text>
<text class="ax" x="326.4" y="1424.1" text-anchor="middle">10</text>
<text class="ax" x="375.1" y="1424.1" text-anchor="middle">11</text>
<text class="ax" x="423.9" y="1424.1" text-anchor="middle">12</text>
<text class="ax" x="472.6" y="1424.1" text-anchor="middle">13</text>
<text class="ax" x="521.4" y="1424.1" text-anchor="middle">14</text>
<text class="ax" x="570.1" y="1424.1" text-anchor="middle">15</text>
<text class="ax" x="618.9" y="1424.1" text-anchor="middle">16</text>
<text class="ax" x="667.6" y="1424.1" text-anchor="middle">17</text>
<text class="ax" x="716.4" y="1424.1" text-anchor="middle">18</text>
<text class="ax" x="765.1" y="1424.1" text-anchor="middle">19</text>
<text class="ax" x="813.9" y="1424.1" text-anchor="middle">20</text>
<text class="ax" x="862.6" y="1424.1" text-anchor="middle">21</text>
<path class="ln" d="M108 1338.5l.7-.9 1 .6 .7 .9 0-.1 .5 2.2 .8-1.4 .7 2.1 .3 .4 1.2-1.1 .4-.5 1.1-.2 1.1-.1 .7 0 1.1-.5 .7-1.1 .9-1.2-.1-1 1.3 1.6 1.1-1.3 .1 .3 1 1.5 .1-.8 .8 .7 .4 2.1 .3 .5 1.2 1 .3-.7 .9 .1 .7 2.4 1.2 0-.1 0 .5-2.3 1.6 .7 .3-.3 1.1-1.2 .1-1 .7-1.2 .8 .7 .9 .4 .7 2.4 1.1-.4 1.1 .9 1.1-.1 .6 1.1 .2-.1 1.5-.8 .5 1.9 .2 1.5 1.2-1.7 .7 .2 .4-3 .1-.5 1.2 .7 .2-2.2 1.2-2.6 1.1 1.5 .3 2.4 .7-1.6 .8 .3 1-1.6 1.1-.1 1 .1 .1-1.3 .7 2.8 1.2-1.2 .9 1.4-.3-.2 1.3 .7 .8-.7 1.1-1.7 .6 .6 .4-1.5-.1-.3 1.3-1.4 1 .5 .8 1.2 .6 .4 1.2 0 .5-1.1 .5-1.7 .7 1.6 0-2.4 1.6-.2-.3 0 1.3-2.6 .5 .5 1.2-.6 .5-2.3 .7 .5 .4-1.7 1 2 .7-.7 1.3 1.8 1.8-1.2-.4-.6 1.8-1.6-.1 1.9 .7-.1 1.3-1.3 .5 0 1.2 .6 .1 .8 .4-.1 .4 .9 .7 1 .3 1.3 .9 .6 .1-1 .4 1.2 1.1-1.2 .5-1.2 .5 2.3 .6-1.6 .1 .3 1-2 .4-.2 .8-.8 1 1.1 .9 0 .7-.6 1.6 .4 .5 .7 .9-.8 .9 .4 .4 2.1 1.2-1.5 0 1.4 1.8-1.3 .2 1.7 .9 2.2 0-1.5 1.1 .9 .4-.9 1-1.5 .7 2.5 .8 .2 .1-.6 .2 .9 .6 2 .6-.9 0 2 .7 1 .3 .7 .6-2.1 .2-1.6 1.4 .8 .6-1.8 .3 2 .9-2.4 .7 1.9 .4 1.5 1 .6 .8-.2 .5 0 .7-.9 .3 .3 .9-2.7 .3-2.1 .8 .3-.2-1.2 1.4 .3 1.2 .3 .7-.3 .3 1.4 .9 .4 .7 .7 .5 .8 .6 0 1.2 .1 .4 1.2 .4 .5 .7 1.1 .8 1.6 .1 1 .5 2 .7-.9 .3 .7 .3 1.9-.1 0 .7 .1 .8 1.2 .1 1.2 .7-.7 .6-.3 .7 3.2 .7-.5 1 2.7 1-1.8 .2 .5 .4-1.5 1.2 .2 .6 1.9 .1 .1 .5 1.2 .6-1.1 .4 1.3-.1 .9 .9 1.3 0 1.1 1-.3-.5 1.9 .3-.5 .6 1.4 .3 1.1 0 1.7 .9 0-.7 .4 .7 .7 .1-.9 .5-1.3 1.1-.1 .1-.7 .3-1.5 .2-.8 1-1 .1-1.3 0-2.4 .4 1.2 .1-1.8 .7-1.6 .4 0 .2-1.8 .2 1.1 1-1.6-.2-1.7 .8-1.4-.1 2.2 .9-3.9-.3 .5 1.1-1.7 .6 .3-.1-2 1.3 1.4 .2-3.1 .5 1.6 .2-1.4 .8-1.9 .1-.7-.1-.8 .7-.8 .5 .3 .4-1.6 .1-1.9 .4 1.1 .1-1.5 .5-.1 .4 .7 .6 1.7 .1-.6 .3 1.1 .5 1.9 .2-.2 .7 1.4-.1 0-.1 2.2 .5-1.2 .2-.9 .4 .2-.2-2.1 .2-.4 .1-1.2 .6-.5 .3-1.6 .6 .3 .4-1.3-.1-1.6 .4-.2 .6 .2-.1-2.7 .6-1.7 .6 .2 .5-1.2 .7-1.2 .4 .6 .4-.7 .1-1.4 .5-1.1 .2-.5 .7-2.4 .3-.2 .5-.4 .4 .3 1 1 .6 1.2 .6-1 .3-1.4 .6-.7 .9-.6-.3-1.1 .6 1.6 .3 1 .3-.6 .4 2.3 0 .6-.1 .7 .1 .8 .6 1.4-.3 1.2 .3 .8 .1 .7 .5 1.2 .4 .8 .2 1.5 .9 .3-.4 .3 .3 .4 .7 .9 .6 .5 .1-.8 .2-1.6 .5-2.2 0-.8 .6-.8 .3-.9 .1-1.9 .6 1.1 .6-.6 .8 1.5 .1 .9 1.3 .6 .4 1.3 .8-2.3 .5-2.6 .4 2.2 1.1-2.8 .9 .8 .3 .5 .7-1.9 .9 .3 .9 0 .8-1.1 0 .8 1-1.2 0 1.2 .6 2.5 .7 .1 .4-.8 .7 2.7 .7 .1 .4 .9 1 1.1 .5 1.8 .7-.2 .8-.9 1.1 0 .6 0 .9-2.9 .4 2.2 .5 1.1 .8-.5 .1 2.2 .7-.4 .7 1.4 .2 2.4 1.2-1.2 .3-2.5 1.1-.1 .5 2.4 1.7-2.1 .7-.5 .7 1.2 1 .9 .6 .3 .7-1 .7 1.1 1.3-.8 0-.2 .9 0-.3 1.1 .8 1.4 .7 0 .7 1.6-.2 2 .5-.5 .3 2.1 1.1 1.2 .3 .1 1-2 1 .6 .6 .4 .4 1.2 1 1.9 .7-.1 .6 1.5 .8-.1 1.1 .4 0-2.7 .6 .8 .4-.8 .8-1.9 .9 .5 .6 2.3 .4 .2 .8 1.8 .8-.2 .6-.2 .4-2.3 .6-1.8 .5-.2 1-1.4 .4 .5 .4-.4 .4-.1 .5-.7 .6-.8 .4-1.3 1-2 .3-1.8 1.1-.1 .5 .1 1.2-1.6 .7 .3 .5-.1 1.2 1.1 .8-1.6 .8 2.3 .8-3.6 .7-.8 1.3-.9 .3-.7 1.5 .8 1.1 1.7 .8 1 .9-1.5 1.7-.4 .1 .9 1-2.3 .4 2.3 .3-.2 .4-.3 1.2 1 .4 .3 .3-.5 .1 2.9 1.6 1 .4-1.5 1.2-1.1 .8 1.2 .3 .4 1.1 3.1-.1 .4 1.4 2.5-.2-1.5 .7 0 .7 2.2 .9 .4 .6 1.2 .6-1.6 1 1.9 .3-1.3 .9 .5 .7 1.7 .3 .9 .9-.3 .9-1.8 .9-2.1 0 .7 .8-1.8 0 1.1 .1 .3 .9 1.3 .1 .7 .3 1.5 0 1.2 .1 .7 .1-.2 .3 1.5-.1 2.3 .2 0 0 1.2 .6 .7-.4 .5 .9-.9 1.6 .2 .1 .3 1.2-1.5 .4 1.4 .9-.8 .4 .9 .5-.4 .6 1.3 .8 2.6-.3-1.6 .1-1.5 .9-.4 0-.4 .1-1.5 .9-.6 .1-.8-.5-.3-.2-2.1 .7 0 .3-1.3 .5-.9 .3 .2 .3-.1 1.3 .1-.2 1.3 .9 .4 1.4 .6 .1 .9 1-.9 .5-.9 .3 .4 1.4-1.9 .5-.7 1.1 .2 .5 1.1 .2 .6 1.3-1.8 .8-.5 .7-.2 .8-1.5 .4-1.5 1.1 .3 .7-.5 .7 1.2 .9-.7 1.1-1 .5 2.8 .2 0 .9 1.4 1.5 1 .9 1.1 .5-.2 1.1-.7 .7-.6 1.3-.1 .1 .6 1.7 .6-.3 2.2 1.2 1.7 .6 .1 .6 .9 .6 1.4 .4-2.5 .7 .2 1-1 .2-1 1-.7 .7-.5 .6-.3 .3-.3 .8-.1 .2-1 .9-.8 .6-.3 .3-1.3 .5-1.9 .3-1.2 .7 .4 1-1 .4-.7 1.7 1.2 .6 .5 1.3-.3 .7-.5 .1 2.1 1.4-1.1 1.5 .4 .4 .6 1.5 1.9 .7-.4 .7-1 .1 .8 1.8-1.6 .4-.8 1.1-1.6 1.7-.1 .7 2.1 .5-1.1 1.1-1 .8 .1 1.2 .1 .5 .2 1.3-1.1 .8-.4 1 0 1.1-1.2 1.3 1.6 .6-.3 1 .3 .4-1.1 .4-.2 1.2 1.3 .4 1.5 1-1.3 .9 1.3 .6-2.1 .8 .8 .9 .4 .4-1.3 .2-.2 1.2-1.7 .6-.3 .4 .2 1 1.1 .9 .2 1 2 .6 .5 1.2-.2-.3-2.1 1 .7 .9-1.3 1 .2 .3-.4 .5-.3 .6-.6 1 .2 .3-.3 1.8 1.8 .5 1.1 .6 .7 1.8-1.1 .3-1.5 1.8-1 .6-1 .7 .6 1.2 .4 .4-2.3 .8 0 1.5-.5 .9-2.5 .7 1.4 .8 0 1.2 1.4 0 1 2-1.4 .1 1.4 1.5 .8 .9-1.1 .5-1.3 .6 1.7 0 .1 1.2 .4 .4 2.6 .8-1.5 .6-1.7 .7 .2 1-1.4 .2-1 1.4-.4 .5-.2 1.4-1 .3 .1 .4-.6 1.1-1 .4-1 .9-.3 .4-.5 .9 1.5 1 .2 1.5-1.5 .2 .4 1.4-.6 1 1 .5-1.3 .7-1.1 .4 .5 .9-.7 1.2-1.2 .6-.6-.2 .4 1.1 .8 .9-.1 .8 .7 1-.2 .4 1.2 1.4 1.3 .4 1.1 1.1-1.6 .8-1.7 .3 1 .8 .6 .6 1.6 .5 .7 .3-.7 0 2.2 .6 1.7 .8-1.4 .3 2.1 .6 1 .3 .8 .6-.2 .2 2.4 .1-.1 .7-.1 .3-.7-.1-.9 .4-1.1 .2-1.1 .5-1.6-.2-.8 .3 .1 0-.9-.1-.7 1.1-2.4 .4 1 1.1-1.4 .6-.6 1.6-1.2-.4-.1 1.2 2.1 .3-.9-.3 3.1 .3-1.2-.2-.7 .4-.8 .2-.8 .5-1.2 0-.4 .1-2.1-.2-.1-.1-1.1 .6-1.3-.2-.9-.2-1.2 .8-.4-.7-1.7 .8-.6-.9-.7 1.5-1.3-.4-.8 .7 2.6 .4-2 .6 3.3 .8-.2 .1-.7-.2-1.5 .4-.2 0-1.9 0-.2-.2-1.1 .3-1.5-.2-.5 .3-.3 .2-1.7 .3-1.2-.1-.6 .4-.8-.7-1.2 .2-.2 .5-1.5 0-.8-.4-.9 .2-.4 .2-2.1-.3-.5 .2-.9 .2-1 .7-.2-1.3-2.1 1-.6-.2-.5-.1-1 .4-1.6-.1-.6 0-1.8 0 .3 .2-1.6 .3-1.4-.6-.4 .9-1.1 .6-.3-.6-1-.1-1.5 .1-.9-.2-.5 .5-2.5 .7 .6-1-1.3 .4-.9 .3-.6-.5-1.3 .5-.9 .2-1 .3-1.3-.5-1 0-.9 1-1.3-.2-.4-.3-.8 .2-1 .6-.9 .2 .7-.4 .8 .3 .9-.2 1 .4 1.1 .7 1.1-.2 .3 .8 1.9 0 .5 .6 .8 .5 .7-.1 2 .4-1.6 .4-1 .1-.9 .5-.2 .1-1.1 .6-.8 .4-1.4-.1 .7 .5-.6 .4-1.4 1-.9 .5-2.2 .3 .8 .2-2.9-.1 1.2 .7-1.7 .3-1.8 .7-2 .2 .5 .1-1.9-.5 0 .6 1 1 2-.1 .1-.1 .9 0 .5 .4 1 .4 1.4 .2 1.6-.1 1.1 .6 0-.5 1.1 .3 3 .2 .3 .5 1.1-.2 .3 .6 0 .2 1.3 .6 1.2-.4-.9 .9-.5 .4 .7 1 3 0-.3 .9 1.6 .5-.4-.3 1.7 1 .6-.2-.2 .6 2.1 1 .4-.3 1 1.1 1.6 .3 1.1-.2 1.5 1.1-.4 .3 .7 .8-.5 .6 1.5 .5 1.2 .5 0-.1 2.2-.2 .2 .5 .7 0 1.7-.1 1.2-.1-.1 .7 1.7-.2 .5-.1 1.1 1.3 1-.5 .9 .1 .1 .7 0-.1-2.3 .4 0-.2-1.3 .4-1-.4-.9 .6 .5 .1-2.2-.2-.9 .6-.8 .4-.9 .3-1.3-.8 .2 .7-.8 .2-.5 .4-.4 .7-.6-.2-3.7-.5 .9 1.3-2.2-.1-.5 0-1.1-.1-1.2 0-1 .7-.8 .8-1-.9-.8 .4-.7 .6-1.9 .1-.1-.1-1.2-.5-1.1 .2-.8 .6-.6 .3-.9-.2-2.3-.6-.3 .3-.7 .4-1.1 .5-.1-.1-1.9 0-.7-.7-1 .9-.4 .1-1.3-.1-.9 1-.8 .7-1.3-.4-.8 .3-.3 .8-1.6 .2-.2 .4-1.4 .4 1-.1 1.2-.3 .6 .3 .9 .3 .8-.4 1.1 .4 1.7-.1-.1 .8 .9-.4 1.5 .8 .7-.2 1.4 .6 .3 .1 .8-.9 2.4 .5-1.6 0-.9 .9-2.2 .7-.7 .4-.7 0 1.1-.1 .5 .8 1.1-.1 2.2 .1-.2 .7 1.1-.1 1.4-.1 .9-.1 .3 .3 2.1 .6-.4-.5 1.8 .6-1.3 0-.4 .2-1.5 .2-.5-.3-.9 .4-1.4 .3-1-.1-.1 .2-2 .1-.1 .4-1.6 .2-1.2-.4-.2-.5-.4 1.2-2.4-.5-.8-.4-.6 .4 .7 0 .7 .5 .9-.5 1.3 .6 1.6-.2 1 .1 .4 .7 1.3 .1 .2-.2 1.7-.5 0 .4 .5-.4 2.1 .7 .9-.3 .4 .6 1.5 .3 .4-.4 .5 .5 1.4-.4 .9 .1-.9 0-1 0-1 .1-.9 0-1 .1-.9 0-1 0-.9 .1-1 0-.9 .1-1 0-.9 0-1 .1-1 0-.9 .1-1 0-.9 0-1 .1-.9 0-1 0-.9 .1-1 0-1 .1-.9 0-1 0-.9 .1-1 0-.9 .1-1 0-.9 0-1 .1-1 0-.9 .1-1 0-.9 0-1 .1-.9 0-1 .1-.9 0-1 0-1 .1-.9 0-.9 0-1 0-.9 .1-1 0-.9 0-1 0-.9 .1-.9 0-1 0-.9 0-1 .1-.9 0-1 0-.9 .1-.9 0-1 0-.9 0-1 .1-.9 0-1 0-.9 0-.9 .1-1 0-.9 0-1 0-.9 .1-.9 0-1 0-.9 0-1 .1-.9 0-1 0-.9 .1-.9 0-1 0-.9 0-1 .1-.9 0-1 0-.9 0-.9 .1-1 .1-1.3 .6 1.9-.2 0 .2 1.6-.4 .8 0 .5 .6 1.4-.1 .6-.5 1 .3 1.4 .3-.2 0 2 .2 1.3 .4 1-.1 .9-.4 .2 .6 1.5 .4 .3 0-.2 .1-1.3-.4-.5-.1-1.8 .7-.7-.1-.3-.3-.4-.4-2.6 .1-.8 .1-1.3 .5 .6-.6-1.6 1.2-1.4-.4 0-.4-1.2 .2-1 .3-1.9-.1-.6 0-.6 0-.3 .2-1.8-.8-.2 1-1.6-.6-1.1 .6-.4 .4-.9 .4-.9-.6-1.3-.4-.4-.1-1.3 .7-1.3 .3-.9-.4-.8 .7-.8-.5-1.4 .2-.6-.1-1 .1-.9-.2-1.1 .7 .2-.2-1.6 .2-.5 .1-.8-.5-1.2 .6-1.4 .1-1 .3-.4-.6-2 .6 0-.2-.4 .4-1.8-.2-.4 .4-1.4 .1-1.2 .1-.6-.4-.4 .2-1.6-.1-2 .6 .3-.5-1.1 .7-1.3-.1-.3 0-.8 .1-1.5-.1 1.1 .1 .9 .6 1.4 0 1.4-.2 .2 0 .1 .6 2-.3 .5-.5 1.4 .8 1 .3-.1 .1 1.9-.3 .8 .3 1.5 .5 .8 0 .7-.4 .6-.1-1.1 .3-.4 .2-1.5-.5-.8 .3-1.1-.1-.7 .2-.9 .4-.9 .1-.2 .1-.4 .3-2.3 .1-.8-.4-1.1 .4-.8-.1-.5 .2-1.6 0-1-.2-.4 .2-.9 .1-1.2 .3-1 .2-1.1 0 1.4 .2 .8-.6 1 .5 1.6-.1 .7 .1 .8 0 1 .5 1.6-.2 .7-.5 .2 .8 1.8 0 .1 .4 1.2 .1 1 0-.9 0-1 0-1 .1-.9 0-1 0-.9 .1-1 0-.9 0-1 0-.9 .1-1 0-1 0-.9 0-1 .1-.9 0-1 0-.9 .1-1 0-.9 0-1 0-1 .1-.9 0-1 0-.9 .1-1 0-.9 0-1 0-.9 .1-1 0-1 0-.9 .1-1 0-.9 0-1 0-.9 .1-1 0-.9 0-1 .1-1 0-.9 0-1 0 1 .1 .9 0 1 .1 .9 0 1 .1 .9 0 .9 0 1 .1 .9 0 1 .1 .9 0 .9 .1 1 0 .9 0 1 .1 .9 0 1 .1 .9 0 .9 0 1 .1 .9 0 1 .1 .9 0 1 .1 .9 0 .9 0 1 .1 .9 0 1 .1 .9 0 1 0 .9 .1 .9 0 1 .1 .9 0 1 .1 .9 0 1 0 .9 .1 .9 0 1 .1 .9 0 1-.6-.5 .9-.9 .4-.4-.3-.3 .7 .2-.2-1.9 1-.6 .5 .7 .1-3 .4 1.6-.3 1.2-.4 0 .3 2 .2 1.2 0 .8 .3 1.6 .1-.4-.2 1.1 .5 1.3-.1 .5 .3 1.7 .4 .7-.3-.2 .1 2.4-1.2 .6 .7 1.2 .4 .7 .1 .4 .4 1.3-.3 .4-.6 1.2 1 .8-.2 .6 .2 .6-.5 2 .4 .6-.1-.5-.1-1.7 .4-.3 .7-.6 .3-1.7-.2-1.4-.1-.6 .5-.5 .8-.6 .1-1.4 0-.6 .8 1-.3 .2 0 .8 .4 1.8 .3 1.3-.1 .2 0 1 .1 .9 .5 .9-.5 1.4-.6 .7 .6 .5-.1 1.5 .5 .7-.1 1.1-.2 1.2 .5 1.5 .1 .6 .2 .1-.1 2.3 .1-.5-.3 1 .1 1.5 .3 1.3 .1 .2 .5 1.7-.3 1.4 .2 0 .2 1.1-.5 .4 1 2.2 .4 .6-.5 .8 .3 0 .3 .9 .4 1.5 .5 1.2-.7 .9 .7 .6 .2-.1 .3-.3 .1-.5 1-.4-.1-.1 .1-1.1 .6-.6 .1-.6 .7-2.2 0 1.2-.2 .9-.2 1.8-.2-.3 .5 1.6 .2 1 .1 1.3-.2-.6 .3 2.1 .2 1.1-.2 .4 .6 .3-.1 1.1-.1 1.6 0 .5 .9 1.2-.8 .6 .6 1.6 0 1.4-.5 .9 .6-.3-.2 2.9 .2-.7 .6-.5 0-1.2 1-.5 .2-1.9 .1-2.3 .3-1.8 .4 .9 .5 .7 .3 .9-.1 1.3 .5 1.1-.1 .1 .4 .8 .1 2.3 .4-.5-.4 1.9 0 1.2 .2 .8 .4 .9 .2 .3 .1 1.5 0 1.1 .3 .6 0 1.4-.1 .4 .3 1.1 .3 1 .1 .4-.1 1.3-.3 2 .8 .2 0 1.2-.5 .5 1.4 .5-.4 1.2 .4 1.2 .1 1 .8-.9 .5-.8 .3-1.2 .4-.4-.2-1 .6-.2 0-2.1 0-.4 .5-.5-.7-1.1 .9-.4-.2-1.3 .8-2.6 .1 2.1 .7-.4 .3 1.9 .7 .6 0 1.9 1.2 0 .3 .8 .4 1 .4 1.1 .4 1.7 .2 0-.6 .6 1 1.7 .1-.3 .2 2.7-.4 0 .3 1 1 1.5 .1 0 0 1.7 .9-1.9-.3 1.5 1 .3 .2 2.1 .6 1.5 .2 .5 .2 .7 .7 .7 .3 1.2 .4 2.1 .3 .6 .5-.1 0 2.8 .4-.2 .4 1.2 .6 .2 0 .4 .4 .6 .2 .6 .6 1.6 .5-.2 .8-1.2 1 .7 .9-1.9 .3-.4 .6 1.8 .5 1.4 .9 1.1 .2-1.3 .5 1 .8 1.9 .1 .2 .4 1.2 .5 .8-.1 .6 1 .5 .2 .8 .2 .8 .4 .9 .6-.8 .7 2.6 .2-.1 .2 2.5 .9-.5 .5 1 1.1-1.3 .3 .5-.1-2.1 1.4 .2 1-2.7 0-.9-.1-.5 1-.6 0-1.8 0-.8 .2-.3 .1-2 .1-.6 0-.9-.6-.9 .1-1.8 .2 0 .4-.8 .5-1.3-.3-1.4 .1-.8 .4-1.1 .1 1.3 .7 .7-.2 1 .3 1.1 .3 1.1-.2 1.4 .2 .7-.4 .8 .2 1.8 .8-.2 .1 1.1-.1 .6 .7-1.9 .1 1 .6-.3 .2-1.3 .8-1.4 .5-.9 .6 .1 .3-.5 .7-1.9 0-.6 .4-.6 0-.1 .8-2.9 .4 .7 0-.7 .8 1.6 .8-.5 .3 .9 0 1.4 .6 2.4 .4-1.3 .1 .7 .6 .7 .6 .6 1.1-.5-.3 2.1 .5 .2 .6 1.7-.2 1.8 .6 .8 .6 .8-.1 0 1 .6 .3 1.1 .6 1.7 0 .9 .7-.6 1 1.9 .2 1.1 .6-1.3 .6-1.6 .6 .2 1-2.6 .3 0 .5-.3 .9 .7-1.2 1.8 .2 1.7 .1 .2 .8 .9-.1 1.4 .3 .8-.1 .9 .5 .7 .2 1.8 .2 .6 .3 .5-.1 1 .7 1-.1 1-.3 .7 .5 1-.4 2.3 .3 0 .4 1.3 .2 .8 .2 .8-.4 1.3-.3 .3 .1 1.2 .1 1.3-.6 .9 .8 .4-.3 2.4 .1-1.6 1.2 3.2 .7-.2 .9 2.9 .7-1.7 .6 1.3 1.5-3.6 .2 1.2 1-1.7-.2 .9 1.5-.5 .4-.2 .8-.1 .5-.4 .8-1.9 .3-.3 .8 1 .7 .7 .7 .7 .6 1.1 .4 .6 .3 1.4 .1 1 .5 .7 0 .3 .7-.7 .4 .4 .7 2.1 .4-.5 1.2 3 .3-1 .4 2.2 1-.8 .3 .9 1.7 .9 .6-.5 .8-.4 .4 2.6 .9 .9 .3 1.1 .7 .5 .6 .1 .7-.5 1.1 .7 .8-1.9 .8-1.4 .8 1.2 .6 0 .4-.2 .8 1.2 .4 .7 .3 1.3 .2 1-.1 1 .5 .5-.3 1.1 1.2 .4 .6 2.2 .3 .3-.1 3.5 .3 2.2-.2-1.2 .8 .7 .9 0-.3 .6 .7 1.1 .4 2.5 .5-2.1 1-.5 1.1-1.2 0 .5 .7 .4 .6 1.7 0 1.5 .8 .1-.3 2.3 .4-1.3 .2-.1 .4-1 .1-1.6-.1-.6 .1-1 .9-.4 .1-1 .2-.5 .5-1.7 .7-.4-.4-1.4 0-1 .4-.8 0-.8 .2-1.7 .3 .6-.1-1.8 .2 .2 .1-2.1 .4-.7 .5-2-.5 1.1 .4-3.4 .6 1.4 .6-.9 .5-1.6 1.2-1.1 .4-.9 .8-.9 .6-.3 .6-1.9 1.1 2 .6 1.8 .5 .7 .7 .8 .8 1.4 .8-1.2 .4 .5 1-.5 .5-.4 .5 2.2-.4-.8 .3 .9 .6 .6 .7 1.5-.1-1.2-.2 .8 .6 1.1 1.2 1.7 0 1 .1 2.2 .6 .9 .2 .8 .3 .5 .6 .8-.1 1.7 .8-.7 0-1.3 .6-.8 .2 0 .6-2.6 .4 .3 .2-.5 .1 .8 1.3-.5 .8-2.1 1.2-.9 .3-.6 1.2 1.4 .2 2 .7 .9 .2 3.1 .4 1.4 .3-1 .7 1 .3 .7 .4-.4 .5-.8 .1-1.8 .1-.2 1-.9 .5-1.3-.4-1.4 .4-1.3 0 .2 .1 .6 1.3 .6 .1 1.5 .4 1.2 .5 .6 .5-.9 .5 2.8-.4 .6 .5-1.2 .1-.4 .5-1 0-1.1 .1-1.1 .5-.2 .3-.4-.2-1.6 .5-.8 .5-.5 .5-1.5 0-.9 .4-.8 .9-.2 1.5 .6 .2 .7 1.2 1 .7-2.8 1.2-1.1 .6 .2 .3 .5 1.4 .4 .2 .9 1.7-2.3 .6-.1 .6 .7 .6 .7 .6 .7 .6 .7 .6 .6 1-.5 1.1-.6 .1 .9 .1 .9 .1 1 .1 .9 .2 .9 .1 .9 .1 .9 .1 1 .2 .9 .1 .9 .1 .9 .1 .9 .1 1 .2 .9 .1 .9 .1 .9 0 1 .1 .9 .1 .9 .1 .9 .1 .9 0 1 .1 .9 .1 .9 .1 .9 0 1 .1 .9 .1 .9 .1 .9 0 .9 .1 1 .1 1 0 .9 .1 1 0 .9 .1 1 .1 1 0 .9 .1 1 0 .9 .1 1 0 1"/>
<text class="t" x="124.3" y="1131.2">ENERGY</text>
<path d="M377 1360.2H430.8" stroke="#0000ff" stroke-width="4.2" stroke-linecap="round" fill="none"/>
<text class="lg" x="448.8" y="1370.2">(12.7)</text>
<text class="d" x="804.4" y="1337.2" textLength="51.6" lengthAdjust="spacingAndGlyphs">3/24</text>
</g>
<g id="panel8">
<rect x="944.4" y="1093.3" width="785.4" height="298.8" fill="#000"/>
<rect x="950" y="1098.1" width="774.2" height="289.2" fill="#ffffe6"/>
<path d="M1729.3 1390.1H1748M1729.3 1369.1H1738M1729.3 1348.1H1748M1729.3 1327.1H1738M1729.3 1306H1748M1729.3 1285H1738M1729.3 1264H1748M1729.3 1242.9H1738M1729.3 1221.9H1748M1729.3 1200.9H1738M1729.3 1179.9H1748M1729.3 1158.8H1738M1729.3 1137.8H1748M1729.3 1116.8H1738M1729.3 1095.8H1748" stroke="#000" stroke-width="2.2" fill="none"/>
<text class="ax" x="1754.3" y="1399.2">10</text>
<text class="ax" x="1754.3" y="1357.2">20</text>
<text class="ax" x="1754.3" y="1315.1">30</text>
<text class="ax" x="1754.3" y="1273.1">40</text>
<text class="ax" x="1754.3" y="1231">50</text>
<text class="ax" x="1754.3" y="1189">60</text>
<text class="ax" x="1754.3" y="1146.9">70</text>
<text class="ax" x="1754.3" y="1104.8">80</text>
<path d="M947.2 1391.1V1413.1M996 1391.1V1413.1M1044.7 1391.1V1413.1M1093.5 1391.1V1413.1M1142.2 1391.1V1413.1M1191 1391.1V1413.1M1239.7 1391.1V1413.1M1288.5 1391.1V1413.1M1337.2 1391.1V1413.1M1386 1391.1V1413.1M1434.7 1391.1V1413.1M1483.5 1391.1V1413.1M1532.2 1391.1V1413.1M1581 1391.1V1413.1M1629.7 1391.1V1413.1M1678.5 1391.1V1413.1M1727.2 1391.1V1413.1" stroke="#000" stroke-width="4" fill="none"/>
<text class="ax" x="971.6" y="1424.1" text-anchor="middle">06</text>
<text class="ax" x="1020.3" y="1424.1" text-anchor="middle">07</text>
<text class="ax" x="1069.1" y="1424.1" text-anchor="middle">08</text>
<text class="ax" x="1117.8" y="1424.1" text-anchor="middle">09</text>
<text class="ax" x="1166.6" y="1424.1" text-anchor="middle">10</text>
<text class="ax" x="1215.3" y="1424.1" text-anchor="middle">11</text>
<text class="ax" x="1264.1" y="1424.1" text-anchor="middle">12</text>
<text class="ax" x="1312.8" y="1424.1" text-anchor="middle">13</text>
<text class="ax" x="1361.6" y="1424.1" text-anchor="middle">14</text>
<text class="ax" x="1410.3" y="1424.1" text-anchor="middle">15</text>
<text class="ax" x="1459.1" y="1424.1" text-anchor="middle">16</text>
<text class="ax" x="1507.8" y="1424.1" text-anchor="middle">17</text>
<text class="ax" x="1556.6" y="1424.1" text-anchor="middle">18</text>
<text class="ax" x="1605.3" y="1424.1" text-anchor="middle">19</text>
<text class="ax" x="1654.1" y="1424.1" text-anchor="middle">20</text>
<text class="ax" x="1702.8" y="1424.1" text-anchor="middle">21</text>
<path class="ln" d="M948.2 1291.3l1.2-1.4 .5-1.2-.4-2.5 .7-1.1 .2-.4 0-1-.5 .6 0-1.3 .3-2.6-.2 .5-.4-.3 .2-2 .4-1 .2-.2 .4-1.4-.1-.3-.4-1.2 1.1-2.1-.4-2.9 .2 2-1-1.8 .5-1 .8 .2-.1-1.3 1 .1 .4-2.4-.1-1.6 .1 .4 .2-.4 .4-3.1-.7-1 1.2-.3-.3-.4-1.5-.9 1.3-1.7 .1 1.5-.1-1.3 .8-1.9 .3-.4 0-.8 1.1 .4-.3-3.1 1.2 .3 0-2.5 .5-.8-.4-.5 .6-.4 .7-2.2 .6-1.2 .3 2.9-.9-.6 1.2 1.2-.9 .9 .9 .7 .1 .9 .8 .5-.8 .3 .1 .8 .4 2.9 0 .5 .5 .3-.1 2.3 .7-.9-.8 1.6 .8 .4-1.4 3.4 1.4-.9-.2 .9 1.4 2.2-.9-.6-.5 1.4 .7 1.8-.6 .4 .2 2 1 .8 .9-.1-1.8 6.3 1.2-3.6 0-2.5 1 .2 .3-1.9 .9 1.2-.2 2.2 1-1-.2 2.1-.6-.4 .2 1.3 .8 1.7 .4 .5 .4-2.3 1.2-.2-.4-1.2-.4-.3 .7-1.3-.1-.5 1-2.1-.4 .6 .3 .1 1-7.1-.2 2.8 .9 .4 1 2.5 .1 1 .9 1.4 .3-3.6 .5 1.5 .2 .9-.1-1.6 .7-1.5 0 .1 .6-.6 .6-1.3-.1 .6-.3 1.3 .3 .3-1 1.5 1.1-.7-.1 2.5-.2-.6 1.4 1.3-.5 1.5 .3 1.6-.4 .1 .3 1.7-.9 1.5 2.1 .8-1.3-.1-.8 3 1.1-1.1 .2 1.8 .2 .3 1 1.6-.5-.2 .4 3.5-1-2.1 0 1.9 .3 .3-.1 1.4-.3 1 .5 .8 .9 .4-.3 2.1 1.1 .2-1.3 1 1.1 2-.4-.9 .4-.4-1.2-1.4 .6-2.6-.1 .3-.5-1.8 1.4 .7-.2-1.1 0-1.7 0-1.2-.1-1 .6-.9 .8-1.6-.6 1 .1-2.5-.3-.4 .8-.9-.5-.9 .6-.8 .6-3.1 .3 .6 .3-1.6-.2-.4 .9-.8 .1-3.3 .1 1.5 .7 1.3 .6-2.6 .3-1.4 .5-.7 .2-.8 .3 1.9 .4-2.2 .2-1.1 1.2-1.9 0-3.1 1.1 1.1-.3-.3 .5 1.2-.1 .6 .1 .5 1.6 .9-1-.1-.4 1.8 .8 1.2 .7 1 1 1.7 .1 .7-.6 .9 1.3 .4-.2 1.8 .7-.4-.9 2.7 .2 1 1 .1 .1 .6-.7-2.6 .7 0-.1-1.2 .1-2.8-.5 1.3-.1-1.7 .5-1.7-.3-.9 1 1.1 0-1.9-.4-1.1 .9-.3-.6-1.7-.5-1.3 .8-1.6-1.3 .4-.3-3.3 .6 1.7 1.3-.9-.5-1.8 1-1 .1-1.9 .2 0-1.9-.4 1.5-.2 0-3.9 .4 .6 .4 .6 .8 2.4 .3-1.2-.2 4.1 1.2-1.4-.2 .8-.1-2.5 .8-.6-1.2 .2 .4-2.1 .8 1 .4-2.3 .7-1.7-.2 .1 .2-1.3 .7-.4 0-2 .3-.3 0-1.6 .8-.7-.1-.9-.4-.4 1.1-1.8-.3 1.4 1-3.2-.6-2.3 .5 .7 .5-.9 .3-1.4 1.1-2-.8-.8 .6 3.3-.1 .1-.1 1 .3 1.9 .3 .8-.8 .6 1.5-.8 .2 2.9-1.7 .7 1.8 1.4-.1 .4-.2 2.6-.6 .5 1.3-.2-.7 .3 .8 1.6-1.1 1 .1 1.7 .3 1.1 .2 .3-.7 1.5 .9-.6-.6 2 .2 1.5 1-.4-.8 1.7 .2 0-.4 .5 .8 1.8 .1-.3 .8 3.6-.8-.7-.2 2.4 1 1.6 1-1.1-.6 2.3 0-1.1 .4 2-.1 1.7 .6 .5-.5 1.5 .6 .2-.2-.2 .6 1.7-1-.1 .3 3 0 1.1 1 .6 .7-.5-.6 2.1 .2 3.7 .6-2.3 .1-2.7 .8 2.3 .1-1.2 .6-4.6-.1 2.4 .9-1.7 .3-.1 1 2 .1 .4-.5 1.4 1.3 1.6-.2 1.7 .1 1.3 .7-.9 .3-1.7 .6 .1 .3-2.4-.1-3 .8 3 .3-1.7 .2-.9 .1 .8-.2 .9 .9 .9 0 .6 .3-.2 .7 2.1-.4 1.7 .6-.9-.3 1.8 .7 1.8-.2-.3-1 .6 1.2 1 .2 4.6 .6-2.1-.2 1.7 1.4-1.4-.1 1.7 .1 1.7-.7 3 1.9-2.4-.3-.9 .7-.4-.6-.9 .9-.4 1-1-1.6-1.3 1.6 0-.2-3-.3-.9-.4 0 1.4-.9-.8-1.7-.7 1.9 .7 1.4 .5 0-.4 .2 .4 1.8-.9 1 1.4 .8-.3 1.2 .3 1.4 .5 .9-.3-.4 .4 1.8 .9 .8-.3-.8-1.2 2.5 1.8 .9-.4 .9 .1-.9-.7-1.2 .6 .1 .7-1.2-.4-1-.7-1 1.3-.6 .5-2.4 0-.6 .5-1.1-.3 2.9 .4-.7 .3 2.3 .1 .3 1.2-.1-.6 2.5 1.1 .4-.8 .2 1.3 1-.2 .9-.5 2 .1 1.9 2.5-2-1.6-.1-.4-1.3-.4-1.6 1-.6 .6-.1-.6-2.3 .1-.9 .5-.9-.3-1.4 .1-.4 1-.5 .6-.7-1.6-3-.2 .8 1.1-1.3-1-.9 1.5-.1-.9-1.2 .4-1.3-.7-1.6 .8-.2 1.2-1.3 .1 0-.5-.8-.5-1.8 1.4-1.2 .5-.2 0-1.3-1.2-.5 1-2.5 .2-.3-.4 .1-.2-1.7 .9 1.6 .4-1.8 .2 4.9 .7-2 .3-.5 .5 2.8-.6 1.4 .2 2.5 .8 .5 .4 .6 .6 2.1 .2 .7-.8-.2 .3 1 .1 .8 .8 2.5-.2-.2-.4 .6 .7 1-.4 1.1 .4 1.7 .1 1.3 .5 .3-.1-.9-.3 2.7 .2 1.8 .8 .8-.5 .5 .1 .9 .8 .5-.6 1.6-1.1-.2 .4 1.3 1.3 1-1.7 .7 1.1 1.9-.8-.3 .3 .9-.8 1.1 1.7 2.3-1.3 1 .9 .2-.4 1.5 1.2 1.7-.7-.2 .3-1.5-.3 2.5 .7 1.5-.7 .8-.1-.9 .7-2.1-.3-.3 .2-1 .3-.1-.3-1.3 1.5-.8-.5-.3 .8-1.7-.1 .1-1.1-2.6 .1 .1-.1-2 1.4 .1-1.5-1 0-.1 1.6-1.4-.1-.6 .4-1.3-1.3-1.6 1-.1-.6-2.1 .8 1.7 .6 1.5-.1-.9 .1 1.9 0 1.3 .1 .9 .5 1.1 .4 1.3-.2-.2 .1 0 .3 2.5-1.4 .1 2.3 2 .4-.2 .3 1.1-.1 1-.8 1.9 .4 .2-.4 .7 .2 .7 1.5 1.2-1.4 1 .8 1.5-.6 1.3 1.3 1.1-1 .7 0 .5-.1 .7 .9 1.3 .7 1.1-1-1.6 1.2-.1-.6-.8-.6-2 1 .5-.3-1.8 .1-.8 .3-1-.2-.9 .1-.1 .8-.7-.2-2.2 .7-1.2-2.2-.8 .6-.8 2.4-1.5-.8 .1-1-1.2 .4 .8-.2-2.1 .6-2 .6 2.1 .9-1.1-.5 3.3 .1 .5 1 .3 .8 2.1-.9-.5-.3 1 1.4 1.8 .2 1.5 .9-2.3-.9-1.4-.7 .7 1-2 .4 .2-.9-1 .6-2 1-.3 .3-.6 .5-1.5-.1-2.2 .6-.8 1 .9 .5 .4-.1-2.3 1.2-2.6-.5 3.4 1.2-2.2 0 .3 .5-1.8 1-2.4 .7-.5 1.1-1.8 .9 4.7 .7 .1 .5-.5 .1-1.9 .4 2.7 .7 .2-.2 .2 .3 3 .3-.2 .6 4.9-.1-1.7 1.2-1.8-.1 .5-.3 4.2 .4-4.7 1 3.9 .3 1.3-.1 .8 .1 1.1 .9 2-1.2 .2 .8 1 .9 2 0-.6-1.2 .2-.1 1.2 .8 1.3 .3 1.4 1 .8 .5 .2-.2 1.3-.3-.2-.1 2.5 0 1.5 .7 0 .2 .4-.8 .9 1.1 1.6-.2 .1 .9-1.8 1.2-2 0-.7-.3 .7 .2-3.1-1.1 2.3 .9-3.1-.9-.4 .3-1.4 .2-.2-.1-2-.2-1 1.5-1-1.4-.6 .6-1.6 0 .6 0-1.4-.3-1.8 .7 .3-.2 1.4 .3 .2 .1 .4 .6 1.4-.2 .9 .8 .3 .2 1.7 .8 .5-.4 .7 .1 .7 .6-1.9 1.3-1.4-1.1-1.7 .5 .2-.5-1.8 1.8-.6-.5-.3 0-1.4-.4-.7 1.4-1 .8-.8-.6-1.7-.4 0 1-1.5 .3-1.2 .1-.5 .1-1.1 .3-1.8 .5-.3 .6 0-.4 .6 .3 .6-1.2 1 .3 .2 .1 2.3 .9 1.8 .1-.7 1.8 2-1.2 2-.2-2.2 .6 1.7 .2 1.7 1-.1-.9 2.1 .3-.7 0 3.1-.6 .6 1.2 1.1-.4 0-.8 .6-.4 2.3 .9 .3-.7 1.7 .2 .3 .9 .3 .5 1.7-1.7-.4 .5 2.1 0 .2 .5 .3 .7 2.9-1 .3-.5 .6 1.4 1.6 1 1.1-1.2-.2-.3 1.2-.3 2.5 .4-1.7 0 2.7-.2 .2 1 1.1-.8 1.5 .6 .4-1.3 1.7 1 1.8 1-1-.1 1.6-.5 1.3 .9 .7-.1 .1 .5 1.4-.6 2.1 .9-.4-.4 1.1 1.5-.1-1 1.4-.2 .6 .5 3.4 .3-.4 .4 .7-.9 1 .3 2.1 0-.6 1.1-.4-.8-.4 .6-2.7-1.9 .3 1.3-.5 .3-1.3 .9-.6 1.2-3.1-1.5 0-.9-.4-.1-1.3 .1-1.3 .8-.9-.6-1 0-.6 .8-.8-.5-2.3 .5 .2 .2 0-.2-1.5 1-.8-1.1-1.5 .8-1.8-1.1-.6 .6-1.1 .3-.2 .4-1.4-1.2-1.5 .8-.4-.1 1.1-.1 .4-.6 1.5-.2 .6 1.1 1.5 .3 1.4-.1 .4-.5 1.3-.1 .9 .5 .9 .3 .6-.6 .5 0 2-.6-.6 .4 2.8 .6-.3-.3 2.3 .1 0 .8 1.5 .2 .2 .4 1.9-.2 0-.7 1.5-.1 .5 .2-.2 1.1 3.3-.9 .1 .6 .8 .1-.9 0-1 0-.9 .1-1 0-.9 0-1 .1-.9 0-1 0-.9 .1-.9 0-1 0-.9 .1-1 0-.9 .1-1 0-.9 0-1 .1-.9 0-1 0-.9 .1-1 0-.9 0-1 .1-.9 0-1 0-.9 .1-1 0-.9 .1-.9 0-1 0-.9 .1-1 0-.9 0-1 .1-.9 0-1 0-.9 .1-1 0-.9 .1-1 0-.9 0-1 .1-.9 0-1-.5-1.8 1.4 2.1-.6 1.3 .1 .4 1.4 .5-.6 .4-.3 2 .6 .3-.7 1 .9 1.9 .1-.7 .3 .6 .3-.4 .4-1 .5-2-.4-.6-.2-.3 0-2.2 .5-1.8 0 .7 .4-.9-.2-2.4-.2 .3 .2-1.7 .8 3 .2 .8 .4 1.8-.5 1.4 .5-1.1 .2 3.2-.7 .6 .8 .4-1.1 1 .9-.5 .5 1.7-.2 0 .2 1.4 .4 1.4-1.2 1 1.7 .7-.6 1.6-.6-.3 .9 .7 .4 .3 0 3.2 .9-.5-.6 2 .9 .1 .7 .5 .5 1.6-.8 2 .1 .5-.1 .3-.4 2.6 .6-.7 .3-.2 .6 3.5 .9 3.5 .2-1.1 .6 .3-.4-2.4 .3-.3 .8-1-.8-1-.2-1.3 .5 .4 .3-1.1 1.1-.4 .2-2.6-1.1-.6 .9 0-.1-1.2 .6-1.2-.4-.5-.4-1.4 .8-1.5-.6-1 .9 0 .7-2.4-.9 1.7 .7-.3-.3 2-.2 .3 .5-.4 .3 1.1 .7 1.5 .3 1 0 .5-.4 1.9-.1 .1 .5-.7 0 1.7 .3 1.4-.8 .8 .7-.2 .1 .2 1.5-.2-1.1-1.1-.4-1.4 .9-1.6-.1 .5-.6-2.2-.6-.3 .8 0-1-1.6 1.1-1.7-.6-.5 .3-2 .9-.1-1.2-2.1 .4 .1 .7-1-.6-.7 .3-1.2-.3-2 1.1-.7-.9-.5-.4-1 2.6-.2-.9-.9-1-.6 .4-.5-.3-2.1 2-.9-.1 0 .8-.8-.3-2.3-1.4-.5 1.2-.3-.7-2.7-.1 0 1.7 1.2-.8-2.6-1.2-.9-.6-.8 .8-.6 1-2.3-.7-1.2 1.2 .3-.6-1.2 .1-.7 .2-2.5-.1 0-.6-2.1 1-.1 0-.4 .3-1.4 .7-.9-.7-.5-.7 0 1-2.5 .7-1-1-1.1 .6-.1-.5-1 .5-.8-.2-2 .5 1.5-.2-1.7-.2-2 .3-1.5 1 .9-.5-.5-.1-1.9-.3 0-.1-1.7 1.4-1.4 .5 1.2-.6-.7-.7 3.4 1-.8 .4 .8-.3 .4 .8 2.8-1.2 .4 .7 1.1 .2 .5-.7 1.1-.2 2.8 1.1-1.1-.4 1.4 .4 .3-.2 2.4 .2 .5 .5 .9 1.8 .6-1.6 .5-.6 .6 .5-.8 .7-.2-.1-2.2-.1 2.1 .4-3.3-.8-1.9 1.3 .6 1.2-1.5-.2-.4-.4-1.5 1.2 .3 .3-1.4-.7-1.6-.2-1.7 1.3-.3-1.8 1.9 .3 1.1 .8-.6-.6 1 .1 1.7-1.1-.6 .8 3.4-.1-.4 .3 .6-.9 1 .8 1.8-.3 .4 1.2 1.2 .1 .9-1 .7 0 1.9 .5 .3 .2 .5 .8 1.5 .3 1.5-.2-.3-1 4 .6-1.1 .5-2.7 1.5 2.2 .4-.4 1.8-2.3-1.8 .8-.4-1.8 .4-1.4 .2 .6 .1-1.3-.6-.5 1-1.8 .2-1.5-.1-1.1 0-.3-.3-.5 .4-2-.5 .3 .1-1.7 .9-.2-.3-.9 .4-2.8-.2-.1 0-.4 0-.5-.4-1.5 1.4-.4-.6-2.1 .5-.1-.8-.7 .2-1.1-.4 .1 .5-1 .1-2.6-.5-.7 .7 .5-.8-1.3 .1-1.1 .6-.4 .3-3.1-1.1 .3 .6-.8-.6-1.1 .7-2.1 .7-.4 .3-.7-.6-.3-.2-.4-.4-.9 .7-1.9 .3-.8-.7-.3 .3 .9-.3-3.8 .7-.2 .3-1.7 .1-.4-.3-1.2-.2-.9-.7-.6 .5-.8 .5-1.6 0-1.4 .1-.8 .1-1.2 .5 .1 .3-.5-.1-2.8-1.2-1 .5 .8 .4-.9 .2-.9-.4-2.1 .3 1.8-.5 .1 .9 2.6-.3-1.7-.5 3.9 .5 0-.4 1 1.7-.3-.6 1.5-2.4 .2 1.1 1 .2 1.7 .4-.9 0 3.3-.5 .6 .3 1.6 1.1-.6-1.1 1.7 .1-.8 .7 3.1 .1 0 .6-2.2 .7-3.5 .7 4.6-.2 .8 .6-1.3-.4-3.1 .7 2 1.4-2.4-1.5-.6 .8 .3 .2-2.3 .4-.8-.2 0 0-2.6-.2-.3 .3-.7-1.1-1.3 .9-1.8 .8 .5-.5-.9 .8-.5-1.2-1.3 .5-2.5-1.5-.6 .7-.2 .8-1.9 .2-.8 .5-.6-.6-.9 .4-.1 .3-.8-.8-2.3-.7-.8 1-.4-.7-.7 .4-.6-.4-3.4 .2 .1-.3-.4 .1-1.4 .6-.8 .3 .3 .1-2.2 .6 .8 .1-1.2-.4-3.3 0-.6-.9 .2 .3-1.2 1.2-.7-.8-2.8 .2 .2 1.2-.1-.3-1.6-.2 2.1-.1 .7-.4 .1 1 .3 .1 1.7 .4 .6 .1 2.8-.1-.6-.2 1.4 0 .6 1.4 1.2 .5 2.8-.9-.2-.3-.4 1.3 2.1-1.8 .9-.1-.3 1.2 1.1-.8-.5 .2-1.8 0 .5 .1-2.1-.1-.1 1-1.1-.1-.8-.3-1.7-.3 1.3 1.2-2.3 .3-.2 .4-2.5 .1 .2 .5-.6-.8-1.8 .1 .9-1.1-2.6 1.2-1.6-.3 .5 .6-1.5-1.1-.5 .8 2.3-.2 1.6 .9 1.5-.2 .3 .4 .7-.9 .8 0 2-.1-1.9 .8 4.4-.8-.7 2.2 1.6-1.6-2.4 1.1 .4-.3-1.9 .4 .2-1-1.1 .6-1.8 .5-1.5 .1-1.1 .3 .4 0-1.7 .1 0-1.3-1.7 1.2-.5 .1-.9-.4-1.4-.5-.7-.5 0 1.4-2.3-1.4-1.7 0 .3 .2-.7 1.2-.4-.9-.4 .6-1 1-1.2-1.4-2.2 .9-1.9 .7 1 .1-1.9-.6-.7-.3-.3 0-1.2 1.7-1.9-.9-.9 .5-.5-.6-.6 .3-1.9 .8-.3-1-.7-.1-.7 .8-2.1-.3-.3 .1-.5 .3-1.8 .2-.6-.4-1.7-.6 .7 1-.2 .4-2-.1-1.1 .6-1.8-.8 .6 1.5-2.1-.3-2.1 .1 .9-.6-2.1 0 .4 .1-2.3 1.1-.2-.2-1 0-.7-.2-1 0-1.5-.1-.4 .1-.5 .8-1.7-.3-1.2 .4-.6-.4-1.3 1.5-1 .1-1-1.3 2.1 .8 1.3 .3 .5 .4-.1-.5 2.2 .5 1.6-.1 .5-.2 .2 .5 .3-.1 .9-.3-.4 .2 3.2 .6 .4-.3 1.2 .2 2.6 .1-1.5 .3 1.8-.4 .3-.1 2 .3-.1 .3-.4 .6-.6 .2-1.9 0-.5 0-.1 .4-1.7-.4-1.7 .3 .3-.7-1.6 0-1.2 0-1 1.1-.4-.3-1.3 1.2-1.3 .1 .8-1.1-1.9 .6 1.1 .1 .3-.4 .6 .6 .7 .1 2 .3 1.5-1.3-.3 .1 1.5 .3 .6 .1 1-.1 1.1 .8 .2 .6 .4-.9 1.6-.2 1.9-.1 .5 1.1 .7 .6 2.9-1.8-1.1 .8 .2-.9 3.9 .3-.8 .4 .5-.2 2.1 1.1 1-.6-.3 .9 1.3-.4 .9-.9 .5 .7 .4 .2 2.6-1.1 1.3 1.4 1-.2-1.1 .3 2.4-.7-.3 .9 2 1.3 2.2-1.1-.3-1.6 .7 .9 1.5 .5 .9-.1 .2 .8-.9 .6 0-.5-.4 1.3-1.6-1-.2 .2-.3-.4-1.6 1.4-.4-.8-.7 .5-2.9 1.4-.7-1.6-1.2 .1-.8 .8 .5-.5-2.3 .2 0 .8-.7-.4-1.6 .1-1.3 1.1-.2-.6 .3 .5-2.9 .2 .2 .5-1.2-.2-1.4 .6-.5 0-1-.5-.8 .7-.6 .2-1.4 1-1.2-.9-.3 1.1-1.3-.4-.2 0-.9-.7-1.8 1-1.3-.5-1.3 1.6-.9-.4-1.5-.5 .5 1-1.7 .2-1.2-.6 1.4 1.3 1.1-1.9 1.4 .2 .2 .1 1.1 .3 1.8 1.2-.4-.7 .4-1.2 3.3 .8 0 .1 1.4 1.1 0 .4 1.4-.4 1.1 .5 1-.8 0 1.4 1.8-.6-1.3-.7 1.3-.3-3.6 .4 .2 .2-1.8 1.6-.2-.6-1.6 .2-.8-.8 0 0-1.8 .6-2.5-.1 .1-.8 .2 .3-2.4 .4-.3 1.1-.8 0-1.6-.7-.3 .3 .1-.7-1.7 1-1.1 0-.1 .3-.9-.7-1.4-.1-.3 .6-1.5 .2 1.1 0 .2-.4 .8-.2 1.7 .3 1.4-.8 .5 1 1.9 .2-1.2 .4 1 0 1.4-.2 1.8 .3 0-.8 .8 .6 1.8-.4 1.2 1.2 .5-.2 .7-.4 .8 .4 1.3 .5 1.2-.5 1.1-.6-.7 .7 2.5-.2 1 .8 1-.4 .8 .4 .6-.5 .8 1.1 1.4-.9 1.7 .5 .7 .3 .5-.3 .8-.6 2 1.2-.6-.2 .7 .8 2.7-.4 .8-.5-.4 .9 1.5-.1 .3-.7 1 .2 .6-.4 1.6 1.5 .8 .1 .7-1 1 .3 2.7 .3-.1 .3 .9-1 .9-.1 .3 .4 .8 1.8 2.6-.4 .2 0 1-.2 1.3-.3-.5 .2 .6 .9 1.9-1.3 1.4 .3 .8 .2 1.6 .9 .7 .1 .3-.1 .2-.1 1.9 1.2-1.4 .2-.7 .3-1.2 .2-.8-1.4-1.2 1.4-1.6-1-.6-.5 .3 1.4-1.9-.2-1.4-.7-.1 .6-1 .2-2.1 .6-1.3 .1-.5 .5 .8-.6-.7-.3-1.7 .6-.6-.8-.7 1-1.9-.9-2.7 1.4 1.3-.4-.7 .6 1.3-.6 1.8 1.1 1.5-.3 .2 .4 .4-.9 .3 .4 1.4-.3 2.5 .7-.2-.1 2.2 .2-.4-.8 1 .3 .1 1.2 1.7-1.2 1 0 1.5 .5 .7-.5 1.2-.1-.5 .6 1.6 .2 2.7-.5 .6 .3 .2-.7 .9 .9 1.3-.3-.5 .1 2.8-.3-.2-.2 .5 1.1 1 .1 .8-.4 1.4 .6 .1 .3 1.8-1.6 .9-.1 .5 1.1 1.8-1 .6 1.1 1.9 .2 0 .4 2.2-1.7-1.2 1.1 0-.3-2.2 1.1 .3-.3-1.6 .1-.5-.9 .4 .5-1.4-.4-1.2 .8-.9-.5-1 1.9-.3-.7-1.8 .7-1.6-1.3 1.9 .4-3.2 .2 .3-.7-3.2 1.6-.3-.5-.1 .7-1.4-2-1.2 2 0 .1-1.8 .2-1.6 .1 .9-.2-.7-.8-.8 1.3 3.4 .2 .2 .2-.7-.2 2.4 1 1.1-.3 .5-.3 .6 .6 1.2-.2 0 0 .6 .6 3 .6 .5 .1 1.3-.1-1 .6 1.5-.7 .5 .1 1.7-.8-3 1.2 .5-.3-3.3 .3 .7-1.2-1.3 1.3 .4 .1-2 .5-.4 .9-2.5-.7 1.6 .6-2 1-1.7 .2-.4-1.3-1-.1 1.9 1 1.5 2.6-5.1-.4 1 .7 .8 .3 1.3 .4 2.1-1.5-.3 1.1 2-.5 .5 .1-.4-.2 2.8 .1 .4-.1 0 .5 1.8 .6 .6-.3 1.2 .6 1.8 0-.7 .4-.3 0-.9 .6 0 .2-2.8-.2 1.1 .8-.5 .3-.9 .8-3.6 0 2-.5-.2 1.2-.6-.2-.4 1.3-1.5-.7-1 .1-.8-.4-2.1 .2 1.8 1.1-2.3-.4 1.3 .4 0-.1 .8 .1 2 .6 .9-.5 .2 1.1 2.3-.5-1.3-.1 .8 .7 2.8 .3-.5-1.6 2 .3 1.4-.4 1.6 .5 .8 .3 .4 .2 .1 .7 1.8 .1 1.2 .3-2.8-1.1-.1 .4 .8 .3-1.5-.1-1.8 1.1 .7-.6-2.4 .2-.2 1.3-.6-1.5-.5 1.1 0-.5 2.8 .8 .3-.8 0 .9 1.1-.2 2.8 .9-.4 .1 .5-1.1 2.6 .3 .1 1.3 1.3-.5 .7 .2 1.1 0 1.3 .4 0 .1 1.5-.1 .4 .6 1.6-.7 2.5 .8-.2 1.2-.8 .4 1.5 .8-.1 .6-3.1 .8-1 .5-2 .6-.1 1.8 1.6 .7 4.9 1.4-3.8 1.2 2.9 .3-.1-.4 1.7-.6 0-.7 1.5 .1 1.6 1.5 .8-1 1.2 1.1 .5-.7 .2 1 .1-1.2 2.3-.2 .7 0-.3 2.4-1.2 .3 1.1 .6 2.8 .8 1.6 .9-1.5-.1 .8-.4-.3-.2-1.8 1.1-.2 .1-1.2 .1-.6 .3-.4-.3-3.6-.4 0 .6-.1-.2 .9 .9-2 .2-2.3-.5 .3 .7 0 .8 1.5-1 1.5 1.2-1.1 .5 2.6 .1 1.1 .2 .8 .5 1.2 .8-1.7 .8-2.6 1.1 2.8 .5-.7 .8 1.1 .7-.8-.7 .4-.2 .9 .6 1.8-.7 .5 1.8 2.1-.7 0 .6 2.4-.5 .9-.1 .4 0-1.2-.5 3.7 .7 .9 .3-.1 0-.1-.7 2 .3 .6 .2 1.3 .9 1 0 1.3 .2 .1-.3 1.2 .1-1.9-.8-.4 .5-.7-.6-1 1.2-.3-.6-1.7 .4-1.3-.4-1.2 .3 .5 1.1-.9-.6-2.1-.6 0 1.3-1.3-.3-1.1-.2-.1-.1-1.9-.6-.2 .3-1.5 1.8-1.6 .3 .1-.5-2.3 .1-2.5-.5 1.5 .3 .3 .9-3.4 .2-.5 .7 1.1 1 .7-.7 .1 1 2.8-.2 .2 .2 1 .3 1.8-.4-.8 .4 2.7-.1 .9 0 .5 .8 .8-1.5 1.1 1.3 .5-.6 2 .7-1.3 .5 2.9-.2 .7 .2 .8 .2 .4-1.7 1.2 1.2 2.2 .5 .4-.7 .6-.2 .4 1 3.9 .2-1.5 0 .3-.1 1.6-.8 1.3 .6-.6 .9 .9-.1 2.7-.8 0 0 .7 .3 2.3 .9 .3-.1 2.4 .9 .1-1.5-.1-.1 1.4 1.1 1.7 .1-.1 0-3.1-.2-.5-1.3 .3 1.3-3.8-.8 .7 .4-.3-.3-.5 1.1-3.6-.5 .8 .8-1.4-.7-.9 1.5-.6-.9-1.4 .6 .5-1-2.4 1.4-.8-.8 1.5 .8-5 .3 1.5 1-3.2 .8 .7-.7 2.6 .2 .9 1.2 1.2-.2 1.4 .2 .5-.2-.5 .7 .8-.9 2.3 1.2 1.1-.4 .3 .2 .5 .2 1.2 .4 1-.2 1.6 .1 .9 .9 .4 .3 1.2-1 1.5-.6 0 .7 1.5 .2 1.6-.4 .8-.1 .3 1.2 1.9-.8-1.7 0-1.3 .5-1.1 .1-.9-.7-1.3 .6 .4 1-1.9-.8-.6 .5-.1 .1-1.1 .5-2-1.7-1 1.3 .3 1.2-1.2-.3-.5-.6-1.9 .2 .9 .7-2-.6-2.3-.4-.7-.2 .3 .6-1.9 .7-.2-.3-1.3-.2-2 1-.6-1.2-.9 2.1 .7-1.1-2.3 .8 .2-.3-3.6-.2 .3 .7 .1 0-.2 .9 2.4-.7 .2-.5 .4 1.4 1.6-.2 .7 .2 1.6-.2 .4-.9 1.2-.8 1 1.5-1-.2 2.3 1.1 1-.7 .2 .5 1.9-.1-.6 .3 2 .6 1 .2 2.4-.9-1-.3 1.6 .9 2.5-1-.9 .7 1.5 .4 1.3-.3-.2 .7 2.6 .2 0 1 .7 1-.7-1.2 3 .2-2.3-.1-1.4-.7 2.1 1-3.7 0 .7 .5-2.4 .7 0-1.6-1.8 1 .2 .1-.8 .3-2.3-.8 0 1.3-.5 .2-2.2-.8-.1 1-.3-.3-3.2 .4-1.1-.1-.5 1.2-.3 .4-2.1-.2-2.1 .5 0 .6-2.6 0-2 .4-1.6 .7 3.4-.2 .2 .8 .7 .4-3 .2-1.6 .5-.4 .1-.6 .5 1.6 .7 1 .7 .1 .7-.5 .2 1.4 .9 1.1 .7 0 .4-1.4 .7-2.2 .9 1.8 .1-1.6 0-1.1 1 1.2-1.3 2.1 2.4 .2-1.1 1.2 1 .6 .2 1.7 .2-.4 0 .9 1.4 .5-.8 3.4-.1-2.3 .7-1.1-.2-.9 .8-2-.1 1.3 .8-2.1 .2-.6 .5-2.4-.5-.4 .5 1.6-.1 1.6 .6 .9-.7 .3-.2 2.6 1.3-.2-.8 1.1 .9 1 .4 1.3-.1-.6 .5 2.7-.7 .8 .5-.8 .3 1 .4 2.7-.5-.1 .9 2.2-.4-.5 .3 2 .3 1.2 .7-.1 0 .6-.5 1.1 .7 2.6 .8 1-.9-2 .7 2.1 .5 1.4 .2 .9-.1 1.7-.8 .9 .6-1.3 1.1 .4-.5-1.7 .8-.2 .5-.4 .7-1.4-.1-1.1-.3-.7-.4-2.6 1.4-.4 .1 .3-.2-1.4 .1-2.2 .9-1.2 .2-1.9 .6-.4-.1-1.9 .5-2.1 .9-.3 .5 .7 0 .8 .2 2.8 .7-5.1 .9 .3-.2-1 1.2 .2 .4-.4 1.2 1.4 1 1 0-1.2 .5 4.3 .2-1.8 .6-3.6 .9-2-.2 .5 .9 .1 .1-.3 0 2.8 .8-1.5 .2 .4 .8 1.4 .3-2.6 .8 3.2 .2 1 .3 1.7 .5 1.6 .2 1.8 1-1.1 0 3.2 .4 .9 .3-.5 .2 2.2 1-.3-.8 2.1-.8-.2 1.6 2.5-.2-.2-.2 1.5 .5 .9 1-2-.1-1.8 .8 .1-.1-2.6 .5 .9 .3-.8 .2-1.5 .7 2.6 .4-3.9 .7 2.1 .6-2.1 .8-1.5 .4-1.8 .2 .9 .3 1 1-2 .3 .3 .8-2 1-4.4 .1 3.3 1.7 3.8 .9-1.7 .1 .1 .4 .4 1.4-1.2 0 2.5 .5-1.3 .3-1.6 .2 1.4 .6 .7 1.1-1.6 .8 1.1 .6-3-.4-.9 1.3-3.1 .1 .6 .7 .2 .9-.4 .5-.4 1 1.2 .3-1.6 1.2 .4 1.5-2.1 .9 .4-.8 2.9-.6-.3 .1 .8 .6 2.4-.5 1.1 .6-.7 1.1 1.2-.1 1.5-.3 .3-.6 .5 .2 .4 .3 2.6 1.4 1.1-1.7-.9 .9 1.6 1 2.2-.3 0 0 1.4-.1 0 .6 2.7-.1-.6-.9 .4 .5 1.3 .7 1.5-1.1 1.9 .3-.2 .7 2.4-.9 .2 .5 0 .6 1 .5 .2 .2-.3 .1-.1 .3-1.4 1.1 1-1.5-3.1 1.9-.5 .1-2 1.1-.1-.5-.6-.5-1.6 .5 .9 .7-3.3-.2 .1-.2-1.4 .5 .8 .6-2.9-.3 3.8 .7-1.6 0 2-.1 .6 1 .3-.2 .2 0 3.6-.9 1.7 2.1 .2-1.4 1 1.1 .8 .6 1.5 .1 .2 .1 1.1 .4 .4 .3 2 .2 .2 1.2-.6-.7-1.9 0 .5 .3-1.4 .1-.9 .1-.6-.4-1.6-.2-.6 .5-2.5 .3 .6-.1-1.2 .6-2.3 1 1.1 .3-2.2 .1-1.1-.7 .5 .9-3.3 .5 3.6 .8-2.3 .6 3.6 1.1-1.5 .2-.4 .6-1.7-.6 .2 .3-2.3-.2-.7 1.5-1.3-1.6 0 1.3 0-.5-1.3 .5-1.9-.1-1.3-.3 .9 1.3 2.5-.2 .7 .3-.4 .8 .8 0 1.9 .4 .6 .9 1.7 0-.5-.8 2.9 .1 .4 .3 .9 0 2.1 .7 .4 .3 .6-.3 1.3 .8 .1-.1 .6 .6 .2 .3 .6 .7-2.7 .6 1.2-.2-2.3 .6-2.3 .3-1 .4-1.1 .7-.9 .3-.4 1.1 1.2 .6-1.3 .7-2 1 .6 .3-3.1 .6-.2 .8 2.8 .4 1.2 .7 1.4 .5-1 .7 3.2 1.2-3.4 .6 3.4 .5-1.6 1.4-.7 1.3-1.8 .4 .4 .9-1.7 1.5-1.4 .3 .6 .9-.1 .6-2.7 .8 1.7 1-.1 .3 .7 .9 .4 .5 3.3 1-2.5 1.2 .3 1.1 .1 .4-.4 .8 2.5 1.3-1.3 .4-4.1 .9 1.4 1-.8 .7-.4 .9 5.3 .2 .2 .3 2.6 1.3-.9 0-2.5 1.3-.5 .6-.6 1.3 2.1 0-1.8 .3 6.1 .4 .5 0 .4 .2-.3 .8 1.1 0 1.7 .6-1.3 .2 2.9 .1-.2 .9 1.8-1.2-.8 1.2-.3-.6 .1 .9-2.6 .3-1.1 0-.4 .2 .5 .7-.7 .2-2.6 1.4 .2 .1-2 .5 1.3 .5-2.2 0-.5 .2-1.4 .7-.8 .5-3.2 .7 2.1 1.4-1.6 .7 2.4 .6-1.7 1-1.4 .5 2.6 .8 1.9 .4-2.7 .4 1.8 .4-2.9 .7-2 .3-1.4 0 .9 .9-3.2-.3-1.9 .5-1 .3 .5 .4-2.4 0-1.2 .5-.3 .4 1.2 .6 1.8-.2 .3 .5 1.5 .1 1 1.3 2.6 .3 1.9-.1 2.2 .4 1.5 .7-1.5 .5 1.9-.1 4 .6-.6 .4-2.9 .7-.6 .6-.5-.7 1.1 1.8-1.5-.9-3-.2-.4 1.2-1.7-.5-.2 2-1.6-1.2 2.7 .8 .1-.3 1.1 .7-.6-.2-.8 1 .8 .8-1.1-.1 3.1 .7-.8 0 5.7 0 1.3 .4 .6 .1-.3 .9 2.6 .3-1.2 .1 1.6 .7-2.1-.3 1.3 .7 2.8 .7 1.6 .4 1.5 .4-1.9 .6 2.2 .8-3.2 .9 2.5 .1 .2 .4 .5 1 0 .6-1.8 .6-1.7 .4-.4 .2 .8 .9 3.8 .3-.5 0-3 .4 1.8 1.3-2.3 .7-1.9-.4-.7 .6 .2 1.4-1.6 .4-1.2-1.2 3 1.3 1.8 .9 0-.8 1.1-.2 .1 .8 1.5-.3 1 .2 0-.9 1.5-.6 1.3 1.5 1.5 .1 1 .8 1.5-.6-.3-.2 1.9 1.8 .7-1.6 4.4-.1-4.2 .8 .8 .6-.5 .2-3.2 .3-1.1 .5-1-.1-4 1 .9-.1-1 .2-3.2 .6 1.4 .5 2.4-.1-2.5 .4-2.5 .6 1.5 .4-3.2 .2-.9 .3-1.3 .5 1 .5-2.1 .3-3.3 .2 1.6 .7-1.4 .4 1.4-.3-.5 .8 2.6 .3 .7 .6 1.7-.1 1.9 .2-3.8 .5 0 1 1.8 .1-1.6 .5-3.3 .6 2.4 .5 3.6 .9-3.3 .5-2.5 0 1.7 1-3.2 .5 1.2 .4 .3 .6 2-.4-3.2 .4 2.1 .4 .3 .4 2.3 .5-1.5-.5 1.7 .3 2.4-.1 .3 1 2.3 .2-.5-.2 1.4 .5 1.6 0 .1 .3 .1 1 2.7-.8-.6 .4 1.3-.4 .9 0 1.7 .6 .7 1.2 1 .3 .3-.1-.1-.2-1.7-.3 0 .3-1.7 .6-1.5-.1-.5 .4-1.5 0-.7 .6 .7-.6-2.6 .3-.4 .5-1.7 .4-.2-.4-.7-.2-1.7 1.2-1-.1-1 1.9-.2-.3-2.4-1.1 .4 .1-1.6 .3-.1 .4-2 .4 .4 .6-2.4 .5-.4 1-2 .1-1.8 .9-2 .1 4.1 .5 .5-.8 1.5 .2 .6 1.7 2.4 .9 .6-.6 .3-.8 .7 1.2 1.1-.6 1.2 .5-.7 .7 2.2-1.1 1 .9 .6 0 .8 .8 .2-.5 .8-.3 2.3 .6 1.8 .4-.8-.4 2.4 .3-.6 .4 1.9-.7 .4-.3 .5 .6 2.1 .9 .8-1.3-.6 2.1 1.8-.5 .3 .1 .4 .8 1.3 .1-2.6 .5-.1 .5-2.9 .3 2.8 0-1.6 .7-2.2 .6 1.8 .3-.2 .8-.8 .2-3.1 .2 .5-.6-1.8-.8-.4 1 .2 2.2-2-1.3-.9 0 .1 .2-1.3 2.5-2.2-1.4 .9 .8-3.3 .1-2.5 .5-1.4 .8 1 .6-.8 1 2 .6-3.1 .1 2.8 .6 3.2 .7-1.8 .7 2.3 0 1.6 .6-2.9 1.1 2.2 .1-2.3 .8-.7 .8 3.6 .3-3.1-.4 2.7 .8-2.4 .4 5 .1-4.4 0 4.4 1.4-.7-.1 .6 .7 .5-.2 1.4-.2 3.7 1.1-1.3 .3 2.8 .4-1.2-.4 2.8 .4 2.7-.2-.9 .6 4.5 .9-.6 1.2-3.1-.5 0 .8-1.7-.7-1.9 .2-.1 .7-.6 1-.9 .5-1.1-.1-.6-1.2-.8 .9-1.9 .8 1.2 .1-2-.5-2.7 1 .1 .1-.4 .4-2 0-2.5 .5 1.3 .7 2.5 .9-2.9-.3 1.5 .3-.4 1.1-2.3 0-.3 .9-1.2 .4 1.7 .5-1.1 .8 .6 .9-1 .5-.6-.3-.1 1.6 .1-.1-3.8 .7 1.5 .6-2.9 .5 1.2 .2 1.5 .1-3.7 .4-.9 .3 2.9 .2-4.3 .3 .4 .3-.4 .5 1 .2 2.1 .7 .1 .1 0 .2-.7 .5 3.2 .3-4 .5 3 .6-3.5 .2 1 .9-1.6 .3 1.5 .3-2.8 .5-1.6 .2-.5 1 5.1-.2 1.1 .6 1.2 .1 0-.2-1 1.3 .4 0 1.3 .2 2.6 .8-2.8 .7 1.2 .8 2.9 1-.8 .7-1.5 1.3-.8-.1 2.1 .6 2.4 1-1.5 .2 1.6 1.3-1.3-.4 .4 .3 1.8 .8-3.7 .9 1.5 .3-.3 .8 1.9-.1-3.9 .2 2 .8 1 1 1.1-.4-1.1-.1 3.3 1.1 1.2 0 1.8 .2-2.8-.5-.8 .7-3.9-.1 .2 1.4-1.1-.2-1 .4-1.6 .4 .2 .3-.3 .2-1.2 1.3-1.3 .4 5.5 .7 1.5 .7-1.1 .5 .7 .8-4.9 .5-.1 0-1 .5-2.4 .5 .9 .7-2 .2-2.8 .2 3.1 .8-2.1 .5 0 .5 1.2 .7 1 .5 2 .3 .5 .6 1.6 .2 .9 .7 2.2 .6-2.6 .6-4.8 .8-2.6 .4 1 .4 1.6 .6 .8 .3-.2 .2 2 1.5 2.3 .2-.5-.2 2.4 .6-.3-.5 2.1 .4 1.1 .4 .1 .1 1.8 1.4 .2-.7 1.1-.7 1.5 1.6-.1-.4 .3-.6 1.9 1 2-.3-.5 .9 2.6-.1 .5 .6-2.5 .1 .8 .3-2.3 1-1.3-.8 .3 .7-.4 .4-2.6-.6-2.1 .3 .5 1.8-1.4-1-.7 1.3-.8 .9 1.7 .5 .8 .8-2.6 .6 .7 1.1-.9 .9 4.6 .6-2.8 .4 .6 .3-1.5 .4-3.3 .4 4.2 .6-.2 .2 .1 .1 .7 .7 2.9 .4 1.4 .6 1-.3 .5 .5-6.1 .9 1.9 .4 .5 1-.5 .1-.8 .1 .9 1 .1 0-1.8 .5-1.2 0 2.8 1.1-6-.1 .5 1.5-1.9 .4 .6 1.1-.4 1.2 2.2 .1 1.2 0-.2 .5 .6 .3-.8 .8 1.5-.1-3.9 .3-.5 .6-4.8 .1 4.6 .6 .5 1 1.4 .4-1.2 .5 1.8 .2 .5 .4 3.2 .6-2 .6-2.9 .2-.2 .7 1.9-1.3 3.9 1.1 1.1 .1-.3 .1 .8 0 1.2-.1 1.8 1.4 .9-.7 .6 .2-.7 .1 3.4 .6-3.2-.1-.6 1-.6-.4 .4 .3-2.5 .9-.8 .3 .9 .6-2.4 .8 .2 .2-1.2 .3-1.6-.4-2.1 .7 0-.4-1.2 .9 .6-.1-2.4 .6-.3 .2 .1 .9-.7 .2-2.5-.2 .7 .3-.6 .5-.8 .6-2.8-.3 1.1-.5 .2 .2 2.3 .8 .7 .1 1.3 .5-.2 0 2.3-.7 .3 1.2 .9-.4 1.6-.1 .3 .6 .9 0 .6-.1 .4-.2 .7 .7 1 1.1 .6-.1 2.9 0 .8-.2 .6-.3 .5 1.5 2.3 .9-1.4-.5-1-.3-.6 1.3-2.2 .5-.7 .8-.7-1.6-.9 .4-2.4 1 .4 1.3-.1-1.1-2.4 .2-.2 .3-.8-.6-1.2 0-1.2-.7-1.4-.1-.6 1.1 .1-.4-1.4 .1-1.8 .6 .6-.2-2.5-.4 0 .8-.4 .8-2.9 .2-1.1 1.1-2.2 .4 2.2 .7-.8 1.1 0 .2 .3 0-2.6 1-1.6 .8 1.4 .2 1 1 1.9 .6-2.3 .7-2.2 1-1.4 .7-2.7 .1 1.6 .5 1.5 1 3 0 .9 .3 3.4 .7-1.6-.1 .1 .8 3-.2-1.8 .5-.6 .9-.3 .5 .9 .8-3.2-.4-.6 .8-2.5 .1 4.8 1.5-1.3 .2-.1 .4 1.9 .3-.4 .2-4.2 1.3 1.6 0-.8-.1-2.3 .4 .2 1.1-1.4-.1 1.6 .2-1.3 .8 .8 .6 1.5 .1-.6 0-1.4 1 3.2 .1 1.7 .3-.3 .5-2.4 .3 2.9 .8-2 .7-3 .5-.3 .1 1.3 0-2.8 .9-4.4 0 1 .1-.4 .7-.2 .3 1.4-1.1 1.5 2.1-.6-.2-.5 .5 2.7-.7 1.2 .2 .4 .3 1.5 .1 .3 1.5 .6 0-1.3 .1 .5 .4-2.1 .5 1.6 .2-3.4 .5-3.7 .7 2.9-.4-1-.9 1.6 2.4-.4-.1 .5 .8 3.2-.4 .1 .7 .2 0 1 1.1 2.1-.4 .2 .5 3.4 1-2.2 .6 1.2 1.2-2.5 .4 .9 .4-.6 1.1 2.8 .5-2 1 1.6 .1-4.2 .7 1.4 .3-2.3 .2 1.1 0-3.5 .8 1.1 .7-.2 .4-5 .4-.3 .2 1.9 .6-1.5 .8-.6 .2-.9 .2-1 .2-.9 .2-.9 .2-.9 .2-1 .2-.9 .2-.9 .2-.9 .3-.9 .1 .9 .1 1 .1 .9 .1 1 .1 .9 .1 .9 .1 1 .1 .9 .1 1 .1 .9 .1 1 .2 .9 .1 1 .1 .9 .1 1 .1 .9 .1 1 0 .9 .1 1 0 .9 .1 .9 0 1 .1 .9 0 1 0 .9 .1 .9 0 1 .1 .9 0 1 .1 .9 0 .9 0 1 .1 .9 0 .9 .1 1 0 .9 0 1 .1 .9 0 .9 .1 1 0 .9 .1 1 0 .9 0 .9 .1 1 0 1 .1 .9 0 1 .1 1 0 1 .1 .9 0 1 .1 1 0 .9 .1 1 0 1 .1 .9 0 1 .1 1 0 1 .1 .9 0 1 .1 1 0 .9 .1 1 0 1 .1 1 0 .9 .1 1 0 1 .1 1 0 .9 .1 1 .1 1 0 1 .1 .9"/>
<text class="t" x="964.5" y="1131.2">REAL ESTATE</text>
<path d="M1217.2 1360.2H1271" stroke="#0000ff" stroke-width="4.2" stroke-linecap="round" fill="none"/>
<text class="lg" x="1289" y="1370.2">(32.3)</text>
<text class="d" x="1644.6" y="1304.9" textLength="51.6" lengthAdjust="spacingAndGlyphs">3/24</text>
</g>
<g id="panel9">
<rect x="104.2" y="1430.1" width="785.4" height="298.8" fill="#000"/>
<rect x="109.8" y="1434.9" width="774.2" height="289.2" fill="#ffffe6"/>
<path d="M87 1726.9H104.7M97 1705.9H104.7M87 1684.8H104.7M97 1663.8H104.7M87 1642.8H104.7M97 1621.8H104.7M87 1600.7H104.7M97 1579.7H104.7M87 1558.7H104.7M97 1537.6H104.7M87 1516.6H104.7M97 1495.6H104.7M87 1474.6H104.7M97 1453.5H104.7M87 1432.5H104.7" stroke="#000" stroke-width="2.2" fill="none"/>
<text class="ax" x="80" y="1736" text-anchor="end">6</text>
<text class="ax" x="80" y="1693.9" text-anchor="end">8</text>
<text class="ax" x="80" y="1651.9" text-anchor="end">10</text>
<text class="ax" x="80" y="1609.8" text-anchor="end">12</text>
<text class="ax" x="80" y="1567.8" text-anchor="end">14</text>
<text class="ax" x="80" y="1525.7" text-anchor="end">16</text>
<text class="ax" x="80" y="1483.7" text-anchor="end">18</text>
<text class="ax" x="80" y="1441.6" text-anchor="end">20</text>
<path d="M107 1727.9V1749.9M155.8 1727.9V1749.9M204.5 1727.9V1749.9M253.2 1727.9V1749.9M302 1727.9V1749.9M350.8 1727.9V1749.9M399.5 1727.9V1749.9M448.2 1727.9V1749.9M497 1727.9V1749.9M545.8 1727.9V1749.9M594.5 1727.9V1749.9M643.2 1727.9V1749.9M692 1727.9V1749.9M740.8 1727.9V1749.9M789.5 1727.9V1749.9M838.2 1727.9V1749.9M887 1727.9V1749.9" stroke="#000" stroke-width="4" fill="none"/>
<text class="ax" x="131.4" y="1760.9" text-anchor="middle">06</text>
<text class="ax" x="180.1" y="1760.9" text-anchor="middle">07</text>
<text class="ax" x="228.9" y="1760.9" text-anchor="middle">08</text>
<text class="ax" x="277.6" y="1760.9" text-anchor="middle">09</text>
<text class="ax" x="326.4" y="1760.9" text-anchor="middle">10</text>
<text class="ax" x="375.1" y="1760.9" text-anchor="middle">11</text>
<text class="ax" x="423.9" y="1760.9" text-anchor="middle">12</text>
<text class="ax" x="472.6" y="1760.9" text-anchor="middle">13</text>
<text class="ax" x="521.4" y="1760.9" text-anchor="middle">14</text>
<text class="ax" x="570.1" y="1760.9" text-anchor="middle">15</text>
<text class="ax" x="618.9" y="1760.9" text-anchor="middle">16</text>
<text class="ax" x="667.6" y="1760.9" text-anchor="middle">17</text>
<text class="ax" x="716.4" y="1760.9" text-anchor="middle">18</text>
<text class="ax" x="765.1" y="1760.9" text-anchor="middle">19</text>
<text class="ax" x="813.9" y="1760.9" text-anchor="middle">20</text>
<text class="ax" x="862.6" y="1760.9" text-anchor="middle">21</text>
<path d="M630 1434.9V1630.5M630 1712V1724.1" stroke="#000" stroke-width="2" fill="none"/>
<path class="ln" d="M107.7 1600.7l1.2 1.5-.1 .1 1.6 1.6-.2-2.5 .3-.4 .9-.3 .6-3.4 .6-1.5 .6-1.2 .2 1.1 .5 3.4 .2-.7 .8-1.4 .5 2.5 .8-.1-.1 2.1 .5-.6 .6 .2 1.2-2.4 .4-.9 1.3 1.8 .7 1.1 .3 2.7 .5-3.9 .4-.1 .5-3.5 .7 1.3 .1-.3 .7-2.5 .8 3-.3 .1 .6 .4 .1 .6-.7 1.8 .6 .5 .7 2.2 .5 0-.8 .6 1.7 .7 .2-.1-.2 1.5-.4 .2 .8 2.3-.1 1.4 1.2 0-1.5 .6 2.2 .3-1.2 2.5 1.1-2 0 .2 1.4 1.5 .8 1.3 1 2.9-.6 2.8 1.5-5.3 1.1-2-.4-4 1.2 .7 .8 1.4 .4-1.4 .6-1.8 .5 2.7 .9-1.8 .1 .2 .7-.3 0-.6 .5-1.2 1-1.8 .3 .7 .7-2.6 .2 .5 .1-.6 1-.6 .4-2.5 .2-1.7 .5 .7 .7-.5 .8-1.2 1.2-1.1 .5 .2 1.3 .2 0-.6 .9 3.8 .3-.1 .6-3.7 .8 .1 .7-.5 .3-2.4 .5-.2 0-2.6 .1 1.1 .7 4.4 1-3.6-.3-2.1 .8 1.5 1-4.5 .9 2.2 1 2 1 1.6 .1-3.9 1.3-1.1 0-1.3 1.3 .5-.2-.5-.5 .1 1.2 2.1-.1 .7-.6 .9 .5-.3 .2 1.3-.1 2.6 .4-1.2 .6 2.6 .3 .4-1.5 1.2 1.5 .6-.9 .9 .5 .7 .7 2-.2-.2-.3 1.2 .8 .5 1.1 3.1-.5-.2-.9 1.6 .2 .8 .3 .6 .2 2.2 .3-.5 .4-1.6 .6-2.2 .4-2.1 .6-.5 0-2.7 .2 .2 .4 .3 .3-1.5 .3 .7 .8-.2-.1-.8-.1-2.3 .9-1.4 .2 1.6 .7-2.3 .7-.7 .8-.9 .6-.9 1 1.2-.1-1 1.1-1.1 .2 2.4 1 1.7 .7 .7 .3 1.7 .7 3.2-.3 .9 .7 .2 .1 .4 .7 1.1 0-.8-.1-2.8 .7 2.8 .8 2.6-.1-3.3 .1 2.4 .3 2.1 1.1-.7-.1 2.8 .8 .4-.1 2.6 .5-.5-.3 2.2 .1-.4-.7 2 .4 1.5 .7 1.4 0-.2 1.1 .8-.5 2.7-.2-1.1-.6 2.2 .3 1.4-.2 .8 .1-.7 .7 3 .7 .2-.5 .7 1.3 1.2-.9-.3-.4 3.3 .5-.8 .7 2.3-.7 0 .5 1.3 .1 .1 .1 1.6-.6-1.6 1.1-.8-.7-.8 .5 0-.7-1.3 1-.8 .4 .4 0-3.7 1.5 .8 .5-.5-1.4-2.8 .9-3.1 .7 2.1 .9 3.2 .5 1.3 1.4-1.6 0-1.9-.4-.5-.1 .8 .6-3 .7-1.1-.1-.3-.1-.4 1-1.8-.5 .4 .5-1.7-1 .3 1.2-2.4-.4-.1 .3-2.8 .8 2-.3-2.5-.3-1.5 .9 1.9 0-.7-.2 1.3 0 .9 .1 .7 .7 2.2 .1-.9 .2 2.9 .5 .9 .3-.2 .4 2.6-.1-.3-.1 .7 .6 1.4 .2 .2-.4 1.7-.8 1.4 1.4 1.6-1.2 1.1 .9 0-.4 1.1 .5 0 .9 1.2 .4 .7-.3 .6 .9 1.7 .4 1 .2 .3-.5 1.3-.5 .4 1.2 2.4-.8 .2-.2 1.2 .1 .1 1.6 3.7-.8-.6 .4 .2-.3-.2 0 2.6-.3 .1 .5-2.4-.6-.3 1.2-1.6-.4-1.1 0-.2-.5-1.2 .8-1.2 1.1-.8-1.2-1.2 0-1.2-.2-.3 .7-1.4-.6-.5 .3-2 .3 .5-1 .4 1.3-3.7 .2 .9 .1-2.5-1 1.2 .3-2.2-.3-1.1 0-1.5 .4-.5-.7 .1 1.6-3 .9-.4-1-.8 .6 .1-.2 2.8 1.3-.4-.8 .7-.5 .2 1.2 2-.1 .2 .3 1.5 .7 1.5-.2 .6-.5 .9 1 .7 0 1 0 .1 .3 1.4-.6 1.6 .1 1.7 0-.1 1.1 2.1 .4 .7-.6 1.3-.1-1.7-.1 1.7 1.3 1.7-1.1 1.4 1-.4 .3 0 .2-.7-.6-1.1 .6-1.1 0-1.1-.4-.9-.4-.2 1.3-1 .5-1.7 .3-.9-.1-.7 .6-1.8-.7-.6-.2 .3 1.1-1.5 .3-.7-1.3-.8 .1-2.1 1 .1-.8-1.2 1.3-2.2 .3-.4 .1-1.4-.5-.8 .6 .2-.1-1-.4-.2-.2-1.5 .6-2.8-.5 1.5 .1-2.8 .4 0-.8-.8-.1-.8 1.1-1.9 .6-.3-.3-2-.3-1.4 .6 .8-.6-2.4-.1 1.7 1.2 1-1.9 2.1 .1 .2 1.2 1 .8 2.2-.2-2-.4 2.4 .7-1.1-1 2.5 1 1.3 1.1 .6-1.3 1.1 0 1.6 1.2 2.3-.7 0 .1 1.2 .2-.4-.4 1.1 .3 1.9 .3-.4 .2 .7-.9 1.4 .5 2-.5-.1 1.5 .4-.3 1.3 .3 2.5-.7 0 .9 .3 0 3.3 .1-.9-.1 1 .6 1.4-.1 .3 1.1 .7-.9 1.7 1.5 1.3-.3 .4-.5-2.7-.6 1.5 1.5-1.8-.9-2.4 1.2 1.1-1.2-1 .2-2.3-.2 .1 1.1-1 0-2.2-.9 .8 1.3-1.5-.6-.8-.6-1.7 .1-.6 .9-1.2 .9-.8-1.3-1-.9-.9 .3-.3 .2-.2 .6-2.2 .8-.4-.5-2.3 .3 .8-.3-2.5-.8-.5 .9 .1 .6-1.3-.4 .3-.7-2.1 1.5-1.4-.2-.6-.7-1.8 1 .1 .4-2-.2 1.2 .3-3.1-.1 1 .7-1.5 .8-1.1-1.3-1.9 .5 .3 1.2-2.4-.7-1.8-.3 1.2 1-.1-.3-2.4 .6-.8 .2-1.7-.6 .1 1.4-1.5 .4-.6-.8-1.1-.5-.7-.5-.6 1.1-.1 0-2.6 .1 0 .1-1.5-.2-.8-.5-1.2 .7-.8-1.1 .4 1.5-3.1 .3-.6-.2-.4-.2-1.8-.2 .6 0-1.5-.5-2 .9 .5 .2-2.2-.6-.3 .4-1.8 .5-1.9 .8 1-.1 1.7 .7 1.8 .1 2.4 .2 1.3 .1-1.5 .1 3.7 1-3.4 .2 1.8-.5 .6 .8 1.6-.7 1.1-.3 1.1 .9 1.7 1-1.2-1.2 1.7 .6 2.6-.5 0 .4-.1 .5 .5-.4 1.9 .2-.1 .4 2.3 .1 .8 .3 1.3-.1 1.1 0-.1 .5 1.8-.2-.5-.3 1.4 1.8 2.8-.9 0-.4 1.3 .3 .1 .4 2.1 .8 .9 .4-.8 0 1.8-.2 1 .7 1.3-1.1 0 1.1 2.3-.8 .7 .6-.1-.1 1.4 0 1 .1 .9 0 1 .1 .9 0 .9 .1 1 0 .9 .1 1 .1 .9 0 1 .1 .9 0 .9 .1 1 0 .9 .1 1 0 .9 .1 1 0 .9 .1 .9 0 1 .1 .9 0 1 .1 .9 0 1 .1 .9 0 .9 .1 1 0 .9 .1 1 .1 .9 0 1 .1 .9 0 .9 .1 1 0 .9 .1 1 0 .9 .1 1 0 .9 .1 .9 0 1 .1 .9 0 1 .1 .9 0-.9 0-1 .1-.9 0-1 0-.9 0-.9 .1-1 0-.9 0-1 0-.9 .1-1 0-.9 0-.9 0-1 .1-.9 0-1 0-.9 0-1 0-.9 .1-.9 0-1 0-.9 0-1 .1-.9 0-1 0-.9 0-.9 .1-1 0-.9 0-1 0-.9 .1-1 0-.9 0-.9 0-1 .1-.9 0-1 0-.9 0-1 .1-.9 0-.9 0-1 0-.9 .1-1 0-.9 0-.9 0-1 .1-.9 0-1 0-.9 0-1 .1-.9 0-.9 0-1 0-.9 .1-1 0-.9 0-1 0-.9 .1-.9 0-1 0-.9 0-1 0-.9 .1-1-.1 .2 .1-1.5-.1-1.3-.5-2.4 .3 .8 .6-3-1.3 .2 .9-.1 .6-2.2-.9 1.4 .7-3.3 1 .6-.8-1.1-.1-.5 .6-.9 .1-2.1-.9-.9 .3-1-.2-1.6-.4 .7 .7-1.5-.1-1.8-.4-.5 .8-.2-.3-1.8 0-.1 1.3-.7-1.6-3 .9-.4 .1 .3-.2-1.6 .9-1.5-.6-1.2 .7 0-.1 1.3-.5-1.7 1.5 .8-.3 1.1-2.2 2.2 1.6-.9 .1 1.9-.2 .8 .8 1.4-.1-.3-.9 .9 0 1.4-.1 .5 1 2.7-.5 .5 .8 .7-.4 .2 .2 1.4-1.8 1.5 1.4 .2 0 1.5 0 1.1 1 .7-.8 1.2-1.1 2.1 1.4-1.3-.2 3.3 0-1-.2 1.7 .3 .8 .3-.5-.8 1.4 .9 1 .6 1.5-1.2 .3 .5-.4-1-.6 2.1-.8-1.2-1.3 .2-1-.1-1.6 .5 .1-.7-2.1 .5-.2-.6-.3 .6-.8 .2-1.9-.2-.6 .5-2.1-.4 .3 1.2-1.7 .2-.6-1.2-.8-.4-1.6-.3-.4 1.1-.8-.4-1.1 .4-.6 .3-1.3 .5-1.2-.5-.9 .4-.5 0-2.2 1.1 .5-1.7-2.2 1.4-.7-.6-1.4-.2-1 .6-1 0 .8-.3-1.7 .8 .6 1.1 2.4 1.8-.4-1.2-.1 .4 2.6 1.1-.6 .2 2-1.3-.7-.3 2.3 1.3 .7-1.3 1.8 1.3 .6 .6-.4-.5 2.6-.6 .1 .4 .8 1 1.1 0 1.6 .2 .2-1.2 1.2 0 .3 .3 1.9 0 .9 0 1 .1 .9 0 1 0 .9 0 1 0 1 0 .9 0 1 .1 .9 0 1 0 .9 0 1 0 .9 0 1 .1 .9 0 1 0 .9 0 1 0 1 0 .9 0 1 .1 .9 0 1 0 .9 0 1 0 .9 0 1 0 .9 .1 1 0 .9 0 1 0 1 0 .9 0 1 0 .9 .1 1 0 .9 0 1 0 .9 0 1 0 .9 .1 1 0 .9 0 1 0 1 0 .9 0 1 0 .9 .1 1 0 .9 0 1 0 .9 0 1 0 .9 0 1 .1 .9 0 1 0 1 0 .9 0 1 0 .9 .1 1 0 .9 0 1 0 .9 0 1 0 .9 0 1 .1 .9 0 1 0 1 0 .9 0 1 0 .9 0 1 .1 .9 0 1 0 .9 0 1 0 .9 0 1 0 .9 .1 1 0 1 0 .9 0 1 0 .9 0 1 .1 .9 0 1 0 .9 1.1 .9-.1-.5-.5-.3 .3-2.4 .2-.6-.6-1.1 1.2-.8-1.9-2.1 .5-1 1.8 .8-.7-1.2-1-.9 0-.9 .1-1.6 .1 .3-.1-2.4 .6 .9 .2-2.3-.3 .3 .5-1.6-.5-2.3 .6-.9-.9-1.6 .5-.3-.6-.6 .4-1.2 .7 .4-.7-1 .1-1.4 .2-1.9-.3 0 .7-2-.4-1 0 .4-.7-1.3 .4-2.1-.5 .4 1-.4 1.1 0 .2-3.2-.8-.2 .1-1.8-.4 1-1.5-.7 .7-2.2 .1-2.8 .1 1.6 .2-2.1 .7-1.4-.6 .8-.3-1.6 .6-2.2-.2 1.4 .7-2.2 .1-.3 .2-1.3-.8-2.5 .2 .9 1.6-2.3-.6 .4-.2-1.2-.1-1.7 .5-.5-.7 .1-.3-3.6 .8-.3 .4 0 0 .9 .1 1 0 .9 0 1 0 .9 0 .9 .1 1 0 .9 0 1 0 .9 0 1 .1 .9 0 1 0 .9 0 1 .1 .9 0 .9 0 1 0 .9 0 1 .1 .9 0 1 0 .9 0 1 0 .9 .1 1 0 .9 0 1 0 .9 0 .9 .1 1 0 .9 0 1 0 .9 0 1 .1 .9 0 1 0 .9 0 1 0 .9 .1 .9 0 1 0 .9 0 1 .1 .9 0 1 0 .9 0 1 0 .9 .1 1 0 .9 0 .9 0 1 0 .9 .1 1 0 .9 0 1 0 .9 0 1 .1 .9 0 1 0 .9 0 1 0 .9 .1 .9 0 1-.4 .7 .2 1-.6 .5 .3 1.7 .4 .6-1.1 1 1.5 .1-.4 2.6 .4 1-.8 1 1.1 .1-1.5 1.3 .3 .5 0 1.5 .8-.3 .4 2.1-.6 1.6 0 .5 .9 1.6-.5-.2-1.4 .1 1.4 2.3-1.2 .1 .9 2.8-.9-1.5 1.2 2.2-.2 0-1.1 1.8 .5 1.6 1.5-.4-1 3.8 .3-1.2-.1-.2 .3 3-.1 .6 .4 .4 .1-.9 0-.9 0-1 0-.9 .1-1 0-.9 0-1 0-.9 .1-1 0-.9 0-1 .1-.9 0-.9 0-1 0-.9 .1-1 0-.9 0-1 0-.9 .1-1 0-.9 0-1 .1-.9 0-1 0-.9 0-.9 .1-1 0-.9 0-1 .1-.9 0-1 0-.9 0-1 .1-.9 0-1 0-.9 0-.9 .1-1 0-.9 0-1 .1-.9 0-1 0-.9 0-1 .1-.9 0-1 0-.9 0-.9 .1-1 0-.9 0-1 .1-.9 0-1 0-.9 0-1 .1-.9 0-1 0-.9 0-1 .1-.9 0-.9 0-1 .1-.9 0-1 0-.9 0-1 .1-1 .4 1 0 .7-.5 1.8 1.1-.4 .1 1.6 .4 1.4-1.1 .8 .8-.1-.3 2.3 .5 .2 .3 1.3-.2 .9 1 1.2-.5 .1 .2 .7-.5 1.9-.4 .1 1.7 .3-.6 1.5 .6 1.5-1.9-.1 .1-.5 1.3-2.4 0 .2 .6-2.2-.6-1.5-.3-1.4 .6 .6-.5-1 .7-.9 0-.4-.7-2.2 1.2-.6-.7-2 .3-1.6-.1-.3-2-.1 1.6-1.1 1.2-1.7-.7-1.4 .8-.9 .2 0-.2-.5 .3-2.2-.5-.2 .3 .6-.2-1.9 .2-1.8 .4 .9-1.4 1.9 .7 .5 1.3 .7-.1 1.8-.8 1.5-.6 .6 0 .3 1.1 1.2-.2 1.6 .2 .8 .8 .8-.8 .7-.1 1.3 .4 .7 .5 .4-.2 2.3-.2 0 .1 1 0 .9 0 1 0 .9 .1 1 0 .9 0 1 0 .9 .1 1 0 1 0 .9 .1 1 0 .9 0 1 0 .9 .1 1 0 1 0 .9 0 1 .1 .9 0 1 0 .9 0 1 .1 1 0 .9 0 1 0 .9 .1 1 0 .9 0 1 0 .9 .1 1 0 1 0 .9 .1 1 0 .9 0 1 0 .9 .1 1 0 1 0 .9 0 1 .1 .9 0 1 0 .9 0 1 .1 1 0 .9 0 1 0 .9 .1 1 0 .9 0 1 0-1 .1-.9 0-1 0-.9 0-1 0-.9 .1-1 0-.9 0-1 0-.9 0-1 0-1 .1-.9 0-1 0-.9 0-1 0-.9 .1-1 0-.9 0-1 0-.9 0-1 0-.9 .1-1 0-.9 0-1 0-1 0-.9 .1-1 0-.9 0-1 0-.9 0-1 .1-.9 0-1 0-.9 0-1 0-.9 0-1 .1-.9 0-1 0-1 0-.9 0-1 .1-.9 0-1 0-.9 0-1 0-.9 0-1 .1-.9 0-1 0-.9 0-1 0-.9 .1-1 0-1 0-.9 0-1 0-.9 .1-1 0-.9 0-1 0-.9 0-1 0-.9 .1-1 0-.9 0-1 0-1 0-.9 .1-1 0-.9 0-1 0-.9 0-1 0-.9 .1-1 0-.9 0-1 0-.9 0-1 .1-.9 0-1 0-1 0-.9-.5-.5-.2 .1 0 1.6 .2 .5 0 1.3-.3 1.4 .9 .4-.3 .1 .7 2.7-.2-.8 .3 .1 .6 3.2 .8 1 1.1 1-.9 .2 .6 1.2-1.1 .6-.1 1.1 .1 .9 0 1 0 .9 .1 1 0 .9 0 1 .1 1 0 .9 .1 1 0 .9 0 1 .1 .9 0 1 0 .9 .1 1 0 1 0 .9 .1 1 0 .9 0 1 .1 .9 0 1 0 .9 .1 1 0 1 0 .9 .1 1 0 .9 0 1 .1 .9 0 1 0 .9 .1 1 0 1 0 .9 .1 1 0 .9 0 1 .1 .9 0 1 .4 1.3-1.1 .3 .3 1.2 .2 1.9 .9-.6-.3 1.8 .3 .4-.6 1.2-.9 .2 .6 2.2-.7 .6 .8 1.5 1.4 .9-.6 .6 0 .4-.5 1.5 .1 .8-1 2.2 1.4-.4-.7 1.9 .5-.2 .1 1.3-1.4 1.1 .7 1.5 .7 .2 .1 .8 .1 .4 .1 2 .5 .3-.2 1.3 0-1 0-.9 .1-.9 0-1 0-.9 .1-1 0-.9 0-1 0-.9 .1-1 0-.9 0-1 .1-.9 0-1 0-.9 0-1 .1-.9 0-.9 0-1 .1-.9 0-1 0-.9 0-1 .1-.9 0-1 0-.9 .1-1 0-.9 0-1 0-.9 .1-.9 0-1 0-.9 .1-1 0-.9 0-1 0-.9 .1-1 0-.9 0-1 .1-.9 0-1 0-.9 0-.9 .1-1 0-.9 0-1 .1-.9 0-1 0-.9 .1-1 0-.9 0-1 0-.9 .1-1 0-.9 0-1 .1-.9 0-1 0-.9 0-1 .1-.9 0-1 0-.9 0-1 .1-1 0-.9 0-1 .1-.9 0-1 0-.9 0-1 .1-.9 0-1 0-1 .1-.9 0-1 0-.9 0-1 .1-.9 0-1 0-.9 .1-1 0-1 0-.9 0-1 .1-.9 0-1 0-.9 0-1 .1-.9 0-1 0-1 .1-.9 0-1 0-.9 0-1 .1-.9 0-1 0-.9 0-1 .1-.9 0-1 0-.9 .1-1 0-.9 0-1 0-.9 .1-1 0-.9 0-1 0-.9 .1-1 0-.9 0-1 0-.9 .1-1 0-.9 0-1 0-.9 .1-1 0-.9 0-1 0-1 .1-.9 0-1 0-.9 0-1 .1-.9 0-1 0-.9 0-1 .1-.9 0-1 0-.9 0-1 .1-.9 0-1 0-.9 0-1 .1-.9 0-1 0-.9 0-1 .1-.9 0-1 0-.9 .1-1 0-.9 0-1 0-.9 .1-1 0-.9 0-1 0-.9 .1-1 0-.9 0-1 0-.9 1-.3-1.5-.5 1.8 1.8-.1-.5-.8 2.4-.6 .6 .2 1.3 .3 2.4-.4-1.9 .3 2.8-.6-.8 .5 2.8-.1 1.9 .9 .4-.7-.1 1.4 1.5-.6 1.6 0 .3 .2 .2-.5 .5 .9 2.1-.7 .7 0 .3 .9 .3-.3 2.7 .5 0 .1 1.9 .8 1.1-.9-.4-.1 1.6 0-1 0-.9 .1-1 0-1 0-.9 0-1 0-.9 0-1 .1-.9 0-1 0-1 0-.9 0-1 .1-.9 0-1 0-.9 0-1 0-1 0-.9 .1-1 0-.9 0-1 0-.9 0-1 0-1 .1-.9 0-1 0-.9 0-1 0-.9 .1-1 0-1 0-.9 0-1 0-.9 0-1 .1-.9 0-1 0-1 0-.9 0-1 0-.9 .1-1 0-.9 0-1 0-1 0-.9 .1-1 0-.9 0-1 0-.9 0-1 0-1 .1-.9 0-1 0-.9 0-1 0-.9 0-1 .1-1 0-.9 0-1 0-.9 0-1 .1-.9 0-1 0-.9 0-1 .1-.9 0-1 0-.9 0-1 .1-.9 0-1 0-.9 0-1 .1-.9 0-1 0-.9 0-1 .1-.9 0-.9 0-1 0-.9 .1-1 0-.9 0-1 0-.9 .1-1 0-.9 0-1 0-.9 .1-1 0-.9 0-1 0-.9 .1-1 0-.9 0-1 .1-.9 0-.9 0-1 0-.9 .1-1 0-.9 0-1 0-.9 .1-1 0-.9 0-1 0 1 .1 .9 0 1 0 1 0 .9 .1 1 0 .9 0 1 .1 1 0 .9 0 1 0 .9 .1 1 0 1 0 .9 0 1 .1 .9 0 1 0 1 .1 .9 0 1 0 .9 0 1 .1 1 0 .9 0 1 0 .9 .1 1 0 1 0 .9 .1 1 0 .9 0 1 0 1 .1 .9 0 1 0 .9 0 1 .1 1 0 .9 0 1 .7 1.8-.7-1.7 .7-1 .4-1-.5-.1 0-1.5 1.6-1.8-.5-.1-.4-1.6 .2-.6-.4-1.3 .2-.8 .8-2.7-.3 2-.4-2.5 .5-1.2-.2 .6-.6-2.7 .9 .3-.5-.1 .3-2.4-.3-.4 .3-.4 .9 .8-1 1.6-.5-.1 1.3-.2-.7 2.5 0-.6-.3 2.3 .2-.3-.5 1.2 .3 1.9-.7 .8 .8 1.1 1.4 .6-.6 1.5-1.1 1.4 .9-.1-.3 .4 .1 1.5 .3 1.1 .3 1-.6 1.1 0-.2-1 1.6 .8 .3 0 .9 1.2 3.1-.6-1-1.5 1.6 2 1.6 .4 1.4-.3-.6 .6 2.1-.5 .3 .2 .1-.5 1.9 .3 .4 .5 1.2 .5 1.1-.3-.3 .2 2.8 .4-.1 .7 .6 .3 2.6-1.3 .3 .3 .4 .2 1.9-.3-.6 .4 2-.5 .4 1.6 1.9-.8 .2-.5 .7-.3 .9 .4 2.3 1 1.3 .8 .5-.2 .2-.4-.3-1 2.2 1.2 .5 0 1 .1 1.3-1.5 .3 1.7 .3 .3 1.7-.4 2.8 .1-.7 .1 1.4 .4 1-.5 1.1 .4 .6-.9-1 .3-1.4 .9-1.4-1.1 .3 1.1-1 .2 .1-.2-2.2-.4-.7 .9-1.6-.2-.3 .2-1.3 .6 .2-.9-1.8 .3-1.5-.3 .2 1.1-2.7 .4-.5-.3-.7-.9-1.3 1.6-.1-1.3-1.4 .5-1.4 0-1.5 0 .2 .7-.7-.4-1-.6-1.4 .9-1.1-.6 0 .2-2.8-.4 1.5 .9-1.7 .4-3.1-.5 .1-.1-.1 .1-1.7 .7-.6-.7 .3 .7-2 .5-.5 0-1.4-.2-1.8 .1 .1-.3-.8 .4-1.8-.4-1.3-.1-.3 .6-1.7 .3-.1-1.3-.6 0-1.7 .8-1.5 0 .8 .5-1.6-.4-1.1 1.1-1.3-1.3 .2-.2-1 1.5-2-1.4-1.2 1-.4-.6-1.1 .2-1.4-.6 0 1-.4-.4-2 .4-2.1-.2 .4 1 2.6 0-2 .4 1.5-.4 1.7 .9 1.3-.1-.4-1 1.2 .3 1.5-.2 .7 .8 .7 .9 1-.1 1.4 0 .7-.2 .2 .1 .3 .4 2-.5 .7 .6 1.9-.5-.3 1.5 1.9-1-1.6-.1-.8-.1-1.3 .3-.3-.6 .1 1.1-1.8 .1-1.5 .3-.8-.2-1-.8-1.7 .6 .1-2.1-.3 2.4-2.4-.6 .7-.8-1.8 1.6-.6 .1 0-1-1.2 .4-.7-.6-1.8 .4-2.4 .5-1-1.9-.8 .7-.9 .2-1 .6 .7 0-1.8 .6-.6-.9 .6 .1-.1-.3 2.3 .9 .7-1.3 1.4 .7-.2-.3 .7-.4 1.6 .3 1.7 1.4-.1-1.1 2.7 .5 .8-.6 .7 .5 .5 .6 2.8-.5-1.4-.8 2.8 .4 .1-.1 1 1.6 .9-.2 .8 .3 .6-1 2.1 .4 1.4 1.4-1.1 0 2.3-.6-1.7 0 .1-.3-3.5 1.2-.1-.7-.1 .1 .2 .1-2.6 .9-.9-.1 .3-1-1.4 .7-.2-1-2.9 1.1-.6 .4 .5-1.4-1.9 .9-.9-.1-1 2-.9-1.4-.1 0-2.5 .2-1.7 1-.4 .5-2.1-.5-.5 0-.5-.1-.9 .1-.8-.6 2.7 .6-1.5 .3 1.7-.1 .7-.3 2.2 .3-.1-.7 .9-.5 2.1 1 .4-.6 1.3 .1 0 0 1.8 .3-.1 .2 1.9 .1 .7-.6 .1 .3 1.6 1 .4 .2 1-.5 1.4 .5 1.5-.5 .1-.7 .8 1.8 2.2-1.2-.1-.6 .2 .7 1.8-.2 1 1 1.5-.9 1.6-.4 .3 .9-.6-.2 .5 .1 .4-.1 1.7 .2 .6 .1 1.2-.6 2 .7 1.5-.3-2 .3-.3 .1-1.5-.4-1-.1-.5 .5-1.6 .2 .7-.4-2.1 .9 .6-.7-2.3 .3-.5-.4-1.4 1.6-1.5-2.2 .1 .5-.9 .3-.5-.2-1.6 1.1-1.9 1 .1-.1-1.4-.6-2.3-.5 .2-.3 1.3 0-2.9-.5 0 .4-1.7 1-1.9-1.3-1.1 1.8 .5-1.2-1.3 .5-.4 .1-1-.2 .5 .5 1.1 .8 .9-1.5 1.8 .6-.5-.5 .2-.9 1.9 1.2 2 .7 1.2-1-.4 .5 2.4-.4-1.2 .6 2.5-.2-.2 0 2.6 .1 0 .7 .6 .4 .6-.1 1.1-.2 1.1-.1 1.2-.2 .6 .7 2.3-.4 1.1 .4 .5-.6 .3 1.2 1.5-.7 1.3 .2 .3 0 1.8 0-1.2-.3 2.9-.1 .1-.2 1.7 1.4 1 .2 .2 0 1.3 .7 .9 .7 0-.1 1.2 0 .5 0 2.4 0-.7 1 2.5-.5 .2-.2 .9 .4 1.7 .7 1.4-.5-1.3 1 2.3 .8-.2-1.1 2 .2 1.6 .7 1.1-.8 1.1 .8 1.4 0-.4 .1 1.5-.2 .7-.4 2.1 1.8 .5 .5 .8-1.5 0 .8 .9-.9 .3 .1-1.4 .8-.5 1.1-2.1 .3 .6-1-2.8 1.2 .6 .6-1.7-.6-.3-.1-.8 .7-1.8 .2-1.9-.1 .3 .7-1.2-.8 .3 0-2.7 .4-1 .6-.6-.5 .2-.1-2.1-.3 .1 .7-2 .1 1.3-.2 .9 .3 .6-.9 2.5 2.3-1.1-.6 1.4 .1 1.1-.2 2.3 .4 .3-.3-.3 .3 2.7-.7 .2 .1 .3 .1 .3 .4 2.6 .6-.6-1.1 2.2-.1 .1 1.2 .6-.5 1.5-.1 1-.6 .2 .5 2-.4 1.2 .7 1.6-.3-.7-.3 1.2 0 .5 .9 2.9 .1-.9 .6 1.7 .2 .8-.1 1.8 0-.3 .8 2 .1 .4 .6 1.7-1.1 .7 1.4 .1-.7 1 .2 2 .4 .8-1.6 .1 1.6 .3 .3 1.1 .1 .9-.1 .8 .7 1.5-.8-1.7 1.5-.5-1.8 .5-.1-1.5 1.1-2.4 .2 .6-.7-1.6 .7-.6 .6-1.9-1.3 1.1 .8-1.8-.1-2.1 .9-.5-.1-.3-1-1.4 1.4 0-.6-2 .6-.5 .2-.7-.4-1.8-.2-.9-.5-1.3 .6-.3 .2 .1 .3-1.6 .5-1.8-.3-.4 .6 .7 .5-2.7-.5 0 1.7-.7-.1-1.1-.8-1.5 .1 .3 .7-2.8-.4-.2 .8-.8-1.5-.2 0-1.4 1.2-3.9 .3 2.9 .4-4.9 0 3.7 .2-5.3 .6 2.2 .1 .2 .3 0 .9-4.8-.6 .2 1.2-.7-.5-.1-.2-1.9 1-1.1 .4 .4-.5-1.9-.1-1.6 .2-.7 1.4 .3-.4 0-.2-3.4-.4 2.5 .7 1-.3 .9 .7 .7 .7-.3-.8 1.5-.1 .4-.4 1.9 1.2 1-.7 .4-.7 2-.5-.2 1.1 2.2 0 1.1 1.2 .1-.3 .1 .3 2.4-1.1 .6 .8 .7 .7 .6-.7 .7-.6 1.4 0-.3 .4 1.6 .1 1.7-.5 2.4 1-.1-.2-.3 .5 1.1-1.2 .4 1 2.6 1.5 .1-.6 1.7-.9 1.1 .4 .2 .1 .8 0 1.2 .4 .5-.4 1.2 .5 2.3-.5 .7 .2 .5 .2 .4 0 .3-.2 .9-.5 2.3-.1 .6 .8 .2 .7 1.6-.1 .3-1 .7 .7 1.4-.2 1.9 .7-.6-.1 1.2 0 1.5 .7 2.4-.5 .9 .1 .2-.7 .2-.5 .3 .3 2 .7 1.3-.3-.8 1.4 2.5-1.4 .6 .2 2.2-.3 .1 1.6 0-.8 1-.2 1.6 .7-.4-.8 3 1.1 .1-.6 .9-.5 0 1.4 1.5-1.1 1.1 1.5 2-1 .2-.3 .3 .2 1.7-.2-.4 .4 2.2 1 1-1.5 .2 .1 1.2-.2 1.2 .1 .6 .9 1.9-.3 .3 .7 1.7-.9-.2 1.5 .9-.4 2-.4 .5-.6 .3 .8 .3 .2 1.9-.5 .2 1.3 .4 .6-1.6 .6-1.7-.4 .3-.5-1.2 .5-.4 1.9-1.7-1.4-.7 .4-1.7-.1-1.5 .2 3.5 .1-1.1 .4 2.1 .4 .6-.1 0-.1 2.5-.5-.4 .6 2.1 .2 1.6 0-1.1 .6 2.4-.5 .7 .5 1.2-1 1.9 .7 0-.3 0 .5 1.1-.1 1.7-.6 .2 .7 0-.1-1.1-.1-.2 .3-1-.9-1.6 1.5-1.3-1.2-1.3 1.4 .4-.7-1.7 .4-.4 .2-.7 .1-2.2 .3-.4-.1-1.1 .3 0-1.3-2 1.3 0 .1-2.1 .2 .2 1.1-.7 .1-1.9 .9-2.2-.6 .8 .3-1.8-1 .4 1.3-1.1-.1-2.1 .7 1.9-.3-1.4 .6 2.6 .9 1.2 0 .2-1.2 1.3 .2 .3 .9 2.7-.1-.5 .2 1.2-.2 1.7 .3 1.3-1.2 2.2 .6-1.8-.4 2.4 .7 1.1-.2 .4-.1 1.4 1.6 .3-1.1 2.3 .7-.6 .2 2.1-.6-.6-1 1.5 .5 .7 2 2-.9 1.2 .8-.1-.6 .5 .8 2.7 .6-.4-.1 1.5-.2 .7-.1 1 0-.9 .5-1.6-.5-1.6-.4-.3 1.2 .2-.8-2.1-.4-.3-.2-1.4 1.1 .3 0-1.3 .7-.8 .4-1.9 .2-.8-.4-.3-.5-.7 .5-.9 .9-1.1 .7 2.8 .1 1 .2 1.1 .3-1.1 .3 .6 .8 1.1 .3 1.3-.3-.9 .7-.5 .9-1 .2-3.3 .3-.1-.8-2.7 1.2 2 .2-.9 .5-.3-.3-.5 .1-2.4 1.7-.7-.6-.4-.2 .1 2-1.2-.1-1 .3 .2-1.4-2.6 1 .3-.2 2.9 1.3-.1-.6 .8 .5 1.9 .4 .8-1.3 .2 1.3 .9 0 2.5-.2-.5 .4 2.7 0-.7 .6 .6 .6 .8-.8 2.6 0 .2 .7 .2 .7-1.2-.5-.8-.1-.9 .3-1.3 0-.7-.4 .3 .1-.4 .1-2.9-.8-.1 .8-1.6 .8 .5 .2-2-.3-1.3 .7-.6-.9-1.1 .3 .9 .7-.7 .2-.4 .3-3.2 .8 .5 .2-2.8 .5-2.9-.5-1.1 .9-1.1 .7 .6-.2-1.2 .6 1.6 .3-2.1 .3-.1 .8 .1 .7-1-.6 1.1 .4-2.4 .8 .1 .3-3.8 1 1.9 .1-.9-.3-.5 .6 .9 .6-4.5 .8 .2 .3 1.7-1 1.2-.1 .3 .3 .9 .7 1.2 .2 1.3-.2 1-.1 .7-.2-.5 1.9 2.6-.4 .8-.1-.2-.1 2.7 .8 .8 .6 1.1-.1 1.1-.3-.5 .4 2.1-1 .6 1 2.3 .1-1.1 .6 2.3-.7 2.1 .9-2 .5-5.8-.1 .1 .5-1 .4-2.4-.1-1.2 .6-.1 .6 0 .5 5 1.1-.5 .8 1.4 .7 .3-.2 .6 1-.1-.1 2.1 .9 .2-1 1.2 .9 1-1 1.4 2.3 1.3 .1 1.3-.1-.7-.6 2 1.6 1.3-.8-.4-.3 3.2 .9-1 .6 1 .6 1.3-.3 .4-.5 1.4-.1-.6 .8 2.5-.6 .7 1.1-.4 .4 1.9-.4 1.9-.6 0 .4 .4-.2 1 .3 .5 .1 1.6-.4-1.2 .4-.1 .3-.9 .2-1.2 .1-.5 .2-1.5-.3 .3 .1-1.4 .7-.9 .2-1.7 .4-2 .1 1.5 .1-2.2-.2-1 .4-.4 .4-1.1-1.7-1.6 .6 .1 .9-.5 .8-5.2 .3 5-.2-.3 .9 1.8 .8 1 .8 .1 .2 .5 .1 1 0 1 0 .9 .1 1 0 .9 0 1 .1 .9 0 1 0 1 0 .9 .1 1 0 .9 0 1 .1 .9 0 1 0 .9 .1 1 0 1 0 .9 0 1 .1 .9 0 1 0 .9 .1 1 0 1 0 .9 .1 1 0 .9 0 1 .1 .9 0 1 0 1 0 .9 .1 1 0 .9 0 1 .1 .9 0 1 0 .9 .1 1 0 1 0 .9 0 1 .1 .9 0 1 0 .9 .1 1 0 1 0 .9 .1 1 0 .9 0 1-.6 .6 .4-1.5 .2-.4-.2-.1 1-2.7-.2 .7 .2 .1 .7-1.5 0-1.3-.5-1.5 .4-.8 .5 .1-1.7-.4 1.5-4.1 .6-1.7 .6 .9 1.5 4.7 1.5-2.3-.3 1.6 .2 2 .7-.7-.7 .7 .2 .7 .6 2.2-.4 1.7 .7 0 0 1.3 .8 1.2 .1 .7-.8 .6 .6 1.9 .3 1-.6 .7 .1 .1-.8 2.6 .8-.3-.4-.5 .6 2.3-.9 .8 .2 2.2 .5 1.6 .4-.1 .1-1-.4-2.3-.1 .3 .6-1.9-.3-.7-.9-.3-.3-1.1 1.3-.4-.1-1.4-.2-1.2 .2 .5-.1-2.3 1.4-1.4-.7-.1-.1-.3 .9-1-.5-2.5 .3-1.3 .5-1.1-.6 .1 .4-1.3-.2 .2 .3-1.7-.2 0 0-1.7-.3-.5 .2-2.9 .7-.6 .1-.2 .4 .1-1.1-1.3 1.2-1.8-.8-.2-1.2-1.3 .8-1.2 .8 .5 .3-2.7-1.3 .5 1.9-2.9-.8 .2 .7-2-.6-.6 .3 .1 .1-.7 .1-1.7-.4-1.6 .4 .2-.5-.5-.1-1.5-.1-.4-.3-2.2 .5 0 .5-2.8 .3 .2 0 .6-.3 1.3 0 1.3 .5 1-.4 .8-.1 .4-.3 1.4 .1 1.6-.1-.1 .4 2-.4-.1 .7 1.2-.5 1.8 .3-.8 1.2 1.2-.4 1.3 0 1.4-.7 2.2 1.3-.6-.9 1.4 1.6 1.8-.8 0 .6 .5 .3 1.1 1 .5-1.4 .8 .6 2.3 .2 .4 1.1 .6-.3 1-.6 .9 .2 .8-.2 .9 .3 1.2-.1 .4 .1 1.3 .5 .4 1 2.1-.4 .8-.7 1.3 .5 .2 .2 1.1-.2-.7 .2-.4 .9-1.9-1.7-1.6 1.1-1.4 1.1 1 .3-2.5-.2-1-.4-.2 .2-1.8 .3-.2 .2-1.6-.9 .1 1-.4 .3-1.6 .5-.9-.8-.6-.1-2.4-.2-.7 .5 .4 0-.4-.3-1.7-.8-1.2 1.5-.4-.4-1.8 1.6-.7-1.4-.1-.2-1.1 1.3-2.2 .3-1.6 .2-1 .7 .9-.5-.8 1.6-.8-.4-1.5-.2-.2 .4-2 .1-.4 .8-1.5 .5 .6-.2-.5 1.1-2.2 .5-1.9-.6 1.2 0-3 .1-.6 .1-.8-.2-.3 1.2-.8-1.2-1.6 2.1-.3-.2 .1 0-1.7 .8-2-.3 .6-.1-1.2 0 .1 .4-1 1-1.6 .8-1.4 1.4 .5 .5-.4 .5 .6-1.1-2.5-.2-.9 .4-1.3 .2-1.9-.3-.8 .6 1.2 .6-3-.9-.8 1.4 .6-.3-1.9-.2 .8 .7-2.8-.2-1.6 .1-.4 .5 1.6-1-.6 1.6 1-.5 2.4 .4 0-.1 1.5 .1 .7 .8 1.5-.1 1.1 .8 1.3-.8 1.6 2 .2-.2 .2 .3 2.6-1.7-2.1 1.9 3-.9 1.4 .2-1.1 .9-2.3 .1 4.8 .5-4.5 1.4-3.2-1.6 1.5 .3 1.7 1.9-.8-1.4 1.9 .3 1 .3 1.2 .9 1.4-1 0 1.1 2-.9 1 .2 .2 .3 3.1 .9-1.6-.1 .9-.8 1.5-.6 1.6 1.7 1.1-.4 .4-1.1 .3 1 1.8 .5 .7-.3 .5 .3 1.2 .6 .8 .4 .2-1.8 1.9 1.4 .6-.8 .4 1.1 2.4 .5 .4-1.7-.1 .9 3.4 .3-.5 .9 2.8 .1-1.7-.9 1.5 1.3 1.9-.3-2.2-.3-.1 .1-1.9-.8 .8-.1-1.4 1.5-1.6-.1-1.5 .3-.8-.1-.5 .8-1.6 .2-1.3-.3-.5 .1-1.2 .5-1.3-.7-.8 .5-.2 1.2-4.5 .4 1 .7-4.2-.1 1.5 .5 .1 .5-2.4 .2 2.2 1.1 .2 .9 0 1.1 1.2 .4 3.2-.2-1.9 .7 .4 .5-.8 .7-3.3 0-2.7 .4 .7 .2-.7-.3-1.3-.4-.8 1.2-.8 .2-.3 .5-.3-.3-.7-.9-1.6 1.5-1-.4-1 .2-.6 .7-2 0-1.1 0 .7 1.3 .7 .1 .5 .5 .2 .4 2.2-.1 .9 1-.6 .1 1.6 .7-.2 .4 1.2-.7 1.9 .9-2.3-.2 .8 0-.1 0-2.9 .9-.8-.3-.3 .4-.9 .6-2.2 .9 .5 .4 2.3 .1 .1-.4 .8-.6-1 .9 3.2-1.1-.6 .8 2.1-.3 1-.7 .8 1.7 .6-.4-.2 .1 2.6 .2-.7 .3 2.3-.3 1.8 1.1-.4 1 .8-.8 1.7-.2 .5 2.1 .4-1.4-.8-.4-.9 1.5-1.2-1.1 0 1.1-2 .6 1.1-.6-2.6 1.3-.9 0-1 .4-1.9 .8 .9-.5 0 0-3 .4-1.6 0-.7 .5 2.4 .5-3.1 .3 .4 .6-1.8 .2-2.9 .2-.8 .6 2.4 .3-1.7 0 .5 1-.3 .8-2.4-.4-3.8 .6 1.8 .4-1.5 .1-1.2 .6-1.6 .2 .7 .6 .9 .8 2.2 .5 1 .4-1.2 .7 2.2 1-2.3 0-.6 1-.5 .2-1.3-.6-.3-.2-.5 .5-1.6-.3-1.1 .8-1.7-.2 .6 1.1-2-.5-2 1.1 .2 .4-.4 .3 2.1 .3 5.9 .1-1 1-1.4 .5 2.1 .5 .8-.4-.2 1.6 1.5-.1-.7 .1-.8 .4-2.3-.9 .4 .6-.7 .5-1.6 .9-1.7-.6 .5 .7-1.4-.8-1.6 .8-.8-.1-1.7-.4 1.3 .8-3.4 .4 .7-.3-1.7 .6-1.9-1.1 0-.1-.5 .9-2.7 0 1.7 .5-2.4 .3 .4 .8 2.6 .2-.8 0-.5 0 4.8 .8-.9 .8 2 .3 .9-.5 .2 .7-.5 .3 2.3-.4 1.2 2 .4 .8 2.8-.5-1-.3 2.6 .3-2.9-.3-1.4 1.2-.7 0-1.1 .1 .4 .1-.9 .6-1.3 .1-.1 .4-2-.5-2.6 1.6 .4-1.4-.5 1.2-2-.1 .2-.4-1.6-.2-1.9 .1-.6 1.4-.7 0-.6 1.4-.8-1.2-1.2-.2 0 .2 2.4 .2 .3-.4 .4 1.1 2-.8 .6 1.5 .7-.3 1.7-.2 .5 .1 1.1-.4-.5 1.2 1.4 .3 2.8 .6-.1 .2 2-.3 0 1.2 .1-.4 1 .9 1.7-.9 .5 .5 1.8-.1-.8 .6-2.3 .9-.1-.1-.5 0-2-.3-1.3-.4-.2 .5-.6-.1 .7 1.2-2.2-.2-2.1-.1 .5 .9-1.5 .4 .6 .9 1.9-.3-.2 .3 1.3 .5 2-.2-.9-.5 1.2 .8 2.1-.1 1.4-.7 .2 2 1.3-.7 .6 .5-.9 .4-.3 .4-1.6-.5-.5 1.2-.4-.1-.5-.2-3.7 .9 .8-1.1-.6 .8-.9 .7 0 .2-2.9 0 .2-1-2.7 .5 .8 .5-1.9 .5 2.7-.2-1.5 .4 2.2 .4-3 .5 2.6 .1 1.8 0-1.1 .1 3.6-.1 .2 .9-1.8 .4-.4-.5-1 .1-1.9 1.1-1.3 0-.6 0-.6 .6-.7-.3-.6 1.2-1.5 0-1.6-.2-.2 .8-3 .8 2.4 .6-2.3 .5 1.1-.3-1.4 .5-1 1 1.2-.3-2.1 .5 .4 .2 1 .8 1.3 .2 .3 .5 1.4-.1 .4-.7 .7 .2 1.4-.2 .9 1.6 1.4-.9 .3 1.3 1.9-.6 .5 .4 1-1 .3 .8 2.2 .5 1.1 .7-1.4 .3-1.6-.2 0 .9-.7-.3-1 .7 0-.7-3.4 .8 1.5 .3-2.3-.2-.4 1.2-.9-.4-2.4 .4-2.6 .2 1.9 .1-.3 .7-1 .1 .5 .8-2.6-.3 2.9 .6-2.8 .4-.5 .7-3.9 .4-.7 .6-.8 .6 0-.9 .8 .6 .5 .4 1.3-.3 1.6 .5 .6 .6 0-.3 1.3 .2 .5-.2-.4-.2 3.6 .6 .2 1.1 .5-.4 .5 .7 .7 0 .6 .7 0 .7 0 .4 .7 .8-3.8-.3-1.7 1.4 2.9 .2-5.1 .2-1.2 .7-.8 .3 1.3 .7 2.5 .3-2.8 .2 .1 .9-2.8 .2-1.3 1-2.2 .2 .9 1-.8 .2 1.3 1.6 .4 .4-3 1.1 .7 .3 .3 .6-.6-.7 .4 .4 0 1.4 1.1-1.4 2 .8-.7 1.2 2.8-1.5-.4 .7 1.8-.6 1.2-.6 .6 1.4 1 1 1-1 0 .4 .1-.4 1.6 1.1 .3 .2-2-.8 .4 .3-2.6 1.4-1.4 0-.6 .4-.2 .3-.4-.5-2.1 0 .4 .7-1.9-.3-.2 1-.6-.2-3.9 1 1.4-.3-2 1 .5 .9-1.1 .1 .8-.3 1.9 .3 .3 .9 .8 .4 1.1-.1 .3 .5-.1-.2 1.7 0 2.3-.7-.5 .5 .6 .4 1.8 .5 1.1-1.4 1.5 1.6 .6-.5-.2 .6 1.7 0 1.2-.1-.2 .6 1.5-.7 1.6 .5 .8 .4 .4-.7-.6-.4-.4 1.9-1.7-.8-1.2-.6 0 1.1-1.1 .5-1.4-1.1-1.6 1.1-1.3-.7 0-.2-.2 .7-2.7 .9 .8-1-.9 1.1-2.5-1.4 .4 .8-.6 .2-1.3-.2-3.2-.4 .6 .8-1 .4-.3-.7-2.1 .2 3 1.4-5.1 .6 1.4 .4-.8 1.8-.2-.7 0 .2-.6 .3 2.7 .4 .5 .3 1.2 .1-.1-.2 .6-.7 1.7 .6 1.7 .5 1 1.2 .2-.1 1.6 .8-1.6-.3-.8 1.6-1.8-1.3-.4 .1 .1 .7-.2-.2-2.7 .8-.9 0 .1 .4-1.8 .3-.8-1-.9-.8-1.4 .7-.5-.7-1.1 2.4 .1-1-3.2 0 2 .3 .7-.3 3-.5-2 .1 3.8 .5-2.1 .6 3.1 .5 1-.9 1.1 .2 .3 0 1.2 .2-.2-1.4 2 .2 .9 .7 1.8-.2-.4 .8 .6-.5 1.8 .8 .2 0 1.3-.6 1.1 .6 .7 .8-.8 .4 .6 1.3 1 .4-.6 .2-1.1 .2-.3 .2-1.8-.2-1.8 .3 .1-.1-1.8 .6 .9 .8-2-1.5-.6 .8-1.1 .6-1-.1-.6 .6-.2-.2-1.1 1-.6 .9-2.8 .3 3.7 1.6-3.1 .2-.6 .9 1.1-.2 .4 1.5 2.9-.3 0 .6-.7 .4-2.2 1.7 1.1 .3-1.8 .8 2 1.1-1.6 1 2.4 1 1.8 .6 1.2 .3-3.2 .6-2.2 .6-.2 .8-2.4 .2 2.1 0 .3 0 1.3-.6 1.6 2.1 1.3-.9 1.1 .2 .8 .9-.3 .7 1.7 .3 1.5-1.1 .4 .6 .8 1.1-2.2 0 .5-.6-.5 1.6-1.8 .3 .1-1.4-.8 .5-1.9 .6-.8-.5-.6 1-1-.5-.6 .8-1.6 .2-1.9-.4 .1 .4 2.5 .7 2 .7-.3 .3-.2 1.4-.8-.4 1.8 .3 1.1 .8 .8 .3 .3 0 2.4-.8-.2-.9 .9 .3 1.5 .5 .5 .9 1.8 0-.2-.8 1.2 .5 1-.4 1.6-.9 1.8 .6 .8 .1 0-.3 .5 .6 .6 .1 1 .3 3-.4 .3 0-.5 0 2-.4 1.1 .6-.5-.4 1.8-.1 .6 .5 3.8 .3-1.2-.3 .3 1 1.1-.3 .3-.3 2.1-.2 1.4 .5 1-1.1-2.6 .9 0 .2 .6 .2-1.4 .2-1 1.1-1-.4-.8 .8-2.3 .9 1 .3 3-.1-.6 .4 .6 .6 1.8 0-2.9 .8 3.7-.5-.8-.5-.9 1.1-1.1-.1-1.2-.6-.9 1.2 .4-.3-1.9 .3-1.8-1.1-.8 .7-.3-.7-.6-.3-.9-.2-.5 .9-1.2 0-.1 1.1-3.1-.3 .3-.4-2-.5-.7 1 0-.6-1.6 .9 .9 .7-2 0-2.3 1-.3 .4-1.7 .2-.2 .2-1.3-.5-.1-.1-1 1.6-3.3 .8-3 .3 2.8 1.5 1.4-1 .2 .8 .9 1 2.5 .5-.3-1.4 .7 1.8 .8-.3 1.7 .6 .6 .2 1.3 .2-.9 1.5 .7 .3-3.3 .5 2.2 1.1 .4 .2 .5 .8 1.7-1.4 .1-1.5 1.7 2.2 0 .1 2-.8 .3-.3 2.5-.4-.1 .6 1.4 .7 0-.8 1.9 .2 .7 .9-.1-.3 1.9 1 1.3-1.7 .4 1.4 .9 .9-.2-.5 2.4 .1 .9-.1 0 0 2.5 .4 .5 .1 .5-.5 1 .5 1.5-.8 1.3 .3 1.3-.4-.6 .9 1.8-.4 .9 1.2-.4-.4 2.8-.1 1.4 .9 .1 .4 1.9-.8-.4-.6 2.3 .1-.5 .8 1.1 .2 .1 .4 2.5-.3-.6 1.3 .6-.6 1.7-.4 1.7 .2 .8 .1 1.4-.3-1.2-.6 3 .4-1 .5 0 .7-1.9 0-.9 0-1.7-.9-.4 1.2 0 .3-2.3 .5-.2-.8-1.2 .3-1.1 .3-.9-.7-.5 .8-.4 .4-1.7-.3-1.4 .3 .1 .8-.6-.3-1.1-.2-1.4 .1-.7-.3-.6 1.2-1.9-.2-.6 1.2-.5 .1-1.2 .1 0 .5-1.3-.5-2.1-.7-.8 .9-1.3-1.1 .5 1.1-1.9 .5-1.5 .6-.5-.7-.9 .2-.6 .9-1.1-.7-.4 1.1 .6-.3-1.3 .3 .3 .3-.1 .8 2.6 0-.4 .3-2.4 .1-4.6 .8-3.1 .5-.7 1-1.4 .1-.8 .2-.2 1.1-1.3-.6-.2 .2-2.1-.6-.8 0-1.3-.3-.7-1.3 0 1.8-2.5-.2 1.1-.9 2.1 1.2 .7-.4-.1-.2 2 1.8 .6-.1 1.8-1.4 1.4 .3-1.3 1.8 1.8 1.4 2.2 0 .8-.7-1.6-1.2-1.6 1.1-.2 .6-1.2 1-.7-.8-.6 .6 .2 .4-3.8-.6 .1 1.1-1.2-1.6-2.5 .7-.1 1 3.3-.2 .1 .1 .4-.2 .8-.3 1.4 1.3 1.8 .1-.7-.3 2.2 .6-.2 0 1.2-.4 1.7 .2 .2 1.3 1.6-.2 0-.1 1.8 .4 .2 .8 1.9-1.2 .7 .7 .7 1.2 1.6-.8 .4 .8 1.5-.5-.2 .2 2.9-.4-.2 .9 .9-.9-1.1 .2 2.3-.6 0 .1 1.2 .8-2.3 0 .3-.3-1.7 .2 .4 .3-1.4 .7-1.6-.8-1.4-1-.2 1.7-2-.4 .3-.8-1.7 .3-1 .9-.4 .6-1.4-2.1-.3 2.1-.8-1-1.5 1-2 0-.5-.1 1.1 0-2.6-.5-1.7-.2 0-.4-1.6 .6-1.6 .9-1.8 .4 2.2 .9-1.1 .4-.2 1-1.4 .3 .4 .1-1.6 .5-3.9 .5 1.4 .8-.7 .3-2.5 .1 2 .1 2.4 .5-1.7 .2-.2 .1-.8 .5 1.9 .6 2.8 .2 1.5 .2-.2 2.2-3.2-.4 .9 .2 2.4-2 .7 .2 .3 .9 1.3-.3-.2 1.7 .8-.4 1.3-.6 1.2 0 1.3-.2 .3 1.1 1.1-.9 2.7 0-.8 1.2 1.4 .3 1.1-1.9 1.1 1.8 1.4-.7-.1 .4 1.5 .7 .9-.8-1.3 .7 4.1 .2-.9-.5 .9 0 .6 .8 1.5-.3 1.5-.2 1.4-.7 .5 1.3-.4-.4 1.5 .2 1.5-1 1.6 1.4 .4-.3 1.1-.2 1.4 0-.4 .1 2-.3 1.8 1-.2 .5 .7-.8 1.8-1.3 2.9 .8-.4 .7-3.7 .8-5.1 1.1 3.6 .2 1.5 1.4 2.1 .7-.8-.3-1.5 .8-1.6-1.3-1.1 .4-.3-.9-1.3 .7 0 .2-.9-.6-1.9 .9-.7 .9-1.3-.2-.2-.3-1.2 .5-1.5-.5-.3-.3-.7 .1-2.2 1.1 .7-1.3-1.4-.1-.6 .6-2.9 0-.8 .3 .1-.1-1-.7-.3 .7-1.9-.9-2.4 .7 1 .7-.9 0-2.2 .8 .8-.8-1.3 .9-.6-.1-2-.9-.9-.4-.6 1-1.3 .8 .8 0-2.3 0-.2 .8-1.4 .1-.8-.8-1-.3-.9 .9-.9 0-1.7-1.3 .1-.3-2.7 1.8-1.4 .1-2.1 1.2 4.5 .7 1.7 1.6-1.7-.5 .6 0 1.4 1 .8-1.1-.1 .6 1.8 .3 .8 .1 .4-.4 1.4 1.2 .7 .2 .5-.2 1.3-.5 .3 1.3 .8 .8-1.2-.3 .7 1-3 .1-.9-.4-1.1 .2 .6 .3-1.2 .3 .7 0-2.9 1.4-1.3-1.2-.8 .7 .5 .3-2.2-.6-.3 .6-1 .3-1.6 .3 .7-.5-1 1.2-2.8-.7 1.2 .6-3 1.1 .6-.6-2-.3 2.9 .3-.7 .6 1.5-.5-.7-.4 1.9 .9 1.4 1.2 1.4-.2 1.2 .5 .8-.4-1.3-.7 1.2-.1 1.9 1.6 1.4-.8 .9 1 1.6 .8-.3 .2 .3 .2 .9 .7-.4 .3 3.2 .3-.8 .6-2-1.8 4.8 2.5 1.8 .2-.4-.2 2.7-.1 .3 1.6 1.1-.8 1.1 .3 .3 .7 .8 .4 1.4 .3-.9 .4 5.8 .8 1.1 .8 1.6 .3-3.3 .6 .6 .4-3.1 1.1-.1 .2-3.3 .7-1 .7-.4 .1-1.4-.9-.5 1.4-1.7 .5-.4-.4-.7 .1-1.2-.1 .5 .4-1.2 1.2-1.4-.6-1-.5-.6 .8-1.2 0-1.9 .7-1.7 .5 1.3 1 .3 0-.3 .7 .5 .3 .6 .2-1.4 .7-.1 0 1.8 .7 1.6 .4-.7 .2 1 .5 1.1-.3 .4 1-.2-.1 3.6 .6-.9-.7 1.3-.1 1.5-.3 .9 1.6 1.1 .1 0-.3 2.2 2 .5 .3 1.4-.4 1.1 1.5-.3-1.6 1.6 1-.2 .3-1.5-.6-.7 0-.8 1.2-1.4-.2-1.1-.7 1 1.4-2.5-.5-.7-.1-2.1-.1 0 .1-1.4 0-1.1 .8-1.2-.9-.3 .1-.1 .3-.3-1.1-1.4-.4-1.1 1.6-1.6 .1-1.6-.1 .4 1.3-2.1-.3-.3 .8 .2-.1-.9 .5-2.3 .1-2.2 .2 1.5-.4-2.4 1.2-2.1-.6 .4 .9 .1 .8-1.4 .4-1.4 .9 1.2 .5 1-.6 .6-.8 2.1 1.8 .9-.2 .8-.3-.8 .5 3 .2 1 1 .5 .7 1 .1-2.1 .1-.2-.3-2.1-.1-.1-.5 .1 .9-1.6 .8-.6-.4-.2 1.3-2.4-2.6-.9 .8-.1-.9-1.3 .7-1-.7-.3 1.3 .4 .5-2.7-1.8-1.2 0-1.7 .1 1.4 .7-2.6 1.5-3.8 .1 .3 .7-.2 .1 1.2 1.6 4.6-.3 1.7 .4 .1 .6 0 .1 3.8 .4-1.8 .3 3.4-.1-2.1 .5 1.5 .5 2.1 0-.1-.3 2.4 1.2-.2 .6 .6-1.3 1 .9 1.8-.8 0 1.3-1.5 .7 3.3-.4 1.9 .6-.3 .5 1.8-.5-.2-.7 2.6 .8-1-.6 2.6 0 .2 .4 1.1 .8 1.7-.2-.6-.4 1.9 1.2 .5-1.3 0 .4 3.3 .3-.3-.2-.1 0 2.7 .5-.1 .9 1.1-.5 .7-1 1 .2 2.4-.4-.6 1 1.5-.8 .7 1.7 .2-1.6 2.1 .7 .1 .5-.3-.8 .5 1.4-1.8-.7-2.2-1-.8 1.1 .3-.1-2 .2-1.7 .4 .9 0-1.1-.6-2.8 .1 .4-.2-.8-.2-1.6 .7-.1-.1-2.1 1-.6-.2-1-.7 .7 .5-2.4 .8 .5-.3-1.9 .9-1.8 .7 1.7 2.2 1.1-1.8-.7 1 2.5 .3 .5 .4 .9-.3 1.7 0 .7 0 .4 .3 1.3 1.4 .1-.9 1.7-.7 .9 .4 .7 .6 .8-1.1 .7 .8 1.5 .4 1.3-1.6 .6 2 1.3-.5 .1-.1 .3-.2 1.7 .3 2.7 .3-.9-.6 1.8 .5-.4-.9 3.8 .6 .6 .9-2.2-.1-2.7 .4 .6 1-.8 1.3-2.5-.2 .8-.1 1.4-.5 .5 .2 1 0 1.6 .7 1.1 0 1.8-.8 0 .2-.5 1.1 1.3 0-.5-.3-2.4 1.1 .9 .1-1.6 .7-.2-.4-1.1 .3-.8 .7-1.1 .2-.1 1-1.7-1.1-2.3 1.4 2.1-.1 .3 .6 1.6-.8 .6 .5 2-.4-.2 1.2 .9 .8 1.9-.5-.1 1.3 1.5-.2 2.1 .3-2.3-.1 3 .6 2.5 .4-2.7 .4 4.5-.4-2.2 .9 3.2 .6-1 .6 1.9 .3-1-1.2 .8 1.5-1.7 .1-2.8-1.6 .6 .4-1.7 .1-2.6 .6-.1 .7 .1 .1-1.2 .7-1.8 .3-.6 .9 1.5 1-1 .8-2 1 .2 .7-2.7 .9 .9 .4-1.3 1.3 4 .6 2.1 .8 .6 .5-.5 .5 1.6 1-.8-.6 1.8 .8 1.4-.1-.5 0 1.3 1.2 2-.9 .9 1.2 1.3-.4-1.3-.4 2.4-.9 .6 .2 1.2 .3-.2 .9 1.6 .4 2.5-.8-.8 .4 1.2 .2 .9 1.1 1.2-1.1 2 .2 .2-.2 .7 .3 1.3-.7-.1 .9 1.8-.1 .3 .1 1.6-.8 .9 1.2 1.6 .4-.4-1.5 .4 1.5 2.5 .1-1.8-.3-1.5-.2-1.1 1 .3 .4-.7-.4-.7 .5-2.4-.7 .9 1.1-.2-.3-3 1.2-.2 .4-.8-1.1-1.8 .6-1.2 .1 2.1-.6-1.8 1.1-2.1 .5 3.7 .6-.2 .9 .9-2.3 1 .6 .1 .8 2.6-.1-.4 .8 2-.7-1 1 1-.7 2.5 .4 0 .4 2.5-.4 1 .4 .2-1-.4 1 2.5 1.2 .8-1.1 0 0 1.9-.3 .3-.6-.9 .8 2.1-.5 .9 1 1.3 .4 1.2-1.1 1.6 1.7-.9-.6 3.2 .3 .9-1.2-.4 1.6 2-1.7 1 .7 1.4-.4 .3 .7 1.9-.1-.1 .9 1-.6 1.4 .3 .9 .1-.3-.4 1.7 1 .7 .3 2-.5 .3 .1 .5 .8-1.8 .5-1.3-.5-2.2-.4 .4 .1-.8 0-.4 .2-2 1-.3-.2-.6-.4-1.5 1-1.3 .6 0-.6-.9-1.1-1.1 .4-1.3 .1-1.2 .2-.5 .8-.2-.3-1.6 .5-.4 .2-1.9 .5 .5 0-2-.3-1.8 .2 .1-.3-2.3-.8 .1 .9-1.2 .6 1.4-.7-2.7 1.2-1.2-.2-2.2-.8-.5 .5 0 .5-1.4 .2-2.4 .6 .2 1-1.4 1.2 0 .1 1 .7-.2 .4-1.5 .2-2.9 .9-.1-.1 1.5 .7 1.3 .3 1.2 .5 .5-.8 1.5-.2 1.1 .7 .5 .9 1.3-.1 .7 .7-.2 .2 2.3 .7 .9-.7-1.4-.4-1.4 1.3 .2 .3-1.4 .2 .2-.9-.6 1.3-3.5-1.3 1.6 .4-3.1 .9-.7 .2-.7-1-.9 1.7-.1-.3-1.5-.6-2.2 .7-3.8 .8-1.8-.1 .7 .4 .2 .5 .7-.3-3.2 .5-.1-.4 1.3 .6 2.5 .4-1.2-.4 2-.3-.2 1.4 1.8 .5 .5-.7 2.6 .4 1.5 .7 .6 .5-.7 1 1 .7 3-.2-.4 .5 .7-.1 1.2 .5 1.6-.1 .3-.2 .9 .8 .1 .6 1.7 .3-3.1-.7 0 .9-.4 .3-.9 .5-.7-.8-1.5 .7-1.3 1.1 .6-.2-1.3-.6-1.8-.7-.4 1.7-1 0-.6 .3-1.7-.3-.4 .5-1.7-.5-1.5 .7 .6 .4-1.5-.2-1.6 .9-3 .2 .9 1.1 1.3 .8 .7-.1-3.9 .5 1.1 .1 1.6 .4 1-1.4 1.1 .7 .2 .8 2.2 .5-.4-.9 1.6-.2 1.7 .1-.2 .6 .1 .4 3.2 .1 .7 1.1 .2-2.1 .7 0 .5 1 .5-1.1 2.4 .6 .2 1 .9 .5 2.2-.5 .7 .2 2.1 .5-2.4 1.2-.8 .8-.3 .4 .8-.4-2.3-.1-1 .3-.8-.3-1.3 .9 .6-.3-2.2 .1-.8-.3-.6 .6-1.2 0-.3 0-1.9 .4-.1-.3-1.9 .6-1.3-.5 1 .9-2.7 .4-.6-.2-.3-.2 .9 .5 2.2 .3 .5 .1 1.4 1 .4 .7 .1-.3 2-.1 1.7-.7 1.6 1.1-2.9-.1 .7-1-2.4 1.2-1-.3 .1 .7-1-.5-2.4 1-.4-.7-1 .1 .5 .4-1.9-.1-1.3 .3-.2-.1-1 1.5-.5-.8-1.5 .6-1.4 .5 0-1.7 .2 1.7-3.3 .6 1.9-.5-3.5-.3 .3 1.3-1.6 .7-.8 .6-1.3-.5 .2-.1-1.7 1-.9 .1-3.1 .3 .1 .6-.1 .5-1.1 .8-1.2 0-1.4 .8 1.2 1-2.3 .2 2 .7-.1 .5-.7 .7-1.1 .5 3 .6-3.7 .8 1.1 .4-1 .5 4.9 .5 2.1-.2 0 .7-.9 0 1.2 .7 .2 .4-.9 .4-1 .4-.9 .4-.9 .5-.9 0 .9 .1 1 0 1 .1 .9 .1 1 0 1 .1 1 0 .9 .1 1 .1 1 0 .9 .1 1 0 1 .1 .9 .1 1 0 1 .1 1 0 .9 .1 1 0 .9 .1 1 0 .9 0 1 .1 .9 0 1 0 .9 .1 .9 0 1 0 .9 0 1 .1 .9 0 1 0 .9 .1 .9 0 1 0 .9 .1 1 0 .9 0 1 .1 .9 0 .9 0 1 .1 .9 0 1 0 .9 .1 .9 0 1 0 .9 0 1 .1 .9 0 1 0 .9 .1 .9 0 1 0 .9 .1 1 0 .9 0 1 .1 .9 0 .9 0 1 .1 .9 0 1 0 .9 0 1 .1 1 0 .9 0 1 0 .9 .1 1 0 1 0 .9 0 1 .1 .9 0 1 0 1 0 .9 .1 1 0 .9 0 1 0 1 .1 .9 0 1 0 .9 0 1 .1 1 0 .9 0 1 .1 .9 0 1 0 1 0 .9 .1 1 0 .9 0 1 0 1 .1 .9 0 1 0 .9 .1 1 0 .9 .1 1 0 .9 .1 .9 0 1 .1 .9 0 1 .1 .9 0 1 .1 .9 0 .9 .1 1 0 .9 .1 1 0 .9 .1 1 .1 .9 0 .9 .1 1 0 .9 .1 1"/>
<text class="t" x="124.3" y="1468">FINANCIALS</text>
<path d="M413.6 1696.1H467.4" stroke="#0000ff" stroke-width="4.2" stroke-linecap="round" fill="none"/>
<text class="lg" x="485.4" y="1706.1">(8.7)</text>
<text class="d" x="804.4" y="1679" textLength="51.6" lengthAdjust="spacingAndGlyphs">3/24</text>
<text class="an" x="629.8" y="1673.5" text-anchor="middle">Real Estate</text>
<text class="an" x="629.8" y="1700" text-anchor="middle">removed</text>
</g>
<g id="panel10">
<rect x="944.4" y="1430.1" width="785.4" height="298.8" fill="#000"/>
<rect x="950" y="1434.9" width="774.2" height="289.2" fill="#ffffe6"/>
<path d="M1729.3 1726.9H1748M1729.3 1708.5H1738M1729.3 1690.1H1748M1729.3 1671.7H1738M1729.3 1653.3H1748M1729.3 1634.9H1738M1729.3 1616.5H1748M1729.3 1598.1H1738M1729.3 1579.7H1748M1729.3 1561.3H1738M1729.3 1542.9H1748M1729.3 1524.5H1738M1729.3 1506.1H1748M1729.3 1487.7H1738M1729.3 1469.3H1748M1729.3 1450.9H1738M1729.3 1432.5H1748" stroke="#000" stroke-width="2.2" fill="none"/>
<text class="ax" x="1754.3" y="1736">6</text>
<text class="ax" x="1754.3" y="1699.2">8</text>
<text class="ax" x="1754.3" y="1662.4">10</text>
<text class="ax" x="1754.3" y="1625.6">12</text>
<text class="ax" x="1754.3" y="1588.8">14</text>
<text class="ax" x="1754.3" y="1552">16</text>
<text class="ax" x="1754.3" y="1515.2">18</text>
<text class="ax" x="1754.3" y="1478.4">20</text>
<text class="ax" x="1754.3" y="1441.6">22</text>
<path d="M947.2 1727.9V1749.9M996 1727.9V1749.9M1044.7 1727.9V1749.9M1093.5 1727.9V1749.9M1142.2 1727.9V1749.9M1191 1727.9V1749.9M1239.7 1727.9V1749.9M1288.5 1727.9V1749.9M1337.2 1727.9V1749.9M1386 1727.9V1749.9M1434.7 1727.9V1749.9M1483.5 1727.9V1749.9M1532.2 1727.9V1749.9M1581 1727.9V1749.9M1629.7 1727.9V1749.9M1678.5 1727.9V1749.9M1727.2 1727.9V1749.9" stroke="#000" stroke-width="4" fill="none"/>
<text class="ax" x="971.6" y="1760.9" text-anchor="middle">06</text>
<text class="ax" x="1020.3" y="1760.9" text-anchor="middle">07</text>
<text class="ax" x="1069.1" y="1760.9" text-anchor="middle">08</text>
<text class="ax" x="1117.8" y="1760.9" text-anchor="middle">09</text>
<text class="ax" x="1166.6" y="1760.9" text-anchor="middle">10</text>
<text class="ax" x="1215.3" y="1760.9" text-anchor="middle">11</text>
<text class="ax" x="1264.1" y="1760.9" text-anchor="middle">12</text>
<text class="ax" x="1312.8" y="1760.9" text-anchor="middle">13</text>
<text class="ax" x="1361.6" y="1760.9" text-anchor="middle">14</text>
<text class="ax" x="1410.3" y="1760.9" text-anchor="middle">15</text>
<text class="ax" x="1459.1" y="1760.9" text-anchor="middle">16</text>
<text class="ax" x="1507.8" y="1760.9" text-anchor="middle">17</text>
<text class="ax" x="1556.6" y="1760.9" text-anchor="middle">18</text>
<text class="ax" x="1605.3" y="1760.9" text-anchor="middle">19</text>
<text class="ax" x="1654.1" y="1760.9" text-anchor="middle">20</text>
<text class="ax" x="1702.8" y="1760.9" text-anchor="middle">21</text>
<path d="M1568.2 1434.9V1506M1567.8 1727.9V1730.7" stroke="#000" stroke-width="2" fill="none"/>
<path class="ln" d="M947.8 1582.7l.8-1.6 .4-1.7 .3-.2 .5-.1 0-1.8 .3-1.3 1.8-.5-.9-.3 .1-.5 .6-1.5-.4 1.2 .9-1 .7-.3 .1-4.5 1-.3 .2 .2 1-.5 .5 3.1 .5-3.3 .3-.7 1.1-3.3 .1 .4 0 .7 1.4 1 .6 1.3-1.4 2.3 .3-1.2 1.2 1.3 .3 .1-.1 1.3 0 1.6 .3 1 0 .6 .7 1.1-.8 .7-.1 1.5 1.7 .7-.3 1 .8 1.9 .2-.2 .3 .7-.5 1.1 .3 .8 .8 .2-.2 1.9 .3-.1 0 1.8 .7 1.1 0-.3 1.1 1.9 .5 1.5-.5-.5 .1 2.1 .7 1.2 1.3 1-1.4-.5 .3 1.4 .4-1.1 .1 .7 .8-1.2-.1-2.7 .7 .7 .1-3.4 .2 1.5 1.3-1.6 0 .9-.3-2.1 .6-1.5 .2 2.3 .5 2.8 .4-.2 .1 .9 .5-.6 0 2.4 .1 2 .4-.2 .8-1.8-.4-1.1-.2-1.1 .6 .8 .9-2 .1 0 0-1.1 .2-1.6 1-1.1-.9-1 .8 .8-1.2-1.7 1.3 .4 .4-1.9 .5 2 .9-2.3 0-.4 .9 1.1 .3-.7 .6-2.4 .3-1.2-.2 .2 .7-1.9 .2-.5 .5 .9 .6-6 .2 .6-.2 .5 .4-1.4 .4-1.4 .6-.8 .5-1.9 .7 .2 0-1.8-.2-3 .5 1.3 1.1-.9 .1 .1 0-2.5 .8-.5 .1 3.4 .6-2.4 .3 .1 .2 1.3 .2 .4 .3 .4 .6-.8 .6 1.2 .4 1.4 0 1.1-.1 1.1 .5-1.3-.5-1.8 .6 .1-.7-1 1.2-.3-.3-1 1-1.6 .4-.1-.7-.9 .9-1 .6-2.1 .7-.2 1.1-2.6-.1 .9 .7-2.6 .6 1-.2-1.2-.1 1.6 1 .6 .8 .5-1.4 1.5 .6 .9 .1 1.6-.9-1 1.2 1.7 .8 .5-.6 2 .2 1 0 .1-.6 2.5-.4 .5 1.3-.3 0 1.2-.1 .3 .5 2.1-.6 1.1 1.3 0-1.3 1.9 .1-1.2 .2-2.2-.3-1 .9-.9 .9 1-.6-1.3 0-1.7 .2 .1 .6-2-.2-1.6-.2 .5 .3-.8-.1-1.8 .3 0-.2-.9-.7-3 1.1 1 .3-2.3-.8 .6 .1-2.1 .1-1.6 0-.9 1.1-.3-.7-.3 .8-2.2 .1-.6 .5 3.1 .6 3.3 0-4 1 4.8-.8 .3 .2 1 .7 1.3 .1 2.2 0-.2-.7-.2 1.4 2.3 0 .9 .5-.6-.7 1.9 .5 .9 .7 0-.3-.6 .5-2.4 .1-1.7 .9-.2 .4-2-.3 0 .8-.9 0-1.1 .2-1.4 .7-1.1 .1-.4-.6-.6 1.2-1.4-1.2 1.7 .7 1.3 .8-.6 .3-.9 .3 1.9 .6 1.4 .5-3.3 .6-.1 .2-1 .4-1.8 .1 0 .4-.5 .7-.8 .3 .2 0-1 1-.2-.9-.8 1.5-2.2-1.1 .1 .2-1.5 .8-.5 0-1.4 .1-1.8 .3-.2-.1-.1 1-.1-.4-1.6 0-2.4 .8-.4-.1 2.5-.3 .5-.1 .1 1.5 2.3 .4-.7-.6 1.8 .2 1.9 .1 0 1.4-.7-1.4 2.3 .8-.2 .2-.2 .2 1.7 .5 4 .1-.6 1-1.1 .1-1.2 1-1.1 0 .4 1.6-2.2-.8 1.8 .5-1.3-.3 1.6 0 1.3 .6 .9 .1 1.6-.1-.8-.1 2.4 .9 .2-.1 0 0 2.1 .5 1.4-.5 .2 0 .5 .5 1.3 .8 .8-.7 .9 .7 2.1 .8-.7-.5 2 .3 .5 .1 1.5 .6 .3-.1 .8-1 .9 .7 1.3 .8 .6 1-.3 .1 3.1-1.5-.8 .6 2.1-.3 .7 .7 3.4 .1-3.6 .3 1.2 .5-.6 .3-3-.2 .3 1.4-1.9-.3-1-.5 0 .2-1.5 1.3-.2-.7-1.6 1.4-.3-.5-.9 .6-.4-.7-1 0-2.4 1-.2-.5-.7 .4-2-.5-.7 1.2-.2 .8 3.1 1-3.3 1.1-.6 .7 .6 .1 0 .6 3-.1-.2 .4 .7-.2 1.1 .5 .8 0 1.5 .4 1-.2 .9-.2-.1 .9 1.7 .4 1.9-.4-.3 .6 1.5-1.2 1.2 .6 .5 .7 .1 .1 2.2 .3 1.8 .7-.5-.8 1.4 1.1 .2 0 .6 .3 2.5-1.4 .4 .8-.4 .4 1.7 .7 1.1-.1 1-.5 .9 1.4 1.6-.9 .5-.2-1.8 .3 .7 .7-1.8-.3-.8-.4-2.1 .8 1.1-.7-2.5 .6-.7 .4-.9-.2-1.9 .2 1.1 .1-1.4 .8-.7 .5-1.2-1-2.5 .7-.8 .4-.3 0 .3-.2-1.5 .7-.7-.1-.7 .2 .4 .3 .7 .4 .7 .3 .9-.5 1.8 .5-.4 .9 1.7 0 .3 0 1.6 .5 .5-.5 .9-.3 1.9 .1 .2 1 1.3-.6 .3 0 2.4-.7 .5 .4 .3 .3 1-.7 1.9 1 1.5 .4 .1-.7 .8 .4 .5-.5 1.3 1.4 1.1-.9 1.4-.2 .7 .4 1.8-.1-.5-.5 1.3 1.2 1.4-.9 0 .1 2.5 .3 1.2-.8 .5 1.1 .1 0 1-.6 .1 0 1.9 1.2-.4 0 1.5-.1 2.1-1.1 .5 1.8 .7-1.2 1.4 .2-1.4-.1-.8 .7-1.1-.9-.7 1.4 .2-.8-.3 1.2-3.1 .2-.4-.8-.9 1.3 .1-.2-3.2-.1 .9 1.4-1.3-.8-.4 .1-2.3 1.1 1.3-.4 1.1 1.1 .9-1.4 1.4 .6-1.7-.5 4 .8 1.4 .2-.6-.7 2.7 1.5-.9 .8 .6-1.8 2.4 1.5 .7-1.2 .8 .2 .9 1.3 .1-.4 .9 .3 .7 .3 1.3 .4 1.2 .2 .1 0 .8-.2 1.9 .6 1.6 .4-2.5-.4-1.3-.3-.2 .5-2 .1 .6 .4-2-.5 .2 0-1.4 .4 .3-.7-2.2 1.3-.6 .2-1.9 .3-.3-.4 0 .1-.9-.4-.9 .6-1.9-.2-.7-.3-1.1 .3-.7 1 .7 .9-.6-.3 .7 .1 2.3 .7-.5 .3 .8 .4 2.8 .3 .1-.2-1.8-.1-.5 .4 .1 .2-3.1 .4 .9-.1-2.6 .7 .1-.3-.9 .3-1.9-.6-.2 .5-1.1-.9-1.8 0 .8 .5-.7 1.4-1.4-.7-.9-.2-1.3 .7-.5 .4-1.7-.2-.4 .4-1.5 .3 2.2 .2-2.6 1-.3 .7-2.1-.2-.2 .6-.9-.6 1.1 1.1 .2-.3 .6 .2 2.8 .9-1.4 .5 2.2 .4 0-.2 1.4-.5 1-.2 1.5 .9-.2 .6 1.2-.6 1.6 0 .6-.2 1.2 .4 .7-.1-.2 .1 2.3 .4 1.9 .3-.8 .3 1.2 1.2 1 .8 1.4-.8 1.2-.6 .9 1.2-.3 .4 1.3 .2 1.8-.1 .8 .1-.1 .3 1.2 .3 .8-.5 1.9 1.7 .8-1.1 .3 .9 .8 .5 1.2-.3 1.7 0-.3 .4 1.9 .4 .8 0 1.2 .6 .5-.6 1.2-.4 .5 1.4 .7-.7 .6 .4 2.5 .2-.5 .6 1 .6 .6 .4 .9 1.3-3.2 .1 .4-.1-1.8-.2-.2 .9-.9 0-.1 .2-.5 0-2.5-.7 1.9 .7-.9 .6 0-.1 1.6 .8-.7 .8 2.4-.1 .1 .3 .6-.1 1.2 .5 .9-.2 1.8 .5-.1-.1 2.1 .3 .6-.1 1.4 .3 .1 .8-.1-.9 1.6-.2 1 .2 .4 0 2 .8 .1-.6 2.8 .5 .2-.8-.7 .2 1.7 1 1.1 .2 1.5 .3 1-1 1.2 .6-.6-.2 1.1-.4 1.7-.2 1.4 1 .7 .1 1 .1 2.3-.2 .2-.1 .1-.1 .5 .3 0-.2 1.2 1.3 1.8-.8 1.3-.7 .4-.4 1.5 1.3 1.8-.4 .4-.2 .1 .2 1 0 .3-.1 1.4 0 1.7 .9 1.1-.9 1.2 .9 .9-.1 2.3 .1-1.1-.5 1.2-.4 1.5 .5 1.2 .7 .5 .1 1.9-.9 1.1 0 .4-.3 1.3 .9-.6 .1 1.9 .5-2.3 .4 .9 .4-1.2-.6-.6-.1-.1-.3-4.2 .7 .7-.1-1.3 .4-1.9-.4 .9 .9-2.2-.9 .5 .6-1.9 1-1.6-.1 1-1-1.6-.2-1-.6-1.8-.4-2.2 1.6 .3 .6-.3 0 .2-.7-2 .2-1.4 .3 .5-.3-1.5-.4-1.1 1.4-1.7-.3-.2-.2-2 .2-1-.4-.6-.5-.6 .3-1 .7 .7-.5-3.1 .3-1.1 .3-1.6 0-.8 .1-.6-.7-.5 1.7-.2-.2-.4-.2-1.8-1.5-2 .3 .2 1.5-.7-.6-1.7-.4-.8 .4-1.6 .2 1.3 .3 .4 .2 1.4-.3 .9 .6 1.6-1-.2 0 2 1 1.8-.7 .8-.2-.1 .1 1.1-.1 1.1 .5 1 .1 2.1-.4-.6 .7 1.5 0 .6-.1 .4-1 2.5 .4 .3 .8 .8-.8 .9 1 1.7 0 .8-.3-1.1-.8 3.8 1.1 .1 .8 .8-.7-.5-.4 1.4 0 1.6 .5 .7-.6 1.6 1.1 .9-.5 .7 .2 1.3 .4-1.8 .1 .9 .6-1.8-.3-2.2 0-1 .5-.9-.2 0-1.3-1.7 .3 .2 .6-1.1-.3-1.6 0-.7 .5-.7 .3-.7 .3-1-.1-.4 0-1.7-.4 0 1.6-1.6-.8-1.5-1.1-.2 .7-1 .1-.6 .9-1-.7-.8 .4-2.6-1-.9 .7 1.3-.2-1.8 .1-3 .3 .1 .3-1.2 .4 0-.3-1.5 .2-1.2-1-1 .7-1.6 .7-.5-.1-.6 .1-1.4 .6-.5-.3-1.9 1.3 3.3-.3-1.5 .2 2.2 .1-.2-.3 1.5 1.4 .7-.1 1.8 .3-.7-.5-2.4 .8 1.7-.1-1 .8-2.4-.6-.6 .1-.9-.7-.9 1.4-.1 .5 .6-.4 .2 .2-.3 0 3.4-.4-.4 1.1 1.1-.6 .3-.4 1.1 1.1 1.1 .8 1.3-.1 1.2-1.2 1 1-.2-.7 1.8 .1 .8-.5 1.4 1.1 .3-.2 .4 .5 1.7-.1 .8 .1-1 0-.9 0-1 0-.9 .1-1 0-.9 0-1 .1-.9 0-1 0-.9 .1-1 0-.9 0-1 .1-.9 0-1 0-.9 0-1 .1-1 0-.9 0-1 .1-.9 0-1 0-.9 .1-1 0-.9 0-1 .1-.9 0-1 0-.9 .1-1 0-.9 0-1 0-.9 .1-1 0-.9 0-1 .1-1 0-.9 0-1 .1-.9 0-1 0-.9 .1-1 0-.9 0-1 0-.9 .1-1 0-.9 0-1 .1-.9 0-1 .3-.3 .2-.2 .4 1.7-.5 .8-.4 1.5 .5 1.2 .5 .1 .3 1.3-1 1 1.4 .6 1.2 1-.8 .6-.4 .8 .3 1.6 .6 .9-.2 2 .4 .5-.4-.1 .5 2.1 0 1.4 1 .4 .3 .5 .3 2.2-.1-.7 .7 2.5-.6 .3-.2 1.2-.2 .9 .7 1.4 0 .7 .3 .8-.2 .3 0 2.4-.3-.1 0 1.2 .1-1 0-.9 .1-1 0-.9 0-.9 .1-1 0-.9 0-1 .1-.9 0-1 0-.9 .1-.9 0-1 .1-.9 0-1 0-.9 .1-1 0-.9 0-.9 .1-1 0-.9 0-1 .1-.9 0-1 .1-.9 0-.9 0-1 .1-.9 0-1 0-.9 .1-1 0-.9 .1-.9 0-1 0-.9 .1-1 0-.9 0-1 .1-.9 0-.9 0-1 .1-.9 0-1-.5-.1 .8-.1 0-3.4-.2-.3 .8-.4 0-.8-.3-1.7 .4-.7 .4-1.3 0-.9 1 1.1-1.2 2.4 1.2-.7 .5 1.9 .6 .7-.4 2 .1 .1 .3 1.6 .4-.5 .3 1.1-.8 2.4 1.4 .5-.7 3.2 .1-3 .3 1.2 .4-1.6 .7-3.6-.4 0 0 1.1 .6 .3 1.4 1.2-1.4 1.7 .9-.5 .2 1.5 .4 1.1-1.5 .7 1.3 2.2 .4-.2-.1 2.5-.2-1.2 .7 1.7 .3 .5 .4 .1-.7 3 1 .5-1.6 .2 .6 .4 .6 1.8 .5-.6 .5-1.2 .4-1 .6-1.2-.5-1.1 1.4 .3-1.1-.6 .5-5.4 .4 4.6 .2 1.7 .5-.8 .4 1.8 1 0 .6 1.6-.9 1 .7 3-.2-1.4 .2 3-.5-.3 .1 .3 .2 1 1.1 .4-.7 2-.3-1.3 2.2-2.2-.6-.2 0 .3 1.1-1.9-1.4-1.6-.4 0 .2-1.7 .6 .3-.4-2.3 0-.1 .4-1.8 1.4 .9-1-2.4 .7-.7 .6-1.9-.9 1.2 1-2.1 .1-1.2 .1-.8-.3-.4 .9-1.9-.7-.4 .6 1.1 .5 .8 1 .5-.2 1.6 .3 .6-.7 .2 .3 1.7 .8 1.4 .7 .1 .3 1.7-.1-.7 .1 2.9 .4 4.1 1.6-3.6 0-1.3-1-.6 1.4-.3 .2-1.8 .2-1.3-.3 .6 .2-1.3 .4-1.2-.5-.5 1-1-.6-1.5 .6-.4-.1-.7 .1-1.5 .3 0 0-1.5 .4 .3 .8-1 .4-3.8 .3 2.1 .1-1.2 .7-1 .1 3.5 0 2.1 .7-1.6 .4 4.1 .1-3.1 .5 3.1 1.7 0-1.2-2.4 .7 0-1 .2 .4-4.1 .5 1.3-.2-.6-.2-1.2 .6 .2-.2-1.2-.3-2 1-.2-.1-1.4 2.3-1.8-.5-.1-.2-.2 .7-2.6 .5 .5-.1-2 .5-.1 .5 .5-2.4-3.2 .8-1.5 .9 .6-.4-2.2 .6 0-.1-.2 .2-1.7 .1-1.4-.2-.1 .9-3.7 .7 2.6 .7-.8 .2-.8 .8-.7 .3-.8 .2-1 .1 .1 1.3 1.5-.2 .7 .6 1.1-.2 .7-.1 .2-.7 1.5 .6 1.1 1.1 .6 .2 1.8-.3-.4 .4 1.3 .3 2-1.4-.5 1.4 1.9 .7 .8-1.1 .2 .6 1 .4 2.1-1.2 .8 .3 2 1-1.7 0 2.6 .1-1.7 .2 3.4 .6 1.3 .9 2.9-.2 .6 .7-4.5 .9 1.7-.1-1.3 .4-.6 .6-1 1-2.1-.1-1.2-.1-.8 .8-.6-.7 0 .2-1.3 .3-1.3 .1-1.6 .3-1.4-.3 .2 .4-1.3 0-.9 1-.4 .1-1.8 .8 .3 .3 1.8 .8 2.3 .1 2.5 1 1.3 2-3-.8 1 0 1.8 0 1.6-.1-.1 .7 .6-.2 1.4 .3 1-.7 .2 .6 .4 1 2.1-.2 1.4 .7 .5-.1 1.4 .6 1.4 .2 1.2 .1 .6 .4-1.5 .4 4 .7 .4-.4 .4 .2 .8 .3-.2 .8 1 .4 1.7 .5 1.4 1-.2 1 .1 1-3-.4-1.6 .5-2.5 .3-.2 .8-2.9-.2 2.1 .6-2.6-.1 .6-.1-.5 .5-1.6 .3-1.7 .4-.1-.1-.3 .4-2.2-.2-.5 .3 .1-.3-1.6 .1-.9 1-1.6 .5 0 .2-.9-.4-2.3 .4 .6 .8-.6 .4 1.3 1.2-.2 1.2-4.8-.3-.5 .5 .6 .3-1.1 .2-1-1.2-.9 1.8-.3-.5-1.7 .4-.1 .9-1.5-.7-1.5-.2-.3 .5-1.3 .6-.9 .4-1.3-.5-1.4 .9 .9 .2 .2 .7-1.2-.2-2.3 .9 .4 .5-1.2-.2 .2 .1-2.5 .7 3.1 .3 .9 .1-.6 .5-2.3 .1 3.8 .5 1.9-.4-1.4-.1-1.5 .6 .1 .5-.3-.3-1.9-.1-2.2-.2 .8 .9 0-.1-2.3 1.1-.6-.2 .3 .8 .6 .1 2.1 .4 .9 .3 1-.7 .1 1.4 1 .3 1.2 .1 .8 .7 .6-.1-.8-.9-1.9 .6-.2 .7-1.4 .2 .2 .1-1 .1-2.2-.6-.5 1.4-.1-.8-1.2 1 1.3-.5-4 1.2-.5-1 2.3 .8-1.8 .2-2 .4-1.4 .2-2.4 1.1 0-.2-3 1.1 3.6-.3-2 .6 3.1 .1-.5 .6 2.5-.7 1.1 .2 0 .3 1.9-1.1 .6 1.4 .6 .3 .9-.4-.7 .1 2.4 1.1 .5-1.2 1.2 .7 1.9 1.3-2.1-.5 .2 .7-2.7 .1 .4 .8-2.1-.2-.9 0-.1-.5-1.4 .5-.6 .4 .1 .1-2.4 1-1.7 .2 2.7 .3-.2 1-2.8 0 .5 .4 .5-.6 .7-.4 .5-.4 2 1.6 .9-.1 .7-.1 .1-.3 .7 1.2 2.2 .3 2.1-.9-.1-.6-.5 .9-1.4 .6-1.1-.4-.8 .3-.7 .3-1.6-1.2-2.5 .8 0 .6-.3 0 .7-.1-2.3 1.5-1.4-.9-1.7 .3-.2-.1-1.3 .3 .1-.2-1.1 .6-.5-.1-1.2 .8-1.3-.6-.8-.5-1.2-.6-1.7 .6-.2 1.3-.8-.6-3.6 .8 4.7 1-3.3-.5 .8 .2 1.7 .6 3.8 0-1.1 .6 2.4 .4-1 .2-1.3-1.3-.7 .6-2 .5 .1-.9-1.2 1.2-.5 1.1-1-.1-1.6-.3-.1-.1 .7-.1 0 .9 2.3-.5 1.5 .5-.2 0 2-.1 .7 .8 1.9 1.1 .9-1.4 .6 1.3-.5 .6 .9-.1-2.3 .9 .2 .3-3.3-.2 2.2 .4 .7 .6 1-.5-1.6 .6 1.8 .1 3.1 1-.1 .2 .5-.3 .6-.1 1.4 1.2 1.3-.8 1.5-.6 1.7 .9 .7 1.1-.1-1.3-1.3 .7 .3 .2-.1 .5-1.4 0-1-.6-1.1 .4-.1 .6-.9 0-1.2 .1-1.4 1 .3 0-.3-.5 1.9 .3 .5 .7 1.4-1.4 .2 1.4 2 .9 .9 .5-.1-.5 2.6-1.3-.9 2.1 1.3-.8-.7 0 3.1 .1 1.2 .4 .3 0 .7-1 1.9 .1-.1 .5 1.6 .9-.2 0 2.7-.6-.7 .3 .9 .6 2.2 .1 .3 .1 .9 0 1.8 .6 .9-.6 .8 .8 1.1-.2 .2-1 .2-.2 1.7 .5 1.1 1-.1-1.1 2.2 .5 .1-.1 .9 .4 2.1 1-.7-.1 2.5 .2-.7-.5 1.9 1.3 1-.1 1.8 0-3.1-.9 .7 .2-1.3-.1-.1 1-1.6-.3-.6-.2-.7 .2-2.9-.6 .4 .3-1.3-.1-1.1 .7-.6 1.3-1-.6-1.3-.3-.8 .3-2 .3 .6-.2-1.2 .4-1.4-.5-.2-.1-.4 1.1-2.2-.6-.9 0-.8-.7-.1 .3-2.8-.3 1.6 .3-2.8-.2 2.2 .7-.5 .1 3.2 .3-.8 .3 1.2 .8 1.3-1 1.2 1.1 .7-.4 .2 1.1 2.1 .5 .5 .1-1.5 .6 3.2 1 .2 1.5-.7-.1-.7-1 .4 1.2-1.1-.4-1.6 .9-1.9 .1 .9-.1-1.7-.4-1.3 .1 .5-.9-2.2 1.5-2.2 1.1 1-.2-1.7-.7-.4 .7-1-.2-1.6-.3-.1 .5-.8 0-1.4-.6-1.2-.2-.9-.1-.9 1.5-.3 .3-1.8 .5-.4-.5-.7 .2-1 .9-1.4-.7-.1-.1-1.2 .2-1.1-1.1 .4 1.1 1.1 0 2.1 1.1 .2 0 .3-.4 1.7-.1 .7 1.3 1.6-1.3 .1 0 2.2 1.2-.6 .4 1-.6 1.3 0 2 .1 0-.4 1.2 1.3 .5-.4 1.6-.9-.1 .5 1.6 .3 .4 .4 2-.5 1.3 .6-1.1 1.3-2.3-.5 .2-.1-1.5 .2-2.2 .8 1-.6-1 .6-1.2 .5-2.9 .2 .5-.9-.9 .1-1.4 .8 .5 .2-1.7-.4-.7-.3-.5 1-1.7-.5-1.5 .3-.2-.3-.1 .5-.7 1-2.2-.4-1.4 1-.6-.3-1 .8 0-.8-1.5 .5-.6-.4-.9 .8-1.1 .4 1.4 .5-.6 0 2-.8 1.8 1 .1 .7-.1-1.8 3 1 .5 .4 1.3-.4 .3-.4 1.6 .4-.4-.7 1.7 .2 .8 .3-.2 1.5 2.5-1.3 1.1 .4-.7-.3 1.9-.7 1.4 1.4-3.9 1 2.7 .5-.1 1.1 3.4 1.4-.8-.9-.4-.4-1.1 .3-1.7 .6 .5-.8-2 .5-1.6-.4 .8 .6-2.2-1-1 .9-.3-1.3-1 .5-1.6 1.5 .5-.6-2.7 .6-.5 .7-1.8 .7 1.8-.7-2.2 .7 0-.7-3.1 .9 .6-.6-.9 .4-1.4-.5 .2 1-2.6-.4-1.7 .6-.6-.9-.8 .4 .3-.4-1.9 .6 .5 1-1.8-.1-1.3 1-1.1-.5-.5-.2-.9-.4-2.7 .9 1 1.4-1.1-1.1-.6 .6-2.2 .3 .4-.5-2.5 1.1-.2 .6-1.2-.7 2.5 .1-1.2 .4 2.8 .1 0-.2 1.3 .6 .8-.7 1 1.4-.1-.8 2.3-.9-.4 .1 .6 .6 2.7 .8-.5 .6 2.6-.1-1.4 .6 2.4 .6-.4-1.2 2.2 .9 .7-.3 1.6 .4-2.7-.2 .5 .3-2.4 .4 .4-.9-1.3 .4-.1 .1-1.7 .8-.8 .1-1.2 .6-.6-1.9-1.7 .6-.9 1.1-2.1 .6 .4-.2 .1-.2-1.1 .4-.8-.1-1.6 .8-1.3-.9-.8 .2-.1-.3-.2 1.5-2 1 3.3 .3-3.2 0-.4 .2-1.4 .5-1.7 .2 1.5 .4-4.1 .2 1.9 .2-3 .6 .2 .4-1.8 .2-.7-.5-.3 .7-2.1-1.3 0 1.9-.3 0-2.4 .5-.7-.3-.4-.2 1.7 .1-4.7 .3-.6 .3 0-.2-1.7 1-3.9 .5 2.2 .5-.8 .8-1.8 .9 1.2 .1-.2-.3 1.4 .5 0 .2 .9 0 1.2 1.2 1.7-.3 .8 1 .8-.3 1.3-.3 .4-.1-1.2 .7 .2-1 .1 1-4.5-1.1 2.1 .4-3.2 .3 .4 .1-.8 1.1-1.8-.6-.3-1-.7 1-1.6-.4-1.5 .3 .4 .5-2.2-1.1-.3 .6-1.3 .4-.5-.6-2.8 .1 1.4 .8-1.5-.5-1.2 .6 1 .5 1.6 0 .1-1.4 1.2 1.3 1.1-1.2-.2 .1 1.7 .4 1.9-.1 .6 1.1 .9 .2 1.4 1.1 0-.8 1.1-.2 1.2 .5 .7 .3 1.4 .2 .1-.3 2.6-1.1 1.3 1.1-1 1 2-1 .7 .4-.9 1.6-2-.9-1 .7 .4 1.2-1.8-.4-1.1 .3 1.4 .7-2.9-.2-.5 .2-5.3 .4 .8 .6-1.9 .4 1.2 1.2 1-1.3 .8 2.2 1.1 0-.2-1.1 1.8 1.2 1.2-.1 1.2-.7 0 0 .6 1 1-.1 1.3 .2 .8-.1 1.7-.2-.6 .5 1 .2 1.4 0 1.5 .2 .2-.9 2.5-.7-.2 1.1 1.8 .1 0 .3 .5 0 .7 .1 1.2 .3 1.3-1 1.7 1.1-.9-1.1 2.3 1.2 1.1 .4 .2-.3 .4-1.1 1.3-.3 .7 1.3 1.4-.6 2.2 1.4 .5-.4 .4 .5 1.4 0 .8-.1 2.1 .1 .5 1.6-.9-.2 1.5-.1 1.2-.3 2.3 .7-.7-.3 1.6 0 .9 .4 .5-.3 1.8 .2 .2-1 .6 .5 1.4 .8 2.4 .8 .8-.4-2.1 .4 .4 .6-3.4-.2 .5 .5-1.4-.8-.9-.5 .2 2.1-.9 .1-3.1 .8-.4 .1 2.4 1 1 .5-1.8 1.3-3.7-.8 1.7 .3 1.8 .6 0 .4 1 .2 1.7-.3 .2-.1-.2 .9 1.4 .5 2.4-1.3-.8 1.6 1.5-1.2 2.2 .3-.1-.1 .5 .4 1.1 .1 1-.4-1.2 .4-.6 0-1 .3 .3 .6-2.6 .1-.3 .6-1-1.8-1.7 1-.7 .5-1.3 .2-1.1 .9 .2-.3 0-.4-1.7-.2-1.1 .1 1.2 .5-3.3 .9-.9-.9-1.2-.2-.3 .5-.2 .7 .4 .7-.5 1.1 1.7 .3 1.3 .4-2.8-.9-1.4 .3 0 .8 .2 .5-1.1-.8-1 1.7-1.7-1-1.1 0 .1 .4-.3 .5-2.3 .6-.9-.9-.6 .7-.1 1.1-2.6 1.5-.7-1 0 .9-1 .6-.2 0-1.8 .1-1.4 .2-1.6 .7 .6 .7-1.7-.5-.8-1.5-.7 1.6-.4-.1-1.3 2-.5-.7-.2-.4-2.8 .4-1-.2-1.2 0 2.6 .9-.7 .6 1.9-.8 1.4 .2 0 .1-.1-.2 2.3 .5 .5 1.5 1.1-.1 1.3 .2 .2 .5 1.2-.9 2.3 .1-.4 .7 .9 .6 1.5 .2 0-1.4 1.6 .2 .7 .6 .1 1.1 .9 1 1.1-1.1 1.8 .3 1.5 .2-.2-.3 1.5 .4 1.1 .5 .5-.3 1.1-.3-.3 .4 2 .3 1.3-.4 .9 .7-.5-.1 1.8 1.4 1.2 .3 1.8-.3 .5 .3 .6-1.3 .6 1.6 1.8-.7 .8 1-2.3-.1 .6-.5-1.7 .9-.9 .6 1 .4-2.1-.8 .3 .6-1.9 .5-.4 0 2.9 .2 .4-.2 .7 .2 1.7-.3 .3 .9 .7-.8 1.7-.5-.1 1.7 3-1.5 0 .4-.3 .9-.1-.8 3 .4 .5-.6 2.4 .8 .1 .2 .6-.4 .8 .5 .2 .2 .6-.2 3-.4-1 .4 2.4-.1 .7 .1-.3 .6 2.5 0 .6 0 .4-.8-.2 .3 3 .7 1.8-.8 .5 .4-.9 .7-.6 .1 1.8 .2 1.8 .3 1.7 .1 2 .4-.4 0 4.1 .5-1.8 .3 .3 .6 1-.6-.3 .2 2.3 .9 1.4 .8 1.6-.7-2 .1 1.4 .9 1.4 .3 1.3-.5 1.2 .5 .5-.3 1.6-.7 1.6 .5-.5-1.2 1.3 .9 .9 1 1.4-.4 .1-.4 .6 0 2.1 .6 .7 .1-.2-.5-2.2 .7-.2 .6-.4 .5-1.4-.1-1 .2-.6 .3-1.3 1.1-.1-.8 .3 0-.1 1.6 .5 .5-1.3 .7 1.8 .2 1.9-.6 .7-.2 .7 1.6 1.5-.4 .6 .2 .2-.1 .2 0-1.1 .3-1.9 1.2 .4-.1-1.3-.2-1.7-.1-1.3 .2-.6 .4 1.1-.6-2.2 .4-1.5 1-.5-.1-.7-.4-1.9 1.3-1.1-.8-1.1-.3-.6 .3-2.1 .6 3-.2-.1 .3 1.8 .8-2.6 .3 3.5 0 1 .5-.5 .7 2.8 .5-.1-.6-.3 1.1 4.6 .1-1.7 .6 1.7 .5 3.2 .5 1.9-.3-1.2 1.5-1.1-.5 2.8 .7-.5 .4-.3 .3 2.9-.2 2.6-.1-3.2 .9 .5 .3-3.4 1.1-1.6-.5 1.5 .7-.6 .6 1.8-.5 .5 .6 1.3-1.6 .8 2.1 .6 .5 2.1-.3 0 .7 2.2 .8-.5 .4 .6-.9 3.2 .5-1.4 .3 1.4 .6 1 .4 .9-.1 2.3 .7-.5 .2-.8 .7 2-.4 1.8 .5 1.7 1.2-.9 .1 .6 .2 1.4-.3 2.5-.2-.7 .1 .5-.2 2.3 1 1.4 .7 .7-.2 0 .3 .9 1-1.1-.6-.8 0-.8 1.9-1.7-.9 0 .7-1 .1-1.8 .2 .3 .1-1.2-.3-1.7-.3-.5 .3-.6 .1-.6 .3-1.2-.6-1.1 1.3 1 .7 .3 1 1.1-1.4 2.3 .1 0 1.8 1.6-.6 .1 .4 .3 1 1.1 .3-.2 .2-3.1-.6 1.3 .7-2.6 .6-.4-.5-.2 .4-1.4 0-1.4 1 .3-.8-2.1 1.3-1.2 .2-2.1 1.2 2.8 .5 1.6 1.3-1.5 .5-1.5 1.2-.5 .9 1.9 1-.7 .3-1.1-.6-.7 .8-.1 .5-1.2-.3-.7 .2-4 .2 1.5 .8-.9 .6-1.3 .4-.7-1 .4 .9-.1-.1 1.8 1.3-.3-.5 1.3 .4 2.4-.8 .5 .5 .8-.1 .6 .9 1.7 1.4 1.7-1.1-.4 .4 1.8-.8 .8 .6 1.1 .5 2.5 0-.9 .8-6.7 .1 2.8 .3-.6 1 2.4-.1-1.4 1.2 2 .2 1.4 .3 0 .7-2.2 .3-.2 .5-1.8 .2 .4 .9-.3 .1 2.4 .4-.1 .5 2.6 .7-.2-1.4 4.1 1-1.1 .1 0 .3-1.5 1.1-1-1.1-2 .7 0 .7-1.4-.7-.6 .8-.6-.3-1.5 .9-1.2-.1-.8 .3-.6-.2-1.7 .1 .5 1.4-1.8-1.4-1 .4-2 .2-1 .3 .7 .3-2.7 .1 0-.7-.6 1.3-2.9 .1 2.2 1 .6 .1 .5 0 2.7 .6 .4 .2 .4-.4 .4-.9 2.1 .6 .2 1.2 .5-1 1-.1 1.2-.5 .3 1.1 1.1 0 1.4 .3 .9-.1 2 .7 .6-.3 .7 .5 .4-.7 1.4 .4 1.5 1.1-.2-.4 2.3 0 1.1 .6-1.1 1-2.2 .4 .2 .9-1.1-.9-.8 .7-1.3 .4-2.3-.5-.6 .8-.4 .4-1.3-.4 1.4 .6-1.8 1.3-2.9-1.2 5.3 1-.9-.3-.6 1.1-1.2 .2-.3 .6-1.6-.3-.9 1.2-1.1 .5-.1-1.1-1.5 1.2-2.1 1 .8-.3-2.3-.2 .3-.7-1.3 .3 0 0 1.2 1-.9 .8 2 .3-2.6 .3 2 .1 2.5-.4 1.1 .7 .3-.1 .6 .3 1 .4 1 .5-.9-.4 3.1 1.1-.1 .2 .2 .3-1.1 .5-.6 1.1-3.3 0 1.6 .5-1.3 .9 1.1 .4-1.7 1.4 3.3 .8 1.4 .5-2 .8 3.1 1.1-.1 .7 3-.3-3.3 1.6 3.6 .2-1.1 1-.2 .6 .7 .8 1 .8 0 .2 1.5 .8 1.1 .8 .1 .2 1.8 0 .1 1.2-.3-.1 .1 .6 1.5 .1 .6 .1 1.4 .1 1.1 .5 3.1 .2 0 .5 .1 0 1.8 1.1 .2-1.7 2.8 .3-.4 .3 .2 .9 1.2-.6 1.5-.1 1 .5 2 .6-1 .1 1.9-.9 1.5 1-.7-1.2 1 .4 2 1-.9-.3 3 .7 .9 .5-1 .7 0 .5-2.1 .5 2.7-.1-.1 .8-1.2 .7-.4 .5 1.5 .1 1.9 0-.7 .9-1.2 .3 .7 0-1.4 .3-1.2-.4-.1 .2-1.7 1.1-1.8 .1-.2 .3-1.1 .2-1.5 .4-.1 .4-1.9 .8-1 .6 1.8 .2 .1 .7 2.9 1.3-1.2 .4-2.1 1 .3 .4-.6 .5 .9 .3-.4 1 1.4 .2 1.2 .7-4.6 .2-1.6 .3-.4 1.1 .2 .2 .3 .4 1 .6 .8-.5 .5 .4 2 .4 .6 .3 1-.3 .1 1.5 .9 .3 .4-.5-.4-.2-.4-.4-.5 .3-2.1 .3-1.1-.3 .7 .2-1.5 1.1-1.3-.5-1 .4-.2-.3-2.4 .4 1 0-1.9-.2-1.2-.1-1.7 .4 .2 .3-.9-.3 0 .2-3-.1 .2 .4-1.4 .9-2.5 .2 0 .2 .8 .5-1.9 .3 2 .8-4.9-.1-.7-.5 .9 1.2-1.8-.3 0 .5-1.3 .6-2.1 .6 .3 1-.6 .4-.4-.9-1.4 .6-2.6 .6-.9 .7 1.1 .3 .5 1.2-.8 .2-1.3 .1 2.2 0 .2 .4-.6 .7 4.5 .4 .1-.2-.1 .2-.6 .8 1.7 .2 3.1 .6 .8 .3 2.1 .4-2.5 .5 .9 .1 3.4 .6-3.3-.1 2.9 .5-1.1 .4-.6 .5-1.3-.8-1 .7 .4 1.2-1.4 .4-.6-.2-2.3-.4 .6 .4-1 .8-2.1 .5 .1-.4-.4 .3-2.9-.4 .8 1.2-2.5 .3-.1-.2-.1 .5-1.6 0-1.4-.7-.6 1.5-2-.9 .4 0-.8 .8-2 .3-1.4-1 2.4 .4-1.2 .6-2.8 .4-.9 .8-1.1 .2 1.8 .3-3.3 .6 1.8 .8 1.5-.7 .6 .7 .3 .2 1.8-.2-.6 .6 1.8-.5 1.4 .9 1 .8-2.6 .3 0 .3 3.7 .1-.4 .6 2.4 .5 1.7 .4 3.5 .2-.5 .3-1 .1 2.9 .1 1.5 1 4.1 1.1-5.8 .7 1.6 1 .5-.7 1.6 .7-.7-.2 2.8 .6 .5-.7-.1 .5 1.4 .2 1.5 1.8 1.1-1.2-.2 .9 1.9 .8 .7 .1 .3-1.1 1.9 .4 1.1 .4 .2-.7 1-.1 1.9 .5 .4 .4 .7-.2 .9 1.8 .7-1.2 1.7 .7 .8 .9 2.3 .8 .5 1.2 0-.3-3.2 .6 .4-.1-.9 .3-.4-1.4-2.2 1.7 .1-1.6-1.2-.4-1 1.3-1 .4-.7-.2-1.3-.6-.3 .4-.7 .2-2.2 .3 .2 .2-.7 .5-1.6-.1-2-.3 .6 .9-.1-1.4-1.3 .9-2.4 .3-.7 1.2-1-.6-1.8 .4 .1 .8-1.3 .1-.8 1-1.1 .3-1.2 .2 .2-.2-.8 .6-.9-.5-1.1 .5-.7-.4-1.3 .4-1.3-.2-.6 .9-.3 .3 .9 .3-1 1.3 1.8-.5 .2 .4 2 .2 .8 .1 .8 0 1.4 1.3 0-.9 2.1 .5-3 .9 3.5 .5 3.5 .8-4.7 .5 3.1 .7-4.1 1.1-1.4-.3-3 1.7 .5 .1 1.3 .5-.1 .6 .9 .2 1 .2 .8-.9 1.7 .4 .3 1 1.2 .2 1.1 1.2 .8-.1-1.1 0 2.1 .5 .7 .6-1.8 .8 3.7-.2-.6 .7-.7 .1 1.8 .3 3.8 .5 .7 .6 .7-.3 1.3-.3 .9 1.1 .6 1 .4 .7 1.6-.4 1.6-.3 .9 .3 .4 .9 .4 .3-2.8 .3-.1 .7-1.8 .3-1.3-.5-.7 .9-1.6 0-.5-.2-.7 1.6 .2 .1 0 .3 1.8-.5 1.5 .7 .1-1.2 0 .3 1.2-.1 1 .8 3.3-.2-1.4 .3 2.3 .5 0-.3 .4 1.2 1.8-1.5 1.4 .9-.1 .9 1 .7 1-.5-.8-.1 .7-.1-2.2 .5-1 .3-1 .7-2.3-1 1.5 .1-1.8 .1-1.5 .4-.4-.6-2.1 1-.4 .2-.5 .6-1.2 .1-1.4-.1-.4 1-4.5 .6 .8 .4 .9 .4 1 .9 2.5 .3 1.9-.1 1.1 .2 .4 .6 .4-.2 1.7 1.4 1.4-1.2 .5 1.2 .7-.1 1.2-.7 1 .8 2.1-.3-.9 .1 .6 .8 2 0 1.1 .5 .1 .7 .4-.2-2.9 .1 .9 .4-.9-.3-2.2 .2-.7 .6-2 0 .4 .2-1.2 1-1.4-.5 .7 .5-1.7-1.1-2.8 .9 .5 .5-.8-.1-.2-.5-1.7-.3-1.2 .8-1.4 .2-1.3 .3 0 .6 .5-.9 1.8-.6 .9-.9 .7 1.8 .6-.2 1.9 2.1 .8-2 .4-.9 1.3 .3 1.3 0-1 .2 2.1 1.1 .8-.4 2 0 .1-.4 1.1 .8 1-.1 .1 .5 1.1-.3 2 .5-.3-.5 2.5 .7 1.8-.9-1.8 .8 .5 .1 3.3-.5 .2 .6 1.1-.1 .1 1.4 2-.3 .1 .1 .7 .4 2-.4 .4 .9-.1 .4 2.4-.1 0-.3-.8 .9-.8 .2-.7-.3-1.3 .5-1 .4-1 0-.7-.2-1.4 .9-.2-.4-.8 1-2.4-.6-.3 .6-1 .5-.8 0-1-.1-.8-.2-1.1 .6-1.2-1.1 .4-.1-1.4 .3-.1 .6-1.2 .3-2.5-.1 .9-.2-1.9 .3-.6-.1-.6 .5-1.2 .1-.5 .1-1.6 .3 0-.4-2.4 .9-.8-.2-.5 .3-2-.4 2.7 .6-3.1 .3 .5 .3-3.4 .9 1.1 1.2-2.3 0 1.5-1 .2 .7 .5-.5 1.9 .7-.4 .3 2.4-1.5 1 .8 1.2 .8 .5 .2-.1-.4 1.4 1.5 .8-.6 1.1 1.1 .6-.7-.3 .6 .6-.2 3.5 .2-.7 .2 2.7 1.1 2.1 0-.4-1.2 .7 .6 .9 .5 2.1 .3 .1 .1 1.1 1.1 .7 .4 .8-.7 .2 1.2 2-.9 .5-.3 .6 .6 1.2-.2 .5 .2 .3 0 2.2 .2 .7 .7 1.5-.1 .7-1.3 1.8 .3-.4 .4 2.6 .6-.2-.5 1.6 .3-.7 .1 1.4 1.2 1.6-1.2-.2 .2 1.9 1 .5-.5 .4-.3 1.5-.5 1.9 .1 4.6 .7-1.6 1.1 .1 1.4-2.5 0-.1 .7 2.4 .3 .1 .6 .8-.9 .8 .4 2 1 .1-.3 .1 0 1.9 1.1-2.7-.3 .4 1-.1 .3-.9-.4-1.9 .6-.4 .8-.2 .1 .7 .8-.7 .5 .5-1.1 1.5 .3 .3 1.4 .6 .4 1.2-1 1.5 0 .1 0 .5 .5 1.7 .7 1.1 .5 1.7 .1-1.2 .1 .5 .6 3.2 0 1-.1-1.3 .7-.9 .5-1.4 0 .4 .5-3.5-.1-.2 .9-.5-.4-.7-.3-.7 .5-1 .6 .8 .6-1.3 .4 1.7 .3 3.7 1 1.5 .2-.7 .7-1.1 .3-4.6 .9-.9 .1 1.4 .1 2.1-.6-.8 .3 2.1 .7 1.5-.6 .1 1.2 1.4 .6 1-.6 0 0 2.5 .7-.1 1.1 1.3-.9-1.3 1.4-1.1 .9-.9-1.5-.3 1.2-.1 .4-2.1 .2-1.6 .1-.2 .8-1.6 .6-.5-.5-.8 .1-.7-.1 .8 .8 0 .6 1.2 .3-2.8 1 2.8 .4-3.9 .6 2.3 .1-2 .9 2.7-.1-4 0-1 0-.9 0-1 0-.9 0-1 0-.9 0-1 0-1 .1-.9 0-1 0-.9 0-1 0-.9 0-1 0-.9 0-1 0-1 .1-.9 0-1 0-.9 0-1 0-.9 0-1 0-.9 0-1 .1-.9 0-1 0-1 0-.9 0-1 0-.9 0-1 0-.9 0-1 .1-.9 0-1 0-1 0-.9 0-1 0-.9 0-1 0-.9 0-1 .1-.9 0-1 0-1 0-.9 0-1 0-.9 0-1 0-.9 0-1 .1-.9 0-1 0-1 0-.9 0-1 0-.9 0-1 0-.9 0-1 .1-.9 0-1 0-1 0-.9 0-1 0-.9 0-1 0-.9 0-1 .1-.9 0-1 0-1 0-.9 0-1 0-.9 0-1 0-.9 0-1 .1-.9 0-1 0-1 0-.9 0-1 0-.9 0-1 0-.9 0-1 0-.9 0-1 0-.9 .1-1 0-.9 0-1 0-1 0-.9 0-1 0-.9 0-1 0-.9 0-1 0-.9 0-1 0-.9 0-1 .1-.9 0-1 0-1 0-.9 0-1 0-.9 0-1 0-.9 0-1 0-.9 0-1 0-.9 0-1 0-1 .1-.9 0-1 0-.9 0-1 0-.9 0-1 0-.9 0-1 0-.9 0-1 0-.9 0-1 0-1 0-.9 .1-1 0-.9 0-1 0-.9 0-1 0-.9 0-1 0-.9 0-1 0-.9 0-1 0-1 .6-1.1-.5 .5 1.1 2-.2 1-.2 .3-.2 2.3-.7-.2 1.7 1.8-1.3-1 .6 2.2-.3 1.8 1.4 .8-.8 1.1-.2-1.1-.2 2.4 .8 1.2 .5 .9-.8 .6-.2 .8 1.4 2.1-1.1 .7 .5 .3-.4 1.4-.1-.5 .2 2.2 .3-.6 .3 2.1 .6 .3-.1 .5 0 .7-1.1 2.3 1 1.7-1.1-.9 0 1.8 .8 1.6 .7 .7-.1-1.5-.5-.5 .3 .3 .8-2.6-.3 .6-.2-1.7 0-1.3-.3-.4 1.1-.1 0-3.4-.4 .6-.5-.5 0-1.3 .7-.7-1-1.3 1.7-1.5-.4-1.1-.5 0 .6-1.7 0-.5 .3 .8-.6 1.8 .9 .8-.9 .8 1.1 .4-.4 .7 .7 1.8 .7-.8-.8 1.6-1 .9 .3 1.5 1.2-.1-.4 2.3 .6 .5-.2 .7 .5 1.6 .2 1.2 0 1.1 .2 .2 .1 1.2 .1 .5 .3-2.4-.4 .8 .3-1.9 1-.5-1.3 .1 0-1.3 .5-1.8 .2-.5-1.1-.2 .9-1.7 .5-2.2 .3 .3 .4-.8-.5-1 1.1-.5-.1-2.4 .3 2.3 .3 1 .1-.2 .5 2.2-.9 .3 .8 .7-.5-.1-.7 3.5 .3-.6 .2 1.7 .1-.9-.1 2.3 .6 1.3 .5 .5-.4 1.2 .9 .6-.1 1.6-1.2 .8 .6 .1-.1 1.9-.2 1.4-.3-.6 .2 1.7 0 1.1 1.1 0 .2 2.3 .2 1.9-1.4-1.6 .3 2.4 .7-.3 .1 2.7-1.5-.2 1.2 1.6 .2 .3 .3 .3-.3 1.6-.4 .7 1.2 1.9-.1-.4-.1 1.3-.4 1.2-.4 .3 1.1 .7 .7 0-1-.1-.9-2.9 .7 .4 .3-1.3 .3-.5-.2-1.3-.2-1.5 .6-1.3-.4-.7-.2 0 .3-1.8-.1-.7 1.1-.9-.4-.8-.4-1.6-.4-.8 .1-1.8 .8 .4-.2-.9-.3-.9 1.5-1.9-.4-1.3 .3-.7 .1-.8-.5-1.6-.2-1.5 .9-1.5-.3 4.9-.1-2.3 .6-2.4-.1-1.5 .4-1.1 .2-.8 .6 .3 .2-3.8-.1 .8 .5-1.6-.1-.3 .4-.7-.1-1.5 .5-2.2 .3 .5 .6-2.2 .1 .5 .3-.9 .3 1.5 .5-1.7 .5-1.4 1 2 .6-1.6 .8-.9 .3-1.7 .9-.1 .5-1.4 .8-5.7-.6 2-.1 0 .7-.8-.3-2.1 .3 1.2 1.9-1.7-.5-2.7 1 .6 .5-.9-.7-.7 .5-1.5 .6-.8 .5-.3 .2-1.5-.4-.2 .2-2.4-.5-.6 1.3-1.8-1.1 .9 1.3-.8-.1-2.3 .5 1.7-.5-1.1-.2 2.5 .2 .2-1 2.6 1.5 .8-.2 .2 .3 1.5 .7 0 .2 1.4-.4 1.3-.4 .4 1.1-.4-.2 1.8-.1 2.3 .6 .7 .6 .2-1.1-.3 .9 2-.1 1.1 0 .7-.4 1.9 .9 .1-1 1.7 .8 .5 .2 .8 .1 1.1 .3 .1 .1 .4 0 2.1 1 1.6 .3 .9 .9 .7-1.5 1.2-.1-.2 .3 1.2 .4 .8 0 3-1.4-2.7 1.2-.5-.8 .4 .9-3.7-.7 2 1.7-2.6-.9-1.1 .3-2.6 .1-.2-.2 .8 .6-1.3 1 .4 .2-2.7-.6-2 1.7 .4-.9-1.7 .6 1.3-.6-2-.5-.4 1-1.6-.2-.8 .1-1.2 .6-1.3 1.4 .7-1.1-1.7 .7-.7 .3-1.9 .5-.5 .2 3.9 .4-6.4 .2 1.7 .5-1.2 .6 1.5 .9-4.8-.3 2.4 .3 .6-.2-.7 .7 3.3-.4-.5 .3 1.4 .5-.1 .8 .4-.8 1.7-.3 1.7-.3-.2 .5 2.9 .4-.8 .6 2.1-1.4 0 .6 2-.1 .3 .5 .2-.4 .6 .7 1.7 0 .9-1.1 .3 .6 1.2-.9 2.2-.5 1.1 .9 .6 .3 .6 .6 1.7 .8-3.1 .2 2.2 1.8 .5-.2-1.8-.2-.6 .6-1.7-.8-.7 .2-.7-.5-.8 0-1.9 .9 0-.8-2.7-.4 .4 .6-1.3 .4-.5 .6-1.3-.8-.4-.3-2 1.2-1.2 1.2 1.8-.8 .1-.3 2.4 .5-.6 2.1 1.3-1.1 0-.1 3.1 .2 .5-.5 .2 1.2 .5 .6 .9 .1 .5-.8 1.4 .5 .6-.2 2.2-.2-2.5 1 1.1 .3-1.2-.8-.5 .4-2.1-.2 .3 1.2-2.3 .1-.7-.1-2.2 .3-.4 1.5-.5-.1-.9 1.3 .1-1.4-1.8 .5-1.5 .8 .1 .8-.6 .6-2.7-.3-.2-.9-.7 1.6-.4-1.8-.1 1.5-2.3 .2 0-.4-2.4 .7-.8 1.1-2.7 .3-1.2 .5 1 1.2 1.3-.1-1-.6-1.8 .8 1 .1-2.7 .8-1 .2-1 .4-1.3-.1 .6 .1-1.9-.2-.4-.4-1.1 .7-.6-.5-.7 1.7-.4-.3-.3-.9-1.8 1.1-2 .2-.7-.4-1.4-.2 0 1.4-.7 .1 .2-.7 2.4 1.2-.7 1 2.2-.5 1.6 .2-.4-.2 1.4-.2 .6 .8 1.3-.9 1.2 1.3 .6 .8-.2 .3 2.6-.7-1.7 1.5-2.2-.7 1.4 .4-2.7-.1-.9-.6-1.4 1.2 .4 0-1.7 .2-.4-.3-1.8-.3 .5 .5 .5-.2-3.4 .8-.5 .9-.6 0 .9 0 1 .1 .9 0 1 .1 1 0 .9 0 1 .1 .9 0 1 0 .9 .1 1 0 .9 .1 1 0 .9 0 1 .1 .9 0 1 .1 .9 0 1 0 1 .1 .9 0 1 .1 .9 0 1 0 .9 .1 1 0 .9 .1 1 0 .9 .1 1 0 .9 0 1 .1 1 0 .9 .1 1 0 .9 .1 1 0 .9 .1 1 0 .9 .1 1 0 .9 .1 1 0 .9 .1 1 0 .9 .1 1 0 1 .1 .9 0 1 .1 .9 0 1 0 .9 .1 1 0 .9 .1 1 0 .9 .1 1 0 .9 0 1 .1 .9 0 1 0 .9 0 1 .1 .9 0 1 0 .9 .1 1 0 .9 0 1 0 .9 .1 1 0 .9 0 1 0 .9 .1 1 0 .9 0 1 .1 .9 0 1 0 .9 0 1 .1 .9 0 1 0 .9 0 1 .1 .9 0 .9 0 1 .1 .9 0 1 0 .9 .1 1 .1 .9 0 .9 .1 .9 .1 1 .1 .9 0 .9 .1 .9 .1 .9 .1 1 .1 .9 0 .9 .1 .9 .1 .9 .1 1"/>
<text class="t" x="964.5" y="1468">COMMUNICATION SERVICES</text>
<path d="M1128.2 1671.7H1182" stroke="#0000ff" stroke-width="4.2" stroke-linecap="round" fill="none"/>
<text class="lg" x="1200" y="1681.7">(14.9)</text>
<text class="d" x="1644.6" y="1571.8" textLength="51.6" lengthAdjust="spacingAndGlyphs">3/24</text>
<text class="an" x="1567.7" y="1691.5" text-anchor="middle">Media &amp; Entertainment</text>
<text class="an" x="1567.7" y="1717.3" text-anchor="middle">added</text>
</g>
<g id="panel11">
<rect x="104.2" y="1766.8" width="785.4" height="298.8" fill="#000"/>
<rect x="109.8" y="1771.6" width="774.2" height="289.2" fill="#ffffe6"/>
<path d="M87 2063.7H104.7M97 2039.1H104.7M87 2014.6H104.7M97 1990.1H104.7M87 1965.5H104.7M97 1941H104.7M87 1916.5H104.7M97 1891.9H104.7M87 1867.4H104.7M97 1842.8H104.7M87 1818.3H104.7M97 1793.8H104.7M87 1769.2H104.7" stroke="#000" stroke-width="2.2" fill="none"/>
<text class="ax" x="80" y="2072.8" text-anchor="end">8</text>
<text class="ax" x="80" y="2023.7" text-anchor="end">10</text>
<text class="ax" x="80" y="1974.6" text-anchor="end">12</text>
<text class="ax" x="80" y="1925.5" text-anchor="end">14</text>
<text class="ax" x="80" y="1876.5" text-anchor="end">16</text>
<text class="ax" x="80" y="1827.4" text-anchor="end">18</text>
<text class="ax" x="80" y="1778.3" text-anchor="end">20</text>
<path d="M107 2064.7V2086.7M155.8 2064.7V2086.7M204.5 2064.7V2086.7M253.2 2064.7V2086.7M302 2064.7V2086.7M350.8 2064.7V2086.7M399.5 2064.7V2086.7M448.2 2064.7V2086.7M497 2064.7V2086.7M545.8 2064.7V2086.7M594.5 2064.7V2086.7M643.2 2064.7V2086.7M692 2064.7V2086.7M740.8 2064.7V2086.7M789.5 2064.7V2086.7M838.2 2064.7V2086.7M887 2064.7V2086.7" stroke="#000" stroke-width="4" fill="none"/>
<text class="ax" x="131.4" y="2097.7" text-anchor="middle">06</text>
<text class="ax" x="180.1" y="2097.7" text-anchor="middle">07</text>
<text class="ax" x="228.9" y="2097.7" text-anchor="middle">08</text>
<text class="ax" x="277.6" y="2097.7" text-anchor="middle">09</text>
<text class="ax" x="326.4" y="2097.7" text-anchor="middle">10</text>
<text class="ax" x="375.1" y="2097.7" text-anchor="middle">11</text>
<text class="ax" x="423.9" y="2097.7" text-anchor="middle">12</text>
<text class="ax" x="472.6" y="2097.7" text-anchor="middle">13</text>
<text class="ax" x="521.4" y="2097.7" text-anchor="middle">14</text>
<text class="ax" x="570.1" y="2097.7" text-anchor="middle">15</text>
<text class="ax" x="618.9" y="2097.7" text-anchor="middle">16</text>
<text class="ax" x="667.6" y="2097.7" text-anchor="middle">17</text>
<text class="ax" x="716.4" y="2097.7" text-anchor="middle">18</text>
<text class="ax" x="765.1" y="2097.7" text-anchor="middle">19</text>
<text class="ax" x="813.9" y="2097.7" text-anchor="middle">20</text>
<text class="ax" x="862.6" y="2097.7" text-anchor="middle">21</text>
<path class="ln" d="M107.9 1829.1l1.1-1.5 .6 4.7 .2-1 .9 2 1.1-1.8-1.3 .8 .7-.8 .1-2.5 0-1.1-.6-1.4 1.1 .2 .1 0 .5-2.2 .2-1.7 .8-1.8 .5-.6 .6 2 .6-1.5 .4 .1 .3-.6-.9 2.1 1 1.3-.6 .8 .5 1.8 1 1.6-.4 .5-.3 1.5 1.2-.4-.1 1.9 .5 .3-.3 .5 .5 .7 .3 1.7-.6 1.8 .6 .5 .4 .7-.1 .9 .6 1.2-.7 1.1 1 1.2 .7 1.1 0 .8 .5 .2-.4 .4 .3 1.6 0 1.1-.1 .3-.9 2.4 .1-.1 1.5 .6-.2 1.3 .2 .8 .5 1.3-.3 1.3-.5 1.2 .4 .5 .4 1.3-.3 .2 .6 2 1 .9 .3 .2 1 .6-.1 .2 .5 1.5 .8-1.7 .3 1.1-.1 1.9 .6 1.1 .8 2 .3-2.4 .5 3.6 .1-1 0 1.9 .1 .4 .4 1 .2-1 .7 1.3 .3 .7 .7-.3 .1-.9 .4-.2 .5 .5 .9 3 0-1.5 1.7-.9-.5-1.3-.5 .5 1.2-1.9-.5-1.4 .7-.8-.8-1.6 .5-.4-.3-1.6 .2-.6 .4-.1-.3-1.6 1.5-.5-.7-.8-.1-1.5 0 1-.3-2.3-.1-.2 1.5 .2 .4-1.1 1.3 .2 .6-1.1-.4-2.7 .3 2.3 .7-1.2 .1 0 .6-4.3 .7-1.3 .7-3.1 0 2 1.3 .4 .5-2.3 .5 1.4 .5-.7 1.2-3.3-.6-1.1 .7 .2 .7-1.1-.4-1.5-.1 1.2-.1 2.4 .7 0 .2 1.6 .9 .8 .2 1.1 .4 .5-.6 0 .3 1.4-.6 .3 .2 2.6 .6 .8 0 .8 .2 .7 .1 .4 .9 1.1-.6 .3 1.8 1.9 .7-.2 .6-1.6 1.4 .7-.2-2.8 1.6-.6 .2 1.1 1-2.6 .2-.2 .9 .9 .5-2.9 .5-.6 .3-.7 .4-.6 1-.7 .3 1 .3-4.7 1 1-.2 1 .1 .2 .2-1.2 .6 .9 .2 .9 .6 1 0 1.7-.8 3 .5 .8 .3 1.8 .6 .6-.1 .6-.3 1.2 .4 2-1.1 1.4 1.6 .5-.3-1.1 .4 .9-.3 1.8 .3 1.4 .3 .3 .2 .9 .6 2.1-.5 .2 .6 .1 .2 .4 .5-3.2 .6-.2-.1-.1 .6 1.2 .5-.8 .2 1.2 .5-3.8 .4-1.3 .5-1.5 0-.1 .7-1-.1-1-.3-1.2-.1-.4-.3-1.5-.3-.9 1.1-.9 .4-1.3 .7-1.9-1 .5-.3-.9 1 .1-.4-1 .5-1.9-.1-.9 0-.1 .6-1.7 0-3.7 1 2.7 .7 3.5-.4 .6 1.5-.3 .3 3.4 .5-1.7 .4-2.2 1 3 .4-.4 0 .9 .7 .9 .6-.6-.3 3.5 .3-1.1 .3 2.2-.8 .5 .8 0-.2 1.5 1 2.2-.6 .4 1.4 .7 .2 .8-.8 1.3 1.2 .9-1.2 .5 .4 .2 .7-2.2 .8 1.2 .8 .3 1.8-.3-1.2-.1 .9 1.4-1 1.7 .2 .5 .3-.1 .4 .2 .2 2.1-.8 .6 1.2 1.8-1 .9 .2 .5 .5 1.5 .1 .8-.3 2.1 1.4 0-1.9 .5 0 2 .7 .6 .4 1.3-.7-.6 .3 2.5 1.7 .2-.2 .7-1.1 1.1 .7-.5-.1 1.4 .3 2.3 .6-1.7 .2 .6 .3 0 0 1.1 .5 4-.3-.2 .9 3.5 .1-.1 .3-2.4 .5-.1 .6-2.1 .5 .4-.5-.7 1-1.1 0-1.1 .3-.2-.3-1.1 .4-1.9-.1-.8 .3-2.9 .1-.2 .2-2.8 .6-2 .3 .4 .6-.1 .4-3.3-.1 2.7 1.2-1 .1 1 .6-.2 .5 .2-.2 .9 .9-.4 .2 1.5 .2 .1 .7 4.8-.1 .4 .4 .7 1.3 .8 .2-.5 .3-.2-1 3.1 2.8-.4-1.2 .2-.6 1 .7 1.4 1.3 .2-1 1.5-.1-.7 .5-.5-.1-2.1 .3-.1 .8-1.7 .3-.5-1-1.3 1.1-1.3 .8-.4-.1-1.2-.3-1 1-.9-.6 1.4 1.4 1.2-.1 .5 .9 1.3-1.5 .8 .7 .7-.1 .7 .5 1.4-.3 2-.1 .2-.4 .7 1.7-2.2 0-.7-.2-.3 .2-3.2 1 1.7 .3 1.5 .5-.9-.5 .2 .7-.7 .5 .3 0 2.7 .5-.7-.8 1.5 0 1.6 .5 1.3 .3 .2-.3 .5 .1 1.1 .4 1.6 .7 1.8 .5 .9-1.4-1 1.1 1.5 .1 .4-.3 2 .8 .2-1.4 2.8 .1-.1 .9 .2 1.4 1.1-1.5 1.3-.7 .7 1.1-.3-.1 2.8 .7 0 1.1 .1-.5 2.4-1.1 .1 .5 1.6 .6 .1 .1 1.7-.6 0 .9 1.8-.5-2.7 .5 2.7 .5-4.6 .9-.4-.2 1 .4 .7-1.1 .1 .5 1.9 .1 .4-.5 .2 .2 2.6 .2-1.3-.3 3.8-.2-.6 1.4 .7-.4 .1-.5 2.4 .6 .5 0 .2 1 1.7-1 1.2-.2 1 1.5 1.3-.5 .1-.1 .4 .7 1.8 .2 .6 .1 2.1-.4-.6-.5 1.9-.3 .2 .9 .7 .1 .7 .2 .7 .2 2.2 .1 1.7-.5 .2 .2 .9 .3-1.1 .9-1.1 .2-1.2-1.4-1.4 1.6-.2 .2-1.2 .8-.6-.2-1.3 .7 .2 .7-2.3-.8 2.1 .7 .1 .6-3.6 .3 .9 .7 4.1 .7 .8 .3-1.7 1.3-1.8 .2-.2 .1-1.1 .7-1.3 .8 .7 .6-2.1 .9 1.1-.1 3.1-.3 1.9 .6 2.3 .5-.2-.7-.3 1 1.4 .2 .4 0 2.4 .3 1.7 .3 0 .3 .5-1.5 1.7 1.3 .7 .9 1.6-.6-.6 .5 2.1-.8-.1 1.3 1.7 .2 3 .8-2.2-.1-1.9 0 .9 2-4.7 .2-.7 1.5-2-1.4 1.4 .6-1.6 .5-2.2-.1-1-.5-1.1 .4 .6 .3-1.5-.9-1.5 1.9-.2-.8-1.7-.6-1 1.7-.1-1 .1 0-2.4-.3-1.1 .9-.3 .2-1.4-.2-1.1 .6-.2 .3-.5-.3-1.7 1.2-1.9 .1-.2 .8-1.2-.1-.6-.2 3.3-.7 .7 1.4 .2-.2 .1-.1 1.7 .7 1.9 0 .5 .3 .7 .2 1.7 .5-.1 0 1.1-.4 .5 .6 2.1 .4 1.1 .1-.2-1.1 .8-.2 1.7 .4 .8 .7 .6-.2 1.4 .6-.3 .5 1 .5 2-.3 1.4 .4 .2-.2 .8-.3 1.1 .6 1.9 .1 1.6-1.7-.2 1.6 .6 .2 2.7-.2 .4 .2-.7-.1 1.9 .6 1.5 .5 .7-.1 0-.5 1.3-.1 .7 .5 .6 .5 1.5 0 .9 .1 .9 0 1 0 .9 0 1 .1 .9 0 1 0 .9 0 1 .1 .9 0 1 0 .9 0 1 .1 .9 0 1 0 .9 0 .9 .1 1 0 .9 0 1 0 .9 .1 1 0 .9 0 1 0 .9 .1 1 0 .9 0 1 0 .9 .1 .9 0 1 0 .9 0 1 .1 .9 0 1 0 .9 0 1 .1 .9 0 1 0 .9 0 1 .1 .9 0 .9 0 1 0 .9 0 1 .1 .9 0 1 0 .9 0 1 .1 .9 0 1 0 .9 0 1 .1 .9-.6 .7 .3-.6 .3 .3 1.1-2.1-.8-.4-.2-1.9-.3-.1 .6-.9 .6-2.8-.3 .5 0 .2 .6-2.3-.2-.3 .1-1.3-.3-1.2 .8-.1-.8-2.3 1-.9-1.3-1.6-.1-.4 .2-1.4 .7 1-.2-3.1 .4-.9 .4 .1 .3-1.7-.5-.9 2-.8-.9-.7-.1-1.1-.9-1.1 1.3-.9 .1 .9 0 1 0 .9 .1 1 0 .9 0 .9 .1 1 0 .9 .1 1 0 .9 0 .9 .1 1 0 .9 0 1 .1 .9 0 .9 .1 1 0 .9 0 1 .1 .9 0 .9 0 1 .1 .9 0 1 .1 .9 0 1 0 .9 .1 .9 0 1 .1 .9 0 1 0 .9 .1 .9 0 1 0 .9 .1 1 0 .9 .1 .9 0 1 0 .9 .1 1 0 .9 0 .9 .1 1 0 .9 .1 1 0 .9 0 .9 0 .7-.5-.6 1.1-1.4 .2-.8-.4-1.6 .3-.3-.6-1.5-.1-.6 1.3-.8 .1-1-.5 .2-.5-1.6 .3-2.3 .4-.9-.1 1.7-.1-2.8 .6-1 .2-1.1-.2-.4-.4-1.4-.1-.1 .7-2.6 .1 1.4 .2-1.7-.3-1.3 .5-1.5 .1-3 .6-3.9 .2 1-.9 3.3 .3-1.4 .6-.4 .4-2.3 .2-.2 .1-.9-.4-2.2-.1-.4 .1-.9 .4-1.4 .4-.9 .2 .3 1-1.8-.7-1-.1-.5 .2-.5 0-.2 1.4 1.1-1.1-.1 1.4-.3 .4 1.6-.5 1.1-.3 2.5 1-.3-.2 .5 .3 1.7-.7 .3 .9 .8-1.6 .5 1.9 1.4-.4 .2-.1-1.2 .4-.4 1-1.2 .1-.7 .6 .1-.5-2.7-.9-.2 .5 .1 .2-1.8 .3-.5 .2-1.5 .9-.7-.5-.8 .2-1.6-.1 0 0-1.4 0-.7-.5-.4 1.5-1.7 .4-.9-.4-.4 0-2.3 1-.9 .2 .1-.3 2.2 .2 .4 0 1.6 .1 1-.6 .7-.2 .4 0 .6 .3 2.6 1-.2-.2 1.3 .8 1.5-.1 1.3-1.1 .4-.2 1.3 .8 1.6 .4-.1 .5 1.1 0 1 .1 .9 0 1 0 .9 .1 1 0 .9 0 1 .1 .9 0 1 0 .9 .1 1 0 .9 0 1 .1 .9 0 1 .1 .9 0 1 0 .9 .1 1 0 .9 0 1 .1 .9 0 1 0 .9 .1 1 0 .9 0 1 .1 .9 0 1 0 .9 .1 1 0 .9 0 1 .1 .9 0 1 0 .9 .1 1 0 .9 0 1-.4 2.5 0-2.2-.1-2.1-.3-.5 .5-.2-.6-.2 .6-1.7 0-.4 .6-2.7 .1-.2-.1-.7-.2-1.6 .5-1.7 .4 .8-.9-2.4 .4-.2-.2-.8 .7-.7 .7 .4-.3-2-.3-.2 .6-1.4-.2-1.6 .2 0 .1-2.4-1-1.2 .7 0 .3-1.1 .1-.4 .9-.3 .3 2.1 1.5 .5-.2-.6 .1 2.5 .4-2.6 .4 .7 .2 2.1 .5-1.2 .3 2.4 .4-1.8 1.4-2.1-1.2 .3-.1-.5-.3-1.5 .5-.6 0 .1 1.3-1.8 .5-.3 .1-1.1-.4-1-.2-1.5 .9-.2-.7 2.2 .8-2.9 .9-1.1-.2-2.1 .7-1.1 .9-2 .2 3.7 .3 .3 .2-.9 .3 1.5 0 .9 .7 4.4 .3-2.3-2 2.9 1.6-2.6 .3-.7 .5-.1 1.7-1.6-.9-.1-1.2-1.8 .7-.9 .6-1.2-.1-.9-.1-1.7 .8 .2-.6-1.8 .7 .2 .9-2.5-2 1.6 .9-1.4 1.1-1.3-.8-1 .7-.4 .5-1.6 .3-.8 .9-1.6-.6-.1 .4-1.4-.6-1.4 2.3-.7-.7-1.1 .1-.9 .8 .7 .2 .7 .1-1.5 .6-1.6 .5-1.1 .1-.8 .4-1.8-.3-1.5 1.3 .3 .5 3.9-.1-.7 .3 2.4 .9-.8 .2 2.2 1.1-2 .2 1.1 0-1.7 .9-1.7 .7 .6 0-3.6 1-.3 .6 .8 .2-.8 .8-.3 1 .4-.5 2.7-1 .9-.2 0 1.4 1-.9 1 .4 1.2-.5-.7 .2 2.8 1.1-.6-.9 1.2 .2 1.6 1.1 1.3 .4 1.1 .1 0 .7 1.3-1.1 .5 .2 1.9 0-.6 .7 .8-.8-2.3 1.8 0-.3-.8-.4-1.4 .7-1.4 0-.7 1.4-.8-.7-2.6-.3 1.2 .4-1.8-1.3-.3 1.2-1.6 0-1.5-.3 0 1-.9 1-1.1-.1-2-.2-3.1 1.5 3.3 .2 .5 .7-1.3 .8-2.5 .4 .4 .1 2 .6-.8 .7-1.9 1.2-3.1-.1-.8-.8-.9 1.1-.7 1.1-.8-1.3-1.5 1.3-1.4-.7 2.2 .1 1 .6 .4-.8 .7 1.8 .6-.6 1.5-.4 1.4 1.2 .3-.8 .7 1.2 1.3 0 2.7-.2 .9 .3-2.6 .3 3.8 .5 .2 .2 3.1 .4-2.8 .1 3.1 .5 1.3 .4-.4 .1-3.5 .2 1.4 .3-2.3 1-1.6-.6-1.4 .8 1.7 1.1-1-.1-3.3 .8 1.8 .2-3.4 .3-1.7 .2 .5 .2 1.6 1.1 3.1-.3-.3 .4-1.1 .5 1.4 .1 2.3 .7-2.5-.3 5.3 .6-.3 .4 1.7 .2 .3 1.1 1.1-.7 2.8 .9-1.2-.4 1.4 1.5 1.4-.2 .8 .1 .7-.4 .2 .4 1.9-.8 1.6 1-.3 .4 1.9-1.2 1.3 .8-.2 .4 1.7-.1 1.2 0-.3-.5 .5 .1 1.5 .6 1.2 .8 .7-.8 1.2 1.4 .5-.7 .2 .8 .3 .8-3.2 .2 .4 .3 .8 .3 1.2-.3-.1 1 2.8 .4 1.4 .6 .8 0-.1 .9 .8-.2 2.6 .9-.1-.3 .4-.1 1.1 .1 .8-.4-.3 .2-.6 .4-1 .5-1.5 .9-1.1 .2-.5 .2-.9-.3-.9-.3-1.6 1-1.3 1.3-.7 1.1-1.7 .8 2.8-.7 1.6 1.2 .8 .3 .9 .3 1.3-.2-.2 .1 1.3-.9 .6 1.3 1.5 .4 1.7-.8 0 .3 2.1 .6 .1 .2-.8 .4-.6-.7-.7 1.5-1.6-.7-1.4 .6 .1-.5-1.2 2.6-.3-2.1-1.5 .5-1.3 .4-1-.4-.2 .3-1.3 .7-.3 .6-1-.5-2.4 .7 .5 .4-1 0-.5 .1-1.2 1.2-.4-.1-1.3 .2-1.8 .7-.4 .1-2.3 1.5-2 1.2 1.3 .5-.3 .4 .7 .6 0-.2 2.2 .9 2.4 .2 .3 .2 1.6 .3-.1 0 .5 .2 1.7 .4-1 .1 1.9-.1 2.6 .7-1.9 .9-.7-.5-.1 .2-.9-.3-3.7 .8 2 .6-1.6-.4-1.3 1-1.3 .2-.3 1.1-1.6 .7-1.3 1.3 1.2 .4-.4 1.1-1.1 1-1.6 .7 4.1 .3 .1 .3-1.5 .6-3.3 1-2.2 .4 .1-.7-1 .1 2.2 .6 .5 1.8 .8-.2-.1 .3 2-.8 .8 .8 1.6-1 0 .3 .6 .8-1 .6 .2 1.5-2 .4-.1-1.1-2 .4-.6 .6 .1-.2-1.5 .7-1.6 .4 1.5-.8-.9 .4-2.9-.5-.3-.3-1.5 1.6-.6-.5-.7 1.7-.5-1.4-1.5 .5-1.3 .3 .2 0-.7 0-2-.2-.3 1.5-1.8-.3-.3 .4-1-.1-1.2 .6-.2 .4-1.3 .6 .9 .8-2 0-1.7 .8-4.5-1 3.3 .9 1.4 .4 .8 .5 1 .4 2.7-.1 .1 0-.2 1.2 1.3 .4 .9-.9 1.3 .8 .5 .4 2 1.2 .6 .4-2.8 .7 1.3 .6 .6-.3-2.9 .7 .1 .3 1.2 .7-4.8 0 .9 .1-.5 1.4 1.8-.1 1.7-.5-.4 .1 1.7 .6 .3 .4 .6-.2 1.4 1.4 .1-1 .6-.8 1.1 .7 1.3 .6 1.5-.2 .6 .1 1.8 .4-1.2-.4 2 .5 .4-.5 1.3 .1 1.7 1.1 1.1 1.5 1.2-1.9 .3-.8-.2 .8 2.1-.7 .4 1.2 2.4-.6-.1-.1-.2-.4 2.4 .7 .5-.4 2.9 .7-.6 .4 .8-.3 .4 .7 .9-1.2 2.2 .4 .7-.2-.9-1.4 1.6 1 2-.4 .7 0 1.2 .6 .2 .4 .4 .3 3.7 .3-1-.5 1.1 .7 .8 .6 .8-.7 1.7-1.1 .1 .5 .9 .9 1.4-.8-1.4 .5-1.5 .4 .4-.2-.9 .4-1-.1-1-.2-1.5 .7-1.1 .6-1.4-.3 .5-.2-1.1 .3-1.4 .5 .2-1-1.8 1.6-1.2-1.2-1.7 .4-.2 0-2.5 .2 0 .9-.4-.7-1.4 .1-3.4 1.2 .2 .6-.7 .1 1.6-.4 1 .9 1.1 .4 2.3-.3-.1 .8-.2 0 2.3 .5 .9 .4 1.3 .5 1.6-.6 0 .4 .8-.9 .6 .9 1.6 .1 .3 .6 1.8 .9 .5-.3 .9-.7 1-.2-1.3 .7-.4 0-.3-.6-1.3 .2-1.7 0-1.2-.1 .4 .2-.5 .7-1 .1-2-.1 .1-.2-2.6 0 .3 1-.9-.6-1.5 0-.4-.7-.4 1.6-1.8-.7-.5-.4-2.8 .3 3.5 .7-2.1 .7-.6-.4-.4 .5-.4 .6 .2-.1-.9 1.8-4.9 .5 2.1-.7 0-1.1 .9 .6 .6 .8 1 1.4 1.8-.9 .3 .3 1.2-.3 1.7 .7-.4-.4 .3 1 2.8-1-.1 .6 2 .1-.3-1 1.9 1.1-.2-.5 2.3 1.2 .2-1.3 .9 1.7 .2-.8 .6 .4-1.9 .5-2 1 .2-.5-.7-.9-.9 .7-1.7-.4 1.1 1-1.7-.5-3.1-.2 .6 .5-.1-.3-2.8 1-1.1-1.1-.7 .1-.4 .5-.3 .8-.9 .2-3-.1 .9 .3-2.2 .2 .2-.6-.4 .5-1.2-.1-1.5 1-1.6-.8-1.4 .8-.1 .4-2.5 .8-2.6 .4 1.7 .2-2.7 .5-1.5 .1-1.4 .8-.4 .6-.6 .2 2.6 1 .5 1-.3 .6-2.4 1-.4 .5-3.3 .9 1.1 .7-2.2 .2-1.8 .4 1.4 .8-2.3 .3 2.4 .3-3.2 .3-1.8 .4 1.1 .6-2.2 0-.8 .3 .7-.8 1.4 1.3 1.3-.5 .2-.3 .1 1.7 3.4-.2-1.3-.5 2.2 2.3 1.4 0 .9-.3 .5-.2 1.6-.1-.9 1 1.5 .6-1.8 .1-4.4 .2-.7-.2 1.5 1.2 1.6 1.4 .9-1.2-.1-.1 2 0 .7 .9 .6-.2 1.3 .4 .4-.4 1.3 .5 .8 .1 .5-.4 1.4 .9 1.6-.3-.3 .4-.1 .2-.7-.1-1.4 .6-1.2-.3-1.2 .2-.5 .3-.8 .6-1.9 .2-1.3 .2 .3 1.3-.9-1.2-.9 .3-1 .5-1.2 .4-1 .1-2.4 .3 4.6 .4-3.5 .6-1.1 .7-1.7 .5-1.3 0-.6 .8-.2 .3 2.3 .8-2.7 .6 .9 1 2.2 .1-.4 1 .4-.4-3.1 .5 1.2 .2-3.9 .8-.9 0-2.4 .5 4.3 .4-3.4 .1 2 .3-2.5 .7-.3 .5 .9 .3-.9 .7-2.7 .1-1.1 .2 .8 .2-2.5 1.2 1.3 .1-3 .6-2.9 .4 1.2 .3-.8 1.3-1.6-.7 1.3 .6 2.7 .3 .4-.7 .5 .5 1.3-.1-.1 .5 2.3 .2-.2 .7 2.9 .1-.6 .1 .4-.1 1.2 .3 1.8-.2-.9 .4 .1 .1 1.6-.8 1.5 1.3 .7 1 1.2-1.1 1.1 1.2-.1-.6-.3 .3-1.8 .8-.7-.9-.9 .3-2.2 .9 .3 .4-1.8 .4-1.1-.1-1.1 .4-.4 0-.1 .4-.9-.3-2 .2-.5 .9 4.3 .2 .3 0 .2 .7-4.8 .6 4.6 .4-1.3 .1-.3 .2 3.2 .3-.9-1.1-.5 .9-.1 .2-1.8-.8 .1 1-1.4 .8-.7 0-1.1-.9-.9 1-1.4-1-.7 1.1-.3 .9-.4 .5-2.8-.9-.7-.2-1.7 .4 1.1 .2-1.5 .3-1.3-.2 1.4 .9-1.1 .4-4.2 .3 2.5 .3-2.7 .2-.7 .3-2.1 .4-1.7 .1 1.5 1.4 2.4 .8-.3 .4 1.2 1.5-2.4 0-.5-.4 .6 .4-2.5-.3 .6 .3-1.3 1-2.2-.9-1.5 1.1 .5-.5-2-.3 .3 .7-2.7-.5 .4 .2-.4-.3-2 1.7-.5-1.1-.9 .9 .5 .5-2.8-.4-.6 .5-.2 .5-2.2-.4-.7 1.2-.6 0-.3-.3-2 1.3-.1-.1-1.3-.1-.7-.8-1 1.4-.8-.5-1.2 .2 2.3 .4-1 .5 1.3 .2-1 1.1-.6 .2-2.9 2.4-3.8-1.7-1.7 .2 .1-.6-.7 1-1.6 .3-.5-.3-1.1 .2-.8 .9-1.6 1.1 .4-1.7-1.5 0 .6 1.1 1.6 .2 1.1 .3-.3 1.1 1.4-1 1.9 .7-.4 .9 .8-.6 2.2 .1 .8 .5 .4-.3 1.1 .7 1.8-1.6-.1 .6-.3 1.2 1.6 .4 2.1-.9 .5 1.3 1-.6 .6 0-1.3 .4 .4-.2-2.3 .5-.8-.8-.8 1-1.4 .8 .9-.1-2.5 .8-1.3 0-.8-.8-1.1 .8 0 1-1.2-.7-1.7 .4-.7-.3-1.5 0 .2 1-1.1 .9-1.1-.6-2.1-.2-.3-.3 0 .5-2.5-.3-.6 .3 1 .8-1.6 .4 0 .5-1.8 .7-.8 .5-.1 .1 1.5 .2-.3-.4 .9 0 1.8 .9-.1-1 1.9 .5 1 .6 1.7 .1 1.7 .4-.7 .2 1.4 0 1.1 .1-.6-1.3 2.7 1.2 .5-.8 .2 .6 1.2 .2 .1-.9 1.3 .5-.4 .4-1.2 .8-.9 .4 1.2 .7-1.5-.2-3.3-1.2 .6 1.3-1.7-.6-.7 .5-1.9 .8-.7 .2 .6 0-2.5 .9-.7-.6-1.4 .5-.2-.6-1.2 0 .6 1.2 .9-.3 .7 .6 1.7 .6 .4 1.6 1-.8 1.1 1.1 .5-.7 .6 .7 .7-.6 .7 .6-.6 .3-1.8-.6-.6 1-1.3-.5-.3 .7-2.3-.2 0 .4-.6 .2-1.4 .2-.8 0-.4 .4-1.5-.5-1.5 1.2-.1-.6-1 .1-2.1 0-1.1 1 .1-.5-1.2 .1-1.1-.1-1.5 0-.1 .6-.4 .3-1.6-.4-1-.6-1.6 .1-.1 1.8-.9 .1-.7 .3-2.8 .2 1 0-1.1 .1-1 1-1.4-.7-.5 .1-1.3 .3 .1-.3-.7-.1-1.5 .6 3.4 .5-.6-.7 1.1 1.3 .9-1.3 3.2 .9-1 1.2 1 0 .6 .8 1.3 .2 .9-.1 .2-.6 2.2 .1 1 .7-.8 .3-1.4 1.5-.6 .3-1.2-.2 .6 .7-2.7 .1 .1 .2-1.4-.8-1.6 .3-.2 0-.3 .1-2 .4-.6-.5-.9-.3-.6 .3 .6 1.1 1-.2 .9 .6 .2-.4 .8 1.3 1.6-1.4 .2 .3 1.7 1.4-.1-.5 2.1-.1 1.2 .4 .3 1.7 .6-1 0 0-2 .2 .4-.4-2-.4-1-.1-.5 1.2-.4 .9-2.9-1.4 .2 1.1-1.9 .4 .3-.4-1.7 .6-.2 .4-1.3 .6-1.7-.8-1.2 .3-.2 .4-.7-.7-1.2 .4-1-.2-.2 .4 .8 .3-1.3-.6-1.4 1.5-2.1-.1-2.1 .4-3 .3 .9 .1-2.1-.2 2.7-.2 .1 1.3 .3 .7 2.2-.2-.2-.2 3.2 1.6-1.1 .1 1.6 .2 0-.8 2 .2 1 1 .3 .3 1.3 0-.4 0 2 .2 1 .1 .3-.9 1.8 1.4 .9 .1 .7-.3 1.2 .3 1.2 .6 .8-.5 .7 .1 .3 .7 2-.8-.3-.5 1.1 1.6 1.1 .5 .4-.7 2.2-.6 .3-.1 1.6 .2-.3-.9 2.3 .3 .5-.4 .3 1.7 1.5-.5 .5 .8-1.8 .9 3.6 .6-.9-.4 1.7 .5-2.2 .5 .8-.2-.3 .7-1.2 .4-1.2-.8-1.7 .8-.2 0-1.4 1-.1 .3-2.1-.2 1.1-.6-1.9 1.4-1.5-.1 .4 .5-.5 .7 .2 1-.5 .1 0 .2-2.4 1-2.2 0-.8 1.3-.6-.9-1.4 .1-1.5-.2-.1 .2-1.6 .9 .4-1.1-1.7 1.1-1.3-.5-.7-.4 1.2 1 1.7 .4 .1-.5 1.9 1.6-1.5 0 2.1 0 .5 .1 1.6-.5 .7 .2 2.6-.2-1.1 .1 1.9-.1 .5 1 2 .2-.6 .3 1.4 .3 1.5-1.3 .7 2 .9-.4 1.4 .3 .4-.5 1.5 .7 .5-1 2.5 1.6-.5 .1 1.5 .4 1.5-.1 1.2-.2-.2-.2 1.6 .7 .8 .6 1.8-.3-.4 .3-.1 .3-2.1-.9-.3 .9 1 .4-3.8-.6 1.7-.7-1.9 .6-2.4 .6-.4-.3-.7 1.4 .3-1.6-2.3 .9-1.4 .6-.6 0 .6-.6-2.1 1-1.5-.2-.7-.2-.1-.1-1.7 .1-.4 1.1-2.7-1-.6 .9-2.1 .2 2 .9-1.3 .6-.9 .6-.7 .1 .9 .3 1.6-1 .7 1.9 .9-1 1.1 1.2 .5 1.2 1.5-1.5 .8 .6 2.1 .1 1.1-.2-1.4-.2 2.5 1.1 1.6-.3 1.4 .5 1.1 0-.7 0 .7-.5 2.1-.2-.9 1 1.2 .1 1.2 .8 .5-.7 2.1-.6 2.7 .4 1-.4-.8 .4-.6-.5 3 1.5 1.2-.5-1 .6 2.3 0-.9 .1-1 0-.9 .1-1 0-.9 0-.9 .1-1 0-.9 .1-1 0-.9 0-1 .1-.9 0-.9 .1-1 0-.9 .1-1 0-.9 0-1 .1-.9 0-.9 .1-1 0-.9 0-1 .1-.9 0-1 .1-.9 0-.9 .1-1 0-.9 0-1 .1-.9 0-1 .1-.9 0-.9 0-1 .1-.9 0-1 .1-.9 0-1 .1-.9 0-.9 0-1 .1-.9-.1-1.7 .8-.9 .4-.4 .1-.2 1-1.2 .3-1 0-.9 .2 .1 .2-1.3 .6-1.7 .3-1.3-.1-.4-.3-.6 .5-1.6 .2-.9 .5-1.2-1.6-1.9 1.6 .3 .3 1.1 0 1.3-.2 .3 1.1 .7-.2 1.7-.1-.3-.7 1.4 1.5 1.6-1.3 .4 .3 .4 .3 1.9 .1 .7 .3 .3-.6 2.1-.2 .8 .5 .2-.6 1.3 .9 2-.7 .3 .7 1-.1 .9 .4 .9-.1 1.4 0 .7 .3-.9-.4-1.4 .7-1.1-.6 .2 .1-1.8-.5-.2 1.1-1.8 .8 .4-1-2.4 .4-.6 1-1-1-1.9 1.5-.5-.7-1.8-.9 1.1 1-2.2 .3-2.3 .8-1.3 .5-2-.3 1 .4-1.3 .4-2.4 .4 .3-1.1 .9-.1 1.5 .8 .8 0 .8-.1 1.3 .6 1.7 .2 .6-.6 .6-.4 .8 .9 3.1-.5-.8 .3 1.6 .5 .8 .2 .6 1.5 1.4 0-1-.2 1.5-.7 2.9 .7 .6-.1-.4-.3-.8 .4-3.3 1.6 .5-.6-1.8 .6 .6 .6-1.4-.5-1.3-.2-.8-.3-2 .1 .3 .2-1.1 .4-2.1-.2-1.1 1.3-1.2 0 .3 .4 0 .1-2.1-1.3-1.2 .3 .6 .1-.2 .7-4.7 .1 .4 .5-.7 .5-.9 .5-2.4-.5 .5 .7-1.9 1.1-.9 0 .4-.2 1.1 .9 .8-.4-.2 .9 1.7 1.1 2.6-1.5 1.4 .6 1 .5-1.1-.9 .8 .9 1.2-.1 1.8 .2 .6 .5 .9-1 .6 1.8 .9-.9 1.6-.3-.2 .1-.4 .7-1.5 0-.5-.3-.9-.7-.3 .7 0 .1-2.3 1.4-.6 .3-.7-1-1.4-.3 .9 .9 1.5 .8 .3-.3 1.4-.2 .9 1.1 1.3-.1 .6 .1 2.4-.4-1 .5 1.9-1.6 .2 1.5 .9 .3 .8 .4 1.3-1.1 .9 1.4-.9 .9 2.8-1.5 1.6 1.3 .8 .2 .1-.2 1.7-.9-1.6 1.4-.6-.4 0 1.2-1.8 .4-.7-.8-.4-.4-2.6 .4 .3-.4-1.4 1-1.5-.1-.8 1.3-.9-.4-.1-.2-.7 .2-1.6-.3 1 .5 1 .3-.1 .8 2.2-.4 .1 1.2 1.1 .6 .6-.2 1.4-.7 .3 .1 1.4 .5 1.3 .2-.4 .8-.2-.2-1.8 .2-.2 .9-1.8-.4-.3 .6-.6-.9-3.1 .7 1.7-.2-1.9 .4-1.3 .7-.4-1.4-1 1.6-1.4-.4 1.7-.1 .2 0 1.2-.1 1.2 .8 .1-.5 3 .3-.7 0 1.6 1.1 1.1 0 .3-1 1.8 1.3-.3-.6 1.6-.3 .7-.2 1.9-.1 0 1 .2-.2 2.2 .6 .4-1.1-1 0-.5 .9 .3 .3-1.4-.4-1.3 .4-1.2 1.3-.1-.7-4-.3 1.2 .9-.7-.9-1.9 .8 .1 .2-2.6 .2-.1 .6-1 .1-1-1.7-.3 1.1-1.8 1.1 .7-.2 1-.2 1 .5 .8-1.3 2 1-.7 .2 2.1 .1 .3-.3 2.6 .9-.3-.5 1.1-.3 1.5 1.3 .7 .2 1-.8 .4 0 1 .1 .9 0 1 0 .9 .1 1 0 .9 0 1 .1 .9 0 1 0 .9 0 1 .1 .9 0 1 0 .9 .1 .9 0 1 0 .9 .1 1 0 .9 0 1 .1 .9 0 1 0 .9 0 1 .1 .9 0 1 0 .9 .1 1 0 .9 0 1 .1 .9 0 .9 0 1 .1 .9 0 1 0 .9 0 1 .1 .9 0 1 0 .9 .1 1 0 .9 0 1 .1 .9 .9 2.3-.9-3.2 .3-.5 .2-.4 1-1.4-1.2-1 .7-.3 .6-1.1-.2-.6 .3-2.1-.8 .3 .9-.5-1.3-1.3 .9-2 .3 .9-.7-1.8 1-.5-.6-1.6-.3-1.2 .4-2.1-.5 1.8 1.3-2.3 0 .9 .1 1 0 .9 0 1 .1 1 0 .9 .1 1 0 .9 0 1 .1 .9 0 1 .1 .9 0 1 0 1 .1 .9 0 1 .1 .9 0 1 0 .9 .1 1 0 .9 .1 1 0 1 0 .9 .1 1 0 .9 .1 1 0 .9 0 1 .1 .9 0 1 .1 1 0 .9 0 1 .1 .9 0 1 0 .9 .1 1 0 .9 .1 1 .3 1.9-1.2-2 .9-1 .1-.6 0-.9-.9-.9 1.1-1.4-.2-.4-.4-.9 1.5-.2-.4-2.7-.3-1.1 .8 1.1-.2-2.6 0-.3-1-2.1 .4-.1-.1-1.5-.3-1.7 .8 .9 .6-2.7 .7 1.3-.5-2.9 1 .4-.9-1.1 .6-2.2-.7-.4 0-.8 1.1 .2-.5-2.1 .8 .5 0-1.8 0-1.6 .3-.5-.2-1.6 1-1.4 .1 1-.3-1.8 .2-1 .4 .2-.7-1.1 1.1-2.2-1.7 .2 1.1-1.2 .3-1.6 .4 .4 .3 1.9 0 .3 .9 1.1-.4 1.9 .1 .7-.6 .8-.7-.3 .7 1 .7 2.8 .1 .4 .3 .9-.1-1-.2 1.6-.3 .8 .7 .7-.2 2.3-.2 .9 .1 .1 .6 2.1 .6-.7-.5-1.8 .7 .1-.6-1.7 .6-1.3-.2-.1 .8-.7-.1-1.7 .4-1.5 .3 1.2 .7-3.5-.6 .9-.5-1.7 0-1.5 .6-.6 1.2 .5 1.1 .8 .8-2.5 .1 1 0 .9 .1 1 0 .9 .1 1 .1 .9 0 1 .1 .9 0 1 .1 .9 .1 1 0 .9 .1 1 0 .9 .1 1 0 .9 .1 1 .1 .9 0 1 .1 .9 0 1 .1 .9 0 1 .1 .9 .1 1 0 .9 .1 1 0 .9 .1 1 0 .9 .1 1 .1 .9 0 1 .1 .9 0 1 .1 .9 0 1 .1 .9 .1 1 .1 3 .5 .4 1-1.3-.3 2 .7-.7-.4 2.1-.3 .4 .6 1.6 1.1 0-.6 1.7 .6 .2-.6 1.1-.9 1.5 1.3 .5-.1 1.4 .1 .2 .8 1.3 .1 1.1-.4 2.1 .5-1.1 .2-.8-.4-1.2 .4-1.5 1.4-.6-.3-1.4 .1-.4-.2-.3-.6-.7 .7-1.5 0-1.4 .9 .1 .3-3.6-.1 .3 .3-.2-.4-.9 .1-1.5-.5 0 .4-1.7-.2-1.4 .5-1.1 .3-.8-.2 .2 .2-3.3 .9 1.2 .4-3.3 .2 .2 .8 .4-.9-.6 .1-.5 .6-2.9-.2 0 .8-1 .9-1 .2 .5-.3-2.1-.1-.8 1.4-.5-.3-1.2-.2-1.5 .6-3.2 .9 0 0-2.8 .9-1.6-1 3.9 2 1.2 .1-.2-.7 1 .9 .8-.1 1.9-.4-.4 1.6 2.6-.3-.1-.5 2-.1 .6 1.3 2.3 .2-1.1 .8 1.7 .5 1.4-.5 .9-1.5-.3 1.4 1.5 .6 1.7-.9-2.5 .1-.2 .5-1 1.4 .1-1.8-1.1 .9-1.3-.6-1.1 .3-.2-.5-1.6-.6-1.5 .5-.5 1.7-.2 .2-.4-.3-2.2 .1 1.3-.6 2.1 1.3 .8-.3 .3 .2 1.5 1.1-.3-.1 1.7-.6 1.6 .2 .2 1.7-.2-1 2.2 .6 .3 .9 .2-.7 1.4 1.2 .3-1 2.8 .8-.6 .1 2.2 .9-.3-.4 4-.4-.9 .7-.3-.2-2.1 .6-1.2-.8-.9 .9-1.3-.7-.1 .5-2.3-1.1 .5-.2-.9 2.1-.8-.9-2.5-.1-.5 .3-.3 .4-1.2-.8 .1 .3-1 1-2.1 .5-1.2 .6-1.3-.8 0 .4-.7-1.7-2.6 1.1 0 .3-1-.8 .3 .1-.9-.7-1.6 1.4-1.2-.3-1.5-.4-.2 .5-.7-.4-.5 .6-1.5 .1-1.6 1-1-.4-.6-.4 .3 .5 1.2 .7-.1 .2 .2 .9 1.9 .6 .9 .4 1.3 .3 .6 1 .8-.1 .2 .6 2.1-.9 1.2 .4 .6-.4-.5 1.2 1.9 .4 .4-.6 1.3 .1 1.6 1 .3 0 2.6 .2-.8 .3 1.1-.3 1.5 .4 .8 .7 .8 .2 1.6-.3 0 .3 2.1 .2-2.4 .5 0 0-1.4 .6-.8 .1-3 .7 1.1 .2-.4 .8 .8-.3 1.6 .4 1 .2 .9-.3 .1-.6-.2 .9 2.6-.6 .3 .7 2-.2 .6 1.1-.8-1.4 2.4 1.2 1.1-.7 2.2 1.2 .4-.3 .4 .3 1.6-1-.5 1.3 1.5 .3 .8 .4 .7 0 .5-.3 1.8 .6 1.3-.4 .9 .2-.3-.5 2.5 .5 1-.3 .3 .4 1.2 .4 1.9 .8-2-1.2 3.2 0-.2 .8 .9 .1 .7 .1 1.5 .1-.3-.6-1.5 .2-.4 .2-1.9 1.2-.6-.3-1-.5-.5 .9-2-1.2-.5 1-1.3 .4-.4-.8-.6 0-.7-.3-1.5-.1-1.7 1.2-1.4-.2-1 1.4 .6-.6-.8 .6-1.6-.1-.6-1-1-.7-.9 1.1-.4 .6-2.1-1.1-.6 .4-.5 .3-.1 .7 .7 .1 .4-.5-.2-.1 2.6 .7 1.3-.1 .1-1 .7 1.2 .2-.5 1.7 .5 .1-.6 1.8 .6 1.1-.1 1.3 .4 .3 .3 1.8 .8 .8-.1-.5-.1 .5-.6 .9-.3 3 1.4-1.9-.6-1.7 1.3-.8 0-.4 .3-1-.2-.6 .4-2.4 .1 .2 0-.2 .8-2.3-.3-.5 .8-.4 .7-.4 .5-.1-1.1 0 .4-.2 .7 .4 0-1.4 .7 .3-.1 3.3 .2 .6 .4 1 .5 .4 .8 1-.2 0 .1-2 .3-.9 .6 .1-.6-1.5-.1-2 1-.6 .1-.5 1-.5-.9-1.9-.2-.2 0-2 1 0 0-.5 .2-1.6-.9 .3 .1-2.5 .6 .2 .3-1.9-.2-1.7 .9 1.1-.4-.9-.7-3.1 1.1 .7-.1-.7 .9-1.2-.5-1.6-.9-.3 .3-.9 .3-1.6 1-.3-.7-1.4-.8-.8 .9-.6 1-2-.1 .4-.6-2 1.4 .4-.8-1.7-.2-.9 .2-1.1 .1 .5 .3-2.5 .4 .9-.1-1 .2-4.3 .5 .4 .2-1.2 .3 .4 .8 2 .1-.8 0 3.3 .1 .5 .6-1.2 0 2.6-.1 .1 .3 1.6 .3 .5 .1 1.5 .8 .7 0-1.4 .1 2.4 .8 3.2 .3 1.6 .4-1.2 .2 2.9 .6-.6 .5-.6 .7-2 .3 .6 .3-.3 .5-2.3 .3-.3 .4-1.2 .9-2.1-.3-1.5 .6 1.1 .2-1.4-.5-2-.1-1.6 .9 .6 .2-1.7 .9-.3 .4-3.2-.7 1.4 1.2-.6 .6-1.8-.7 0-1.2-.7 .2-2.1 .7-1.7 .9-.1 .4-.8 .8-1-.3-1.5 .7-.4 .8-2-1.1 1-.1-.8 .7 .9 .8 1.8 1.1-.4 1.8-1.3-.7 1.1-.1 2.1 0-.1 0 1-.5 2.1 .8-.2-.3 1.3 .2 1 .2 1.9-.3 1.6 1.4 .3 .3 .3 .1 2.9 .9-.4 0 2.6 1.5-.1 .1-2.4 .9-.5 0-1.1-1.1-.2 .7-1.3-.1-.6 .7-1.3 .2-.6 .5-1.5-.8-1.3 .5-.6-.5-.9 .2-.6 0-1.2 1.6-1.2-1.3-.6 .1 .1 .5-1.6 .4-1.2 1-1.3-1.7 1.5 .4-1 .6-.1 .7 2.4 1.4-2.1 .6 .5 .2-3.3-.3 2.2 1.2-1.2-.5-3 .5 1.7 .6-2.1 .7 .8-.5 1 .2 .4 .5 .6 .4 .7-.2 1.8 .3 .5 .3 2 .3-.9 .2 .9-1.2 2.2 1.5 .5-.3 1.2 .2 2 1-.1-.8 2.9 .3-3.7 .7 1.9 .3-3.3 .3-1.8 1.2 1.9 .4-1-.2 1 .9-.7 .5-3.2-.4 .1 1.2 .4-.1-3.3 .8-.7 .1 .7 1.2-.4 2.2-1.5-1-.1 .2-1.7-.7-1.6 .2-.8 .4-.7-1-2 1.5 .3-.1-1-.6-1 1.5-.6-.5-1.1 .5-1.5-1.3-1.6 .8-.5 .1-.3 0-1.2-.3-1.3 .1 .4-.2-.2 .6-3.3 1.1-1.5-1.2 .6-.2-1 .8-.7-.4-.8 0-.6-.1 .2 .2 .6 0 1.1 0 1.9 .2 1-.4 .8 .5 1.1 .3 .6 0 1.6-.1 .8 .9-.1-.6 1.7-.7 .3 .6 1.1 1.4 1.6-.6 1.1-.4 1 .6 .9 .2 .6 0 1 .1 1 0 .9 0 1 0 .9 .1 1 0 .9 0 1 0 .9 .1 1 0 1 0 .9 0 1 .1 .9 0 1 0 .9 0 1 .1 .9 0 1 0 1 0 .9 .1 1 0 .9 0 1 0 .9 .1 1 0 1 0 .9 0 1 0 .9 .1 1 0 .9 0 1 0 .9 .1 1 0 1 0 .9 0 1 .1 .9 0 1 0 .9 0 1 .1 .9 0 1 0 1 0 .9 .5 1.8-.7-1.9 .3-1.4 .7 .4-.9-2.2 .6-.8 .2-.1-.1-1.8-.4-1.1-.1 .2 .2-1 .1-1.9 .6 0-.2-.3-.7-1.5 1.7-2.4-1.1-1.4 1.6 .7-1.7 .8 .6-3.1 0-.9 .2 .6 .5-1.7-.2-2.4 .1-.3-.5-.4 .6-.9-.1 .5 .6 1.2 0-.1 .4 2.5-.4-.7 .8 2.1-.4 .6-.4 1 .5 1.4 .3 .6-.4 2.8 .8-.2 0 1.3 .2 .4 0 1.4-.2-.1 .8 .3-.8 1.7 1.6 1-.8 .6-.3 1.1-.1 .8 .4 1.3-.8 .4 .8 1.2 .3 2.4 .4-.3 .4 1-.2 1.7 .4 .9-.5 .8 .5-.7-.9 3.5 1.5-.9-.2 .2-.1-1.7 1.1-2.4 .5 1.7-.1-2.1 1.3-1.2-.4-.5 .3-.2-.5-1.3 .5-3 .3 .8-.1-1.2 .9 .8 0 1.2 .1-.1-1 1.1 .4 1.2 .8 1.3-.5 .6 .1 .5 0 2.6-.1-.4 .8 1.7 .1 .2 .3 2.1-.4 .8 .4 .3-.2 1.6 .1 .8 .3-.1 .5 .7 0 2.7 .7 .2-.6-1.5 .2-1.6 .5-.1 0-.1-.9-1.1 1.7-1.2-.5-.4 .3-2.1-.8 0 .2-2 0-.8-.4-.9 1.5-1.4-.5-.4 .6-2 1.2 2.4 .5 .4 1.7-3.5-.2 1 1.5-2.5-.5 .6 .5-1.2-.2-.8 .9-1.6 .4 0 0-1.6 0-1.1 0-1.3 .2-1.1 0 .6-.1-1.4 .7-1.7-.1-.2 .5-1.8-.8 .4 1.8-5.4 .7-.4-.3-2.4 .9 .1-.3-1.3 .6-1.2 .3 1.8 .2 0 .4 .5 1.2-.4-.2-1.9 .5-2.9 .3 1.2 .2-.1 .8-2.6 .1 0 .7-.2 .1 3 .8-3.8 .3-1.7 .6-3.1-.2 1.2 1.1-1.7 1-.8-.8-.3 .7-.7 .1-2.3 .7-.2-.6 .8 .1 1.8 .1 1.2-.5 .1 0 1.8 1 .6 .8-.2-.3 2.2 1 .8-1.4 .4 1-.1-.4 2.5-.4-.2 .6 2.3-.8 2.2 .5-1 .2 1.2-.5 1.9 .5 .3-.2 .7 .4 .6 .3 .8 .6 2.2-.6-.7-.5 .6 .4 2.8-.4 .8 .6 .9-.3 .4 1.6 .7-1 1.5 .3 1.2-.5 .2-.6 1.2 .4 1.1 .5 .7 .7 .8-.2 .5 .8 2.2-.2 .6-1-.2 .9 .7 .7-1.3-.7 .1 1-2.9-1.1 .2 .6-1.9-.2-.2 .6-.1-.4-3.3 .6-.3 .6-.3-.1-.7-.9-1.8-.3 .5 1.3-1.5 0-1.6-.5-1.2-.4-.6 .6-1 .2-.4 .1-1.8-.7-.7 .5-1.4 .5 0-.7-1.8 .2-1.2 .7 .8-.3-.9 .8-1.9 .3-.6 1.1-1.9-.7 0-.3-.2 .9-1.2 .1 1.8 .3 2.9 .5-2.1-.2 2.6-.3 .4-1 .2 1.3 2.3-.5 .9 .2 1.1 0 1.5 .6-.6 .4 .9 .1 3.2-.3 .1 .1-.5-.2 1.7-.4 1.1 .3 2.1-.3-1.1 .4 2-1 1.6 .6 .3 .4 .9 .4 2.3 .3-.7-.5 1.7-1.1 1.1 .4 .7 .1 1.8 1 .4-1 .7 1.5 .8-.8 .9 .4 .8-.3-.1-.1 1.7-.1 .7-.4 1.9 .8-.6 .2 3.2-.4 .7-.1 .7 .4 1.2 .2 .2 .1 2.2 .3 .4-1.2 .8 1-.1 0 1.4 .4-.1-.7 2.1 .5 .9 .8 .1-1.2 2.4 .7 .3 .6 .3 0 1.1-.5 1.8 .3 0-.9 2.1-.4-.2 .9 .7 0 2 .9 .2 .8 .8-.8 2-.1 .9-.1-2.3-.4-1.2 .3 .9 .1-.4-.6-3 .7 .3 .5-1.8-.2 .9 .6-3.3 .5-1.9-.2 1-.7-1.5 1.1-.9-.1-.6 0-1 .4-1.4-1-.3 .7-1.9 .4 .7-.2-2.7-.8 .1 1.6-2.1-.9 1.6 .1-2.5 1-.5-1.1-1.4 .7-1 .1-1.3 .4-1 .3-.4-.8-1.5-.9-1.3 .5-.1 .4-.6-.1-1.9 .9-.2 .2-1.3-.1-1.1 .6-1 .6-1.2-.4-.6 .5-1 .3-1 0-.1 .4-2.5 0 .4-.2-.6 .5-.9 .1-2.8 .6-3.2 1-.7 .3-.4 .4 .1 .1 .8-.5 .8 .8 .5 0 1.1 .2 1.8 .2 .1 .7 1.9-.5 .9 .6 0 0 1.5-.3 1 .7 .4-.6 .5 .2 1.7 0 .3 .6 1 .5-.8-.7-.1 .4-2.2 1.2-.1-.2-.2 .8-.8-.3-.9 1.1-1.1-.6 1.3 .4 1.2-.3 .4-.9 1 1.3 1.1-.1 .1 .3 .9-.3 1.9 .3 .4-.6 .6 .1 1.8 .5 1 .1 1 .4 .5 0 .4 .1 1 .4 1.6-.8 .1-.3 2.2 .9 .8 .3 0 .3 2-.2 .9 .6 .6-.4 .8 .7 1.4-.5 .9 .6-.3-.2 1.6-.5-1.3-.2 .3 1.2-1.6 .5-.4 .8-1.3 0-1.7-.2-.1 .3-1.4-.5 .4-.1-3.1 .7 .3 .4-.4-.2-1.9 .4-.2-.2-1-.6-1.7 .4 .9-.2 1 .6 1.7-.5 .5 .1 1.1 .8 1.8-.7 .4 .9 1.1-.1 .3 1.5 1.6-.2 0 1 1 .6-.1-.2 2.9-.5 .1-.2-.3-.2-.5 .5-1.9 .2-2.5 .7 1.2 1-1.5-1.1-2.2 0-.6 .5-.3 .2-1-.5-.9-.5 0 .3-1.6 1.4-1.8-.3-.9 0-.4 1.1-1.3-.1-1.5 0 .3 .1-1.7 .7-.4-.9-.7 .2-3.2 .1 1.3 .5-1.7 .3-1.1 .2-1.4 .4-1.4 .4-1.2 .6 1.3-.2 .9 1.1 2-.8-.8 .3 1.8 .3 .9 0 1.9 .7 0 .3 .7 .2 .5 .2 1.3 0 1.5 .2-.4-.8 1.8 .5 .5 .3 1.3 0 .7-.9 .5 1 .5 .6 2.5-.5-1 .3 2.8-.1 .8 .4 1.5 .8-.4-.5 1.8-.1 .3 1.4 1-.3 1.1-.1 .9 .4 2 .2 0 .9-2.8-.1 .4 .1-3.1 .6-2 .6-.2 .3-.1-.6 2.9 .4 .9 .5 1.8 1.2 .4 .2 .1 1 2.1 0-.2 .3 .5-.4 .6 .2 1.1 1.1 1.8-.9 .4 .7 1.7-.4 .8 1.3 1.5-.3 .8 .1-.2-.3 .7 .1 1 .5 0 .3-.7-.5-1.3 .4-.7 .6-2.5-.6-.2 .3-.9-.8-.9 .2-.2 1.4-.9-.2-1 .1-1.4-.7 .3 .4-1.5 .4-1.4 1.2-1.3-.8 .1 .4-1.6 .2 .1 .4-2.3 .1-1 .4-.5-.7-.5-.3-.3 .3-1.3 .5-1.8 .7-.8 0-.4 .2-.8-.4-1.2 .5-1.6-.2-.6 .3-1.3 .4-1-1.4-.2 1.2-1.4-.2-1.3 .5-.1 .4-2-.1-.6 1.5-.8-.8-1.2-.3-.7 .1-1.2 .5-.3-.3-1.3 .4-.7 .7-.6 0-.4 1-.6 .2-.7 .2-2.7 .7-1.3 .8-1.3 .2 2.2-.3-1.4 .7-2.7 .4-2.8 .8-.9-.2-.3 .6-.8 .5-.9 .4 .9 .5-.5 .4 .3-.3-1.1 .8 1.6 .8-1.3-.5 1.8 .2 2.1 .3-.4 .6 1.1-.7 1.6-.1 1.5 0 .3-.2 1.1 .8 1.5-1 .2 1.4 .4-.1 2.2 .1-.7 .3 .9-.2 1.4-.6 1.4 .6 .2-.2 2.4-.5-.6 1.2 1.9 .1 .9 .1-1 .1-.9 .1-1 .1-.9 .1-.9 .1-1 .1-.9 .1-.9 .1-1 .1-.9 .1-.9 .1-1 .1-.9 .2-.9 .1-1 .1-.9 0 .9 .1 1 0 .9 .1 .9 0 1 .1 .9 0 1 .1 .9 0 1 .1 .9 0 .9 .1 1 0 .9 .1 1 0 .9 .1 1 0 .9 .1 .9 0 1 .1 .9 .1 1 0 .9 .1 1 0 .9 0 1 .1 .9 0 1 .1 .9 0 1 .1 .9 0 1 .1 1 0 .9 .1 1 0 .9 .1 1 0 .9 .1 1 0 .9 .1 1 0 .9 .1 1 0 .9 .1 1 0 .9 0 1 .1 1 0 .9 .1 1 0 .9 .1 1 0 .9 0 1 .1 .9 0 .9 0 1 0 .9 .1 1 0 .9 0 1 0 .9 0 1 .1 .9 0 1 0 .9 0 .9 .1 1 0 .9 0 1 0 .9 .1 1 0 .9 0 1 0 .9 .1 1 0 .9 0 .9 0 1 0 .9 .1 1 0 .9 0 1 0 .9 .1 1 0 .9 0 1 0 .9 .1 .9 0 1 0 .9 0 1 .1 .9 0 1 .1 .9 0 1 0 1 .1 .9 0 1 .1 .9 0 1 0 .9 .1 1 0 .9 .1 1 0 .9 0 1 .1 .9 0 1 .1 .9 0 1 0 1 .1 .9 0 1 .1 .9 0 1 0 .9 .1 1 0 .9 .1 1"/>
<text class="t" x="124.3" y="1804.8">HEALTH CARE</text>
<path d="M413.6 2032.8H467.4" stroke="#0000ff" stroke-width="4.2" stroke-linecap="round" fill="none"/>
<text class="lg" x="485.4" y="2042.8">(12.4)</text>
<text class="d" x="804.4" y="1963.4" textLength="51.6" lengthAdjust="spacingAndGlyphs">3/24</text>
</g>
<g id="panel12">
<rect x="944.4" y="1766.8" width="785.4" height="298.8" fill="#000"/>
<rect x="950" y="1771.6" width="774.2" height="289.2" fill="#ffffe6"/>
<path d="M1729.3 2063.7H1748M1729.3 2042.6H1738M1729.3 2021.6H1748M1729.3 2000.6H1738M1729.3 1979.5H1748M1729.3 1958.5H1738M1729.3 1937.5H1748M1729.3 1916.5H1738M1729.3 1895.4H1748M1729.3 1874.4H1738M1729.3 1853.4H1748M1729.3 1832.3H1738M1729.3 1811.3H1748M1729.3 1790.3H1738M1729.3 1769.2H1748" stroke="#000" stroke-width="2.2" fill="none"/>
<text class="ax" x="1754.3" y="2072.8">8</text>
<text class="ax" x="1754.3" y="2030.7">10</text>
<text class="ax" x="1754.3" y="1988.6">12</text>
<text class="ax" x="1754.3" y="1946.6">14</text>
<text class="ax" x="1754.3" y="1904.5">16</text>
<text class="ax" x="1754.3" y="1862.5">18</text>
<text class="ax" x="1754.3" y="1820.4">20</text>
<text class="ax" x="1754.3" y="1778.3">22</text>
<path d="M947.2 2064.7V2086.7M996 2064.7V2086.7M1044.7 2064.7V2086.7M1093.5 2064.7V2086.7M1142.2 2064.7V2086.7M1191 2064.7V2086.7M1239.7 2064.7V2086.7M1288.5 2064.7V2086.7M1337.2 2064.7V2086.7M1386 2064.7V2086.7M1434.7 2064.7V2086.7M1483.5 2064.7V2086.7M1532.2 2064.7V2086.7M1581 2064.7V2086.7M1629.7 2064.7V2086.7M1678.5 2064.7V2086.7M1727.2 2064.7V2086.7" stroke="#000" stroke-width="4" fill="none"/>
<text class="ax" x="971.6" y="2097.7" text-anchor="middle">06</text>
<text class="ax" x="1020.3" y="2097.7" text-anchor="middle">07</text>
<text class="ax" x="1069.1" y="2097.7" text-anchor="middle">08</text>
<text class="ax" x="1117.8" y="2097.7" text-anchor="middle">09</text>
<text class="ax" x="1166.6" y="2097.7" text-anchor="middle">10</text>
<text class="ax" x="1215.3" y="2097.7" text-anchor="middle">11</text>
<text class="ax" x="1264.1" y="2097.7" text-anchor="middle">12</text>
<text class="ax" x="1312.8" y="2097.7" text-anchor="middle">13</text>
<text class="ax" x="1361.6" y="2097.7" text-anchor="middle">14</text>
<text class="ax" x="1410.3" y="2097.7" text-anchor="middle">15</text>
<text class="ax" x="1459.1" y="2097.7" text-anchor="middle">16</text>
<text class="ax" x="1507.8" y="2097.7" text-anchor="middle">17</text>
<text class="ax" x="1556.6" y="2097.7" text-anchor="middle">18</text>
<text class="ax" x="1605.3" y="2097.7" text-anchor="middle">19</text>
<text class="ax" x="1654.1" y="2097.7" text-anchor="middle">20</text>
<text class="ax" x="1702.8" y="2097.7" text-anchor="middle">21</text>
<path class="ln" d="M948.4 1922l1.1-.5-.2 2.3-.5 1 1 2.3 0-1.8-.2 3.6 .1-1.1 .1 2 .4 .3-.1 1.1 .1 1.2 .1 .6 .5 1.6-.3-.1 0-2.5 .4 .8 .6-2.1-.3-.8 .7-.7 .3-1.4 .4-.9 .2-.4 .2-.2 .3 1.1 .1 1.5 .8 1-.3 1.7-.2 .4 1.5 .7-.7 .4 0 2.1 1 .3 .5-.2 .1 1.2 .5-.1 .5 .6-.3 .3 .9 1.1 .1 0 .5 2 .4-1.8-.3 3 .5 1.1 .4 2.7 .3-1.6 .4 3.8 .2-3.8-.1 5.6 .8-1.5 .6 3.7-1.3-.5 1.5-1.1 .4-2-.5 .6 .2-2.5 .8-1 .1 .9 .1-2.5 .8-1.6 .6-.3-.5-.7 .5 1.2 .2 0 .6 2.1-.1 .9 .4 .3 .5 1.4 .4 .6-.7 1.4 .5-1.5 .3-1.8 0-.2 .6 .9-.2-3 .7-1.1 .6 0 .5-1.6-1.6 .3 1.3-3.4 .8-.3 1.3-.2-.3 3.9 .1-.8 .3-2.4-.3-.9 1.3 .1-.1-1 .9-1.1 1.1 .1-.3-2.2 .7-2.5 1.7 .3-1.4 .8 .3 .2 .3-2 .5 .3 .7-2.9 0-.2 .2-4.1 .3 .7 .7 .3 .2 .7 .3-1.5 .9 1.6 .3 2.2 0-.2 .7 .7 .6 1.7 .5 2.6 .5-.6-.1-1 1 2.6 .2-.6 .8 3.5-.3 .3 .5-2.2 .8-3.6 .5 .1-.1-1.1 .2-1.3 1.1 0-.5-3.3 0 1.3 .6-1.2 .6 0-.9-1 .9-1.3-.7-1.5 .7-.9 .1-2.5-.7 1.2 1.3-2.2 .1 .4 .9-2.8 .7-.9 .6-1.1 .6 1.4 .9 1.2-.2 .2 .6-.6 .4 .2 .8-.5 .3-.5 .5-1.3 .2-.3 1.1 1.6 .3-1.2 1.5-1.3-.7 1.3 1.2 1-1.1 0-.3 .9 .4 1.9 .5 .2 .6 .8 0 1.3-.3 1.6-.3 .8 1.4 .4-.3 1.2 .2 .7-.1 1.6 .2-.9 1.1 .5-.8-1.2-.4-2.1 .5 .4 .8-3.4-.1 1.1-.4-2.1-.1 0 .3-.3 .9-.4-.5-1.1 .5-1.2 .2-1.1-.1-1.6 1.3-.7 0-1.3-.2-.9 0 .5 .4-2.4 .2 1.2 1.1-3-.7 .4-.9-1.7 .9-.2 1-1.5-.4-1.6-.6 1.1 1.2-2 .1-.9 0-1.5 .6-.4-.3-1.7 .1 .6 1.3-2.3-.3 1 .7 1.1-.2 .8 .2 2.2 .1-.1-.2 1.9 .1 .8 .1-.8 0 1.2-.1 1.9 .4 .8-.4 .9-.4 1.4 .1-.9 .2 2-.7 1 1.1 1.6 .6-.8-.2-.8 .8-1.5-1.6-.9 .6-.6-.2-1 .5-1.9-.6-.3 .3-.6 .6-.1-.1-3.2 1 1.4-.5-1.5 .6-.1-.2-2.8-.2-.9 .8-.6-.8-1.1 2.5-.5-1.6-1.8 .4-.9 0-.2 .8-1.3 0-.9-.7-1.6 .2-.9 1.1-1.1-.2-.8-.7-.3 .7-2 .4-.1 1.1-1.1-.4-.8 .3-1.4-.4-.5 1.3-.6 1-1.2-.3 2.1 .3 1.1 1-.5 1.3-2.3-.4 1.2 .3 .9-.1 .8 .8 .1-.9 2.3 .2 .6-.2 .9 .5-.2 .5 2.1 .9 .4-1.2 2.2 .1-.3 0 1 .5 1.3 .9 1-.9 .8 .5 1 .2 1.8 .5-.8-.7 1.4 2.2 .8-1 2-.6-.6 .2 2.6 .3 .3-.1 1.7 0 1 .5 .1-.1 1.7 0 .2 .3 1.5 .6-.8 .4 2.6 .1-1-1.2-.5 .3-1.7 1.2-1.4-.2 .5 .7-.6-.3-2.9 .4-1 0-.5 .4-.5-.3-.7-.5-.9 1-2.1 .4 .3 1.2-.6-.3 .2 .3-1.6-1-2 1.7 1.8 0 .4 .4 .1-.2 2.2-.1-.1-.8 2.5 1.7 .5-.5 .3-.7 2.1 1.1-.3-.5 .9 .5 2.3 0 .9 .2 .7-.3 .8 .2 1.6-.3 .4 .5 .5-.1 2.3-.5 .9-.6-.3 1.4 1.9 .2-.5 .6 1.5-.7 1.4 .5 .7-.1 1.1 0 .8-.4 2.5 .1-2.3 .4 2 .9-1.3-.1-.5 .8 .7 .3-2.4 .8-2.9 0-.2-.9-.8 1.5-1.1-.4-1.1 1.3-.5-.6-2.7 1.2 .1-.7-1.5-.7 .4 .4-.4-.4-1.1 .7-1.3 0-.9 .4-1.1 1.2-2.1 .9 2.5 .2 1.7 .3-1.4-.2 .5 1.5-.9 .2-.9-.1-1.2-.1-1.4 .8-.9-.3-.1 1.4-1.2-.4-1.6-.4-1.1 .3-1.2 0 .6 .3-2.1 .1-1.2 0 1.3 .7-1.5 .7-1.3 .2-.4-.2-2.8-.4 .2 .2-.3-.2 .3 .9 .9-.4 1.6 .6-.2 .2 2.7 .6 .1-.3-.2 1 1.8 .1 1.9 .1 .7 .1 1.1-.2-1.2 .5-1.9-.5 .7 1.1-1.2 .2-2.5-.8 .7-.4-1 .5-1.1 .6-1.6 0-1.4 .4-.8-.7-1.4-.3 .5-.1-2.5 1.1 .9-.2-1.5 .7-1.3-.1-.5 .2-1.3 0-.9 .7 .1-.2 1.9 1.7-.5 .1 1.1 1.3 1.6-1 .9 .3 1-.8 2 .8-.8 .3-1.6 .9-1.7 .5-1.5-1.4-1.3 .9 3.3 1.2 0-.1 1.3 .1-.6-.3 1.9 .2 1.6 .3 .7-.7 .8 .9 .1-.4 .4-.5 1.4 1.3 1.8 .1 1.1-.4 .9 .2 .7 .7 .2 .2 1.6 .2 .5-.4 1.7 .2-.1-.1 1.1 .6 1-1 1.6-.4 .4 1.5 2.5 0 .5-1.2 1 1.4 .6-.9 .3 .6 1.3 0 .7-.5 1.5 .9 .4-.6 1.4 .6-.1 0 .8-.2 2.8-.1 .2 .3 .2-.7 2.1 .2-.3 .2 3.3 .3 .4 .5 .1-.7 1.3 .1-.1-.1 .1 .8-1.2-.7-.8 .7-1.2 .1-.6 0-1.1-.3-.7 .3-.9 .3-1.2 0-1.1 .8-1.2-1-.2 .8 0-.1-1.1-.4-2.2 .4-.7 .3-2.2-.3 1 .1-1.9 .4-.7-.5 .3 .6 1.2-.9 .9 .5 2.4 0-.6 .7 2.3-.4-.5 .9 2.7-1.1 .2 .9 0 0 2.5-.3-.5 1.2 2-1.1 .8 .6 .7-.9 .5-.3 2.1 .6 1.3 .4-.1-.3 2.2 0-1.4 .2 1.4 .1 1.2-.2 .1-.3 2.1 1.2 2.2 .2 .6-.1 0 0 1.7 .5-2-.3 .6 .8-.5 .1 0 1-2.8-.3 1.6 .6-1.5 1.4-1.4-.8-.2-.7-1.3-.1-1.5 1.8 0-.1-1.3 .2-.7 .7-1.1 .6-.3 0-.8 .9-.5 .4-2.4-1.3 1.1 .6 .5 .3-.4 .4-1.8 .9 1.1 .5-2.2 0-2.7 .7-.3 .7-2.9 .1 1 .7-1.2 .8-1 .2-1.2 .2 .3 .7 .6 0 2 .6 0 .6 1.1 .5-1.6-.3 5.4 .3 2.3 .4-2.3 .8-.8-.3 5.2 .9 0 .7-.9-.1 2.3 .8-.7-.8 0 0 2.9 0-.7 .3 2.1 1.6 .2-.3 .7-.4 1.7 .2 .5 .4 1.3 0 .6 .2 1 .7 1.6 .4 .4-.6 1.7-.4 .1 1.1 .9-.4 1.5-.2 1.1 1.1 1.5-.2 .6-.4 .9 .4 1.4-.3 .2-.2 1.3 .4-.5 .8 1.4-.4 .1 1.1 2.3-.7 1.3 .4 .5 .1 .2-.1 .4 .7 1.5 .5-1.4-2 .3 1.3-1.5 .6 .2 .5-2.9 .3 0-.6-1.4 1.1 0-.4-2.1 .7 .3-.9 1 .4 1.1 .9 .9-.3 .2 .4 2.1-.2-1 1 1.8-.7 1.5-.6 0 .4 1.4-.5 1.7 1.3 .5-.2 .6-.6-.4 .8 2.2-.8-.7 0 3.1 .7 1.1-.3-.1 .3 1.2 .7 .5 .1 1.6-.3 1.3 .3 .7 0 1.5-.8 .3-.1 .4 .4 2.1-.2 .4 .5 1.2 1-.2 0 1.1-.7 .6-.3 1.3 .6 1.4 .4 .9-.1 .4 .2 1.2 .9 1.2-.8 1.7 1.4-.1-.9-.1 .2 2.5 .9 1.1 0 .8-.3 0-.3 1.9 0 .9 1.1 1.2-1 1.1 0-.3 .6 2.3-.5 1 .8 .2-.5 1.7-.2 .7 1.2 .7-.2 1.2-.3 .5-.8 1.1 .8 .4-.2 2.2 .9-.8 1 1.6-.5 1.7-.8 1 0 1.3 .3-.4-.7 1.2 0 .8 1.2 .8-.8 2.1 .4 .7 .7 .4-.4 1.1 .6 .9-1.5 .4-.2 3.4-.1-.6 .9 1.5-.6-.5 .7 1-.2 .6-.1 .9 1 2.3-.2 1.2 .2-.1-.5 1.6 1.2 .8-.9-.2 0 2.3 .2 .5-.4 1.2 .1 .6-.6 2.1 .7 .3 .2-.4-.2 2.9 .6 .1-1.1-1.8 0 .2 .6-1.3 0-1.6 .6-1.5-.3 .4 .2-2-.8 .9 .5-2.1-.2-.9 .2-.9 0-.9 .4-.7-.3-2.8 .7 .8 .1-1.6-.3-.9-1-.6 .6-1.6-.2 .4 .5-.8 .1-1.7-.2-.9 .7-1.6-.3 0-.1-1.8 .5-.6 .1-.9-1-1.3 2-1.3-1-1.2-.1 .7 0-1.8-.6-.5 .7-.9 0 2.4 0-.6 .6 .9 1.2 .5-.3 2.2 .5 .3-.6 .6 .4 2-.7-.1 .6 .5 .6 1.4 1.2 1.9-.3 1.2-.1 .6-.4-1.1 0 2.6 1.3 .7-.8 .9 .8 2.5-.8-.2 .9 .5 .3-.2-1.5 2.4 .2 .2 1.1-.7-.2-2.3 .4-.2-.3 .2 .4-.1-.2-2.9-.3-.4 .5-.3 0-1.8 .1 0 1-.5-.7-1.6 .4-.5-.5-1.6 .5-2.2 0-.3 .6-.6-.2-.9-.7-1 .8-.7-.6-2.4 .1-.1 .1-.6-.2-.7 .7-1.3 .1-1.6 .1 .1 .3-.5-.2-2.1-.2 .7 .8 1.3-.5 .8-.3 .3 .2 2.2 1.1 .2 0 .2 0 1.5 .1 2.3 .3-.1-1.3 .8 .8 1.9 .4 .4-.9 .5 1 1-.9-.5 .4-.6 0-1.5-.8-2.2 .1 .5-.1 .2 .3-2.7 .7-1.1 .2 .8 1-2.5 .1-.7-.8-1.7 .3 .7 .7-1.8 .9-.9-.8-1.5 .5-.7-.1 .7-.3 1.1 .6-1 .6-1.5 .4 2.5 .1-.1 .4 .2-.1 2.8 .2-.6 .4-1.3 0-1 .8-1.1 .4-.2 0-1.8 .8-.2-.1-.8-.1-1.6 .2 0 .1 .7 1.4 0-.2 .6-.1 2.9 .6 .1 .5 .8-1.3 2 .2 .3 .9 1.4-1.3 .5 .6 1.2-.1-.1 1.2 2.5-.5 .7 .3-.2-.5 .2 .8 2.2-1.1 1.2 .8 .6-.1 .7 .5 1.3-.8 .9 .8 .9 .8 1.7-1.2 0 .6 1.2 .2 .7 .5 .2-.6 1.1 0 1.6 .3 1.8 .1-.5 .1 2.1-.5 1-.3 .5 1.1-.5-.3 2.1 0 1.7 .5 1.4-1.1-.5 .4 1.8 .1-.8-.3 2.8 0 .2 .4 .6 .5 1.8-.3 1.2-.4-.5 .5 2.5 .8 .4-.4 .4-.1 2.6 .7 .5-.5 .6 .4 1.5 .1 .4-.5 0 .7 1.5-.4-1.5 .3-.1 .6 .1-.5-1.8-.6-2 .4-.4 .8-1.2-.9-.7 .3-.7 .2-.9 .4-1.5-.4-.6-.1 .4 .7-1.5-.8-.9 0-1-.5-1.1 .9-2.6 .1-.9 .4 .2-.6 .3-.2-3.1 .9-1.1-.2-.5 .2-.1 .1-1.4-.6-1.1 .2-1.3 0-.4 .9-1.2-.8-.6-.1-.9 .6-1.1 .6-.2-.4-1.7-.7-1.5 .8 2.4-.1 .2 .9-.4 .3 1-.2-1.4 .6 1.8 0 2.3-.7 1.4 .8-1.9 .6 .2 .3-2.5 .4 .3-.3-.8 1.3-.8-.7 .2 .9-2.4-.1 .5 .3-3.1 .6-.8 .3-2.6 .5-.2-.5-3.1 .6 .3 .1-1.9-1.1 3.4 .5 1.2 .4 .5 .6 1.8-.3-.9 .9 2.6-1 .9 .7 .8-.1 1.9 .6-.2 .4 1.5 .8 .2 0 1.3-.2-1.4 .3-1 .4 .1 .4-.7 .7-1.8-.2-.3-1-1.9 .6-.6 .5-.6-.5-.7 .2-1.6 1-1-1-.4 .6-1-.3-.9 1.3 .8 .6 .7 .1-1.4 1 .6-.1-2.7 1.2-3.4 .9-1.1-.6-.1 1.1-.9-1.1 .6 .1-1.7-.1-1.4 .1-.2 .8-2 0-.6-.7-.5 .6-1.4 .8-2 .2-1.8 .4 .8 1 3.6 .2 2.7 .1 .6 .4-.6 .2 .6 .1 3.2 1.5 .3-.2-2.4 .1-.6 .3-1 .4-.6 .4-3.4 .4 .8 .2-.8 .7-.4 .2 1.7 .4-.6-.5 1.5 .9 2.1 .5-.7 .2 1.2 .4 1.8-.4 2.1 1.2-3.3-.8-.3 1-.5-.4-.6 1.7-1.3-1.3-1.1 1.8-.6 0-.4 .2-1 .2-1.5-.2 1.2 .5 1.4 .4 0 1.3 1.1 .1-.2 .6 2.9-.6 .9 .2 .1 0 1-.3 .6 .7 1.9 .2 1.3-.7-.5 .5-2.1 .8-1.7-.4 .8 1.3-1.2 .3-1.3 .4 0-.5-.2-.2-2.3 1.1-1.3 0 .5 0-.6 0-2 .7-1.4-.8-.9 .6-.8 .2-.3 0-1.9 .1-1.3 .1-.5-.2-2-.2 .6 .5-.6 .4-1.8 0 .4-.1-2.5 .3-1.6 .2 .6 .8 .3 .7 .7 .3 .9 1.2 .5-1 1.1 .3 1.9-.1-1.5 1.1 1.3 .9 2.4-1.5 .7 1.5-.7 0 2.1 .2 .3 1.8 1.4-.3 .9-.4 1.4-.2 .8 .8 2.2-1.1-.6 .6 .7 .7 .5-1.1 1.9 2.2 .6-.7 .9-.2 .1 1.5 2.1 .3 .3-.6 1.8-.4-1.3 1.1 .7-.8-1 2.2-.7 .4-.9 .7-.8-.2-1.1-.4-1.8 .4 .5-.7-2 1.8-1.3 .7 1.4 .1-3.2 .8-2.4 .4-.9 .6 2 .4-1.9 .3-1.8 .4 .7 .1-2.4 1.3 1.5-.1-2 .4 .9-.2 1.1 .2-.3 .4 1.1-.1 2.8 1.1 0-.7 .7 0 1.4 .3 0 .4 2.7 .2-1.2 1.6 2.2-.1-.3 0 1.1 1.1 2 0 1.6 0-.4-.5 .8 .9 1.8-.1 1.7 1.2 .3 0 1.2-.7 .8 .8 1-.3-1.6 .1-2.2 1 .6-.2-1.9 .5 .1-.2-2 1.2-.4 .2 .6 .2-2.5 .1 0 .4-2-.9-.6 .2-2.1-.4 .3 .6 .1 .6-2.2 .9-1.7-.8-.6 .1 1.3 .4 1-.3 1.3 .1 1.3 .6 0-.7 1 .8 .9 .5 1.6-.5 .6-.4 1.2 .8 .5-1.2 0 .7 2.7-.5 .6 .7-.5 .1 2.2 1 1-1.1-.7 0-2.4 .7-.2-.3-1.1 .7 1-.9-2.9 1.4-.8-.5-1-.4 0 .5-2.2 .5 .8 .1-1.6-.7-.6 .4-1 1.2-1.3-.3-1.2 .1-.5 .7-.9 .6-.7-.4-.4 .7-1.5 .1-.7 .2 2.6 .5-3 .6-.8 .5 3.1 .2 1.4 1-.2 .5 1.9 .1-1.3 0-2.8 .9-.8 .6-1-.1 .6 .7-.6 .5-1.7 .7-1.2 .3 .2 .4-.5 .9-2.6 .7 .4-.1-1.8 .7 .4 1.1-1 .5-1.5 1.7 .5-1.7 .5 1.2 2-.2 1.5 .7 .3 .2 .7 .7 1.3-.1 1.1 1.2 .3-.1 0 .9 2-.9 1.1 .5 2.8 1.1-4.9-.2 .2 .5-2.6 .1-.1-.2-.8 .9-3.8 .5 1 .6 .1 .3-.5 .9 .1 .8 .1 .1-2.6 .6-3 .6 4.8 1.4-5 0 .7 .9 2.9 1 .3 .4-.6 .7 .1 .4 .8-.3-1.3 .1-1.1 1.2-1.1-.1-.2 1.5-2.1-.8 .6 0-2.1 .8-.3-.7-1.2 .1-1.3 1 1.9 .3 .1 .8 1-.7 1.1-.1 .6 0 1.5-.1 1.9 .7 .1 0 1.8-.8 .2 1 1.5 .1 .7-1 .8-.3-1.1 1.5-1.1 .9 .8 .5-3.5-.3 .4 .3-2.9 0 .8-.3-.9 1.3-.7-.1-.9 .2-.6 .6-1.2 .7-1.5-.4-.5-.3-1.6 1.8 .3 .9-1.6-1.1-.8 .3-1 .6-3.2 .9 1.2-1.3-1.2 .8 2 .9-3.2-.4-2.4 .7 .8 .3-1 .6 1.4 .4-.5 .2-.1 .3 2 .1 1.2 .4 .4 .5-.5 1 3.4-.5 .2 .4 1.1 .1 .4-.3 1.3 .7 .6 .7-5.7 .1 .9 .3-3.7 .4-2-.1 1.5 .4 1.1 .9-1.6-.2 2.4 1.3 1.1 .7-3.6 .5 .2-.6 1 0 .2 .2 2.2 .3 1 1.2 0-.2 .2-.6 1.4 .7 .4 .5 1.3-1.2 2.1 .8 .5-.2 .3-.4 1.1 .2 1.3-1 .4 1.3 1.9 .5-.1-.3 1.7 .1 .8-.5 0 0 1.1 .6 1.5-.5 .1-.4 2 1.2 .9-.1 1.2-.2 .8-.1 1.3 .2-.1 .1 2.1 .3 .4 .1 2-.2-1.4 .5-1.5 0-1.5-.5-.1 .2-.6-.2-3-.4 .4 .6-.9 .1-1.2 .4-.6 .4-.1-.4-1.8-.2-1.4 .1 .1 .9-1.2-.2-1.4-.4-1 .5-.4 .7-.6-1-2 .6-.3 .2-1.6 .8-1.9 .8 1.2 0-2.7 .9-1.1-.3-.1 .3-1.6 .1-1 1.1-.5-.2-1.9 0 1.3 .8 1.8-.3 .8 .3-1.1 .2 2.2 .7 1.7-.1-.9 .4 1.7 .1-1.2 .7 .1-.3-2 .8-1.4 .9-.8-.9 .4-.1-1.8 .7-.4 1-.8-1.3-1.4 1-.4-.6-1.3 .4-1.5 .8-.3-.4-1.5 0-.9-.2 2 .6-3.1 .8-4.2 .3 2.1 2.2-1-2.3 2.7 .4-2 1.9 2.6-.4 .8-.6 1-.7 1.3 1.7 1-.2 0-.5 1.9 0 .6 .1 .7 1.2-.4-1.1 1.1 .5 .5 .1 2.8 1.3-.4-.7 .9 .5-1.5-.4-1.9 .3-.8 .5 .4 .2-2.9 .8 0 .1-1.1-.1-.8 .4-.1-.6-1.3 .5-1.6-.2-.6 0-1.4 .7-.6 .6 .1 .1-3-.4 .6-.1-1.5 1-.1-.8-2.6 .8-.2 .6-.3 0-1.4-.6-.4-.6-1.7 .6 .5 .7 1.1 1.1 .8-.7 1.4 2.1 2-1.9-.5 1 3.5-.2-.9 .3 .8 0 1.1 .5 .5-.2 3.4 .8-2.6 .8-3 .5-.1 .9 2.5 .7 .6 1.5 .2 .7-.3 .4-.6 .2-1.5 .5 .1-.1-.5 .4-2.7 .6-2.2 .7 2.2 .2-1.1 .6 1.8-.3-1.5 .6 1.3 .4 3.6-.3-1.9 .2 2.2 .8 1.4 1 .2 .5-1.8 .2-.1-1.4-2.4 .9 .3 .4-2.5 .2 .2 1.1-.8 .2-1.9 .6 .6 .5-1.6-1.7-.2 .5-1.6 .5-1.1 .6 .8 1.1 2.6 .3 2.6 1-.2 .6-1-1.2-1.2 .8-2.7 .9 .5 .1-1.1 .3-1.5-.5-.6-.4-.4 1-.7-.1-.3 .1-.7 .2-1.6 .1-3.3 1.1-.2 .5-.8 .8-2.6 .5-.6 .7 .3 .5 .2 .4 .2 .1 .3 .4-1.3 .8 0-.3-1.2 .7 1.6 .1-1.3 .6-4 .5-.2 .9 1.9 .1 1 .6 .6-1.2 1.5 .6 2.1-.1 .3 1.8 .2 .3 2.3 .6 1-1.3 4.1 .6-1.7-.4 1.4 .4-3.8 .8 4.9-.4-.6 1.3-3.8 .1 .6-.1 .6 1.2 2.4 .8 1.4 1.1 1.8 .6-3.6 .2-.1 1.1-.7-.6-1 1.1-1.2-1-.6 .3-.7 .4-2.2 .5-.2 .3 .1-.3-.7-.5 2 .8 .4-.4 1.9 .7 1.5 1-.7-.2 1-.8 1.1 .2 .8 .3 .7 .8 1.5-.1 1.7-.1-1.3 .2 2.7-.1 .5 .8 1.1 .5 1.2-.8 .7 .1 .3 1 1.1 .9 .9-.2 1-.4 1.1 .3 1.1-.3 1.5 1.5 .1-.4 1.8 0-.1-.2 .6 0 3 .6-1.5-.3-1.9 .9-.2-.9-1.7 .9-.6 .4-2.5-.6 .3 .6-1.4-.3-.4 1.1-1.7 .5 1.7 .5 1 1.2 3.9 .5-2.4 .5-.7 1.2-1.1-.4-1.2 1-.2 .3-1.6-.4-1.1-1.6-.6 1.8-1.5-.2-.5 .1 0 0 1.9 .5-1.2 .9-1.7-.2-.5-.1-2.7 1.1-1.6 0-.6 .9-2.6 0 .9 .2-2 .4-1 .6 1.2 .7-3.6 .1-.4-.1 .6 1.9-1.6-.7 1.1 .8-2.3 .9-1.2 0-.1 .6-2.3 .1 .4 .5-1.2-.8-.6 .8-1.1 .3-2.4-.3 .1 .1 .1 .2-.6-.1-1.3 0-.7 .8-1.7-1-1.3 1 .2 .6-1.2 .1-2.1 1 .2-.8-1.3 0-.1 .6-2.3 .4-.5 .5-1.4-.2-1.3-.3 .1 1.7-.7 .4-1.3-.5-.8 .8-1.4 0-.5 .8-.1-.3 3.1-.3 0 .3-.1 .8 2.9-.1-.8 .4 1.8 .1-.5-.4 2.8-.2 .9 1.1 .1 .2 .9 .3 1.7-.6 1.1 .3 .3 .3 1.7 0 .1-.1 1.6 .2-.6 .4 2.3-.5-.7-.4 1.2 1 1.7-.3 1.6-.1 .5 .4 1 .5-.6-.1 2.2 .8 1 0 .9 .6 0 .2 1.7-.4 1.1-.5 .6 .1 2 .2 1.4-.6 .4 1.1 1.3-.4 .8-.6 .3 1.2 2.6 1.1 1.4-.3-.7-.7 .7 0 1.8 1.5 .3 .2 2.2-.2-1.2 .8-1.4-1.6-.6 .5-1.7 .9-1.5-.1-.3 .2-.5 .4-1.3 0-1.1 .1-1.2-1.2-1.6 .8 .7 .6-1.5 .1-.6 .2-.3 .1-2.4-.2-.3-.2-.4 0-.9 1.2-2.3 .1-1-.2 2.8-.2-3.3 .5-1.3 .7-.3 .6-.5 .5 0 .1-2.5 1.2-.9 .1 1.5-.6-.1-.5 1.6 .2 .3 .5 1-.1 .9-.3 1-.3 1.7 .6 1.3 .9-.2-.4 1.1 .1 1.6 .8-.3-.1 2.7 .1 .5 .7-.7-.7 2.9 0 .8 .4 .3-1.1 1 .4 1.5 .9 .3-.1-.4-.5 3.4 1.4 0-.7 1 .1 .6-.7 .8-1.1 .8 1.9-.5 .1 .2-.4-1.2 .4-2.9 1 0 .4-1.8-.4-1.1-.2 .6 .5-1.3 .9-.3-.5-1.6 .5-.7 .1-.9 .1-.9-.7-.5 1.7-2-.4 2.9-.1 1.6 .8-1.8-.6 2.3 1.2-.2-.3 1.3 1.1 .4-.9 1.4 .9-.7-.2 2.1 .3-1.2-.6 .3 1.1-1.2-.6-2.7 .3 .6 0-1.4 0-.3 .2-.9 1.1 .3 .8-3.1-1.2-.3 .6 .1 .1-1.8 1.6-.4-1-3.8 .8-1 .7 4.3 .8-1.4 1-1.9 .2 .7 .1 .4-.5 1.6 .2 1.8 .5-.1 .4 1.6 .2 .2 1.1 1 .6 1.7 .7 2-.1-.4 .1 1.3 .2-.9-.4 2.9 .4 .1 .4 .1 .3 2.7 1.1 .4-.9 1.4 .5-2.2 .4 1.8 .5-1.4 .6-.8 .5-4.1-.1 1 .3-2.4 .6 0 .2-2.4 0 1.3 .7-2.3 .6-1 .3 2.4 .4-1.9 .2-3.1 .7 3.5 .4-3.3 .5-1.5 .3 .6 .8-1.4 .4-.9 .7 1.4 .7-2 .7 .1 .6 3.4 1.1-1.6 .3-1.7 .4 .7 .1-1.3-.1-1.5 2 .1-.9-3.2-.3 .8 .9-2.8-.5 .5 .2-1.9 0-.1 1-.6-1.2-.5 .9-.7 0-2 0-.8 1.6-1.2-.5-.9-.2-.5 1.1-.6-.7-.6 .8-1.4-.5-1.7 .6 1.4 .2 .5 .5 .8 1 1.5 .1 .1-.1 .8 .6 2.2-.8 .6 1.5 2.8-.1 .5 .7-.8-.6 2 .7 1-.2 0-.1 2.6 .9-.1-1 .5 .4 1.5 .1 .9 1-.2 0-.9 .4 1.6-.6-2.9 .8-1.2 .1-.5-.5-1.6 .4 .2-.9-3.1 1.1 1.8 .2-2-.4-.3 .7-1.4-.3-.4-.1-1.5 .5-1.7 0-1.1-.5-.7 .5 .6 .6-1.7 1.8 .5-.8-2.8 .5-.3-.4 2.6 .5-.7 .8 2.6 .1 1.2-.9 0 1.1 1.2-.5-.1 .2 .9 .3 1.1 .4 .4 .4 1.4-.2 .7 1.3 2.3-.5 2.1-.4-1-.8 1.4 1.3 0-.7 .6 .2 1.4 0 2.2 .5-.2-.3 1.4 1 .9-.1 .9-.3 1.8 .7 1 0-.7 0 1.6 .3 1.1 1.3 .2-.7 1 .5 .4-.1 2.1 .3 0 .3 .3 0-1.8 .8-.3-.9-1.6 1 0-.6-1.8-.6 .5 .3-1.9 .6-.8 .8-1.5-.8-.1 1.2-1.1-1.7-1.8 1-1.2 .5 .3-.1-2.2 .1-.9 1-1 .5-1-1.6-1.3 .7 .7 .1-.9 .3-1.4-.5 .9 1 .8 .2 .1 .2 2.3 .6-.2 .4 .7-.6 1.7 .5 .3 .5 .9 .5 2.4 .2 .2 .1-.9 .5-1.2 .1-.5 .8 .2-.2 .3-.2-3.5 1.2 1 .2-3.3-.2 .4 .6-1.1 0-1.3-.1-.4 0-.8 .3-1.8 0-1.4-.3-.3 .8-.4-.2-.9 1.2-1.5-.1-1.1 0-1.2 .1-.2-.4-1.9 .1 .7 .6-1.6 .1-1.8 .3 .5-.5-.8 .7-.9 .1-3-.2 1.2 .5-2.7-.1-.3 .5 .4 .8-2.8 .2-1.1-.7 1.4 .8 .4-.3 2 .3 .7 .7 2.8-.2 .1-.2-1.1 .2 1.4 .4 .6 .5 .7 .2 3.2 .3-3.3 0 4.9 .7-5.1 .2 1.9 .3-.7 .3 .5-.1-1.3 2-3.9-.3-1.6 .2-1.5 0-2.9-.2 .7 .6-.7-.6-.1 .3-1.7-1.4-1.1 1-.7 .3-.8-.2-1.1 .6-2.2-.3-.2 .4-1.1-.3-.7-.3-1.3 .2 0 .4-1.7 .7 .1-.7-1.7 .3 0 1-2.4-.3-1.6-.3-.5-.1 1.6 .3 .1-.4 .9-.5 2 1 .4-.7 2 .2 .2 1.1 1-.7 .6 1.2 2-1.4 .5 .5 .2-1 1 1.2 2 .9 .3 0 1.8-.3 .9-.5-.6 .2-1.5 .9-.6 1.2-1-.9-.9 .1-.8-.5-.9 .5-1 .1 .3-.4-2.7 1.9 .9-.9-3.2-.5-.4 .4-.3 .2-1.2 .1-.1 0-1.5 .3-.3 .5-2.8-.7 .1 .2-.1-.2 1.7 .4-.2-.4 1.7-.2 .6 1 .8-.1 .7 0-.6 .1 3.2-.4-1 .8 2.1-.2 1 .3 1-.2 1.1 0 .9 1.4 1-1.9 .9 .5 1.5 .6 .2-2.2 1.5 1.7 .9 .8 .2-.8 1.6 .3 .2 0 1.1 .6 .4 .5 1.6 .1 .8-.1 1-.6 1.6 .8 1.2 .2 1 .3-.8-.2 2.4 .6-2.3 .3 2.1 .4 .4-.9 1.2 1 1.3 .1 1.9 .2 1.5-.3 .6 0 .4 .5 .9-.7 1 1.4 .5-.3 2.5 .2 1.2-.7-.3 .6 1.4-.4 .8 .1 1.1 .3 .9-.7-2.2 .1 .3 1.3-1.3-.2-1.3 .6-.8 .2 .2-.5-2.6 .7 .7-.3-2.6 .3-1.3 .5 .7-.4-2 .6-.5-.1-.3 .9-2.1-.5 0 .6-1 0 .8 .6-.6 .3 2.4 .7 1 0 .3 .8-.7 .4 1.4 .6 1.9-.4-2.7 1.3 .3 .1 6.7 .5 .9 .8-1.1 .3-1.2 .4 1.9 .9-.4-.2 2 .4 3.1 .4-.9 .1 0 .5 .1 0 4.7-.2-1.1 0 .9 1.2 .8 .5 1.3 0 1.8-.1-1 .5 2.3 0-.1 .6 2.5 1.2-.6-.9 .7 .4 0 .4-.4 .1-2 .5 1.7 .7-1.7-.2-1.1 .6-1.4 .1-.7 .6-1.5 .3-1.3 .5 1.3-.1 0 .4 .9 .4-.1 .4 4.2 .1-.1-.7 3.4 .7-2.3 .3-1 0-1.3 .3-1.6-1.1 .1 1.1-1.2-1.2-.8 1.2-1 1.1-1.8-.9-.5-.6-.4 .6-.9 .1-2.3 .3 .8-.4-2.4 1.1-1.4-1 1-.3-2.5 .3-.9 .7-.4-.5-.2-.6-1.8 1.6-1.9-.2-1-.2 1.3 .7 2 0 1.2-.5-.9 .5 2.5 .5 .3-.7 1.1 .5 1.1 .1 .5-.4 1.9 .6 .7-.8 .2 .7 .7-.7 3 .2-1.2 .5 2.5 0 .6 .3 1.4-1.7-.4 .7 1.5 .2 1.9-.2 0 .4 1.1 .3 .7-.3 .9 .5-.1 0 2.8 .7-.7 .2 2.4-.6-.2-.1 2 .8 .8 .2 .6-.2 1.2-.6 1.5 .8 .2 .9 .3-1.4 1.4 1.4-.3 .4 4.1-.5-2.5-.8-.8 .3-.1 .9-2 0-.4-.2-.9 1.2-.3-1-2.4 .7-1-.9-.2 .8-1.3 .7-.8 .2-.5-.1-.2-.5-1 0-1.6 1-1.2 0 .1 1.1-2.1-1.1-.5 .7-.5 .3-.6 .2-1.2 .1-2.7 1.7 .2-.5-.6-.3-.6-.3-1.2 1.4-1.2-.1-.8 .8-1.2-.6-1 .1-.5-.2-.8-.4-1.7 .4 1.6-.4 0 1 1.8 .1 .7 .2 .6-.9 .7 .4 2 1.1 1.3-.3-.8 0 .4 .4 1.9 .2 2.2-.1 .5-.3 .6 .9 1.4-.1 1.5-.2-.7 .4 2.4 .7 0-.2 1.2-.3 .8 .4 1.3-1.5 1.5 1.1-1.9 .8 .5-.2 3.3 .8 0 .2 1.4 1.3 .8 0 1.3 .4 .7-.8 0 .4-1.2 1.2-1.7 0-.9-1.3 .2 1.5-1.2 .7-1.2 .3-.6 1.1-2.2-1.2-1 0-1 .6-.3-.8-.6 .2-.3 .3 2.1 1-.8 .3-1.6 1.1 3 2-2.2-.3-1.3-.5-.7 .6-1.5-.7-.8 .5 .8 .6-1.9 .2-2-.3 1.1 .3-1.9-.7-1.4 .7-.7 .1-.1 0-.6 .2-2.6 .7 .7 .1-2.7-.3 .2-.2-3.2 .8 .8 .6-1.7-.1-.7-1.2-1 1.4-.8-1.2 .4 .7-3.2 .3 .6 .9-5.7-.1 4 .4-1.5 .4 1.1 1-.2-.1-.2 .2-.9 .5-2.8-.1-2 1.2-.8 1.2-.3-1.5-.6 .7-.9-1.1-1.3 1.2-1.2-.3-1 .2-.3-.4-1.6 1-1.1 .3-1.9 .1 2.2-.9-2.8 .9-2.4 .1 1.8 .2-3 .5 .9 .4 0 .3-1.9 .5-1 0-1 .9 2.1-1.3-1.4 .6 3.3-.3-.4 .4 2.4-.3 .2 .4 .1 .1 2.4 .6-.3-.4 1.1 1 1.5-.3-.7-1.2 3 1.2 .5 0 .3 .9 .9-.2 1.4 .6 1.1 .2 .7-.6 .6 .5 1.3-.1 .7 .2-.5-.5-1.2 .2-2 1.1-.2 .1-.9-.3-1 .4-.5-.1-.7 .7-1.1-1.1-1.8 .1 .3 .4-2 .7-.7-.3-1.2 .5-.5-.8-1.1 .6 .4-.1-2.1 .8 2.7 1-.2-.1 2 .1-.5 .6 .7-.1 1.8 1 1.7 .7-1.4 .2-1.7-.6 .2 .4-.4 .2-3.2-.6 1.1 .3-1.2 .3-1 .8-3.1-.2 .8-.5-1.1 .5-.6 .4-1.1-.2-2 1.3 .6-.3-1.2-.3-.9 .6-.9-1.1-1.1 .8-1.4 .7-.2-.8-.4-.3-2.3 1-.6 .1-.3-.5-2.1 .1-.7 .3-.8-.2 .3 .5-1.5-.1-1.9 .4-.5 .7-1.7-.7 0 .6-1.2 0-.5 .6 3.6 0-2 .3 2.6-.4-2.8 .7 1 .2 3.6 .5-4.1 .4 2.5 0 3.8 .1 1.3 .4 1.2-.4 .6 .8-.5-.2 1.4-.6 .5 .7 2.1 .4 1.3 .1-.4-.4 1.8 .2 1 .3 .9-.6-.1 0 3.1 .3-1.7 .9 2.5 .2 .6-.5 1.3-.8 .2 1 1.6 1 1.2-1.3-.2 1.6 2 .1 .6 .8 .6 .4 1.5-.1 2.4-.1-1.6 1 1.4 .8 .7-.3-1.3-.2-.4-.4-1.7 .9-.5 .8-.3 .2-.5 0-1.6-.1-1.1 .4-.3-.1-1.1 .4-2 .1-.7-.7 .1 1.6-.9-.5-2.6-.5-1.8 .3 1.6-.5-.4-.1-1.7 .6-.2 0-.8-.6 2.9 1-1.4 .8 2.9-.3-.4 .4 2-.3-1.1 .5 3 .3 .4-1 1.8 .6 1.3-.6-1.1 .3 2 1 1.1-.1 1.3 0 .1-.3 1.6-.5-.4 1.1 2.5-.5 .5 0 1.4 .7 1 .7 1.3-.5-.2 .1 .2-.8 1 .8 2.3 0 .2-.3 .8 1-.5-.1-1.1 .1-.8 .2-.9 0-.9 0-1.3-.2-.5 0-1.9 .3 .4-.3-1.5 1.3-1.6-.3 .6-.7-2.1-.1-.7 .4 .3 .3-2.1 .7 .2 .4-.5-.1 1.6 1.1 1-2.2 .3 .9 1.6-.5 1.1 .7 .7-.1 .8 .4 .4 .5 1.9 0 .2 .4 1.1 .6 1 .4 .6-1.5 .8-.3 .6 .9 2.4-.2 1.4-.5-1.6 .8 2.5-.5 1.6 .5 .3 .3 1.2 .2 1.1 .6-.4-.7 2.8-.2-1.4 .4 .5 .3-1.2-.7-.5 .9-.8 .4-1.2 .3-.1 1.1-3.1-.2 .7 .1-1.8 .5-.3-.3-1.7 1.1-.6-1-1.2 .6-.3-.2 .8 .3-2.7 1-1.3-.2-.8 .8-1.6 0-.1-.1-.2 .2-.5 .5 1.1 .5-1.9 .5 4.2 .1 .4 .8 1.1 .9 .4 .3-1.9 .3 .8 .6-1.1-.1 .1 .7-2.2 0-2.8 1.3-1.6-1.6 0 .9-1.7 .7 0-.3-1.5 1.2-.3-.7-1.2 .3-.1 0-2.5 .2-.7-.2-.9-.1-.8 1.5-.6 .5-1.7 .2 .6 0-3.3 .4 .5 1.1 3 1.2 .7 .7 .1 .4-2.2 1.5 1.8 .7 .5 .5-4 .1 3 1 .3 .6 2.8 .4 .6 .1 .6 .9 .8 .1-1.8-1-1 .4-.9 1.2-.5 0-.5 .3-2.3-.4 1.4 1.1-1.7-.1-1.9 .4 .4-.5 .3 .7-.7 .1-.6 .4-.8 .2-2.2 0 .5 .3 .2 .6-.7 1.5-4.8 0 1.4-.9 1.4 .2-.6 .3 1.6-.3 .5 .8 2.1-.3 .8 .7 1.3-.2 0 2.2 1.5-1.2 0-1.7 2 2.5-.3-.5 2.2-.2 .6 .4 .7-.3 1.3 .5 1 .1 1 1.3 1.5-.1 .5-1.3 1.4 .9-.7 .2-2.5-.1-.1 .4-1.1-.8-1.9 .8 .3-.2-1.1 1.1-1.8-.1-1.2-.1-.5-.4-1.7 1.2 .2 .3-.7 1 0-.2-2 .3-.7 .5-1.2 .6-2.4 .5 1.5 .4-3.4 0 1.9 .9-2.7 .4 1.2 .3-.5 .5-2.7 .6-.1-1.3 .6 1.3 1.9 .3 .5 .6 1.3-.9 .8 .6 .7-.1 .8 .1 1.7-.8-1.1 .9 1.3 .7 1.8 0 .9 .1 .9 .3 .8-.9 .7 1 .1 .4-1 .3 1.3 .3-3.2 .7 1.9 .2-3.1 .5-.5 .1-1.2 .6-1 0 .6 .4-2.5 .2 1.2 .4 .7 0-2.5 .6 .8 .4-4.3 .8-1.4 .3 .1-.7-.5 1.5-1.4 .4 .3-.3-1.6-.3-1.5 .7 1.7 .1 .6 .5-.1 .1 1.7-.1 .6 .7 1.8 .8 .5 .1 .7-.1-.2 .8 1.2 1.4 2.4-2.1 1.1 1.1 .6-.3 1.1 1-.4-.2 1.1 .8 1.5-1.4 .8 0 1.9 .5 .1 .4 1.7-.6 .6 .9 1.8 .7-.1-.1 1-1 1.3 .1 1.2 .2 .1-.1 .6 1.4 1.6-1 1.2 .3 2.7 0-.2-.3 .3-.6 1.3 1.7 .9-.5 .8 .2 1.2 .2 1.5 .4-.2 .1 2.3-.2 .6 .2 0 .3 2.3 1-.8 .5 1.8 0-.4 .9 .8 .1 1.2 .4 3.2-.9 .1 .9 .2 .6 1.8 .7-1.3-.7 2.2 .2 .5-.7 2 .4 1.4-.7-1.1 .9 2.1-.5 1.4 .3 1.3-.1-.5 0 2.6-1-.2 1.5 1.1-.7 .9 1.2 .9-.8-.8 1.1 2.9 .2 .5-.8 1.3-.4 1 .4 1 .8-.4-.2 .7 0-2.2 .4-.3 .7-1.1 .4-1.3-1.3-1.3 1-.1-.5-.9-.3-.8 .1-.8 1.3-.9-.9-2.2 1.5-1 0-1.2 .1-1.2 0 .9-.3-2.7 .4 1.6 .1 .8 .6 .5 .5 1.2 .2 2.1 1.1 2-.2-4.5 1-1.6 .1 1.8 .4-2.6 .1-.9 .7 .3-.1 0 1.4-.5 .2-1.7 .8-1.2 .6-.6 .3 .1 .1 1.4 .4-.6 0 .3 .1 1.3 .3 2.1 .3 .2-.8 1.9 .3 .8 .5 .4 .1 .6-.1 1.7-.5 .6 .8 .3 .5 1.7-.4 1.4 1 .8-.6 1.8 1.4-.4-.5 1.2 .1 1.3 1.1-.2-.7 .6 1 1.6-.2 2.7 .5 .3-.9-.6 .4 1.4 1 2.5-.8-.8 .8-3.3-.2 .4 .3 0 .8-2.9 .9-.2-1.1-.6 .9-1.6-1.1-.8-.1-.9-.2-.6 .6-1.1 1-1-.4-.9 .1-.5-1.4-1.6 .9-2.1 1 .1 0 .2-1-1.9 .1-1.8 1.3 .7 0-1.8-.3-.9-.5-.1 .6-1.8 1.1-.5 .2 .2-.2-2.2-.4-.6 .8-1.5-.1-1 1.6-1.3-1 2.4 .8 .2 .2 3.3 .2-3.8 .5 3 1-2.4-.3 1.4 .6 .1-.2-2.6 1.2-.7 0 .5 .1-1.4 1.8-.5-1.5-1.1 .8-2.6-1 1 1.6-1.8 .6 2.1 .3 .9 .4-.3 .6 3.1 .1-2.8-.7 1.7 .9 1.6 .9-.9 0 2.7-.3 .8 1 .3-1.4 .3-.3 1.3 .4 1-.1 .1 1.1 1.7-.2 .6-.4 .7 1.5 .8-.7 1.5 .9 1-.7-2.1-.2 0 .9 .1 .2-1.5-1.3-.7 1.6-.6-.7-1.7 1.7-1.3-1.7-.5 .4-.7 .4-.2 .4-2-.5-1.5 .2-.7 .4-1.2 .2-1.3 .4 .1 .1-.3 1.1-2.6-1.3 .8 1.4-1.3-.7-2.5 .7 1.3 .1 1.3-.3 2 .2-1.2 .6 2.8 .5 1.1-.6 .1 .5 1.9 .4 .5-.3 1.6 .4-.2-.4 1.4-.8-.6 1.6-.7 .7-1.3-.5-1.6 .5-.4 .4-.1 .7-1.6-.1-1.6 .9-1.2 .1 .4 .1-.6 .5-.1 0-2.7 .5-.5 .2 1.6 .3-.9 .8-4.7 0-.1 .5 2-.3-.3 .2 2-.1 .6-.2 .3 0 2.1-.1 1.6 1.5-.5 .7 .4-1.5 1.5 .8 .3 .2 2.5 .3-.4-.7 1.1-.1 2.4-.5 .7 1.2 .6-.3 .5 .4 .5-.8 2.2-.6 1.2 .9 0-.1 1 .5 1.4 .1 .8 .5 1-1.1 0 1 1.7-.4 1.2-.1 0-1.3-.4 1.4 3.2 .5 1 .7-.2 1.7-4.2-1.5-.1 .8-1.1 1.1-1.8-.7-.2 .3-.6-.1-2.3 1.1-.5-.8 0-.1-2 .5-1.8-.5 .1 0-.4 1.2-2.1-.5 .6 .5-2.2-.2-.3-.5-1.4 .9-.3-.4-.9 .6-1.8-.9-1.2 1.4-.8 .3 .1-.3-1.6-.2-1.2 .7-.2 0-1.3 0-2 .9 .1-.3-1.5-.1-.2 .6-.8-1.2-.7 1.3-1.2-.3-1.7 .6-.8 .1-.4-.2-.8 .1-.3-.5-2.6 1-.8-.4 .8 1.7-2-.2-2.4-.4-.7 0 1 1-1.8-1 .1 .7-1.6 .3-.3 .1-1.9 .2-.7-.4-1.5 .2-.2 1.4-1.4 .2-.6-.6-1.1 1.2-.9-.9-.5-.2-1.2 .1-1.5 1.6-.6-.4-.4 .5-2.1-.2 1.1 1 .3 .1 2.4 .3 2.8-.2-.8 1-.6-.1 4.8 .6 2.1 .1-1.4 .5 2.4 .7 0 .4 3.8-.1-.3 .7-.8 .4 3.9-.2-3.7 1.3-.2-.9-.9 .5 .6 0-1.4 .9-1.3-.5-.8 .8-1.9 .4-.5-.9-.8 .5-1.2 .7-1.3-.5 .4 .3-2 .9 0 .1-1.3-.3-.9 0 .3 .4-2.2 .1-.8 1.3-.3 .2-2.4 .1-.9 .7-.2-.8-1 .9-1.9 .2 .4 .4-.9 .2 2 .4-1 .9 .9-.4 4.6 1.1-.9 .4 1 .5 0 .3-.2 .4-.2 .2 .6 .4 1.8 .2 1.9-.1 1.6 .7-2 .4-.9 .3-.1-1.2-.7 1-.1-.4-2.5 .9 .3 .3-2.2 0 .3-.3-.9 .5-1.3 .7-.1 .6-1.1-.3-1.4 0-1-.1-.5 .3-2.2 .5-1.5 .3 .3-.3-.8 .1-.9 .6-1.3-.6-.6 1.1-1.5-.5 .2 .1-1.8 .8-.9 .5-1.8 .8 1.3-.2-3.1 .6 .4 .2-1.8 .4-1.5 0-.4-.3 .5 .1-2.7 .1-.4 1 2.9 .2 2.3 .3-3.5 .6 .7 .6 2.2 .2-.9 0 1.3-.2 1.4 .7 .3-1.1 2.7 .7-.2 1.1 1.2-.9 .4 .1 1.1 .7 1.4 .4 .5-.4 1.3 .2-.5 .4 2.4-.2 .3 .8 1.1 .7 1.1-.9 2.1 .7-.2 .3 .2 .3 2.1 .8 .6-.5-.1 .3-1.2 .2 .6 .7-2.3 .3 .3 .1-3.2 .2-1.1 .6 2.5 .1-1.6 .4-.8-.3-.7 0-1.3 1-.4 .6-1.8-.1-1.4 .2-.4-.5-1.1 0-1.4 .9-.4 .5-1.9-.2-1.2 1 3 .2 1.9 .2 1 1.7-.8-.9-.9 1.2-1.2-1.2-.2 .3-1.8 .1 .4 .5-2.1-.2-1.4-.4 .6 .8-1.9 .3-.6-1.3-1.9 1.5-.1-.8-.2-.3-2.9 1.1 .2-.4-1 .8-.8 .8-1.2-.9-.7 .2-1.2-.6-1.8 .5-.6-.6-1.1 1.2-.7-.5-1-.2-.4 .3-1.7 .1-.3 .6-.9-.4-.4 .3-2.7 1 .4 .4-.2 .5-1.9-.8 .7 .8-.6 .5-1.6-.1 .6 .8-2.1-.3 0 .7-3 0 .9 .1 .9 .1 1 0 .9 .1 1 .1 .9 .1 .9 0 1 .1 .9 .1 .9 0 1 .1 .9 .1 .9 .1 1 0 .9 .1 1 0 .9 0 1 .1 .9 0 1 0 .9 0 1 .1 .9 0 1 0 1 0 .9 .1 1 0 .9 0 1 0 .9 0 1 .1 .9 0 1 0 1 0 .9 .1 1 0 .9 0 1 0 .9 0 1 .1 .9 0 1 0 .9 0 1 .1 1 0 .9 0 1 0 .9 0 1 .1 .9 0 1 0 .9 0 1 .1 1 0 .9 0 1 0 .9 0 1 .1 .9 0 .9 0 1 0 .9 0 1 .1 .9 0 .9 0 1 0 .9 0 1 .1 .9 0 1 0 .9 0 .9 0 1 0 .9 .1 1 0 .9 0 .9 0 1 0 .9 .1 1 0 .9 0 .9 0 1 0 .9 .1 1 0 .9 0 .9 0 1 0 .9 0 1 .1 .9 0 .9 0 1 0 .9 0 1 .1 .9 0 .9 0 1 0 .9 0 1 .1 .9 0 .9 0 1 0 .9 0 1 0 .9 .1 .9 0 1 0 .9 0 1 .1 .9 0 1 0 .9 0 .9 0 1 .1 .9 0 1 0 .9 0 1 0 .9 .1 .9 0 1 0 .9 0 1 0 .9 .1 1 0 .9 0 .9 0 1 .1 .9 0 1 0 .9 0 1 0 .9 .1 .9 0 1 0 .9 0 1 0 .9 .1 1 0 .9 0 .9 0 1 0 .9 .1 1 0 .9 0 1 0 .9 0 .9 .1 1 0 .9 0 1 .1 1 0 .9 0 1 0 .9 .1 1 0 1 0 .9 .1 1 0 .9 0 1 0 1 .1 .9 0 1 0 .9 .1 1 0 1 0 .9 0 1 .1 .9 0 1 0 1 .1 .9"/>
<text class="t" x="964.5" y="1804.8">UTILITIES</text>
<path d="M1217.2 2033.8H1271" stroke="#0000ff" stroke-width="4.2" stroke-linecap="round" fill="none"/>
<text class="lg" x="1289" y="2043.8">(15.1)</text>
<text class="d" x="1644.6" y="1922.6" textLength="51.6" lengthAdjust="spacingAndGlyphs">3/24</text>
<text class="yd" x="1568.4" y="2051.6" textLength="144.8" lengthAdjust="spacingAndGlyphs">yardeni.com</text>
</g>
<text class="ft" x="107.3" y="2161.8">* Daily stock price index divided by 52-week forward consensus expected operating earnings per share.</text>
<text class="ft" x="119.6" y="2197.5">Source: I/B/E/S data by Refinitiv and Standard &amp; Poor’s Corporation.</text>
</svg></body></html>
